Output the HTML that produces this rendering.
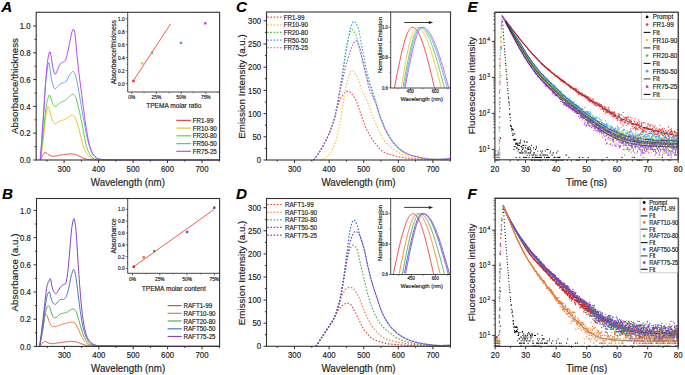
<!DOCTYPE html>
<html><head><meta charset="utf-8"><style>html,body{margin:0;padding:0;background:#fff;width:685px;height:375px;overflow:hidden}svg{display:block}text{font-family:"Liberation Sans",sans-serif;stroke:#222;stroke-width:0.16px;paint-order:stroke}</style></head>
<body><svg width="685" height="375" viewBox="0 0 685 375" font-family="Liberation Sans, sans-serif"><path d="M40.3,160 41,158.5 41.7,157.1 42.4,155.8 43.1,154.7 43.8,153.5 44.5,152.5 45.2,152.2 45.9,152.6 46.7,153.1 47.4,153.7 48.1,154.4 48.8,155 49.5,155.5 50.2,155.7 50.9,155.9 51.6,156.1 52.3,156.2 53,156.2 53.7,156.2 54.4,156.2 55.1,156.1 55.8,156 56.5,155.8 57.2,155.7 57.9,155.6 58.6,155.5 59.3,155.3 60,155.2 60.7,155.1 61.4,154.9 62.1,154.8 62.8,154.7 63.5,154.6 64.2,154.5 64.9,154.4 65.6,154.3 66.3,154.2 67,154.2 67.7,154.1 68.4,154 69.1,154 69.8,153.9 70.5,153.9 71.2,153.8 71.9,153.9 72.6,153.9 73.3,154 74,154.2 74.7,154.3 75.4,154.5 76.1,154.7 76.8,155 77.5,155.3 78.2,155.6 78.9,155.9 79.6,156.3 80.3,156.7 81,157 81.7,157.4 82.4,157.7 83.1,158 83.8,158.4 84.5,158.6 85.2,158.9 85.9,159 86.6,159.2 87.3,159.3 88,159.4 88.8,159.5 89.5,159.6 90.2,159.7 90.9,159.7 91.6,159.7 92.3,159.8 93,159.8 93.7,159.8 94.4,159.8 95.1,159.8 95.8,159.8 96.5,159.9 97.2,159.9 97.9,159.9 98.6,159.9 99.3,159.9 100,159.9 100.7,159.9 101.4,159.9 102.1,159.9 102.8,159.9 103.5,159.9 104.2,159.9 104.9,159.9 105.6,159.9 106.3,159.9 107,159.9 107.7,159.9 108.4,159.9 109.1,159.9 109.8,159.9 110.5,159.9 111.2,159.9 111.9,159.9 112.6,159.9 113.3,159.9 114,159.9 114.7,159.9 115.4,159.9 116.1,159.9 116.8,159.9 117.5,159.9 118.2,160 118.9,160 119.6,160 120.3,160 121,160 121.7,160 122.4,160 123.1,160 123.8,160 124.5,160 125.2,160 125.9,160 126.6,160 127.3,160 128,160 128.7,160 129.4,160 130.1,160 130.8,160 131.6,160 132.3,160 133,160 133.7,160 134.4,160 135.1,160 135.8,160 136.5,160 137.2,160 137.9,160 138.6,160 139.3,160 140,160 140.7,160 141.4,160 142.1,160 142.8,160 143.5,160 144.2,160 144.9,160 145.6,160 146.3,160 147,160 147.7,160 148.4,160 149.1,160 149.8,160 150.5,160 151.2,160 151.9,160 152.6,160 153.3,160 154,160 154.7,160 155.4,160 156.1,160 156.8,160 157.5,160 158.2,160 158.9,160 159.6,160 160.3,160 161,160 161.7,160 162.4,160 163.1,160 163.8,160 164.5,160 165.2,160 165.9,160 166.6,160 167.3,160 168,160 168.7,160 169.4,160 170.1,160 170.8,160 171.5,160 172.2,160 172.9,160 173.6,160 174.4,160 175.1,160 175.8,160 176.5,160 177.2,160 177.9,160 178.6,160 179.3,160 180,160 180.7,160 181.4,160 182.1,160 182.8,160 183.5,160 184.2,160 184.9,160 185.6,160 186.3,160 187,160 187.7,160 188.4,160 189.1,160 189.8,160 190.5,160 191.2,160 191.9,160 192.6,160 193.3,160 194,160 194.7,160 195.4,160 196.1,160 196.8,160 197.5,160 198.2,160 198.9,160 199.6,160 200.3,160 201,160 201.7,160 202.4,160 203.1,160 203.8,160 204.5,160 205.2,160 205.9,160 206.6,160 207.3,160 208,160 208.7,160 209.4,160 210.1,160 210.8,160 211.5,160 212.2,160 212.9,160 213.6,160 214.3,160 215,160 215.7,160 216.4,160 217.2,160 217.9,160 218.6,160 219.3,160" fill="none" stroke="#ef4444" stroke-width="1.0" stroke-linejoin="round"/><path d="M40.3,160 41,155.9 41.7,151.3 42.4,146.3 43.1,140.9 43.8,134.9 44.5,127.6 45.2,120.5 45.9,115.2 46.7,110.8 47.4,107.4 48.1,106.4 48.8,107.7 49.5,109.9 50.2,112.3 50.9,115.4 51.6,118.4 52.3,120.2 53,121.5 53.7,122.7 54.4,123.5 55.1,123.8 55.8,123.7 56.5,123.2 57.2,122.6 57.9,122 58.6,121.6 59.3,121.3 60,121 60.7,120.7 61.4,120.5 62.1,120.3 62.8,120.1 63.5,120 64.2,119.8 64.9,119.5 65.6,119.1 66.3,118.6 67,118.2 67.7,117.7 68.4,117.2 69.1,116.6 69.8,116.1 70.5,115.7 71.2,115.3 71.9,115 72.6,115 73.3,115.3 74,116 74.7,116.7 75.4,118 76.1,119.7 76.8,121.6 77.5,123.7 78.2,126 78.9,128.7 79.6,131.7 80.3,134.6 81,137.5 81.7,140.6 82.4,143.5 83.1,145.8 83.8,147.7 84.5,149.5 85.2,151 85.9,152.3 86.6,153.5 87.3,154.5 88,155.4 88.8,156.2 89.5,156.9 90.2,157.4 90.9,157.9 91.6,158.3 92.3,158.6 93,158.9 93.7,159.1 94.4,159.2 95.1,159.3 95.8,159.4 96.5,159.5 97.2,159.6 97.9,159.7 98.6,159.7 99.3,159.8 100,159.8 100.7,159.8 101.4,159.9 102.1,159.9 102.8,159.9 103.5,159.9 104.2,159.9 104.9,159.9 105.6,159.9 106.3,159.9 107,159.9 107.7,159.9 108.4,159.9 109.1,159.9 109.8,159.9 110.5,159.9 111.2,159.9 111.9,159.9 112.6,159.9 113.3,159.9 114,159.9 114.7,159.9 115.4,159.9 116.1,159.9 116.8,159.9 117.5,159.9 118.2,159.9 118.9,159.9 119.6,159.9 120.3,159.9 121,159.9 121.7,159.9 122.4,159.9 123.1,159.9 123.8,159.9 124.5,159.9 125.2,159.9 125.9,159.9 126.6,159.9 127.3,159.9 128,159.9 128.7,159.9 129.4,159.9 130.1,159.9 130.8,159.9 131.6,159.9 132.3,159.9 133,159.9 133.7,159.9 134.4,159.9 135.1,159.9 135.8,159.9 136.5,159.9 137.2,159.9 137.9,160 138.6,160 139.3,160 140,160 140.7,160 141.4,160 142.1,160 142.8,160 143.5,160 144.2,160 144.9,160 145.6,160 146.3,160 147,160 147.7,160 148.4,160 149.1,160 149.8,160 150.5,160 151.2,160 151.9,160 152.6,160 153.3,160 154,160 154.7,160 155.4,160 156.1,160 156.8,160 157.5,160 158.2,160 158.9,160 159.6,160 160.3,160 161,160 161.7,160 162.4,160 163.1,160 163.8,160 164.5,160 165.2,160 165.9,160 166.6,160 167.3,160 168,160 168.7,160 169.4,160 170.1,160 170.8,160 171.5,160 172.2,160 172.9,160 173.6,160 174.4,160 175.1,160 175.8,160 176.5,160 177.2,160 177.9,160 178.6,160 179.3,160 180,160 180.7,160 181.4,160 182.1,160 182.8,160 183.5,160 184.2,160 184.9,160 185.6,160 186.3,160 187,160 187.7,160 188.4,160 189.1,160 189.8,160 190.5,160 191.2,160 191.9,160 192.6,160 193.3,160 194,160 194.7,160 195.4,160 196.1,160 196.8,160 197.5,160 198.2,160 198.9,160 199.6,160 200.3,160 201,160 201.7,160 202.4,160 203.1,160 203.8,160 204.5,160 205.2,160 205.9,160 206.6,160 207.3,160 208,160 208.7,160 209.4,160 210.1,160 210.8,160 211.5,160 212.2,160 212.9,160 213.6,160 214.3,160 215,160 215.7,160 216.4,160 217.2,160 217.9,160 218.6,160 219.3,160" fill="none" stroke="#f0c024" stroke-width="1.0" stroke-linejoin="round"/><path d="M40.3,160 41,153.5 41.7,147.1 42.4,140.7 43.1,134.5 43.8,128.1 44.5,121.2 45.2,114.3 45.9,108.2 46.7,103.5 47.4,100.4 48.1,97.7 48.8,95.7 49.5,94.9 50.2,95.8 50.9,98.1 51.6,100.2 52.3,102.3 53,104.4 53.7,105.6 54.4,106 55.1,106.3 55.8,106.4 56.5,106.2 57.2,105.6 57.9,104.8 58.6,104 59.3,103.5 60,102.9 60.7,102.4 61.4,102 62.1,101.7 62.8,101.5 63.5,101.3 64.2,101 64.9,100.6 65.6,100.1 66.3,99.5 67,98.9 67.7,98.2 68.4,97.5 69.1,96.8 69.8,96.1 70.5,95.5 71.2,95 71.9,94.6 72.6,94.3 73.3,94.5 74,95 74.7,95.8 75.4,96.8 76.1,98.5 76.8,100.9 77.5,103.6 78.2,106.2 78.9,109.2 79.6,112.4 80.3,115.7 81,119.2 81.7,122.6 82.4,126.1 83.1,129.9 83.8,133.9 84.5,137.7 85.2,141.3 85.9,144.3 86.6,146.7 87.3,148.8 88,150.8 88.8,152.4 89.5,153.8 90.2,154.9 90.9,155.8 91.6,156.6 92.3,157.3 93,157.9 93.7,158.4 94.4,158.8 95.1,159 95.8,159.1 96.5,159.3 97.2,159.4 97.9,159.5 98.6,159.6 99.3,159.7 100,159.8 100.7,159.8 101.4,159.9 102.1,159.9 102.8,159.9 103.5,159.9 104.2,159.9 104.9,159.9 105.6,159.9 106.3,159.9 107,159.9 107.7,159.9 108.4,159.9 109.1,159.9 109.8,159.9 110.5,159.9 111.2,159.9 111.9,159.9 112.6,159.9 113.3,159.9 114,159.9 114.7,159.9 115.4,159.9 116.1,159.9 116.8,159.9 117.5,159.9 118.2,159.9 118.9,159.9 119.6,159.9 120.3,159.9 121,159.9 121.7,159.9 122.4,159.9 123.1,159.9 123.8,159.9 124.5,159.9 125.2,159.9 125.9,159.9 126.6,159.9 127.3,159.9 128,159.9 128.7,159.9 129.4,159.9 130.1,159.9 130.8,159.9 131.6,159.9 132.3,159.9 133,159.9 133.7,159.9 134.4,159.9 135.1,159.9 135.8,159.9 136.5,159.9 137.2,159.9 137.9,160 138.6,160 139.3,160 140,160 140.7,160 141.4,160 142.1,160 142.8,160 143.5,160 144.2,160 144.9,160 145.6,160 146.3,160 147,160 147.7,160 148.4,160 149.1,160 149.8,160 150.5,160 151.2,160 151.9,160 152.6,160 153.3,160 154,160 154.7,160 155.4,160 156.1,160 156.8,160 157.5,160 158.2,160 158.9,160 159.6,160 160.3,160 161,160 161.7,160 162.4,160 163.1,160 163.8,160 164.5,160 165.2,160 165.9,160 166.6,160 167.3,160 168,160 168.7,160 169.4,160 170.1,160 170.8,160 171.5,160 172.2,160 172.9,160 173.6,160 174.4,160 175.1,160 175.8,160 176.5,160 177.2,160 177.9,160 178.6,160 179.3,160 180,160 180.7,160 181.4,160 182.1,160 182.8,160 183.5,160 184.2,160 184.9,160 185.6,160 186.3,160 187,160 187.7,160 188.4,160 189.1,160 189.8,160 190.5,160 191.2,160 191.9,160 192.6,160 193.3,160 194,160 194.7,160 195.4,160 196.1,160 196.8,160 197.5,160 198.2,160 198.9,160 199.6,160 200.3,160 201,160 201.7,160 202.4,160 203.1,160 203.8,160 204.5,160 205.2,160 205.9,160 206.6,160 207.3,160 208,160 208.7,160 209.4,160 210.1,160 210.8,160 211.5,160 212.2,160 212.9,160 213.6,160 214.3,160 215,160 215.7,160 216.4,160 217.2,160 217.9,160 218.6,160 219.3,160" fill="none" stroke="#5ed24a" stroke-width="1.0" stroke-linejoin="round"/><path d="M40.3,160 41,150.5 41.7,140.9 42.4,131.2 43.1,121.3 43.8,111 44.5,99.4 45.2,88.1 45.9,79.2 46.7,73.3 47.4,68.1 48.1,64.1 48.8,62.4 49.5,64.7 50.2,70.3 50.9,76 51.6,79.6 52.3,82.8 53,85.3 53.7,87 54.4,88.5 55.1,89 55.8,88.6 56.5,87.9 57.2,87.1 57.9,86.3 58.6,85.6 59.3,84.8 60,84.1 60.7,83.6 61.4,83.4 62.1,83.2 62.8,83 63.5,82.8 64.2,82.5 64.9,82.2 65.6,81.8 66.3,81.1 67,80 67.7,78.6 68.4,77.1 69.1,75.8 69.8,74.8 70.5,73.8 71.2,72.8 71.9,72 72.6,71.6 73.3,71.7 74,72.3 74.7,73.4 75.4,74.8 76.1,77.3 76.8,80.6 77.5,84.3 78.2,87.9 78.9,91.8 79.6,96 80.3,100.3 81,104.5 81.7,108.5 82.4,112.5 83.1,116.5 83.8,120.5 84.5,124.3 85.2,127.9 85.9,131.4 86.6,134.8 87.3,138.2 88,141.4 88.8,144.3 89.5,146.7 90.2,148.7 90.9,150.5 91.6,152.2 92.3,153.6 93,154.7 93.7,155.6 94.4,156.3 95.1,157 95.8,157.6 96.5,158.1 97.2,158.5 97.9,158.8 98.6,159 99.3,159.2 100,159.3 100.7,159.4 101.4,159.5 102.1,159.6 102.8,159.7 103.5,159.8 104.2,159.8 104.9,159.9 105.6,159.9 106.3,159.9 107,159.9 107.7,159.9 108.4,159.9 109.1,159.9 109.8,159.9 110.5,159.9 111.2,159.9 111.9,159.9 112.6,159.9 113.3,159.9 114,159.9 114.7,159.9 115.4,159.9 116.1,159.9 116.8,159.9 117.5,159.9 118.2,159.9 118.9,159.9 119.6,159.9 120.3,159.9 121,159.9 121.7,159.9 122.4,159.9 123.1,159.9 123.8,159.9 124.5,159.9 125.2,159.9 125.9,159.9 126.6,159.9 127.3,159.9 128,159.9 128.7,159.9 129.4,159.9 130.1,159.9 130.8,159.9 131.6,159.9 132.3,159.9 133,159.9 133.7,159.9 134.4,159.9 135.1,159.9 135.8,159.9 136.5,159.9 137.2,159.9 137.9,159.9 138.6,159.9 139.3,159.9 140,160 140.7,160 141.4,160 142.1,160 142.8,160 143.5,160 144.2,160 144.9,160 145.6,160 146.3,160 147,160 147.7,160 148.4,160 149.1,160 149.8,160 150.5,160 151.2,160 151.9,160 152.6,160 153.3,160 154,160 154.7,160 155.4,160 156.1,160 156.8,160 157.5,160 158.2,160 158.9,160 159.6,160 160.3,160 161,160 161.7,160 162.4,160 163.1,160 163.8,160 164.5,160 165.2,160 165.9,160 166.6,160 167.3,160 168,160 168.7,160 169.4,160 170.1,160 170.8,160 171.5,160 172.2,160 172.9,160 173.6,160 174.4,160 175.1,160 175.8,160 176.5,160 177.2,160 177.9,160 178.6,160 179.3,160 180,160 180.7,160 181.4,160 182.1,160 182.8,160 183.5,160 184.2,160 184.9,160 185.6,160 186.3,160 187,160 187.7,160 188.4,160 189.1,160 189.8,160 190.5,160 191.2,160 191.9,160 192.6,160 193.3,160 194,160 194.7,160 195.4,160 196.1,160 196.8,160 197.5,160 198.2,160 198.9,160 199.6,160 200.3,160 201,160 201.7,160 202.4,160 203.1,160 203.8,160 204.5,160 205.2,160 205.9,160 206.6,160 207.3,160 208,160 208.7,160 209.4,160 210.1,160 210.8,160 211.5,160 212.2,160 212.9,160 213.6,160 214.3,160 215,160 215.7,160 216.4,160 217.2,160 217.9,160 218.6,160 219.3,160" fill="none" stroke="#62a8f2" stroke-width="1.0" stroke-linejoin="round"/><path d="M40.3,160 41,150.5 41.7,140.8 42.4,130.9 43.1,120.7 43.8,109.8 44.5,99.1 45.2,89.1 45.9,79.2 46.7,69.7 47.4,62.4 48.1,57.9 48.8,54.1 49.5,51.8 50.2,52 50.9,55.3 51.6,59.2 52.3,64 53,68.3 53.7,71 54.4,73.2 55.1,74.2 55.8,73.8 56.5,72.4 57.2,70.6 57.9,68.9 58.6,67.4 59.3,65.8 60,64.4 60.7,63.5 61.4,63 62.1,62.7 62.8,62.3 63.5,61.9 64.2,61.6 64.9,61.1 65.6,60.1 66.3,57.9 67,55.1 67.7,52.3 68.4,49 69.1,45.5 69.8,41.9 70.5,38.6 71.2,35.2 71.9,32.1 72.6,30.2 73.3,29 74,29.8 74.7,32.3 75.4,37.1 76.1,45.1 76.8,53.7 77.5,60.5 78.2,66.6 78.9,72.5 79.6,78.2 80.3,83.8 81,89.2 81.7,94.6 82.4,100 83.1,105.6 83.8,111.1 84.5,116.5 85.2,121.5 85.9,126 86.6,130.4 87.3,134.7 88,138.7 88.8,142.2 89.5,145 90.2,147.3 90.9,149.4 91.6,151.2 92.3,152.7 93,154 93.7,154.9 94.4,155.8 95.1,156.5 95.8,157.2 96.5,157.8 97.2,158.2 97.9,158.5 98.6,158.7 99.3,158.9 100,159.1 100.7,159.2 101.4,159.3 102.1,159.5 102.8,159.6 103.5,159.6 104.2,159.7 104.9,159.7 105.6,159.7 106.3,159.7 107,159.7 107.7,159.7 108.4,159.8 109.1,159.8 109.8,159.8 110.5,159.8 111.2,159.8 111.9,159.8 112.6,159.8 113.3,159.8 114,159.8 114.7,159.8 115.4,159.8 116.1,159.8 116.8,159.8 117.5,159.8 118.2,159.8 118.9,159.8 119.6,159.8 120.3,159.8 121,159.8 121.7,159.8 122.4,159.8 123.1,159.8 123.8,159.8 124.5,159.8 125.2,159.8 125.9,159.8 126.6,159.8 127.3,159.9 128,159.9 128.7,159.9 129.4,159.9 130.1,159.9 130.8,159.9 131.6,159.9 132.3,159.9 133,159.9 133.7,159.9 134.4,159.9 135.1,159.9 135.8,159.9 136.5,159.9 137.2,159.9 137.9,159.9 138.6,159.9 139.3,159.9 140,159.9 140.7,159.9 141.4,159.9 142.1,159.9 142.8,159.9 143.5,159.9 144.2,159.9 144.9,159.9 145.6,159.9 146.3,159.9 147,159.9 147.7,159.9 148.4,159.9 149.1,159.9 149.8,159.9 150.5,159.9 151.2,159.9 151.9,159.9 152.6,159.9 153.3,159.9 154,159.9 154.7,159.9 155.4,159.9 156.1,159.9 156.8,159.9 157.5,159.9 158.2,159.9 158.9,160 159.6,160 160.3,160 161,160 161.7,160 162.4,160 163.1,160 163.8,160 164.5,160 165.2,160 165.9,160 166.6,160 167.3,160 168,160 168.7,160 169.4,160 170.1,160 170.8,160 171.5,160 172.2,160 172.9,160 173.6,160 174.4,160 175.1,160 175.8,160 176.5,160 177.2,160 177.9,160 178.6,160 179.3,160 180,160 180.7,160 181.4,160 182.1,160 182.8,160 183.5,160 184.2,160 184.9,160 185.6,160 186.3,160 187,160 187.7,160 188.4,160 189.1,160 189.8,160 190.5,160 191.2,160 191.9,160 192.6,160 193.3,160 194,160 194.7,160 195.4,160 196.1,160 196.8,160 197.5,160 198.2,160 198.9,160 199.6,160 200.3,160 201,160 201.7,160 202.4,160 203.1,160 203.8,160 204.5,160 205.2,160 205.9,160 206.6,160 207.3,160 208,160 208.7,160 209.4,160 210.1,160 210.8,160 211.5,160 212.2,160 212.9,160 213.6,160 214.3,160 215,160 215.7,160 216.4,160 217.2,160 217.9,160 218.6,160 219.3,160" fill="none" stroke="#b94cf5" stroke-width="1.0" stroke-linejoin="round"/><rect x="36.2" y="12.3" width="183.4" height="147.7" fill="none" stroke="#333" stroke-width="1.1"/><line x1="46.9" y1="160" x2="46.9" y2="161.6" stroke="#333" stroke-width="1"/><line x1="81.4" y1="160" x2="81.4" y2="161.6" stroke="#333" stroke-width="1"/><line x1="115.8" y1="160" x2="115.8" y2="161.6" stroke="#333" stroke-width="1"/><line x1="150.3" y1="160" x2="150.3" y2="161.6" stroke="#333" stroke-width="1"/><line x1="184.8" y1="160" x2="184.8" y2="161.6" stroke="#333" stroke-width="1"/><line x1="219.3" y1="160" x2="219.3" y2="161.6" stroke="#333" stroke-width="1"/><line x1="64.1" y1="160" x2="64.1" y2="163" stroke="#333" stroke-width="1"/><line x1="98.6" y1="160" x2="98.6" y2="163" stroke="#333" stroke-width="1"/><line x1="133.1" y1="160" x2="133.1" y2="163" stroke="#333" stroke-width="1"/><line x1="167.5" y1="160" x2="167.5" y2="163" stroke="#333" stroke-width="1"/><line x1="202" y1="160" x2="202" y2="163" stroke="#333" stroke-width="1"/><text font-size="7.8" fill="#222" text-anchor="middle" transform="translate(64.1 171.9) scale(1 1.12)">300</text><text font-size="7.8" fill="#222" text-anchor="middle" transform="translate(98.6 171.9) scale(1 1.12)">400</text><text font-size="7.8" fill="#222" text-anchor="middle" transform="translate(133.1 171.9) scale(1 1.12)">500</text><text font-size="7.8" fill="#222" text-anchor="middle" transform="translate(167.5 171.9) scale(1 1.12)">600</text><text font-size="7.8" fill="#222" text-anchor="middle" transform="translate(202 171.9) scale(1 1.12)">700</text><line x1="34.6" y1="146.6" x2="36.2" y2="146.6" stroke="#333" stroke-width="1"/><line x1="34.6" y1="119.8" x2="36.2" y2="119.8" stroke="#333" stroke-width="1"/><line x1="34.6" y1="93" x2="36.2" y2="93" stroke="#333" stroke-width="1"/><line x1="34.6" y1="66.2" x2="36.2" y2="66.2" stroke="#333" stroke-width="1"/><line x1="34.6" y1="39.4" x2="36.2" y2="39.4" stroke="#333" stroke-width="1"/><line x1="33.2" y1="160" x2="36.2" y2="160" stroke="#333" stroke-width="1"/><line x1="33.2" y1="133.2" x2="36.2" y2="133.2" stroke="#333" stroke-width="1"/><line x1="33.2" y1="106.4" x2="36.2" y2="106.4" stroke="#333" stroke-width="1"/><line x1="33.2" y1="79.6" x2="36.2" y2="79.6" stroke="#333" stroke-width="1"/><line x1="33.2" y1="52.8" x2="36.2" y2="52.8" stroke="#333" stroke-width="1"/><line x1="33.2" y1="26" x2="36.2" y2="26" stroke="#333" stroke-width="1"/><text font-size="7.8" fill="#222" text-anchor="end" transform="translate(30.6 163.1) scale(1 1.12)">0.0</text><text font-size="7.8" fill="#222" text-anchor="end" transform="translate(30.6 136.3) scale(1 1.12)">0.2</text><text font-size="7.8" fill="#222" text-anchor="end" transform="translate(30.6 109.5) scale(1 1.12)">0.4</text><text font-size="7.8" fill="#222" text-anchor="end" transform="translate(30.6 82.7) scale(1 1.12)">0.6</text><text font-size="7.8" fill="#222" text-anchor="end" transform="translate(30.6 55.9) scale(1 1.12)">0.8</text><text font-size="7.8" fill="#222" text-anchor="end" transform="translate(30.6 29.1) scale(1 1.12)">1.0</text><text font-size="9.8" fill="#222" text-anchor="middle" transform="translate(17.6 86) rotate(-90)">Absorbance/thickness</text><text font-size="9.8" fill="#222" text-anchor="middle" transform="translate(127.9 185.9) scale(1 1.12)">Wavelength (nm)</text><text font-size="15.2" fill="#000" font-weight="bold" font-style="italic" transform="translate(1.2 12.4) scale(1 1.0)">A</text><line x1="176.4" y1="120.4" x2="190.9" y2="120.4" stroke="#ef4444" stroke-width="1.2"/><text font-size="6.2" fill="#222" transform="translate(192.7 122.9) scale(1 1.12)">FR1-99</text><line x1="176.4" y1="128.1" x2="190.9" y2="128.1" stroke="#f0c024" stroke-width="1.2"/><text font-size="6.2" fill="#222" transform="translate(192.7 130.6) scale(1 1.12)">FR10-90</text><line x1="176.4" y1="135.8" x2="190.9" y2="135.8" stroke="#5ed24a" stroke-width="1.2"/><text font-size="6.2" fill="#222" transform="translate(192.7 138.3) scale(1 1.12)">FR20-80</text><line x1="176.4" y1="143.6" x2="190.9" y2="143.6" stroke="#62a8f2" stroke-width="1.2"/><text font-size="6.2" fill="#222" transform="translate(192.7 146) scale(1 1.12)">FR50-50</text><line x1="176.4" y1="151.3" x2="190.9" y2="151.3" stroke="#b94cf5" stroke-width="1.2"/><text font-size="6.2" fill="#222" transform="translate(192.7 153.8) scale(1 1.12)">FR75-25</text><path d="M39.6,346.4 40.3,345.5 41,344.7 41.7,344 42.4,343.3 43.1,342.5 43.8,341.8 44.5,341.4 45.2,341.4 45.9,341.7 46.6,342.1 47.3,342.4 48,342.7 48.7,343 49.4,343.3 50.1,343.4 50.8,343.5 51.5,343.6 52.2,343.6 52.9,343.7 53.6,343.7 54.3,343.6 55,343.5 55.7,343.3 56.4,343.2 57.1,343.1 57.8,342.9 58.5,342.9 59.2,342.8 59.9,342.7 60.7,342.6 61.4,342.5 62.1,342.4 62.8,342.3 63.5,342.2 64.2,342.1 64.9,342 65.6,341.9 66.3,341.8 67,341.7 67.7,341.7 68.4,341.6 69.1,341.5 69.8,341.4 70.5,341.4 71.2,341.4 71.9,341.4 72.6,341.4 73.3,341.5 74,341.6 74.7,341.6 75.4,341.8 76.1,341.9 76.8,342.1 77.5,342.4 78.2,342.6 78.9,342.9 79.6,343.1 80.3,343.4 81,343.7 81.7,344 82.4,344.2 83.1,344.5 83.8,344.7 84.5,344.9 85.2,345.1 85.9,345.2 86.6,345.4 87.3,345.5 88,345.6 88.7,345.7 89.4,345.8 90.1,345.9 90.8,345.9 91.5,346 92.2,346 92.9,346 93.6,346.1 94.3,346.1 95,346.2 95.7,346.2 96.4,346.2 97.1,346.2 97.8,346.3 98.5,346.3 99.2,346.3 100,346.3 100.7,346.3 101.4,346.3 102.1,346.3 102.8,346.3 103.5,346.3 104.2,346.3 104.9,346.3 105.6,346.3 106.3,346.3 107,346.3 107.7,346.3 108.4,346.3 109.1,346.3 109.8,346.3 110.5,346.3 111.2,346.3 111.9,346.3 112.6,346.3 113.3,346.3 114,346.3 114.7,346.3 115.4,346.3 116.1,346.3 116.8,346.3 117.5,346.3 118.2,346.3 118.9,346.3 119.6,346.3 120.3,346.3 121,346.3 121.7,346.3 122.4,346.3 123.1,346.3 123.8,346.3 124.5,346.3 125.2,346.3 125.9,346.3 126.6,346.3 127.3,346.3 128,346.3 128.7,346.3 129.4,346.3 130.1,346.3 130.8,346.3 131.5,346.3 132.2,346.3 132.9,346.3 133.6,346.3 134.3,346.3 135,346.3 135.7,346.3 136.4,346.3 137.1,346.4 137.8,346.4 138.5,346.4 139.3,346.4 140,346.4 140.7,346.4 141.4,346.4 142.1,346.4 142.8,346.4 143.5,346.4 144.2,346.4 144.9,346.4 145.6,346.4 146.3,346.4 147,346.4 147.7,346.4 148.4,346.4 149.1,346.4 149.8,346.4 150.5,346.4 151.2,346.4 151.9,346.4 152.6,346.4 153.3,346.4 154,346.4 154.7,346.4 155.4,346.4 156.1,346.4 156.8,346.4 157.5,346.4 158.2,346.4 158.9,346.4 159.6,346.4 160.3,346.4 161,346.4 161.7,346.4 162.4,346.4 163.1,346.4 163.8,346.4 164.5,346.4 165.2,346.4 165.9,346.4 166.6,346.4 167.3,346.4 168,346.4 168.7,346.4 169.4,346.4 170.1,346.4 170.8,346.4 171.5,346.4 172.2,346.4 172.9,346.4 173.6,346.4 174.3,346.4 175,346.4 175.7,346.4 176.4,346.4 177.1,346.4 177.9,346.4 178.6,346.4 179.3,346.4 180,346.4 180.7,346.4 181.4,346.4 182.1,346.4 182.8,346.4 183.5,346.4 184.2,346.4 184.9,346.4 185.6,346.4 186.3,346.4 187,346.4 187.7,346.4 188.4,346.4 189.1,346.4 189.8,346.4 190.5,346.4 191.2,346.4 191.9,346.4 192.6,346.4 193.3,346.4 194,346.4 194.7,346.4 195.4,346.4 196.1,346.4 196.8,346.4 197.5,346.4 198.2,346.4 198.9,346.4 199.6,346.4 200.3,346.4 201,346.4 201.7,346.4 202.4,346.4 203.1,346.4 203.8,346.4 204.5,346.4 205.2,346.4 205.9,346.4 206.6,346.4 207.3,346.4 208,346.4 208.7,346.4 209.4,346.4 210.1,346.4 210.8,346.4 211.5,346.4 212.2,346.4 212.9,346.4 213.6,346.4 214.3,346.4 215,346.4 215.7,346.4 216.4,346.4 217.2,346.4 217.9,346.4 218.6,346.4 219.3,346.4" fill="none" stroke="#e64a3c" stroke-width="1.0" stroke-linejoin="round"/><path d="M39.6,346.4 40.3,342.4 41,338.3 41.7,334.1 42.4,329.7 43.1,324.5 43.8,319.3 44.5,316.2 45.2,314.7 45.9,314.2 46.6,314.9 47.3,316.1 48,318.1 48.7,320.5 49.4,322.3 50.1,323.7 50.8,324.8 51.5,325.5 52.2,326.1 52.9,326.5 53.6,326.5 54.3,326.5 55,326.4 55.7,326.3 56.4,326.2 57.1,326 57.8,325.8 58.5,325.5 59.2,325.3 59.9,325.1 60.7,324.9 61.4,324.6 62.1,324.4 62.8,324.2 63.5,324 64.2,323.8 64.9,323.6 65.6,323.4 66.3,323.2 67,323 67.7,322.8 68.4,322.6 69.1,322.4 69.8,322.3 70.5,322.3 71.2,322.2 71.9,322.2 72.6,322.2 73.3,322.4 74,322.7 74.7,323 75.4,323.6 76.1,324.7 76.8,326 77.5,327.4 78.2,328.8 78.9,330.3 79.6,331.9 80.3,333.5 81,335 81.7,336.4 82.4,337.7 83.1,338.9 83.8,340.1 84.5,341 85.2,341.8 85.9,342.5 86.6,343.2 87.3,343.7 88,344.2 88.7,344.6 89.4,344.9 90.1,345.1 90.8,345.3 91.5,345.5 92.2,345.6 92.9,345.8 93.6,345.9 94.3,345.9 95,346 95.7,346 96.4,346 97.1,346 97.8,346 98.5,346 99.2,346 100,346 100.7,346 101.4,346 102.1,346.1 102.8,346.1 103.5,346.1 104.2,346.1 104.9,346.1 105.6,346.1 106.3,346.1 107,346.1 107.7,346.1 108.4,346.1 109.1,346.1 109.8,346.1 110.5,346.1 111.2,346.1 111.9,346.1 112.6,346.1 113.3,346.1 114,346.1 114.7,346.1 115.4,346.1 116.1,346.2 116.8,346.2 117.5,346.2 118.2,346.2 118.9,346.2 119.6,346.2 120.3,346.2 121,346.2 121.7,346.2 122.4,346.2 123.1,346.2 123.8,346.2 124.5,346.2 125.2,346.2 125.9,346.2 126.6,346.2 127.3,346.2 128,346.2 128.7,346.2 129.4,346.2 130.1,346.2 130.8,346.2 131.5,346.2 132.2,346.2 132.9,346.2 133.6,346.3 134.3,346.3 135,346.3 135.7,346.3 136.4,346.3 137.1,346.3 137.8,346.3 138.5,346.3 139.3,346.3 140,346.3 140.7,346.3 141.4,346.3 142.1,346.3 142.8,346.3 143.5,346.3 144.2,346.3 144.9,346.3 145.6,346.3 146.3,346.3 147,346.3 147.7,346.3 148.4,346.3 149.1,346.3 149.8,346.3 150.5,346.3 151.2,346.3 151.9,346.3 152.6,346.3 153.3,346.3 154,346.3 154.7,346.3 155.4,346.3 156.1,346.3 156.8,346.3 157.5,346.3 158.2,346.3 158.9,346.3 159.6,346.3 160.3,346.3 161,346.3 161.7,346.3 162.4,346.4 163.1,346.4 163.8,346.4 164.5,346.4 165.2,346.4 165.9,346.4 166.6,346.4 167.3,346.4 168,346.4 168.7,346.4 169.4,346.4 170.1,346.4 170.8,346.4 171.5,346.4 172.2,346.4 172.9,346.4 173.6,346.4 174.3,346.4 175,346.4 175.7,346.4 176.4,346.4 177.1,346.4 177.9,346.4 178.6,346.4 179.3,346.4 180,346.4 180.7,346.4 181.4,346.4 182.1,346.4 182.8,346.4 183.5,346.4 184.2,346.4 184.9,346.4 185.6,346.4 186.3,346.4 187,346.4 187.7,346.4 188.4,346.4 189.1,346.4 189.8,346.4 190.5,346.4 191.2,346.4 191.9,346.4 192.6,346.4 193.3,346.4 194,346.4 194.7,346.4 195.4,346.4 196.1,346.4 196.8,346.4 197.5,346.4 198.2,346.4 198.9,346.4 199.6,346.4 200.3,346.4 201,346.4 201.7,346.4 202.4,346.4 203.1,346.4 203.8,346.4 204.5,346.4 205.2,346.4 205.9,346.4 206.6,346.4 207.3,346.4 208,346.4 208.7,346.4 209.4,346.4 210.1,346.4 210.8,346.4 211.5,346.4 212.2,346.4 212.9,346.4 213.6,346.4 214.3,346.4 215,346.4 215.7,346.4 216.4,346.4 217.2,346.4 217.9,346.4 218.6,346.4 219.3,346.4" fill="none" stroke="#f07a3c" stroke-width="1.0" stroke-linejoin="round"/><path d="M39.6,346.4 40.3,343.2 41,339.7 41.7,336.1 42.4,332.3 43.1,328.3 43.8,323.6 44.5,318.5 45.2,313.8 45.9,310.6 46.6,308 47.3,306.1 48,305.6 48.7,305.9 49.4,306.5 50.1,308.4 50.8,310.9 51.5,313 52.2,315 52.9,316.7 53.6,317.3 54.3,317.6 55,317.8 55.7,317.8 56.4,317.4 57.1,316.8 57.8,316.1 58.5,315.5 59.2,314.9 59.9,314.3 60.7,313.9 61.4,313.6 62.1,313.4 62.8,313.3 63.5,313.1 64.2,313 64.9,312.8 65.6,312.7 66.3,312.5 67,312.2 67.7,311.7 68.4,311.1 69.1,310.6 69.8,310.2 70.5,309.9 71.2,309.5 71.9,309.2 72.6,309 73.3,309 74,309.3 74.7,309.8 75.4,310.4 76.1,311.5 76.8,313.4 77.5,315.7 78.2,318 78.9,320.3 79.6,322.8 80.3,325.4 81,327.7 81.7,330 82.4,332.2 83.1,334.2 83.8,335.9 84.5,337.3 85.2,338.7 85.9,339.8 86.6,340.8 87.3,341.6 88,342.4 88.7,343.1 89.4,343.7 90.1,344.2 90.8,344.6 91.5,344.9 92.2,345.1 92.9,345.3 93.6,345.5 94.3,345.7 95,345.8 95.7,345.9 96.4,346 97.1,346 97.8,346 98.5,346 99.2,346 100,346 100.7,346 101.4,346 102.1,346 102.8,346 103.5,346 104.2,346.1 104.9,346.1 105.6,346.1 106.3,346.1 107,346.1 107.7,346.1 108.4,346.1 109.1,346.1 109.8,346.1 110.5,346.1 111.2,346.1 111.9,346.1 112.6,346.1 113.3,346.1 114,346.1 114.7,346.1 115.4,346.1 116.1,346.1 116.8,346.1 117.5,346.2 118.2,346.2 118.9,346.2 119.6,346.2 120.3,346.2 121,346.2 121.7,346.2 122.4,346.2 123.1,346.2 123.8,346.2 124.5,346.2 125.2,346.2 125.9,346.2 126.6,346.2 127.3,346.2 128,346.2 128.7,346.2 129.4,346.2 130.1,346.2 130.8,346.2 131.5,346.2 132.2,346.2 132.9,346.2 133.6,346.2 134.3,346.3 135,346.3 135.7,346.3 136.4,346.3 137.1,346.3 137.8,346.3 138.5,346.3 139.3,346.3 140,346.3 140.7,346.3 141.4,346.3 142.1,346.3 142.8,346.3 143.5,346.3 144.2,346.3 144.9,346.3 145.6,346.3 146.3,346.3 147,346.3 147.7,346.3 148.4,346.3 149.1,346.3 149.8,346.3 150.5,346.3 151.2,346.3 151.9,346.3 152.6,346.3 153.3,346.3 154,346.3 154.7,346.3 155.4,346.3 156.1,346.3 156.8,346.3 157.5,346.3 158.2,346.3 158.9,346.3 159.6,346.3 160.3,346.3 161,346.3 161.7,346.3 162.4,346.3 163.1,346.4 163.8,346.4 164.5,346.4 165.2,346.4 165.9,346.4 166.6,346.4 167.3,346.4 168,346.4 168.7,346.4 169.4,346.4 170.1,346.4 170.8,346.4 171.5,346.4 172.2,346.4 172.9,346.4 173.6,346.4 174.3,346.4 175,346.4 175.7,346.4 176.4,346.4 177.1,346.4 177.9,346.4 178.6,346.4 179.3,346.4 180,346.4 180.7,346.4 181.4,346.4 182.1,346.4 182.8,346.4 183.5,346.4 184.2,346.4 184.9,346.4 185.6,346.4 186.3,346.4 187,346.4 187.7,346.4 188.4,346.4 189.1,346.4 189.8,346.4 190.5,346.4 191.2,346.4 191.9,346.4 192.6,346.4 193.3,346.4 194,346.4 194.7,346.4 195.4,346.4 196.1,346.4 196.8,346.4 197.5,346.4 198.2,346.4 198.9,346.4 199.6,346.4 200.3,346.4 201,346.4 201.7,346.4 202.4,346.4 203.1,346.4 203.8,346.4 204.5,346.4 205.2,346.4 205.9,346.4 206.6,346.4 207.3,346.4 208,346.4 208.7,346.4 209.4,346.4 210.1,346.4 210.8,346.4 211.5,346.4 212.2,346.4 212.9,346.4 213.6,346.4 214.3,346.4 215,346.4 215.7,346.4 216.4,346.4 217.2,346.4 217.9,346.4 218.6,346.4 219.3,346.4" fill="none" stroke="#52b44a" stroke-width="1.0" stroke-linejoin="round"/><path d="M39.6,346.4 40.3,342.4 41,338.2 41.7,333.7 42.4,329 43.1,324.2 43.8,318.6 44.5,312.5 45.2,306.8 45.9,302.2 46.6,298.1 47.3,294.8 48,293.1 48.7,292.2 49.4,292.1 50.1,294.1 50.8,297.1 51.5,299.4 52.2,301.5 52.9,303.1 53.6,303.7 54.3,304 55,304.2 55.7,304.2 56.4,303.6 57.1,302.7 57.8,301.9 58.5,301.2 59.2,300.5 59.9,299.9 60.7,299.5 61.4,299.4 62.1,299.4 62.8,299.4 63.5,299.3 64.2,299 64.9,298.4 65.6,297.7 66.3,296.6 67,294.7 67.7,292.4 68.4,289.8 69.1,286.8 69.8,283 70.5,279.1 71.2,276 71.9,273.5 72.6,271.2 73.3,269.7 74,269.7 74.7,271.5 75.4,274.3 76.1,278.4 76.8,283.9 77.5,289.6 78.2,295.1 78.9,300.9 79.6,306.4 80.3,311.3 81,316 81.7,320.3 82.4,323.9 83.1,327.2 83.8,330.1 84.5,332.6 85.2,334.6 85.9,336.4 86.6,338 87.3,339.3 88,340.4 88.7,341.2 89.4,342 90.1,342.6 90.8,343.2 91.5,343.7 92.2,344.1 92.9,344.5 93.6,344.8 94.3,345 95,345.3 95.7,345.5 96.4,345.7 97.1,345.8 97.8,345.9 98.5,346 99.2,346 100,346 100.7,346 101.4,346 102.1,346 102.8,346 103.5,346 104.2,346 104.9,346 105.6,346.1 106.3,346.1 107,346.1 107.7,346.1 108.4,346.1 109.1,346.1 109.8,346.1 110.5,346.1 111.2,346.1 111.9,346.1 112.6,346.1 113.3,346.1 114,346.1 114.7,346.1 115.4,346.1 116.1,346.1 116.8,346.1 117.5,346.1 118.2,346.2 118.9,346.2 119.6,346.2 120.3,346.2 121,346.2 121.7,346.2 122.4,346.2 123.1,346.2 123.8,346.2 124.5,346.2 125.2,346.2 125.9,346.2 126.6,346.2 127.3,346.2 128,346.2 128.7,346.2 129.4,346.2 130.1,346.2 130.8,346.2 131.5,346.2 132.2,346.2 132.9,346.2 133.6,346.2 134.3,346.2 135,346.2 135.7,346.3 136.4,346.3 137.1,346.3 137.8,346.3 138.5,346.3 139.3,346.3 140,346.3 140.7,346.3 141.4,346.3 142.1,346.3 142.8,346.3 143.5,346.3 144.2,346.3 144.9,346.3 145.6,346.3 146.3,346.3 147,346.3 147.7,346.3 148.4,346.3 149.1,346.3 149.8,346.3 150.5,346.3 151.2,346.3 151.9,346.3 152.6,346.3 153.3,346.3 154,346.3 154.7,346.3 155.4,346.3 156.1,346.3 156.8,346.3 157.5,346.3 158.2,346.3 158.9,346.3 159.6,346.3 160.3,346.3 161,346.3 161.7,346.3 162.4,346.3 163.1,346.3 163.8,346.4 164.5,346.4 165.2,346.4 165.9,346.4 166.6,346.4 167.3,346.4 168,346.4 168.7,346.4 169.4,346.4 170.1,346.4 170.8,346.4 171.5,346.4 172.2,346.4 172.9,346.4 173.6,346.4 174.3,346.4 175,346.4 175.7,346.4 176.4,346.4 177.1,346.4 177.9,346.4 178.6,346.4 179.3,346.4 180,346.4 180.7,346.4 181.4,346.4 182.1,346.4 182.8,346.4 183.5,346.4 184.2,346.4 184.9,346.4 185.6,346.4 186.3,346.4 187,346.4 187.7,346.4 188.4,346.4 189.1,346.4 189.8,346.4 190.5,346.4 191.2,346.4 191.9,346.4 192.6,346.4 193.3,346.4 194,346.4 194.7,346.4 195.4,346.4 196.1,346.4 196.8,346.4 197.5,346.4 198.2,346.4 198.9,346.4 199.6,346.4 200.3,346.4 201,346.4 201.7,346.4 202.4,346.4 203.1,346.4 203.8,346.4 204.5,346.4 205.2,346.4 205.9,346.4 206.6,346.4 207.3,346.4 208,346.4 208.7,346.4 209.4,346.4 210.1,346.4 210.8,346.4 211.5,346.4 212.2,346.4 212.9,346.4 213.6,346.4 214.3,346.4 215,346.4 215.7,346.4 216.4,346.4 217.2,346.4 217.9,346.4 218.6,346.4 219.3,346.4" fill="none" stroke="#4a78c8" stroke-width="1.0" stroke-linejoin="round"/><path d="M39.6,346.4 40.3,341.2 41,335.7 41.7,330.2 42.4,324.5 43.1,318.6 43.8,312.4 44.5,305.8 45.2,299.5 45.9,293.8 46.6,288.3 47.3,284.7 48,282.8 48.7,281.5 49.4,279.9 50.1,278.6 50.8,279.5 51.5,284.1 52.2,287.4 52.9,289.6 53.6,291.3 54.3,292.4 55,293.3 55.7,293.8 56.4,293.4 57.1,292.4 57.8,291.2 58.5,290.1 59.2,289 59.9,287.9 60.7,286.9 61.4,286.1 62.1,285.4 62.8,284.9 63.5,284.5 64.2,284.3 64.9,284.1 65.6,283.7 66.3,281.5 67,277.5 67.7,272.7 68.4,266.6 69.1,258.3 69.8,249.7 70.5,241.6 71.2,233.4 71.9,227.2 72.6,222.9 73.3,219.6 74,218.6 74.7,220.9 75.4,225.5 76.1,231.4 76.8,241.3 77.5,253.1 78.2,264.2 78.9,274.3 79.6,284.2 80.3,293.1 81,301.3 81.7,308.8 82.4,314.8 83.1,319.8 83.8,324.2 84.5,327.9 85.2,330.8 85.9,333.3 86.6,335.5 87.3,337.4 88,338.9 88.7,340 89.4,340.9 90.1,341.7 90.8,342.4 91.5,343 92.2,343.6 92.9,344 93.6,344.4 94.3,344.7 95,345 95.7,345.2 96.4,345.5 97.1,345.6 97.8,345.8 98.5,345.8 99.2,345.9 100,345.9 100.7,345.9 101.4,345.9 102.1,345.9 102.8,345.9 103.5,345.9 104.2,345.9 104.9,345.9 105.6,345.9 106.3,345.9 107,346 107.7,346 108.4,346 109.1,346 109.8,346 110.5,346 111.2,346 111.9,346 112.6,346 113.3,346 114,346 114.7,346 115.4,346 116.1,346 116.8,346.1 117.5,346.1 118.2,346.1 118.9,346.1 119.6,346.1 120.3,346.1 121,346.1 121.7,346.1 122.4,346.1 123.1,346.1 123.8,346.1 124.5,346.1 125.2,346.1 125.9,346.1 126.6,346.1 127.3,346.1 128,346.1 128.7,346.2 129.4,346.2 130.1,346.2 130.8,346.2 131.5,346.2 132.2,346.2 132.9,346.2 133.6,346.2 134.3,346.2 135,346.2 135.7,346.2 136.4,346.2 137.1,346.2 137.8,346.2 138.5,346.2 139.3,346.2 140,346.2 140.7,346.2 141.4,346.2 142.1,346.2 142.8,346.2 143.5,346.2 144.2,346.3 144.9,346.3 145.6,346.3 146.3,346.3 147,346.3 147.7,346.3 148.4,346.3 149.1,346.3 149.8,346.3 150.5,346.3 151.2,346.3 151.9,346.3 152.6,346.3 153.3,346.3 154,346.3 154.7,346.3 155.4,346.3 156.1,346.3 156.8,346.3 157.5,346.3 158.2,346.3 158.9,346.3 159.6,346.3 160.3,346.3 161,346.3 161.7,346.3 162.4,346.3 163.1,346.3 163.8,346.3 164.5,346.3 165.2,346.3 165.9,346.3 166.6,346.3 167.3,346.3 168,346.3 168.7,346.3 169.4,346.4 170.1,346.4 170.8,346.4 171.5,346.4 172.2,346.4 172.9,346.4 173.6,346.4 174.3,346.4 175,346.4 175.7,346.4 176.4,346.4 177.1,346.4 177.9,346.4 178.6,346.4 179.3,346.4 180,346.4 180.7,346.4 181.4,346.4 182.1,346.4 182.8,346.4 183.5,346.4 184.2,346.4 184.9,346.4 185.6,346.4 186.3,346.4 187,346.4 187.7,346.4 188.4,346.4 189.1,346.4 189.8,346.4 190.5,346.4 191.2,346.4 191.9,346.4 192.6,346.4 193.3,346.4 194,346.4 194.7,346.4 195.4,346.4 196.1,346.4 196.8,346.4 197.5,346.4 198.2,346.4 198.9,346.4 199.6,346.4 200.3,346.4 201,346.4 201.7,346.4 202.4,346.4 203.1,346.4 203.8,346.4 204.5,346.4 205.2,346.4 205.9,346.4 206.6,346.4 207.3,346.4 208,346.4 208.7,346.4 209.4,346.4 210.1,346.4 210.8,346.4 211.5,346.4 212.2,346.4 212.9,346.4 213.6,346.4 214.3,346.4 215,346.4 215.7,346.4 216.4,346.4 217.2,346.4 217.9,346.4 218.6,346.4 219.3,346.4" fill="none" stroke="#8a44c0" stroke-width="1.0" stroke-linejoin="round"/><rect x="36.5" y="198.5" width="183.1" height="147.9" fill="none" stroke="#333" stroke-width="1.1"/><line x1="47.2" y1="346.4" x2="47.2" y2="348" stroke="#333" stroke-width="1"/><line x1="81.6" y1="346.4" x2="81.6" y2="348" stroke="#333" stroke-width="1"/><line x1="116" y1="346.4" x2="116" y2="348" stroke="#333" stroke-width="1"/><line x1="150.4" y1="346.4" x2="150.4" y2="348" stroke="#333" stroke-width="1"/><line x1="184.8" y1="346.4" x2="184.8" y2="348" stroke="#333" stroke-width="1"/><line x1="219.3" y1="346.4" x2="219.3" y2="348" stroke="#333" stroke-width="1"/><line x1="64.4" y1="346.4" x2="64.4" y2="349.4" stroke="#333" stroke-width="1"/><line x1="98.8" y1="346.4" x2="98.8" y2="349.4" stroke="#333" stroke-width="1"/><line x1="133.2" y1="346.4" x2="133.2" y2="349.4" stroke="#333" stroke-width="1"/><line x1="167.6" y1="346.4" x2="167.6" y2="349.4" stroke="#333" stroke-width="1"/><line x1="202" y1="346.4" x2="202" y2="349.4" stroke="#333" stroke-width="1"/><text font-size="7.8" fill="#222" text-anchor="middle" transform="translate(64.4 358.3) scale(1 1.12)">300</text><text font-size="7.8" fill="#222" text-anchor="middle" transform="translate(98.8 358.3) scale(1 1.12)">400</text><text font-size="7.8" fill="#222" text-anchor="middle" transform="translate(133.2 358.3) scale(1 1.12)">500</text><text font-size="7.8" fill="#222" text-anchor="middle" transform="translate(167.6 358.3) scale(1 1.12)">600</text><text font-size="7.8" fill="#222" text-anchor="middle" transform="translate(202 358.3) scale(1 1.12)">700</text><line x1="34.9" y1="332.8" x2="36.5" y2="332.8" stroke="#333" stroke-width="1"/><line x1="34.9" y1="305.6" x2="36.5" y2="305.6" stroke="#333" stroke-width="1"/><line x1="34.9" y1="278.4" x2="36.5" y2="278.4" stroke="#333" stroke-width="1"/><line x1="34.9" y1="251.2" x2="36.5" y2="251.2" stroke="#333" stroke-width="1"/><line x1="34.9" y1="224" x2="36.5" y2="224" stroke="#333" stroke-width="1"/><line x1="33.5" y1="346.4" x2="36.5" y2="346.4" stroke="#333" stroke-width="1"/><line x1="33.5" y1="319.2" x2="36.5" y2="319.2" stroke="#333" stroke-width="1"/><line x1="33.5" y1="292" x2="36.5" y2="292" stroke="#333" stroke-width="1"/><line x1="33.5" y1="264.8" x2="36.5" y2="264.8" stroke="#333" stroke-width="1"/><line x1="33.5" y1="237.6" x2="36.5" y2="237.6" stroke="#333" stroke-width="1"/><line x1="33.5" y1="210.4" x2="36.5" y2="210.4" stroke="#333" stroke-width="1"/><text font-size="7.8" fill="#222" text-anchor="end" transform="translate(30.9 349.5) scale(1 1.12)">0.0</text><text font-size="7.8" fill="#222" text-anchor="end" transform="translate(30.9 322.3) scale(1 1.12)">0.2</text><text font-size="7.8" fill="#222" text-anchor="end" transform="translate(30.9 295.1) scale(1 1.12)">0.4</text><text font-size="7.8" fill="#222" text-anchor="end" transform="translate(30.9 267.9) scale(1 1.12)">0.6</text><text font-size="7.8" fill="#222" text-anchor="end" transform="translate(30.9 240.7) scale(1 1.12)">0.8</text><text font-size="7.8" fill="#222" text-anchor="end" transform="translate(30.9 213.5) scale(1 1.12)">1.0</text><text font-size="9.8" fill="#222" text-anchor="middle" transform="translate(17.6 272.5) rotate(-90)">Absorbance (a.u.)</text><text font-size="9.8" fill="#222" text-anchor="middle" transform="translate(128.1 372.3) scale(1 1.12)">Wavelength (nm)</text><text font-size="15.2" fill="#000" font-weight="bold" font-style="italic" transform="translate(2 198.6) scale(1 1.0)">B</text><line x1="167.6" y1="305.6" x2="181.7" y2="305.6" stroke="#e64a3c" stroke-width="1.2"/><text font-size="6.2" fill="#222" transform="translate(183.5 308.1) scale(1 1.12)">RAFT1-99</text><line x1="167.6" y1="313.3" x2="181.7" y2="313.3" stroke="#f07a3c" stroke-width="1.2"/><text font-size="6.2" fill="#222" transform="translate(183.5 315.8) scale(1 1.12)">RAFT10-90</text><line x1="167.6" y1="321" x2="181.7" y2="321" stroke="#52b44a" stroke-width="1.2"/><text font-size="6.2" fill="#222" transform="translate(183.5 323.5) scale(1 1.12)">RAFT20-80</text><line x1="167.6" y1="328.8" x2="181.7" y2="328.8" stroke="#4a78c8" stroke-width="1.2"/><text font-size="6.2" fill="#222" transform="translate(183.5 331.2) scale(1 1.12)">RAFT50-50</text><line x1="167.6" y1="336.5" x2="181.7" y2="336.5" stroke="#8a44c0" stroke-width="1.2"/><text font-size="6.2" fill="#222" transform="translate(183.5 339) scale(1 1.12)">RAFT75-25</text><line x1="127.7" y1="12.3" x2="127.7" y2="92" stroke="#333" stroke-width="0.9"/><line x1="127.7" y1="92" x2="219.6" y2="92" stroke="#333" stroke-width="0.9"/><line x1="125.7" y1="83.6" x2="127.7" y2="83.6" stroke="#333" stroke-width="0.7"/><text font-size="4.8" fill="#222" text-anchor="end" transform="translate(124.7 85.5) scale(1 1.12)">0.0</text><line x1="125.7" y1="70.6" x2="127.7" y2="70.6" stroke="#333" stroke-width="0.7"/><text font-size="4.8" fill="#222" text-anchor="end" transform="translate(124.7 72.6) scale(1 1.12)">0.2</text><line x1="125.7" y1="57.7" x2="127.7" y2="57.7" stroke="#333" stroke-width="0.7"/><text font-size="4.8" fill="#222" text-anchor="end" transform="translate(124.7 59.6) scale(1 1.12)">0.4</text><line x1="125.7" y1="44.7" x2="127.7" y2="44.7" stroke="#333" stroke-width="0.7"/><text font-size="4.8" fill="#222" text-anchor="end" transform="translate(124.7 46.6) scale(1 1.12)">0.6</text><line x1="125.7" y1="31.8" x2="127.7" y2="31.8" stroke="#333" stroke-width="0.7"/><text font-size="4.8" fill="#222" text-anchor="end" transform="translate(124.7 33.7) scale(1 1.12)">0.8</text><line x1="125.7" y1="18.8" x2="127.7" y2="18.8" stroke="#333" stroke-width="0.7"/><text font-size="4.8" fill="#222" text-anchor="end" transform="translate(124.7 20.7) scale(1 1.12)">1.0</text><line x1="126.5" y1="77.1" x2="127.7" y2="77.1" stroke="#333" stroke-width="0.6"/><line x1="126.5" y1="64.2" x2="127.7" y2="64.2" stroke="#333" stroke-width="0.6"/><line x1="126.5" y1="51.2" x2="127.7" y2="51.2" stroke="#333" stroke-width="0.6"/><line x1="126.5" y1="38.2" x2="127.7" y2="38.2" stroke="#333" stroke-width="0.6"/><line x1="126.5" y1="25.3" x2="127.7" y2="25.3" stroke="#333" stroke-width="0.6"/><line x1="131.7" y1="92" x2="131.7" y2="94" stroke="#333" stroke-width="0.7"/><text font-size="4.8" fill="#222" text-anchor="middle" transform="translate(131.7 99.2) scale(1 1.12)">0%</text><line x1="156.4" y1="92" x2="156.4" y2="94" stroke="#333" stroke-width="0.7"/><text font-size="4.8" fill="#222" text-anchor="middle" transform="translate(156.4 99.2) scale(1 1.12)">25%</text><line x1="181.1" y1="92" x2="181.1" y2="94" stroke="#333" stroke-width="0.7"/><text font-size="4.8" fill="#222" text-anchor="middle" transform="translate(181.1 99.2) scale(1 1.12)">50%</text><line x1="205.8" y1="92" x2="205.8" y2="94" stroke="#333" stroke-width="0.7"/><text font-size="4.8" fill="#222" text-anchor="middle" transform="translate(205.8 99.2) scale(1 1.12)">75%</text><line x1="144" y1="92" x2="144" y2="93.2" stroke="#333" stroke-width="0.6"/><line x1="168.8" y1="92" x2="168.8" y2="93.2" stroke="#333" stroke-width="0.6"/><line x1="193.4" y1="92" x2="193.4" y2="93.2" stroke="#333" stroke-width="0.6"/><line x1="218.1" y1="92" x2="218.1" y2="93.2" stroke="#333" stroke-width="0.6"/><line x1="132.5" y1="82" x2="170.6" y2="23.9" stroke="#f04a3a" stroke-width="0.9"/><rect x="132.3" y="79.8" width="2.4" height="2.4" fill="#f03030"/><rect x="141.1" y="62.1" width="2.4" height="2.4" fill="#f0c020"/><rect x="150.8" y="51.5" width="2.4" height="2.4" fill="#60c840"/><rect x="179.8" y="41.6" width="2.4" height="2.4" fill="#4a9af0"/><rect x="204.1" y="22.1" width="2.4" height="2.4" fill="#c040f0"/><text font-size="6.6" fill="#222" text-anchor="middle" transform="translate(173.8 107.8) scale(1 1.12)">TPEMA molar ratio</text><text font-size="6.6" fill="#222" text-anchor="middle" transform="translate(116.3 52.1) rotate(-90)">Absorbance/thickness</text><line x1="127.7" y1="198.5" x2="127.7" y2="273.3" stroke="#333" stroke-width="0.9"/><line x1="127.7" y1="273.3" x2="219.6" y2="273.3" stroke="#333" stroke-width="0.9"/><line x1="125.7" y1="268.5" x2="127.7" y2="268.5" stroke="#333" stroke-width="0.7"/><text font-size="4.8" fill="#222" text-anchor="end" transform="translate(124.7 270.4) scale(1 1.12)">0.0</text><line x1="125.7" y1="256.7" x2="127.7" y2="256.7" stroke="#333" stroke-width="0.7"/><text font-size="4.8" fill="#222" text-anchor="end" transform="translate(124.7 258.6) scale(1 1.12)">0.2</text><line x1="125.7" y1="244.8" x2="127.7" y2="244.8" stroke="#333" stroke-width="0.7"/><text font-size="4.8" fill="#222" text-anchor="end" transform="translate(124.7 246.7) scale(1 1.12)">0.4</text><line x1="125.7" y1="233" x2="127.7" y2="233" stroke="#333" stroke-width="0.7"/><text font-size="4.8" fill="#222" text-anchor="end" transform="translate(124.7 234.9) scale(1 1.12)">0.6</text><line x1="125.7" y1="221.1" x2="127.7" y2="221.1" stroke="#333" stroke-width="0.7"/><text font-size="4.8" fill="#222" text-anchor="end" transform="translate(124.7 223.1) scale(1 1.12)">0.8</text><line x1="125.7" y1="209.3" x2="127.7" y2="209.3" stroke="#333" stroke-width="0.7"/><text font-size="4.8" fill="#222" text-anchor="end" transform="translate(124.7 211.2) scale(1 1.12)">1.0</text><line x1="126.5" y1="262.6" x2="127.7" y2="262.6" stroke="#333" stroke-width="0.6"/><line x1="126.5" y1="250.7" x2="127.7" y2="250.7" stroke="#333" stroke-width="0.6"/><line x1="126.5" y1="238.9" x2="127.7" y2="238.9" stroke="#333" stroke-width="0.6"/><line x1="126.5" y1="227.1" x2="127.7" y2="227.1" stroke="#333" stroke-width="0.6"/><line x1="126.5" y1="215.2" x2="127.7" y2="215.2" stroke="#333" stroke-width="0.6"/><line x1="132.5" y1="273.3" x2="132.5" y2="275.3" stroke="#333" stroke-width="0.7"/><text font-size="4.8" fill="#222" text-anchor="middle" transform="translate(132.5 280.5) scale(1 1.12)">0%</text><line x1="159.8" y1="273.3" x2="159.8" y2="275.3" stroke="#333" stroke-width="0.7"/><text font-size="4.8" fill="#222" text-anchor="middle" transform="translate(159.8 280.5) scale(1 1.12)">25%</text><line x1="187.1" y1="273.3" x2="187.1" y2="275.3" stroke="#333" stroke-width="0.7"/><text font-size="4.8" fill="#222" text-anchor="middle" transform="translate(187.1 280.5) scale(1 1.12)">50%</text><line x1="214.3" y1="273.3" x2="214.3" y2="275.3" stroke="#333" stroke-width="0.7"/><text font-size="4.8" fill="#222" text-anchor="middle" transform="translate(214.3 280.5) scale(1 1.12)">75%</text><line x1="146.1" y1="273.3" x2="146.1" y2="274.5" stroke="#333" stroke-width="0.6"/><line x1="173.4" y1="273.3" x2="173.4" y2="274.5" stroke="#333" stroke-width="0.6"/><line x1="200.7" y1="273.3" x2="200.7" y2="274.5" stroke="#333" stroke-width="0.6"/><line x1="132.5" y1="267.5" x2="214.3" y2="209.3" stroke="#f04a3a" stroke-width="0.9"/><rect x="132.6" y="265.5" width="2.4" height="2.4" fill="#e02020"/><rect x="142.5" y="256.1" width="2.4" height="2.4" fill="#f07020"/><rect x="153.1" y="250" width="2.4" height="2.4" fill="#40b040"/><rect x="185.9" y="230.8" width="2.4" height="2.4" fill="#3a6ad0"/><rect x="213.1" y="206.5" width="2.4" height="2.4" fill="#8a30c0"/><text font-size="6.6" fill="#222" text-anchor="middle" transform="translate(173.8 291.4) scale(1 1.12)">TPEMA molar content</text><text font-size="6.6" fill="#222" text-anchor="middle" transform="translate(115.8 235.9) rotate(-90)">Absorbance</text><path d="M313.7,160 314.2,159.4 314.7,158.8 315.2,158.1 315.7,157.5 316.2,156.8 316.7,156.1 317.2,155.4 317.7,154.6 318.2,153.9 318.7,153.1 319.2,152.3 319.7,151.5 320.2,150.7 320.7,149.9 321.2,149 321.7,148.2 322.2,147.3 322.7,146.4 323.2,145.6 323.7,144.7 324.2,143.8 324.7,142.8 325.2,141.9 325.7,140.9 326.2,139.9 326.7,138.9 327.2,137.8 327.7,136.7 328.2,135.6 328.7,134.5 329.2,133.3 329.7,132.1 330.2,130.9 330.7,129.7 331.2,128.4 331.7,127.1 332.2,125.7 332.7,124.2 333.2,122.7 333.7,121.2 334.2,119.5 334.7,117.7 335.2,115.7 335.7,113.7 336.2,111.8 336.8,109.9 337.3,108.1 337.8,106.4 338.3,104.7 338.8,103.1 339.3,101.6 339.8,100.4 340.3,99.3 340.8,98.3 341.3,97.4 341.8,96.6 342.3,95.8 342.8,95.1 343.3,94.5 343.8,93.9 344.3,93.3 344.8,92.8 345.3,92.3 345.8,91.9 346.3,91.7 346.8,91.5 347.3,91.4 347.8,91.3 348.3,91.3 348.8,91.4 349.3,91.6 349.8,92 350.3,92.3 350.8,92.7 351.3,93.2 351.8,93.8 352.3,94.5 352.8,95.2 353.3,95.9 353.8,96.7 354.3,97.5 354.8,98.3 355.3,99.3 355.8,100.2 356.3,101.3 356.8,102.4 357.3,103.7 357.8,105.1 358.3,106.6 358.8,108.1 359.3,109.6 359.8,111 360.3,112.4 360.8,113.8 361.3,115.2 361.8,116.7 362.3,118.1 362.8,119.5 363.3,120.9 363.8,122.3 364.3,123.7 364.8,125 365.3,126.4 365.8,127.6 366.3,128.8 366.8,129.9 367.3,130.9 367.8,131.9 368.3,132.8 368.8,133.7 369.3,134.6 369.8,135.4 370.3,136.2 370.8,137 371.3,137.8 371.8,138.6 372.3,139.3 372.8,140.1 373.3,140.8 373.8,141.5 374.3,142.1 374.8,142.8 375.3,143.5 375.8,144.1 376.3,144.7 376.8,145.3 377.3,145.9 377.8,146.5 378.3,147.1 378.8,147.7 379.3,148.2 379.8,148.8 380.3,149.4 380.8,149.9 381.3,150.4 381.9,150.9 382.4,151.3 382.9,151.7 383.4,152 383.9,152.2 384.4,152.5 384.9,152.7 385.4,152.9 385.9,153.1 386.4,153.3 386.9,153.5 387.4,153.7 387.9,153.8 388.4,154 388.9,154.1 389.4,154.3 389.9,154.4 390.4,154.6 390.9,154.7 391.4,154.9 391.9,155 392.4,155.2 392.9,155.3 393.4,155.5 393.9,155.6 394.4,155.7 394.9,155.9 395.4,156 395.9,156.2 396.4,156.3 396.9,156.4 397.4,156.5 397.9,156.6 398.4,156.8 398.9,156.9 399.4,157 399.9,157.1 400.4,157.1 400.9,157.2 401.4,157.3 401.9,157.4 402.4,157.5 402.9,157.5 403.4,157.6 403.9,157.7 404.4,157.8 404.9,157.8 405.4,157.9 405.9,158 406.4,158 406.9,158.1 407.4,158.2 407.9,158.2 408.4,158.3 408.9,158.4 409.4,158.4 409.9,158.5 410.4,158.5 410.9,158.6 411.4,158.6 411.9,158.7 412.4,158.7 412.9,158.7 413.4,158.8 413.9,158.8 414.4,158.8 414.9,158.9 415.4,158.9 415.9,158.9 416.4,158.9 416.9,158.9 417.4,159 417.9,159 418.4,159 418.9,159 419.4,159 419.9,159.1 420.4,159.1 420.9,159.1 421.4,159.1 421.9,159.1 422.4,159.1 422.9,159.2 423.4,159.2 423.9,159.2 424.4,159.2 424.9,159.2 425.4,159.2 425.9,159.2 426.4,159.3 426.9,159.3 427.5,159.3 428,159.3 428.5,159.3 429,159.3 429.5,159.3 430,159.3 430.5,159.4 431,159.4 431.5,159.4 432,159.4 432.5,159.4 433,159.4 433.5,159.4 434,159.4 434.5,159.4 435,159.5 435.5,159.5 436,159.5 436.5,159.5 437,159.5 437.5,159.5 438,159.5 438.5,159.5 439,159.5 439.5,159.5 440,159.5 440.5,159.5 441,159.5 441.5,159.6 442,159.6 442.5,159.6 443,159.6 443.5,159.6 444,159.6 444.5,159.6 445,159.6 445.5,159.6 446,159.6 446.5,159.6 447,159.6 447.5,159.6 448,159.6 448.5,159.6 449,159.6 449.5,159.6 450,159.6" fill="none" stroke="#f04a4a" stroke-width="1.15" stroke-dasharray="1.6 1.6"/><path d="M320.4,160 320.9,160 321.4,159.9 321.9,159.8 322.4,159.6 322.9,159.4 323.4,159.2 323.9,158.9 324.4,158.6 324.9,158.3 325.4,157.9 325.9,157.5 326.4,157.1 326.9,156.6 327.4,156.2 327.9,155.7 328.4,155.2 328.9,154.7 329.4,154.1 329.9,153.6 330.4,153 330.9,152.3 331.4,151.5 331.9,150.6 332.4,149.6 332.9,148.6 333.4,147.4 333.9,146.2 334.4,144.9 334.9,143.5 335.4,142.1 335.9,140.7 336.4,139 336.9,137.2 337.4,135.2 337.9,133 338.4,130.7 338.9,128.4 339.4,125.9 339.9,123.4 340.4,120.7 340.9,117.8 341.4,114.7 341.9,111.6 342.4,108.5 342.9,105.3 343.4,102 343.9,98.6 344.4,95.5 344.9,92.6 345.4,89.7 345.9,87 346.4,84.5 346.9,82.3 347.4,80.4 347.9,78.5 348.4,76.8 348.9,75.3 349.4,74.2 349.9,73.2 350.4,72.2 350.9,71.4 351.4,70.9 351.9,70.7 352.4,70.8 352.9,71 353.4,71.4 353.9,71.9 354.4,72.4 354.9,72.9 355.4,73.5 355.9,74.3 356.4,75.2 356.9,76.3 357.4,77.4 357.9,78.6 358.4,79.8 358.9,81.1 359.4,82.6 359.9,84.3 360.4,85.9 360.9,87.4 361.4,88.8 361.9,90 362.4,91.1 362.9,92.1 363.4,93.1 363.9,94.1 364.4,95 364.9,95.9 365.4,96.9 365.9,98 366.4,99.1 366.9,100.3 367.4,101.6 367.9,102.9 368.4,104.2 368.9,105.6 369.4,107.1 369.9,108.5 370.4,109.9 370.9,111.3 371.4,112.7 371.9,114.1 372.4,115.4 372.9,116.7 373.4,117.9 373.9,119.2 374.4,120.4 374.9,121.6 375.4,122.9 375.9,124.1 376.4,125.2 376.9,126.4 377.4,127.5 377.9,128.6 378.4,129.7 378.9,130.7 379.4,131.7 379.9,132.8 380.4,133.8 380.9,134.8 381.4,135.8 381.9,136.8 382.4,137.7 382.9,138.6 383.4,139.4 383.9,140.2 384.4,140.9 384.9,141.6 385.5,142.1 386,142.7 386.5,143.2 387,143.7 387.5,144.2 388,144.7 388.5,145.1 389,145.6 389.5,146 390,146.4 390.5,146.8 391,147.1 391.5,147.5 392,147.9 392.5,148.2 393,148.6 393.5,149 394,149.3 394.5,149.7 395,150 395.5,150.4 396,150.7 396.5,151.1 397,151.4 397.5,151.7 398,152.1 398.5,152.4 399,152.7 399.5,153 400,153.3 400.5,153.5 401,153.8 401.5,154 402,154.3 402.5,154.5 403,154.7 403.5,154.8 404,155 404.5,155.1 405,155.3 405.5,155.4 406,155.6 406.5,155.7 407,155.8 407.5,156 408,156.1 408.5,156.2 409,156.3 409.5,156.4 410,156.6 410.5,156.7 411,156.8 411.5,156.9 412,157 412.5,157.1 413,157.1 413.5,157.2 414,157.3 414.5,157.4 415,157.5 415.5,157.6 416,157.6 416.5,157.7 417,157.8 417.5,157.9 418,157.9 418.5,158 419,158.1 419.5,158.1 420,158.2 420.5,158.3 421,158.3 421.5,158.4 422,158.4 422.5,158.5 423,158.6 423.5,158.6 424,158.7 424.5,158.7 425,158.8 425.5,158.8 426,158.9 426.5,158.9 427,159 427.5,159 428,159.1 428.5,159.1 429,159.1 429.5,159.2 430,159.2 430.5,159.2 431,159.3 431.5,159.3 432,159.3 432.5,159.3 433,159.3 433.5,159.3 434,159.4 434.5,159.4 435,159.4 435.5,159.4 436,159.4 436.5,159.4 437,159.4 437.5,159.4 438,159.5 438.5,159.5 439,159.5 439.5,159.5 440,159.5 440.5,159.5 441,159.5 441.5,159.5 442,159.5 442.5,159.5 443,159.5 443.5,159.6 444,159.6 444.5,159.6 445,159.6 445.5,159.6 446,159.6 446.5,159.6 447,159.6 447.5,159.6 448,159.6 448.5,159.6 449,159.6 449.5,159.6 450,159.6" fill="none" stroke="#f2c83a" stroke-width="1.15" stroke-dasharray="1.6 1.6"/><path d="M313.7,160 314.2,159.4 314.7,158.8 315.2,158.1 315.7,157.5 316.2,156.8 316.7,156.1 317.2,155.4 317.7,154.6 318.2,153.9 318.7,153.1 319.2,152.3 319.7,151.5 320.2,150.7 320.7,149.9 321.2,149 321.7,148.2 322.2,147.3 322.7,146.4 323.2,145.6 323.7,144.7 324.2,143.8 324.7,142.8 325.2,141.9 325.7,140.9 326.2,139.9 326.7,138.9 327.2,137.8 327.7,136.7 328.2,135.6 328.7,134.5 329.2,133.3 329.7,132.1 330.2,130.9 330.7,129.7 331.2,128.5 331.7,127.2 332.2,125.8 332.7,124.4 333.2,122.8 333.7,121.2 334.2,119.4 334.7,117.3 335.2,115.1 335.7,112.7 336.2,110.2 336.8,107.7 337.3,105.2 337.8,102.5 338.3,99.6 338.8,96.7 339.3,93.7 339.8,90.6 340.3,87.4 340.8,84 341.3,80.5 341.8,77 342.3,73.6 342.8,70.2 343.3,66.9 343.8,63.5 344.3,60.1 344.8,56.9 345.3,53.9 345.8,51.1 346.3,48.3 346.8,45.6 347.3,43.1 347.8,40.8 348.3,38.8 348.8,37.1 349.3,35.4 349.8,33.7 350.3,32.2 350.8,30.9 351.3,30 351.8,29.6 352.3,29.7 352.8,30 353.3,30.5 353.8,31.1 354.3,31.9 354.8,32.7 355.3,33.6 355.8,34.6 356.3,35.9 356.8,37.4 357.3,39.3 357.8,41.3 358.3,43.4 358.8,45.6 359.3,47.9 359.8,50.1 360.3,52.3 360.8,54.3 361.3,56.3 361.8,58.4 362.3,60.5 362.8,62.6 363.3,64.8 363.8,66.9 364.3,69 364.8,71 365.3,73 365.8,74.8 366.3,76.5 366.8,78 367.3,79.4 367.8,80.7 368.3,81.9 368.8,83 369.3,84.1 369.8,85.3 370.3,86.5 370.8,87.9 371.3,89.3 371.8,90.7 372.3,92.2 372.8,93.7 373.3,95.2 373.8,96.7 374.3,98.3 374.8,99.8 375.3,101.4 375.8,102.9 376.3,104.5 376.8,106.1 377.3,107.8 377.8,109.4 378.3,111.1 378.8,112.7 379.3,114.3 379.8,115.8 380.3,117.3 380.8,118.6 381.3,119.9 381.9,121.2 382.4,122.5 382.9,123.7 383.4,124.9 383.9,126 384.4,127.2 384.9,128.2 385.4,129.3 385.9,130.3 386.4,131.3 386.9,132.2 387.4,133.2 387.9,134.1 388.4,134.9 388.9,135.8 389.4,136.6 389.9,137.5 390.4,138.3 390.9,139.1 391.4,139.8 391.9,140.6 392.4,141.3 392.9,142 393.4,142.7 393.9,143.3 394.4,143.9 394.9,144.5 395.4,145 395.9,145.5 396.4,146 396.9,146.5 397.4,147 397.9,147.5 398.4,148 398.9,148.4 399.4,148.9 399.9,149.3 400.4,149.7 400.9,150.1 401.4,150.5 401.9,150.9 402.4,151.2 402.9,151.6 403.4,151.9 403.9,152.2 404.4,152.5 404.9,152.8 405.4,153 405.9,153.2 406.4,153.5 406.9,153.7 407.4,153.9 407.9,154.1 408.4,154.3 408.9,154.5 409.4,154.7 409.9,154.8 410.4,155 410.9,155.2 411.4,155.3 411.9,155.5 412.4,155.6 412.9,155.8 413.4,155.9 413.9,156.1 414.4,156.2 414.9,156.3 415.4,156.5 415.9,156.6 416.4,156.7 416.9,156.8 417.4,156.9 417.9,157 418.4,157.1 418.9,157.2 419.4,157.4 419.9,157.5 420.4,157.6 420.9,157.7 421.4,157.8 421.9,157.9 422.4,158 422.9,158.1 423.4,158.2 423.9,158.3 424.4,158.4 424.9,158.5 425.4,158.6 425.9,158.7 426.4,158.8 426.9,158.9 427.5,158.9 428,159 428.5,159.1 429,159.1 429.5,159.2 430,159.2 430.5,159.3 431,159.3 431.5,159.3 432,159.3 432.5,159.3 433,159.3 433.5,159.3 434,159.3 434.5,159.3 435,159.3 435.5,159.3 436,159.3 436.5,159.3 437,159.3 437.5,159.3 438,159.3 438.5,159.3 439,159.3 439.5,159.3 440,159.2 440.5,159.2 441,159.2 441.5,159.2 442,159.2 442.5,159.2 443,159.2 443.5,159.1 444,159.1 444.5,159.1 445,159.1 445.5,159 446,159 446.5,159 447,159 447.5,158.9 448,158.9 448.5,158.8 449,158.8 449.5,158.7 450,158.7" fill="none" stroke="#4cc844" stroke-width="1.15" stroke-dasharray="1.6 1.6"/><path d="M313.7,160 314.2,159.4 314.7,158.8 315.2,158.1 315.7,157.5 316.2,156.8 316.7,156.1 317.2,155.4 317.7,154.6 318.2,153.9 318.7,153.1 319.2,152.3 319.7,151.5 320.2,150.7 320.7,149.9 321.2,149 321.7,148.2 322.2,147.3 322.7,146.4 323.2,145.6 323.7,144.7 324.2,143.8 324.7,142.8 325.2,141.9 325.7,140.9 326.2,139.9 326.7,138.9 327.2,137.8 327.7,136.7 328.2,135.6 328.7,134.5 329.2,133.3 329.7,132.1 330.2,130.9 330.7,129.7 331.2,128.5 331.7,127.2 332.2,125.8 332.7,124.4 333.2,122.8 333.7,121.2 334.2,119.4 334.7,117.3 335.2,115.1 335.7,112.7 336.2,110.2 336.8,107.7 337.3,105.1 337.8,102.3 338.3,99.5 338.8,96.5 339.3,93.6 339.8,90.7 340.3,87.8 340.8,85 341.3,82.1 341.8,79.2 342.3,76.3 342.8,73.3 343.3,70.3 343.8,67.1 344.3,63.8 344.8,60.5 345.3,57.1 345.8,53.8 346.3,50.6 346.8,47.6 347.3,44.5 347.8,41.4 348.3,38.3 348.8,35.5 349.3,32.9 349.8,30.8 350.3,29.1 350.8,27.5 351.3,25.9 351.8,24.5 352.3,23.2 352.8,22.3 353.3,21.6 353.8,21.4 354.3,21.5 354.8,21.8 355.3,22.3 355.8,23 356.3,23.8 356.8,24.7 357.3,25.6 357.8,26.7 358.3,28.2 358.8,30.3 359.3,32.6 359.8,35.2 360.3,38 360.8,40.8 361.3,43.6 361.8,46.2 362.3,48.7 362.8,51.2 363.3,53.8 363.8,56.5 364.3,59.1 364.8,61.7 365.3,64.2 365.8,66.7 366.3,69 366.8,71.2 367.3,73.3 367.8,75.3 368.3,77.2 368.8,79.1 369.3,80.9 369.8,82.6 370.3,84.4 370.8,86.1 371.3,87.8 371.8,89.4 372.3,91 372.8,92.5 373.3,94.1 373.8,95.6 374.3,97.1 374.8,98.7 375.3,100.2 375.8,101.8 376.3,103.5 376.8,105.2 377.3,106.9 377.8,108.6 378.3,110.3 378.8,111.9 379.3,113.6 379.8,115.1 380.3,116.6 380.8,118 381.3,119.4 381.9,120.7 382.4,122 382.9,123.2 383.4,124.4 383.9,125.6 384.4,126.8 384.9,127.9 385.4,129 385.9,130 386.4,131 386.9,131.9 387.4,132.9 387.9,133.8 388.4,134.6 388.9,135.5 389.4,136.4 389.9,137.2 390.4,138 390.9,138.8 391.4,139.5 391.9,140.3 392.4,141 392.9,141.7 393.4,142.3 393.9,143 394.4,143.6 394.9,144.2 395.4,144.7 395.9,145.2 396.4,145.7 396.9,146.2 397.4,146.7 397.9,147.2 398.4,147.7 398.9,148.2 399.4,148.6 399.9,149.1 400.4,149.5 400.9,149.9 401.4,150.3 401.9,150.7 402.4,151 402.9,151.4 403.4,151.7 403.9,152 404.4,152.3 404.9,152.6 405.4,152.8 405.9,153 406.4,153.3 406.9,153.5 407.4,153.7 407.9,153.9 408.4,154.1 408.9,154.3 409.4,154.5 409.9,154.7 410.4,154.8 410.9,155 411.4,155.2 411.9,155.3 412.4,155.5 412.9,155.6 413.4,155.8 413.9,155.9 414.4,156.1 414.9,156.2 415.4,156.3 415.9,156.5 416.4,156.6 416.9,156.7 417.4,156.8 417.9,156.9 418.4,157 418.9,157.2 419.4,157.3 419.9,157.4 420.4,157.5 420.9,157.6 421.4,157.7 421.9,157.9 422.4,158 422.9,158.1 423.4,158.2 423.9,158.3 424.4,158.4 424.9,158.5 425.4,158.6 425.9,158.7 426.4,158.8 426.9,158.9 427.5,158.9 428,159 428.5,159.1 429,159.1 429.5,159.2 430,159.2 430.5,159.2 431,159.3 431.5,159.3 432,159.3 432.5,159.3 433,159.3 433.5,159.3 434,159.3 434.5,159.3 435,159.3 435.5,159.3 436,159.3 436.5,159.3 437,159.3 437.5,159.3 438,159.3 438.5,159.3 439,159.3 439.5,159.2 440,159.2 440.5,159.2 441,159.2 441.5,159.2 442,159.2 442.5,159.1 443,159.1 443.5,159.1 444,159.1 444.5,159 445,159 445.5,159 446,158.9 446.5,158.9 447,158.8 447.5,158.8 448,158.7 448.5,158.7 449,158.6 449.5,158.6 450,158.5" fill="none" stroke="#4a9ef0" stroke-width="1.15" stroke-dasharray="1.6 1.6"/><path d="M313.7,160 314.2,159.4 314.7,158.8 315.2,158.1 315.7,157.5 316.2,156.8 316.7,156.1 317.2,155.4 317.7,154.6 318.2,153.9 318.7,153.1 319.2,152.3 319.7,151.5 320.2,150.7 320.7,149.9 321.2,149 321.7,148.2 322.2,147.3 322.7,146.4 323.2,145.6 323.7,144.7 324.2,143.8 324.7,142.8 325.2,141.9 325.7,140.9 326.2,139.9 326.7,138.9 327.2,137.8 327.7,136.7 328.2,135.6 328.7,134.5 329.2,133.3 329.7,132.1 330.2,130.9 330.7,129.7 331.2,128.5 331.7,127.2 332.2,125.8 332.7,124.4 333.2,122.8 333.7,121.2 334.2,119.4 334.7,117.3 335.2,115 335.7,112.6 336.2,110.2 336.8,107.8 337.3,105.2 337.8,102.4 338.3,99.6 338.8,96.9 339.3,94.2 339.8,91.7 340.3,89.4 340.8,87.3 341.3,85.2 341.8,83.1 342.3,81.1 342.8,79 343.3,76.8 343.8,74.6 344.3,72.3 344.8,70.1 345.3,67.9 345.8,65.9 346.3,64 346.8,62.3 347.3,60.6 347.8,59.1 348.3,57.5 348.8,56 349.3,54.4 349.8,52.8 350.3,51.2 350.8,49.5 351.3,48 351.8,46.6 352.3,45.4 352.8,44.5 353.3,43.5 353.8,42.6 354.3,41.8 354.8,41.1 355.3,40.7 355.8,40.6 356.3,40.8 356.8,41.4 357.3,42.1 357.8,43.1 358.3,44.1 358.8,45.3 359.3,46.5 359.8,47.8 360.3,49.4 360.8,51.3 361.3,53.5 361.8,55.8 362.3,58.1 362.8,60.3 363.3,62.5 363.8,64.5 364.3,66.6 364.8,68.7 365.3,70.8 365.8,73 366.3,75.2 366.8,77.5 367.3,80.1 367.8,82.8 368.3,85.3 368.8,87.4 369.3,89 369.8,90.3 370.3,91.5 370.8,92.5 371.3,93.6 371.8,94.6 372.3,95.7 372.8,96.8 373.3,97.8 373.8,98.8 374.3,99.9 374.8,101 375.3,102.1 375.8,103.4 376.3,104.7 376.8,106.3 377.3,107.9 377.8,109.5 378.3,111.2 378.8,113 379.3,114.6 379.8,116.2 380.3,117.7 380.8,119.1 381.3,120.4 381.9,121.7 382.4,123 382.9,124.2 383.4,125.4 383.9,126.6 384.4,127.7 384.9,128.8 385.4,129.8 385.9,130.8 386.4,131.8 386.9,132.7 387.4,133.6 387.9,134.5 388.4,135.4 388.9,136.2 389.4,137.1 389.9,137.9 390.4,138.7 390.9,139.4 391.4,140.2 391.9,140.9 392.4,141.6 392.9,142.3 393.4,142.9 393.9,143.5 394.4,144.1 394.9,144.7 395.4,145.2 395.9,145.7 396.4,146.2 396.9,146.7 397.4,147.2 397.9,147.6 398.4,148.1 398.9,148.5 399.4,149 399.9,149.4 400.4,149.8 400.9,150.2 401.4,150.6 401.9,150.9 402.4,151.3 402.9,151.6 403.4,151.9 403.9,152.2 404.4,152.5 404.9,152.8 405.4,153 405.9,153.2 406.4,153.5 406.9,153.7 407.4,153.9 407.9,154.1 408.4,154.3 408.9,154.5 409.4,154.6 409.9,154.8 410.4,155 410.9,155.2 411.4,155.3 411.9,155.5 412.4,155.6 412.9,155.8 413.4,155.9 413.9,156.1 414.4,156.2 414.9,156.3 415.4,156.5 415.9,156.6 416.4,156.7 416.9,156.8 417.4,156.9 417.9,157 418.4,157.1 418.9,157.2 419.4,157.4 419.9,157.5 420.4,157.6 420.9,157.7 421.4,157.8 421.9,157.9 422.4,158 422.9,158.1 423.4,158.2 423.9,158.3 424.4,158.4 424.9,158.5 425.4,158.6 425.9,158.7 426.4,158.8 426.9,158.9 427.5,158.9 428,159 428.5,159.1 429,159.1 429.5,159.2 430,159.2 430.5,159.3 431,159.3 431.5,159.3 432,159.3 432.5,159.3 433,159.3 433.5,159.3 434,159.3 434.5,159.3 435,159.3 435.5,159.3 436,159.3 436.5,159.3 437,159.3 437.5,159.3 438,159.3 438.5,159.3 439,159.2 439.5,159.2 440,159.2 440.5,159.2 441,159.2 441.5,159.2 442,159.1 442.5,159.1 443,159.1 443.5,159 444,159 444.5,159 445,158.9 445.5,158.9 446,158.8 446.5,158.8 447,158.7 447.5,158.7 448,158.6 448.5,158.5 449,158.5 449.5,158.4 450,158.3" fill="none" stroke="#c24cf2" stroke-width="1.15" stroke-dasharray="1.6 1.6"/><rect x="266.5" y="12" width="184" height="148" fill="none" stroke="#333" stroke-width="1.1"/><line x1="277.2" y1="160" x2="277.2" y2="161.6" stroke="#333" stroke-width="1"/><line x1="311.8" y1="160" x2="311.8" y2="161.6" stroke="#333" stroke-width="1"/><line x1="346.4" y1="160" x2="346.4" y2="161.6" stroke="#333" stroke-width="1"/><line x1="381" y1="160" x2="381" y2="161.6" stroke="#333" stroke-width="1"/><line x1="415.6" y1="160" x2="415.6" y2="161.6" stroke="#333" stroke-width="1"/><line x1="450.2" y1="160" x2="450.2" y2="161.6" stroke="#333" stroke-width="1"/><line x1="294.5" y1="160" x2="294.5" y2="163" stroke="#333" stroke-width="1"/><line x1="329.1" y1="160" x2="329.1" y2="163" stroke="#333" stroke-width="1"/><line x1="363.7" y1="160" x2="363.7" y2="163" stroke="#333" stroke-width="1"/><line x1="398.3" y1="160" x2="398.3" y2="163" stroke="#333" stroke-width="1"/><line x1="432.9" y1="160" x2="432.9" y2="163" stroke="#333" stroke-width="1"/><text font-size="7.8" fill="#222" text-anchor="middle" transform="translate(294.5 172) scale(1 1.12)">300</text><text font-size="7.8" fill="#222" text-anchor="middle" transform="translate(329.1 172) scale(1 1.12)">400</text><text font-size="7.8" fill="#222" text-anchor="middle" transform="translate(363.7 172) scale(1 1.12)">500</text><text font-size="7.8" fill="#222" text-anchor="middle" transform="translate(398.3 172) scale(1 1.12)">600</text><text font-size="7.8" fill="#222" text-anchor="middle" transform="translate(432.9 172) scale(1 1.12)">700</text><line x1="264.9" y1="148.4" x2="266.5" y2="148.4" stroke="#333" stroke-width="1"/><line x1="264.9" y1="125.2" x2="266.5" y2="125.2" stroke="#333" stroke-width="1"/><line x1="264.9" y1="102" x2="266.5" y2="102" stroke="#333" stroke-width="1"/><line x1="264.9" y1="78.8" x2="266.5" y2="78.8" stroke="#333" stroke-width="1"/><line x1="264.9" y1="55.6" x2="266.5" y2="55.6" stroke="#333" stroke-width="1"/><line x1="264.9" y1="32.4" x2="266.5" y2="32.4" stroke="#333" stroke-width="1"/><line x1="263.5" y1="160" x2="266.5" y2="160" stroke="#333" stroke-width="1"/><line x1="263.5" y1="136.8" x2="266.5" y2="136.8" stroke="#333" stroke-width="1"/><line x1="263.5" y1="113.6" x2="266.5" y2="113.6" stroke="#333" stroke-width="1"/><line x1="263.5" y1="90.4" x2="266.5" y2="90.4" stroke="#333" stroke-width="1"/><line x1="263.5" y1="67.2" x2="266.5" y2="67.2" stroke="#333" stroke-width="1"/><line x1="263.5" y1="44" x2="266.5" y2="44" stroke="#333" stroke-width="1"/><line x1="263.5" y1="20.8" x2="266.5" y2="20.8" stroke="#333" stroke-width="1"/><text font-size="7.8" fill="#222" text-anchor="end" transform="translate(261.1 163.1) scale(1 1.12)">0</text><text font-size="7.8" fill="#222" text-anchor="end" transform="translate(261.1 139.9) scale(1 1.12)">50</text><text font-size="7.8" fill="#222" text-anchor="end" transform="translate(261.1 116.7) scale(1 1.12)">100</text><text font-size="7.8" fill="#222" text-anchor="end" transform="translate(261.1 93.5) scale(1 1.12)">150</text><text font-size="7.8" fill="#222" text-anchor="end" transform="translate(261.1 70.3) scale(1 1.12)">200</text><text font-size="7.8" fill="#222" text-anchor="end" transform="translate(261.1 47.1) scale(1 1.12)">250</text><text font-size="7.8" fill="#222" text-anchor="end" transform="translate(261.1 23.9) scale(1 1.12)">300</text><text font-size="9.8" fill="#222" text-anchor="middle" transform="translate(245.4 86.5) rotate(-90)">Emission Intensity (a.u.)</text><text font-size="9.8" fill="#222" text-anchor="middle" transform="translate(358.5 185.9) scale(1 1.12)">Wavelength (nm)</text><text font-size="15.2" fill="#000" font-weight="bold" font-style="italic" transform="translate(236 12.4) scale(1 1.0)">C</text><line x1="267.2" y1="17.1" x2="282" y2="17.1" stroke="#f04a4a" stroke-width="1.15" stroke-dasharray="1.6 1.6"/><text font-size="6.2" fill="#222" transform="translate(283.8 19.6) scale(1 1.12)">FR1-99</text><line x1="267.2" y1="24.8" x2="282" y2="24.8" stroke="#f2c83a" stroke-width="1.15" stroke-dasharray="1.6 1.6"/><text font-size="6.2" fill="#222" transform="translate(283.8 27.2) scale(1 1.12)">FR10-90</text><line x1="267.2" y1="32.4" x2="282" y2="32.4" stroke="#4cc844" stroke-width="1.15" stroke-dasharray="1.6 1.6"/><text font-size="6.2" fill="#222" transform="translate(283.8 34.9) scale(1 1.12)">FR20-80</text><line x1="267.2" y1="40.1" x2="282" y2="40.1" stroke="#4a9ef0" stroke-width="1.15" stroke-dasharray="1.6 1.6"/><text font-size="6.2" fill="#222" transform="translate(283.8 42.5) scale(1 1.12)">FR50-50</text><line x1="267.2" y1="47.7" x2="282" y2="47.7" stroke="#c24cf2" stroke-width="1.15" stroke-dasharray="1.6 1.6"/><text font-size="6.2" fill="#222" transform="translate(283.8 50.2) scale(1 1.12)">FR75-25</text><path d="M394.4,87.9 394.8,85.8 395.2,83.8 395.6,81.7 396,79.7 396.4,77.7 396.8,75.6 397.2,73.6 397.6,71.6 398,69.6 398.4,67.7 398.8,65.7 399.2,63.8 399.6,61.9 400,60.1 400.4,58.2 400.8,56.4 401.2,54.6 401.6,52.9 402,51.2 402.4,49.6 402.8,48 403.2,46.4 403.6,44.9 404,43.4 404.4,42 404.8,40.7 405.2,39.4 405.6,38.1 406,37 406.4,35.8 406.8,34.8 407.2,33.8 407.6,32.9 408,32 408.4,31.2 408.8,30.5 409.2,29.9 409.6,29.3 410,28.8 410.4,28.3 410.8,28 411.2,27.7 411.6,27.5 412,27.4 412.4,27.3 412.8,27.3 413.2,27.4 413.6,27.5 414,27.7 414.4,27.9 414.8,28.1 415.2,28.5 415.6,28.8 416,29.2 416.4,29.7 416.8,30.2 417.2,30.8 417.6,31.4 418,32.1 418.4,32.8 418.8,33.5 419.2,34.3 419.6,35.1 420,36 420.4,37 420.8,37.9 421.2,38.9 421.6,40 422,41.1 422.4,42.2 422.8,43.3 423.2,44.5 423.6,45.8 424,47 424.4,48.3 424.8,49.7 425.2,51 425.6,52.4 426,53.8 426.4,55.2 426.8,56.7 427.2,58.2 427.6,59.7 428,61.2 428.4,62.8 428.8,64.3 429.2,65.9 429.6,67.5 430,69.1 430.4,70.8 430.8,72.4 431.2,74.1 431.6,75.7 432,77.4 432.4,79 432.8,80.7 433.2,82.4 433.6,84.1 434,85.8 434.4,87.5" fill="none" stroke="#f03a3a" stroke-width="0.9" stroke-linejoin="round"/><path d="M401.2,87.9 401.6,85.5 402,83.1 402.4,80.8 402.8,78.4 403.2,76 403.6,73.7 404,71.4 404.4,69.1 404.8,66.8 405.2,64.6 405.6,62.4 406,60.2 406.4,58.1 406.8,56 407.2,53.9 407.6,52 408,50 408.4,48.2 408.8,46.3 409.2,44.6 409.6,42.9 410,41.3 410.4,39.8 410.8,38.3 411.2,37 411.6,35.7 412,34.5 412.4,33.3 412.8,32.3 413.2,31.4 413.6,30.5 414,29.8 414.4,29.1 414.8,28.6 415.2,28.1 415.6,27.8 416,27.5 416.4,27.4 416.8,27.3 417.2,27.3 417.6,27.4 418,27.5 418.4,27.6 418.8,27.8 419.2,28 419.6,28.3 420,28.6 420.4,29 420.8,29.3 421.2,29.8 421.6,30.2 422,30.7 422.4,31.3 422.8,31.9 423.2,32.5 423.6,33.1 424,33.8 424.4,34.6 424.8,35.3 425.2,36.1 425.6,37 426,37.8 426.4,38.7 426.8,39.7 427.2,40.6 427.6,41.6 428,42.6 428.4,43.7 428.8,44.8 429.2,45.9 429.6,47 430,48.2 430.4,49.4 430.8,50.6 431.2,51.8 431.6,53.1 432,54.3 432.4,55.6 432.8,57 433.2,58.3 433.6,59.6 434,61 434.4,62.4 434.8,63.8 435.2,65.2 435.6,66.6 436,68.1 436.4,69.5 436.8,71 437.2,72.5 437.6,74 438,75.4 438.4,76.9 438.8,78.4 439.2,79.9 439.6,81.5 440,83 440.4,84.5 440.8,86 441.2,87.5" fill="none" stroke="#f2c030" stroke-width="0.9" stroke-linejoin="round"/><path d="M403.2,86.2 403.6,84 404,81.8 404.4,79.6 404.8,77.4 405.2,75.2 405.6,73 406,70.8 406.4,68.7 406.8,66.6 407.2,64.5 407.6,62.4 408,60.4 408.4,58.4 408.8,56.4 409.2,54.5 409.6,52.7 410,50.8 410.4,49.1 410.8,47.3 411.2,45.7 411.6,44.1 412,42.5 412.4,41 412.8,39.6 413.2,38.2 413.6,37 414,35.8 414.4,34.6 414.8,33.6 415.2,32.6 415.6,31.7 416,30.9 416.4,30.1 416.8,29.5 417.2,28.9 417.6,28.4 418,28 418.4,27.7 418.8,27.5 419.2,27.3 419.6,27.3 420,27.3 420.4,27.4 420.8,27.5 421.2,27.6 421.6,27.8 422,28 422.4,28.3 422.8,28.6 423.2,28.9 423.6,29.3 424,29.7 424.4,30.1 424.8,30.6 425.2,31.2 425.6,31.7 426,32.3 426.4,33 426.8,33.6 427.2,34.3 427.6,35.1 428,35.9 428.4,36.7 428.8,37.5 429.2,38.4 429.6,39.3 430,40.2 430.4,41.2 430.8,42.2 431.2,43.2 431.6,44.2 432,45.3 432.4,46.4 432.8,47.6 433.2,48.7 433.6,49.9 434,51.1 434.4,52.3 434.8,53.6 435.2,54.8 435.6,56.1 436,57.4 436.4,58.7 436.8,60.1 437.2,61.4 437.6,62.8 438,64.2 438.4,65.6 438.8,67 439.2,68.4 439.6,69.8 440,71.3 440.4,72.7 440.8,74.2 441.2,75.6 441.6,77.1 442,78.6 442.4,80.1 442.8,81.6 443.2,83 443.6,84.5 444,86 444.4,87.5" fill="none" stroke="#50d040" stroke-width="0.9" stroke-linejoin="round"/><path d="M404,87.9 404.4,85.7 404.8,83.6 405.2,81.4 405.6,79.2 406,77.1 406.4,74.9 406.8,72.8 407.2,70.7 407.6,68.6 408,66.5 408.4,64.5 408.8,62.5 409.2,60.5 409.6,58.5 410,56.6 410.4,54.8 410.8,52.9 411.2,51.1 411.6,49.4 412,47.7 412.4,46.1 412.8,44.5 413.2,42.9 413.6,41.5 414,40.1 414.4,38.7 414.8,37.4 415.2,36.2 415.6,35.1 416,34 416.4,33 416.8,32.1 417.2,31.3 417.6,30.5 418,29.8 418.4,29.2 418.8,28.7 419.2,28.3 419.6,27.9 420,27.6 420.4,27.4 420.8,27.3 421.2,27.3 421.6,27.3 422,27.4 422.4,27.5 422.8,27.6 423.2,27.8 423.6,28 424,28.2 424.4,28.5 424.8,28.8 425.2,29.2 425.6,29.6 426,30 426.4,30.4 426.8,30.9 427.2,31.4 427.6,32 428,32.6 428.4,33.2 428.8,33.8 429.2,34.5 429.6,35.2 430,36 430.4,36.7 430.8,37.5 431.2,38.4 431.6,39.2 432,40.1 432.4,41 432.8,42 433.2,42.9 433.6,43.9 434,44.9 434.4,46 434.8,47 435.2,48.1 435.6,49.2 436,50.4 436.4,51.5 436.8,52.7 437.2,53.9 437.6,55.1 438,56.3 438.4,57.5 438.8,58.8 439.2,60.1 439.6,61.4 440,62.7 440.4,64 440.8,65.3 441.2,66.6 441.6,68 442,69.3 442.4,70.7 442.8,72.1 443.2,73.5 443.6,74.9 444,76.2 444.4,77.6 444.8,79.1 445.2,80.5 445.6,81.9 446,83.3 446.4,84.7 446.8,86.1 447.2,87.5" fill="none" stroke="#5aa8f2" stroke-width="0.9" stroke-linejoin="round"/><path d="M405.2,87.4 405.6,85.2 406,83.1 406.4,81 406.8,78.9 407.2,76.8 407.6,74.7 408,72.6 408.4,70.6 408.8,68.5 409.2,66.5 409.6,64.5 410,62.5 410.4,60.6 410.8,58.7 411.2,56.8 411.6,55 412,53.2 412.4,51.4 412.8,49.7 413.2,48.1 413.6,46.4 414,44.9 414.4,43.4 414.8,41.9 415.2,40.5 415.6,39.2 416,37.9 416.4,36.7 416.8,35.6 417.2,34.5 417.6,33.5 418,32.6 418.4,31.7 418.8,30.9 419.2,30.2 419.6,29.6 420,29 420.4,28.5 420.8,28.1 421.2,27.8 421.6,27.6 422,27.4 422.4,27.3 422.8,27.3 423.2,27.3 423.6,27.4 424,27.5 424.4,27.7 424.8,27.8 425.2,28.1 425.6,28.3 426,28.6 426.4,28.9 426.8,29.3 427.2,29.7 427.6,30.1 428,30.6 428.4,31 428.8,31.6 429.2,32.1 429.6,32.7 430,33.3 430.4,34 430.8,34.7 431.2,35.4 431.6,36.2 432,36.9 432.4,37.7 432.8,38.6 433.2,39.5 433.6,40.3 434,41.3 434.4,42.2 434.8,43.2 435.2,44.2 435.6,45.2 436,46.2 436.4,47.3 436.8,48.4 437.2,49.5 437.6,50.7 438,51.8 438.4,53 438.8,54.2 439.2,55.4 439.6,56.6 440,57.9 440.4,59.1 440.8,60.4 441.2,61.7 441.6,63 442,64.3 442.4,65.6 442.8,67 443.2,68.3 443.6,69.7 444,71 444.4,72.4 444.8,73.8 445.2,75.2 445.6,76.6 446,78 446.4,79.4 446.8,80.8 447.2,82.2 447.6,83.6 448,85.1 448.4,86.5 448.8,87.9" fill="none" stroke="#c050f4" stroke-width="0.9" stroke-linejoin="round"/><line x1="390.7" y1="12" x2="390.7" y2="88" stroke="#333" stroke-width="0.9"/><line x1="390.7" y1="88" x2="450.5" y2="88" stroke="#333" stroke-width="0.9"/><line x1="388.7" y1="87.9" x2="390.7" y2="87.9" stroke="#333" stroke-width="0.7"/><text font-size="4.3" fill="#222" text-anchor="end" transform="translate(387.9 89.6) scale(1 1.12)">0.6</text><line x1="388.7" y1="57.6" x2="390.7" y2="57.6" stroke="#333" stroke-width="0.7"/><text font-size="4.3" fill="#222" text-anchor="end" transform="translate(387.9 59.3) scale(1 1.12)">0.8</text><line x1="388.7" y1="27.3" x2="390.7" y2="27.3" stroke="#333" stroke-width="0.7"/><text font-size="4.3" fill="#222" text-anchor="end" transform="translate(387.9 29) scale(1 1.12)">1.0</text><line x1="389.5" y1="72.8" x2="390.7" y2="72.8" stroke="#333" stroke-width="0.6"/><line x1="389.5" y1="42.4" x2="390.7" y2="42.4" stroke="#333" stroke-width="0.6"/><line x1="410.4" y1="88" x2="410.4" y2="90" stroke="#333" stroke-width="0.7"/><text font-size="4.3" fill="#222" text-anchor="middle" transform="translate(410.4 93.3) scale(1 1.12)">450</text><line x1="435.3" y1="88" x2="435.3" y2="90" stroke="#333" stroke-width="0.7"/><text font-size="4.3" fill="#222" text-anchor="middle" transform="translate(435.3 93.3) scale(1 1.12)">600</text><line x1="397.9" y1="88" x2="397.9" y2="89.2" stroke="#333" stroke-width="0.6"/><line x1="422.9" y1="88" x2="422.9" y2="89.2" stroke="#333" stroke-width="0.6"/><line x1="447.8" y1="88" x2="447.8" y2="89.2" stroke="#333" stroke-width="0.6"/><line x1="404.2" y1="22.5" x2="430" y2="22.5" stroke="#222" stroke-width="0.9"/><path d="M433.2 22.5 L428.8 21 L428.8 24Z" fill="#222"/><text font-size="5.6" fill="#222" text-anchor="middle" transform="translate(421.6 101.2) scale(1 1.12)">Wavelength (nm)</text><text font-size="6.0" fill="#222" text-anchor="middle" transform="translate(382.1 45.2) rotate(-90)">Normalized Emission</text><path d="M316,346.3 316.5,345.5 317,344.7 317.5,344 318,343.2 318.5,342.4 319,341.6 319.5,340.8 320,340.1 320.5,339.3 321,338.5 321.5,337.8 322,337 322.5,336.2 323,335.5 323.5,334.7 324,334 324.5,333.3 325,332.5 325.5,331.8 326,331 326.5,330.3 327,329.5 327.5,328.8 328,328 328.5,327.2 329,326.4 329.5,325.6 330,324.8 330.5,323.9 331,323.1 331.5,322.3 332,321.4 332.5,320.6 333,319.8 333.5,318.9 334,318 334.5,317.2 335,316.3 335.5,315.4 336,314.4 336.5,313.5 337,312.6 337.5,311.7 338,310.8 338.5,310 339,309.2 339.5,308.5 340,307.8 340.5,307.1 341,306.5 341.5,306 342,305.6 342.5,305.2 343,304.8 343.5,304.5 344,304.2 344.5,304 345,303.8 345.5,303.6 346,303.5 346.5,303.4 347,303.3 347.5,303.3 348,303.4 348.5,303.5 349,303.6 349.5,303.8 350,304 350.5,304.3 351,304.8 351.5,305.4 352,306.2 352.5,307.1 353,308 353.5,309 354,309.9 354.5,310.9 355,311.8 355.5,312.7 356,313.6 356.5,314.6 357,315.6 357.5,316.6 358,317.7 358.5,318.8 359,319.8 359.5,320.9 360,321.9 360.5,323 361,324 361.5,325 362,325.9 362.5,326.8 363,327.7 363.5,328.5 364,329.3 364.5,330.1 365,330.8 365.5,331.6 366,332.2 366.5,332.9 367,333.5 367.5,334.1 368,334.6 368.5,335.2 369,335.7 369.5,336.2 370,336.7 370.5,337.2 371,337.6 371.5,338 372,338.3 372.5,338.6 373,338.9 373.5,339.2 374,339.4 374.5,339.7 375,339.9 375.5,340.1 376,340.4 376.5,340.6 377,340.8 377.5,341 378,341.1 378.5,341.3 379,341.5 379.5,341.6 380,341.8 380.5,342 381,342.1 381.5,342.3 382,342.4 382.5,342.6 383,342.7 383.5,342.9 384,343 384.5,343.1 385,343.2 385.5,343.4 386,343.5 386.5,343.6 387,343.6 387.5,343.7 388,343.8 388.5,343.9 389,343.9 389.5,344 390,344 390.5,344.1 391,344.1 391.5,344.2 392,344.2 392.5,344.3 393,344.3 393.5,344.4 394,344.4 394.5,344.4 395,344.5 395.5,344.5 396,344.5 396.5,344.6 397,344.6 397.5,344.6 398,344.7 398.5,344.7 399,344.7 399.5,344.8 400,344.8 400.5,344.8 401,344.9 401.5,344.9 402,344.9 402.5,345 403,345 403.5,345 404,345.1 404.5,345.1 405,345.1 405.5,345.2 406,345.2 406.5,345.2 407,345.3 407.5,345.3 408,345.3 408.5,345.3 409,345.4 409.5,345.4 410,345.4 410.5,345.5 411,345.5 411.5,345.5 412,345.5 412.5,345.6 413,345.6 413.5,345.6 414,345.6 414.5,345.6 415,345.7 415.5,345.7 416,345.7 416.5,345.7 417,345.7 417.5,345.8 418,345.8 418.5,345.8 419,345.8 419.5,345.8 420,345.8 420.5,345.8 421,345.8 421.5,345.8 422,345.8 422.5,345.8 423,345.8 423.5,345.8 424,345.8 424.5,345.9 425,345.9 425.5,345.9 426,345.9 426.5,345.9 427,345.9 427.5,345.9 428,345.9 428.5,345.9 429,345.9 429.5,345.9 430,345.9 430.5,345.9 431,345.9 431.5,345.9 432,345.9 432.5,345.9 433,345.9 433.5,345.9 434,345.9 434.5,345.9 435,345.9 435.5,345.9 436,346 436.5,346 437,346 437.5,346 438,346 438.5,346 439,346 439.5,346 440,346 440.5,346 441,346 441.5,346 442,346 442.5,346 443,346 443.5,346 444,346 444.5,346 445,346 445.5,346 446,346 446.5,346 447,346 447.5,346 448,346 448.5,346 449,346 449.5,346 450,346" fill="none" stroke="#e8463c" stroke-width="1.15" stroke-dasharray="1.6 1.6"/><path d="M316,346.3 316.5,345.5 317,344.7 317.5,344 318,343.2 318.5,342.4 319,341.6 319.5,340.8 320,340.1 320.5,339.3 321,338.5 321.5,337.8 322,337 322.5,336.2 323,335.5 323.5,334.7 324,334 324.5,333.3 325,332.5 325.5,331.8 326,331 326.5,330.3 327,329.5 327.5,328.8 328,328 328.5,327.2 329,326.4 329.5,325.7 330,324.9 330.5,324.1 331,323.4 331.5,322.6 332,321.8 332.5,321 333,320.1 333.5,319.2 334,318.2 334.5,317.2 335,316.1 335.5,314.8 336,313.4 336.5,312 337,310.5 337.5,309 338,307.5 338.5,306 339,304.5 339.5,303 340,301.5 340.5,300 341,298.5 341.5,297.2 342,296 342.5,294.9 343,293.8 343.5,292.7 344,291.7 344.5,290.8 345,290.1 345.5,289.4 346,289 346.5,288.7 347,288.4 347.5,288.1 348,287.8 348.5,287.6 349,287.4 349.5,287.3 350,287.2 350.5,287.2 351,287.3 351.5,287.5 352,287.8 352.5,288.2 353,288.6 353.5,289.1 354,289.5 354.5,290 355,290.6 355.5,291.3 356,292.1 356.5,292.9 357,293.8 357.5,294.7 358,295.6 358.5,296.6 359,297.6 359.5,298.8 360,300 360.5,301.2 361,302.5 361.5,303.8 362,305 362.5,306.2 363,307.5 363.5,308.8 364,310.1 364.5,311.4 365,312.7 365.5,313.9 366,315 366.5,316.1 367,317.1 367.5,318.1 368,319.1 368.5,320 369,320.9 369.5,321.8 370,322.7 370.5,323.5 371,324.3 371.5,325.1 372,325.9 372.5,326.7 373,327.4 373.5,328.1 374,328.8 374.5,329.4 375,330 375.5,330.6 376,331.1 376.5,331.7 377,332.2 377.5,332.7 378,333.2 378.5,333.7 379,334.2 379.5,334.7 380,335.1 380.5,335.5 381,336 381.5,336.4 382,336.7 382.5,337.1 383,337.4 383.5,337.7 384,338 384.5,338.3 385,338.5 385.5,338.7 386,338.9 386.5,339.1 387,339.3 387.5,339.5 388,339.7 388.5,339.8 389,340 389.5,340.2 390,340.3 390.5,340.5 391,340.6 391.5,340.8 392,340.9 392.5,341 393,341.2 393.5,341.3 394,341.4 394.5,341.5 395,341.6 395.5,341.7 396,341.8 396.5,342 397,342.1 397.5,342.1 398,342.2 398.5,342.3 399,342.4 399.5,342.5 400,342.6 400.5,342.7 401,342.8 401.5,342.9 402,342.9 402.5,343 403,343.1 403.5,343.2 404,343.2 404.5,343.3 405,343.4 405.5,343.5 406,343.5 406.5,343.6 407,343.7 407.5,343.8 408,343.8 408.5,343.9 409,344 409.5,344 410,344.1 410.5,344.2 411,344.2 411.5,344.3 412,344.3 412.5,344.4 413,344.4 413.5,344.5 414,344.5 414.5,344.6 415,344.6 415.5,344.7 416,344.7 416.5,344.8 417,344.8 417.5,344.8 418,344.9 418.5,344.9 419,344.9 419.5,345 420,345 420.5,345 421,345.1 421.5,345.1 422,345.1 422.5,345.1 423,345.2 423.5,345.2 424,345.2 424.5,345.2 425,345.3 425.5,345.3 426,345.3 426.5,345.3 427,345.4 427.5,345.4 428,345.4 428.5,345.4 429,345.5 429.5,345.5 430,345.5 430.5,345.5 431,345.5 431.5,345.6 432,345.6 432.5,345.6 433,345.6 433.5,345.6 434,345.7 434.5,345.7 435,345.7 435.5,345.7 436,345.7 436.5,345.8 437,345.8 437.5,345.8 438,345.8 438.5,345.8 439,345.8 439.5,345.8 440,345.9 440.5,345.9 441,345.9 441.5,345.9 442,345.9 442.5,345.9 443,345.9 443.5,345.9 444,345.9 444.5,346 445,346 445.5,346 446,346 446.5,346 447,346 447.5,346 448,346 448.5,346 449,346 449.5,346 450,346" fill="none" stroke="#f0783a" stroke-width="1.15" stroke-dasharray="1.6 1.6"/><path d="M316,346.3 316.5,345.5 317,344.7 317.5,344 318,343.2 318.5,342.4 319,341.6 319.5,340.8 320,340.1 320.5,339.3 321,338.5 321.5,337.8 322,337 322.5,336.2 323,335.5 323.5,334.7 324,334 324.5,333.3 325,332.5 325.5,331.8 326,331 326.5,330.3 327,329.5 327.5,328.8 328,328 328.5,327.2 329,326.4 329.5,325.7 330,324.9 330.5,324.2 331,323.4 331.5,322.7 332,321.9 332.5,321 333,320.2 333.5,319.3 334,318.3 334.5,317.2 335,316.1 335.5,314.8 336,313.5 336.5,312.1 337,310.5 337.5,308.9 338,307.2 338.5,305.4 339,303.5 339.5,301.5 340,299.3 340.5,296.8 341,294.2 341.5,291.5 342,288.6 342.5,285.7 343,282.8 343.5,280 344,277.2 344.5,274.4 345,271.5 345.5,268.5 346,265.6 346.5,262.8 347,260.2 347.5,258 348,255.9 348.5,253.9 349,252.1 349.5,250.4 350,249 350.5,248 351,247.2 351.5,246.4 352,245.8 352.5,245.4 353,245.2 353.5,245.3 354,245.5 354.5,245.9 355,246.4 355.5,246.9 356,247.5 356.5,248.3 357,249.6 357.5,251.2 358,253 358.5,255.1 359,257.3 359.5,259.7 360,262 360.5,264.3 361,266.5 361.5,268.5 362,270.5 362.5,272.6 363,274.7 363.5,276.8 364,278.9 364.5,281 365,283 365.5,285 366,287.1 366.5,289.1 367,291.1 367.5,293.1 368,295 368.5,296.8 369,298.5 369.5,300.2 370,301.7 370.5,303.2 371,304.6 371.5,306 372,307.3 372.5,308.6 373,309.8 373.5,311 374,312.2 374.5,313.3 375,314.4 375.5,315.5 376,316.5 376.5,317.5 377,318.5 377.5,319.4 378,320.2 378.5,321 379,321.8 379.5,322.5 380,323.2 380.5,323.9 381,324.6 381.5,325.2 382,325.8 382.5,326.4 383,327 383.5,327.5 384,328 384.5,328.5 385,329 385.5,329.4 386,329.9 386.5,330.3 387,330.7 387.5,331.1 388,331.5 388.5,331.9 389,332.2 389.5,332.6 390,332.9 390.5,333.3 391,333.7 391.5,334 392,334.4 392.5,334.7 393,335.1 393.5,335.5 394,335.9 394.5,336.2 395,336.6 395.5,336.9 396,337.3 396.5,337.6 397,337.9 397.5,338.2 398,338.5 398.5,338.8 399,339.1 399.5,339.3 400,339.5 400.5,339.7 401,339.9 401.5,340.1 402,340.2 402.5,340.4 403,340.6 403.5,340.8 404,340.9 404.5,341.1 405,341.2 405.5,341.4 406,341.5 406.5,341.7 407,341.8 407.5,341.9 408,342.1 408.5,342.2 409,342.3 409.5,342.4 410,342.5 410.5,342.6 411,342.7 411.5,342.9 412,343 412.5,343.1 413,343.1 413.5,343.2 414,343.3 414.5,343.4 415,343.5 415.5,343.6 416,343.7 416.5,343.7 417,343.8 417.5,343.9 418,344 418.5,344.1 419,344.2 419.5,344.2 420,344.3 420.5,344.4 421,344.5 421.5,344.5 422,344.6 422.5,344.7 423,344.7 423.5,344.8 424,344.9 424.5,344.9 425,345 425.5,345 426,345.1 426.5,345.1 427,345.2 427.5,345.2 428,345.2 428.5,345.2 429,345.3 429.5,345.3 430,345.3 430.5,345.3 431,345.3 431.5,345.3 432,345.3 432.5,345.3 433,345.4 433.5,345.4 434,345.4 434.5,345.4 435,345.4 435.5,345.4 436,345.4 436.5,345.4 437,345.4 437.5,345.4 438,345.4 438.5,345.4 439,345.4 439.5,345.4 440,345.4 440.5,345.5 441,345.5 441.5,345.5 442,345.5 442.5,345.5 443,345.5 443.5,345.5 444,345.5 444.5,345.5 445,345.5 445.5,345.5 446,345.5 446.5,345.5 447,345.5 447.5,345.5 448,345.5 448.5,345.5 449,345.5 449.5,345.5 450,345.5" fill="none" stroke="#4cb048" stroke-width="1.15" stroke-dasharray="1.6 1.6"/><path d="M316,346.3 316.5,345.5 317,344.7 317.5,344 318,343.2 318.5,342.4 319,341.6 319.5,340.8 320,340.1 320.5,339.3 321,338.5 321.5,337.8 322,337 322.5,336.2 323,335.5 323.5,334.7 324,334 324.5,333.3 325,332.5 325.5,331.8 326,331 326.5,330.3 327,329.5 327.5,328.8 328,328 328.5,327.2 329,326.4 329.5,325.7 330,324.9 330.5,324.2 331,323.4 331.5,322.7 332,321.9 332.5,321 333,320.2 333.5,319.3 334,318.3 334.5,317.2 335,316.1 335.5,314.9 336,313.5 336.5,312.1 337,310.6 337.5,309 338,307.2 338.5,305.4 339,303.5 339.5,301.5 340,299.2 340.5,296.7 341,294 341.5,291.1 342,288 342.5,284.9 343,281.6 343.5,278.3 344,275 344.5,271.5 345,267.7 345.5,263.7 346,259.7 346.5,255.6 347,251.7 347.5,248 348,244.3 348.5,240.5 349,236.7 349.5,233.2 350,230.3 350.5,228 351,226.2 351.5,224.4 352,222.8 352.5,221.5 353,220.5 353.5,220 354,220.1 354.5,220.4 355,221 355.5,221.9 356,222.9 356.5,223.9 357,225 357.5,226.3 358,228.1 358.5,230 359,232.1 359.5,234.2 360,236 360.5,237.6 361,239.2 361.5,240.6 362,242 362.5,243.5 363,244.9 363.5,246.5 364,248.2 364.5,250 365,252.1 365.5,254.4 366,257 366.5,259.6 367,262.2 367.5,264.7 368,267 368.5,269.1 369,271.2 369.5,273.2 370,275.1 370.5,277 371,278.9 371.5,280.7 372,282.5 372.5,284.2 373,285.8 373.5,287.5 374,289 374.5,290.6 375,292.1 375.5,293.6 376,295 376.5,296.5 377,298 377.5,299.5 378,301 378.5,302.6 379,304.1 379.5,305.6 380,307.1 380.5,308.5 381,309.8 381.5,311.1 382,312.3 382.5,313.4 383,314.4 383.5,315.5 384,316.4 384.5,317.4 385,318.3 385.5,319.2 386,320 386.5,320.8 387,321.6 387.5,322.4 388,323.2 388.5,324 389,324.7 389.5,325.4 390,326 390.5,326.7 391,327.3 391.5,327.8 392,328.4 392.5,328.9 393,329.4 393.5,329.9 394,330.4 394.5,330.9 395,331.4 395.5,331.8 396,332.3 396.5,332.7 397,333.1 397.5,333.5 398,333.9 398.5,334.3 399,334.6 399.5,335 400,335.3 400.5,335.6 401,335.9 401.5,336.3 402,336.6 402.5,336.9 403,337.2 403.5,337.5 404,337.8 404.5,338 405,338.3 405.5,338.6 406,338.8 406.5,339.1 407,339.3 407.5,339.5 408,339.7 408.5,340 409,340.1 409.5,340.3 410,340.5 410.5,340.7 411,340.8 411.5,341 412,341.1 412.5,341.3 413,341.4 413.5,341.6 414,341.7 414.5,341.9 415,342 415.5,342.1 416,342.2 416.5,342.4 417,342.5 417.5,342.6 418,342.7 418.5,342.8 419,342.9 419.5,343 420,343.1 420.5,343.2 421,343.3 421.5,343.4 422,343.5 422.5,343.6 423,343.7 423.5,343.8 424,343.9 424.5,343.9 425,344 425.5,344.1 426,344.1 426.5,344.2 427,344.3 427.5,344.4 428,344.4 428.5,344.5 429,344.6 429.5,344.6 430,344.7 430.5,344.8 431,344.8 431.5,344.9 432,345 432.5,345 433,345.1 433.5,345.1 434,345.2 434.5,345.2 435,345.3 435.5,345.3 436,345.3 436.5,345.4 437,345.4 437.5,345.4 438,345.5 438.5,345.5 439,345.5 439.5,345.5 440,345.5 440.5,345.5 441,345.5 441.5,345.5 442,345.5 442.5,345.5 443,345.5 443.5,345.4 444,345.4 444.5,345.4 445,345.4 445.5,345.4 446,345.3 446.5,345.3 447,345.3 447.5,345.2 448,345.2 448.5,345.1 449,345.1 449.5,345.1 450,345" fill="none" stroke="#3a66c8" stroke-width="1.15" stroke-dasharray="1.6 1.6"/><path d="M316,346.3 316.5,345.5 317,344.7 317.5,344 318,343.2 318.5,342.4 319,341.6 319.5,340.8 320,340.1 320.5,339.3 321,338.5 321.5,337.8 322,337 322.5,336.2 323,335.5 323.5,334.7 324,334 324.5,333.3 325,332.5 325.5,331.8 326,331 326.5,330.3 327,329.5 327.5,328.8 328,328 328.5,327.2 329,326.4 329.5,325.7 330,324.9 330.5,324.2 331,323.4 331.5,322.7 332,321.9 332.5,321 333,320.2 333.5,319.3 334,318.3 334.5,317.2 335,316.1 335.5,314.8 336,313.5 336.5,312 337,310.5 337.5,308.8 338,307.1 338.5,305.3 339,303.5 339.5,301.5 340,299.4 340.5,297.1 341,294.6 341.5,292 342,289.3 342.5,286.5 343,283.7 343.5,280.9 344,278 344.5,275 345,271.8 345.5,268.6 346,265.2 346.5,262 347,258.9 347.5,256 348,253.2 348.5,250.4 349,247.6 349.5,245 350,242.6 350.5,240.6 351,239 351.5,237.7 352,236.4 352.5,235.2 353,234 353.5,233.1 354,232.3 354.5,231.7 355,231.4 355.5,231.3 356,231.4 356.5,231.7 357,232 357.5,232.4 358,232.9 358.5,233.4 359,234 359.5,234.8 360,235.9 360.5,237.3 361,238.8 361.5,240.4 362,242 362.5,243.6 363,245.3 363.5,247.1 364,249 364.5,251 365,253.1 365.5,255.4 366,257.7 366.5,260.1 367,262.5 367.5,264.8 368,267 368.5,269.1 369,271.1 369.5,273.1 370,275.1 370.5,277 371,278.9 371.5,280.7 372,282.5 372.5,284.2 373,285.8 373.5,287.5 374,289 374.5,290.6 375,292.1 375.5,293.6 376,295 376.5,296.5 377,298 377.5,299.5 378,301 378.5,302.6 379,304.1 379.5,305.6 380,307.1 380.5,308.5 381,309.8 381.5,311.1 382,312.3 382.5,313.4 383,314.4 383.5,315.5 384,316.4 384.5,317.4 385,318.3 385.5,319.2 386,320 386.5,320.8 387,321.6 387.5,322.4 388,323.2 388.5,324 389,324.7 389.5,325.4 390,326 390.5,326.7 391,327.3 391.5,327.8 392,328.4 392.5,328.9 393,329.4 393.5,329.9 394,330.4 394.5,330.9 395,331.4 395.5,331.8 396,332.3 396.5,332.7 397,333.1 397.5,333.5 398,333.9 398.5,334.3 399,334.6 399.5,335 400,335.3 400.5,335.6 401,335.9 401.5,336.3 402,336.6 402.5,336.9 403,337.2 403.5,337.5 404,337.8 404.5,338 405,338.3 405.5,338.6 406,338.8 406.5,339.1 407,339.3 407.5,339.5 408,339.7 408.5,340 409,340.1 409.5,340.3 410,340.5 410.5,340.7 411,340.8 411.5,341 412,341.1 412.5,341.3 413,341.4 413.5,341.6 414,341.7 414.5,341.9 415,342 415.5,342.1 416,342.2 416.5,342.4 417,342.5 417.5,342.6 418,342.7 418.5,342.8 419,342.9 419.5,343 420,343.1 420.5,343.2 421,343.3 421.5,343.4 422,343.5 422.5,343.6 423,343.7 423.5,343.8 424,343.9 424.5,343.9 425,344 425.5,344.1 426,344.1 426.5,344.2 427,344.3 427.5,344.4 428,344.4 428.5,344.5 429,344.6 429.5,344.6 430,344.7 430.5,344.8 431,344.8 431.5,344.9 432,345 432.5,345 433,345.1 433.5,345.1 434,345.2 434.5,345.2 435,345.3 435.5,345.3 436,345.3 436.5,345.4 437,345.4 437.5,345.4 438,345.5 438.5,345.5 439,345.5 439.5,345.5 440,345.5 440.5,345.5 441,345.5 441.5,345.5 442,345.5 442.5,345.5 443,345.5 443.5,345.4 444,345.4 444.5,345.4 445,345.4 445.5,345.4 446,345.3 446.5,345.3 447,345.3 447.5,345.2 448,345.2 448.5,345.1 449,345.1 449.5,345.1 450,345" fill="none" stroke="#8a3cc0" stroke-width="1.15" stroke-dasharray="1.6 1.6"/><rect x="266.5" y="198.5" width="184" height="147.8" fill="none" stroke="#333" stroke-width="1.1"/><line x1="277.2" y1="346.3" x2="277.2" y2="347.9" stroke="#333" stroke-width="1"/><line x1="311.8" y1="346.3" x2="311.8" y2="347.9" stroke="#333" stroke-width="1"/><line x1="346.4" y1="346.3" x2="346.4" y2="347.9" stroke="#333" stroke-width="1"/><line x1="381" y1="346.3" x2="381" y2="347.9" stroke="#333" stroke-width="1"/><line x1="415.6" y1="346.3" x2="415.6" y2="347.9" stroke="#333" stroke-width="1"/><line x1="450.2" y1="346.3" x2="450.2" y2="347.9" stroke="#333" stroke-width="1"/><line x1="294.5" y1="346.3" x2="294.5" y2="349.3" stroke="#333" stroke-width="1"/><line x1="329.1" y1="346.3" x2="329.1" y2="349.3" stroke="#333" stroke-width="1"/><line x1="363.7" y1="346.3" x2="363.7" y2="349.3" stroke="#333" stroke-width="1"/><line x1="398.3" y1="346.3" x2="398.3" y2="349.3" stroke="#333" stroke-width="1"/><line x1="432.9" y1="346.3" x2="432.9" y2="349.3" stroke="#333" stroke-width="1"/><text font-size="7.8" fill="#222" text-anchor="middle" transform="translate(294.5 358.3) scale(1 1.12)">300</text><text font-size="7.8" fill="#222" text-anchor="middle" transform="translate(329.1 358.3) scale(1 1.12)">400</text><text font-size="7.8" fill="#222" text-anchor="middle" transform="translate(363.7 358.3) scale(1 1.12)">500</text><text font-size="7.8" fill="#222" text-anchor="middle" transform="translate(398.3 358.3) scale(1 1.12)">600</text><text font-size="7.8" fill="#222" text-anchor="middle" transform="translate(432.9 358.3) scale(1 1.12)">700</text><line x1="264.9" y1="334.8" x2="266.5" y2="334.8" stroke="#333" stroke-width="1"/><line x1="264.9" y1="311.7" x2="266.5" y2="311.7" stroke="#333" stroke-width="1"/><line x1="264.9" y1="288.6" x2="266.5" y2="288.6" stroke="#333" stroke-width="1"/><line x1="264.9" y1="265.5" x2="266.5" y2="265.5" stroke="#333" stroke-width="1"/><line x1="264.9" y1="242.4" x2="266.5" y2="242.4" stroke="#333" stroke-width="1"/><line x1="264.9" y1="219.3" x2="266.5" y2="219.3" stroke="#333" stroke-width="1"/><line x1="263.5" y1="346.3" x2="266.5" y2="346.3" stroke="#333" stroke-width="1"/><line x1="263.5" y1="323.2" x2="266.5" y2="323.2" stroke="#333" stroke-width="1"/><line x1="263.5" y1="300.1" x2="266.5" y2="300.1" stroke="#333" stroke-width="1"/><line x1="263.5" y1="277" x2="266.5" y2="277" stroke="#333" stroke-width="1"/><line x1="263.5" y1="253.9" x2="266.5" y2="253.9" stroke="#333" stroke-width="1"/><line x1="263.5" y1="230.8" x2="266.5" y2="230.8" stroke="#333" stroke-width="1"/><line x1="263.5" y1="207.7" x2="266.5" y2="207.7" stroke="#333" stroke-width="1"/><text font-size="7.8" fill="#222" text-anchor="end" transform="translate(261.1 349.4) scale(1 1.12)">0</text><text font-size="7.8" fill="#222" text-anchor="end" transform="translate(261.1 326.3) scale(1 1.12)">50</text><text font-size="7.8" fill="#222" text-anchor="end" transform="translate(261.1 303.2) scale(1 1.12)">100</text><text font-size="7.8" fill="#222" text-anchor="end" transform="translate(261.1 280.1) scale(1 1.12)">150</text><text font-size="7.8" fill="#222" text-anchor="end" transform="translate(261.1 257.1) scale(1 1.12)">200</text><text font-size="7.8" fill="#222" text-anchor="end" transform="translate(261.1 234) scale(1 1.12)">250</text><text font-size="7.8" fill="#222" text-anchor="end" transform="translate(261.1 210.9) scale(1 1.12)">300</text><text font-size="9.8" fill="#222" text-anchor="middle" transform="translate(245.4 272.9) rotate(-90)">Emission Intensity (a.u.)</text><text font-size="9.8" fill="#222" text-anchor="middle" transform="translate(358.5 372.2) scale(1 1.12)">Wavelength (nm)</text><text font-size="15.2" fill="#000" font-weight="bold" font-style="italic" transform="translate(236 198.6) scale(1 1.0)">D</text><line x1="267.2" y1="204.5" x2="282" y2="204.5" stroke="#e8463c" stroke-width="1.15" stroke-dasharray="1.6 1.6"/><text font-size="6.2" fill="#222" transform="translate(285 207) scale(1 1.12)">RAFT1-99</text><line x1="267.2" y1="212.2" x2="282" y2="212.2" stroke="#f0783a" stroke-width="1.15" stroke-dasharray="1.6 1.6"/><text font-size="6.2" fill="#222" transform="translate(285 214.6) scale(1 1.12)">RAFT10-90</text><line x1="267.2" y1="219.8" x2="282" y2="219.8" stroke="#4cb048" stroke-width="1.15" stroke-dasharray="1.6 1.6"/><text font-size="6.2" fill="#222" transform="translate(285 222.3) scale(1 1.12)">RAFT20-80</text><line x1="267.2" y1="227.4" x2="282" y2="227.4" stroke="#3a66c8" stroke-width="1.15" stroke-dasharray="1.6 1.6"/><text font-size="6.2" fill="#222" transform="translate(285 229.9) scale(1 1.12)">RAFT50-50</text><line x1="267.2" y1="235.1" x2="282" y2="235.1" stroke="#8a3cc0" stroke-width="1.15" stroke-dasharray="1.6 1.6"/><text font-size="6.2" fill="#222" transform="translate(285 237.6) scale(1 1.12)">RAFT75-25</text><path d="M393.2,274.5 393.6,272.6 394,270.7 394.4,268.9 394.8,267 395.2,265.1 395.6,263.2 396,261.4 396.4,259.5 396.8,257.7 397.2,255.9 397.6,254.1 398,252.3 398.4,250.6 398.8,248.8 399.2,247.1 399.6,245.4 400,243.7 400.4,242.1 400.8,240.5 401.2,238.9 401.6,237.4 402,235.9 402.4,234.4 402.8,233 403.2,231.6 403.6,230.2 404,228.9 404.4,227.7 404.8,226.4 405.2,225.3 405.6,224.2 406,223.1 406.4,222.1 406.8,221.1 407.2,220.2 407.6,219.4 408,218.6 408.4,217.8 408.8,217.2 409.2,216.5 409.6,216 410,215.5 410.4,215 410.8,214.7 411.2,214.3 411.6,214.1 412,213.9 412.4,213.8 412.8,213.7 413.2,213.7 413.6,213.8 414,213.9 414.4,214.1 414.8,214.3 415.2,214.6 415.6,214.9 416,215.3 416.4,215.8 416.8,216.3 417.2,216.9 417.6,217.5 418,218.2 418.4,218.9 418.8,219.7 419.2,220.5 419.6,221.4 420,222.3 420.4,223.3 420.8,224.3 421.2,225.4 421.6,226.5 422,227.7 422.4,228.9 422.8,230.1 423.2,231.4 423.6,232.8 424,234.1 424.4,235.5 424.8,236.9 425.2,238.4 425.6,239.9 426,241.4 426.4,243 426.8,244.6 427.2,246.2 427.6,247.8 428,249.5 428.4,251.1 428.8,252.8 429.2,254.5 429.6,256.3 430,258 430.4,259.7 430.8,261.5 431.2,263.3 431.6,265.1 432,266.9 432.4,268.6 432.8,270.4 433.2,272.2 433.6,274" fill="none" stroke="#e83c3c" stroke-width="0.9" stroke-linejoin="round"/><path d="M399.2,273.5 399.6,271.5 400,269.5 400.4,267.5 400.8,265.4 401.2,263.5 401.6,261.5 402,259.5 402.4,257.5 402.8,255.6 403.2,253.7 403.6,251.8 404,249.9 404.4,248 404.8,246.2 405.2,244.4 405.6,242.7 406,240.9 406.4,239.2 406.8,237.6 407.2,236 407.6,234.4 408,232.9 408.4,231.4 408.8,229.9 409.2,228.6 409.6,227.2 410,225.9 410.4,224.7 410.8,223.5 411.2,222.4 411.6,221.4 412,220.4 412.4,219.5 412.8,218.6 413.2,217.8 413.6,217.1 414,216.5 414.4,215.9 414.8,215.3 415.2,214.9 415.6,214.5 416,214.2 416.4,214 416.8,213.8 417.2,213.7 417.6,213.7 418,213.7 418.4,213.8 418.8,214 419.2,214.1 419.6,214.4 420,214.6 420.4,215 420.8,215.3 421.2,215.7 421.6,216.2 422,216.7 422.4,217.2 422.8,217.8 423.2,218.5 423.6,219.2 424,219.9 424.4,220.6 424.8,221.5 425.2,222.3 425.6,223.2 426,224.1 426.4,225.1 426.8,226.1 427.2,227.1 427.6,228.2 428,229.3 428.4,230.4 428.8,231.6 429.2,232.8 429.6,234.1 430,235.3 430.4,236.6 430.8,237.9 431.2,239.3 431.6,240.7 432,242.1 432.4,243.5 432.8,244.9 433.2,246.4 433.6,247.9 434,249.4 434.4,250.9 434.8,252.4 435.2,254 435.6,255.5 436,257.1 436.4,258.7 436.8,260.3 437.2,261.9 437.6,263.5 438,265.1 438.4,266.7 438.8,268.4 439.2,270 439.6,271.6 440,273.3" fill="none" stroke="#f07a34" stroke-width="0.9" stroke-linejoin="round"/><path d="M402.4,274 402.8,271.9 403.2,269.8 403.6,267.7 404,265.6 404.4,263.5 404.8,261.4 405.2,259.3 405.6,257.3 406,255.3 406.4,253.3 406.8,251.3 407.2,249.3 407.6,247.4 408,245.5 408.4,243.6 408.8,241.8 409.2,240 409.6,238.3 410,236.6 410.4,234.9 410.8,233.3 411.2,231.7 411.6,230.2 412,228.8 412.4,227.4 412.8,226 413.2,224.7 413.6,223.5 414,222.4 414.4,221.3 414.8,220.3 415.2,219.3 415.6,218.4 416,217.6 416.4,216.9 416.8,216.2 417.2,215.6 417.6,215.1 418,214.7 418.4,214.3 418.8,214.1 419.2,213.9 419.6,213.7 420,213.7 420.4,213.7 420.8,213.8 421.2,213.9 421.6,214 422,214.2 422.4,214.4 422.8,214.7 423.2,215 423.6,215.4 424,215.7 424.4,216.2 424.8,216.6 425.2,217.1 425.6,217.7 426,218.2 426.4,218.9 426.8,219.5 427.2,220.2 427.6,220.9 428,221.7 428.4,222.5 428.8,223.3 429.2,224.2 429.6,225.1 430,226 430.4,227 430.8,228 431.2,229 431.6,230 432,231.1 432.4,232.2 432.8,233.3 433.2,234.5 433.6,235.7 434,236.9 434.4,238.1 434.8,239.4 435.2,240.6 435.6,241.9 436,243.2 436.4,244.6 436.8,245.9 437.2,247.3 437.6,248.7 438,250.1 438.4,251.5 438.8,252.9 439.2,254.3 439.6,255.8 440,257.3 440.4,258.7 440.8,260.2 441.2,261.7 441.6,263.2 442,264.7 442.4,266.2 442.8,267.7 443.2,269.2 443.6,270.7 444,272.2 444.4,273.7" fill="none" stroke="#48b048" stroke-width="0.9" stroke-linejoin="round"/><path d="M404.4,273 404.8,271 405.2,269 405.6,267 406,264.9 406.4,263 406.8,261 407.2,259 407.6,257.1 408,255.1 408.4,253.2 408.8,251.3 409.2,249.4 409.6,247.6 410,245.8 410.4,244 410.8,242.2 411.2,240.5 411.6,238.8 412,237.2 412.4,235.6 412.8,234 413.2,232.5 413.6,231 414,229.6 414.4,228.2 414.8,226.9 415.2,225.6 415.6,224.4 416,223.3 416.4,222.2 416.8,221.1 417.2,220.2 417.6,219.3 418,218.4 418.4,217.6 418.8,216.9 419.2,216.3 419.6,215.7 420,215.2 420.4,214.8 420.8,214.4 421.2,214.1 421.6,213.9 422,213.8 422.4,213.7 422.8,213.7 423.2,213.7 423.6,213.8 424,213.9 424.4,214.1 424.8,214.3 425.2,214.5 425.6,214.7 426,215 426.4,215.4 426.8,215.7 427.2,216.1 427.6,216.6 428,217.1 428.4,217.6 428.8,218.1 429.2,218.7 429.6,219.3 430,220 430.4,220.6 430.8,221.3 431.2,222.1 431.6,222.9 432,223.7 432.4,224.5 432.8,225.4 433.2,226.3 433.6,227.2 434,228.1 434.4,229.1 434.8,230.1 435.2,231.1 435.6,232.2 436,233.3 436.4,234.4 436.8,235.5 437.2,236.6 437.6,237.8 438,239 438.4,240.2 438.8,241.4 439.2,242.7 439.6,243.9 440,245.2 440.4,246.5 440.8,247.8 441.2,249.1 441.6,250.5 442,251.8 442.4,253.2 442.8,254.6 443.2,255.9 443.6,257.3 444,258.7 444.4,260.1 444.8,261.6 445.2,263 445.6,264.4 446,265.8 446.4,267.3 446.8,268.7 447.2,270.2 447.6,271.6 448,273 448.4,274.5" fill="none" stroke="#3a64c8" stroke-width="0.9" stroke-linejoin="round"/><path d="M405.6,273.5 406,271.4 406.4,269.4 406.8,267.3 407.2,265.3 407.6,263.3 408,261.3 408.4,259.3 408.8,257.3 409.2,255.3 409.6,253.3 410,251.4 410.4,249.5 410.8,247.6 411.2,245.8 411.6,244 412,242.2 412.4,240.4 412.8,238.7 413.2,237 413.6,235.4 414,233.8 414.4,232.3 414.8,230.8 415.2,229.4 415.6,228 416,226.7 416.4,225.4 416.8,224.2 417.2,223 417.6,221.9 418,220.9 418.4,219.9 418.8,219 419.2,218.2 419.6,217.4 420,216.7 420.4,216.1 420.8,215.5 421.2,215 421.6,214.6 422,214.3 422.4,214 422.8,213.8 423.2,213.7 423.6,213.7 424,213.7 424.4,213.8 424.8,213.9 425.2,214 425.6,214.2 426,214.4 426.4,214.6 426.8,214.9 427.2,215.2 427.6,215.5 428,215.9 428.4,216.3 428.8,216.8 429.2,217.2 429.6,217.7 430,218.3 430.4,218.9 430.8,219.5 431.2,220.1 431.6,220.8 432,221.5 432.4,222.3 432.8,223 433.2,223.8 433.6,224.7 434,225.5 434.4,226.4 434.8,227.3 435.2,228.3 435.6,229.3 436,230.3 436.4,231.3 436.8,232.3 437.2,233.4 437.6,234.5 438,235.6 438.4,236.7 438.8,237.9 439.2,239.1 439.6,240.2 440,241.5 440.4,242.7 440.8,243.9 441.2,245.2 441.6,246.5 442,247.8 442.4,249.1 442.8,250.4 443.2,251.7 443.6,253.1 444,254.4 444.4,255.8 444.8,257.2 445.2,258.6 445.6,260 446,261.4 446.4,262.8 446.8,264.2 447.2,265.6 447.6,267 448,268.4 448.4,269.9 448.8,271.3 449.2,272.7 449.6,274.1" fill="none" stroke="#8a3cc4" stroke-width="0.9" stroke-linejoin="round"/><line x1="390.7" y1="198.5" x2="390.7" y2="274.5" stroke="#333" stroke-width="0.9"/><line x1="390.7" y1="274.5" x2="450.5" y2="274.5" stroke="#333" stroke-width="0.9"/><line x1="388.7" y1="274.5" x2="390.7" y2="274.5" stroke="#333" stroke-width="0.7"/><text font-size="4.3" fill="#222" text-anchor="end" transform="translate(387.9 276.2) scale(1 1.12)">0.6</text><line x1="388.7" y1="244.1" x2="390.7" y2="244.1" stroke="#333" stroke-width="0.7"/><text font-size="4.3" fill="#222" text-anchor="end" transform="translate(387.9 245.8) scale(1 1.12)">0.8</text><line x1="388.7" y1="213.7" x2="390.7" y2="213.7" stroke="#333" stroke-width="0.7"/><text font-size="4.3" fill="#222" text-anchor="end" transform="translate(387.9 215.4) scale(1 1.12)">1.0</text><line x1="389.5" y1="259.3" x2="390.7" y2="259.3" stroke="#333" stroke-width="0.6"/><line x1="389.5" y1="228.9" x2="390.7" y2="228.9" stroke="#333" stroke-width="0.6"/><line x1="411.2" y1="274.5" x2="411.2" y2="276.5" stroke="#333" stroke-width="0.7"/><text font-size="4.3" fill="#222" text-anchor="middle" transform="translate(411.2 279.8) scale(1 1.12)">450</text><line x1="435.3" y1="274.5" x2="435.3" y2="276.5" stroke="#333" stroke-width="0.7"/><text font-size="4.3" fill="#222" text-anchor="middle" transform="translate(435.3 279.8) scale(1 1.12)">600</text><line x1="399.1" y1="274.5" x2="399.1" y2="275.7" stroke="#333" stroke-width="0.6"/><line x1="423.2" y1="274.5" x2="423.2" y2="275.7" stroke="#333" stroke-width="0.6"/><line x1="447.4" y1="274.5" x2="447.4" y2="275.7" stroke="#333" stroke-width="0.6"/><line x1="404.2" y1="207.4" x2="430" y2="207.4" stroke="#222" stroke-width="0.9"/><path d="M433.2 207.4 L428.8 205.9 L428.8 208.9Z" fill="#222"/><text font-size="5.6" fill="#222" text-anchor="middle" transform="translate(421.6 287.7) scale(1 1.12)">Wavelength (nm)</text><text font-size="6.0" fill="#222" text-anchor="middle" transform="translate(382.1 233) rotate(-90)">Normalized Emission</text><path d="M500.6 138.2h0M500 97.9h0M500.8 75.6h0M501.3 48.1h0M502.4 17.7h0M502.6 21.5h0M502.9 25.2h0M503.1 28.8h0M503.3 32.2h0M503.6 35.6h0M503.8 38.9h0M504 42.5h0M504.2 45.6h0M504.5 48.9h0M504.7 51.8h0M504.9 54.7h0M505.2 57.4h0M505.4 60h0M505.6 63.7h0M505.9 65.5h0M506.1 69.4h0M506.3 71.7h0M506.5 74.8h0M506.8 77.8h0M507 79.4h0M507.2 82.7h0M507.5 85h0M507.7 88.5h0M507.9 90.6h0M508.1 93.7h0M508.4 96.9h0M508.6 98.7h0M508.8 101.9h0M509.1 103h0M509.3 105.1h0M509.5 108.9h0M509.7 114.7h0M510 113.7h0M510.2 117.5h0M510.4 120.6h0M510.7 125.2h0M510.9 126.2h0M511.1 126.6h0M511.4 128.5h0M511.6 126.6h0M511.8 130.7h0M512 128.9h0M512.3 128.9h0M512.5 135.1h0M512.7 129.4h0M513 133.3h0M513.2 135.1h0M513.4 129.8h0M513.6 139.4h0M513.9 149.4h0M514.1 146.5h0M514.3 140.2h0M514.6 139.4h0M514.8 133.9h0M515 140.2h0M515.2 146.5h0M515.5 144.1h0M515.7 139.4h0M515.9 143.1h0M516.2 157.4h0M516.4 147.9h0M516.6 144.1h0M516.8 144.1h0M517.1 143.1h0M517.3 147.9h0M517.5 145.3h0M517.8 144.1h0M518 151h0M518.2 160.2h0M518.5 149.4h0M518.7 145.3h0M518.9 149.4h0M519.1 143.1h0M519.4 152.9h0M519.6 145.3h0M519.8 157.4h0M520.1 143.1h0M520.3 142h0M520.5 152.9h0M520.7 140.2h0M521 152.9h0M521.2 146.5h0M521.4 151h0M521.7 146.5h0M521.9 151h0M522.1 147.9h0M522.3 152.9h0M522.6 149.4h0M522.8 145.3h0M523 152.9h0M523.3 145.3h0M523.5 157.4h0M523.7 147.9h0M524 145.3h0M524.2 141.1h0M524.4 142h0M524.6 151h0M524.9 157.4h0M525.1 152.9h0M525.3 157.4h0M525.6 147.9h0M525.8 151h0M526 145.3h0M526.2 151h0M526.5 142h0M526.7 157.4h0M526.9 152.9h0M527.2 155h0M527.4 142h0M527.6 147.9h0M527.8 149.4h0M528.1 147.9h0M528.3 147.9h0M528.5 152.9h0M528.8 149.4h0M529 157.4h0M529.2 146.5h0M529.5 155h0M529.9 152.9h0M530.1 149.4h0M530.4 147.9h0M530.6 152.9h0M530.8 151h0M531.3 151h0M531.5 160.2h0M531.7 145.3h0M532 155h0M532.2 160.2h0M532.4 157.4h0M532.7 155h0M532.9 157.4h0M533.1 155h0M533.3 155h0M533.6 147.9h0M533.8 152.9h0M534 155h0M534.3 160.2h0M534.5 152.9h0M534.7 160.2h0M535 157.4h0M535.2 157.4h0M535.4 149.4h0M535.6 155h0M535.9 157.4h0M536.1 160.2h0M536.3 146.5h0M536.6 147.9h0M536.8 157.4h0M537 155h0M537.2 157.4h0M537.5 157.4h0M537.7 151h0M537.9 160.2h0M538.8 157.4h0M539.3 160.2h0M539.5 157.4h0M539.8 155h0M540 157.4h0M540.2 155h0M540.4 151h0M540.9 155h0M541.1 157.4h0M541.4 157.4h0M541.8 152.9h0M542.1 151h0M542.3 160.2h0M542.5 151h0M542.7 155h0M543.4 155h0M543.7 155h0M544.6 157.4h0M544.8 155h0M545 155h0M545.3 151h0M545.5 160.2h0M545.9 155h0M546.2 155h0M546.6 157.4h0M546.9 149.4h0M547.1 157.4h0M547.6 155h0M547.8 160.2h0M548 149.4h0M548.2 157.4h0M548.7 157.4h0M548.9 157.4h0M549.2 157.4h0M550.1 152.9h0M550.5 151h0M551 160.2h0M551.9 155h0M552.4 155h0M552.6 160.2h0M553.1 152.9h0M553.3 152.9h0M553.7 160.2h0M554 157.4h0M554.4 160.2h0M554.7 157.4h0M554.9 157.4h0M556.3 160.2h0M556.5 160.2h0M556.7 152.9h0M556.9 160.2h0M557.2 157.4h0M557.9 151h0M558.1 160.2h0M558.6 157.4h0M559 160.2h0M559.5 157.4h0M559.9 157.4h0M560.8 160.2h0M562.2 160.2h0M562.9 160.2h0M565.9 155h0M566.6 155h0M567.5 160.2h0M568.9 157.4h0M576.2 160.2h0M577.8 160.2h0M579.2 160.2h0M579.4 157.4h0M582.8 157.4h0M588.1 160.2h0M588.3 157.4h0M592.2 160.2h0M594.8 160.2h0M602.1 160.2h0M603.9 160.2h0M607.1 157.4h0M609.2 160.2h0M613.5 160.2h0M620.9 160.2h0M622 157.4h0M626.6 160.2h0M632.3 157.4h0M634.4 157.4h0M637.6 160.2h0M639.2 160.2h0M639.9 160.2h0M641.7 160.2h0M648.6 160.2h0M662.3 157.4h0M668.8 160.2h0" stroke="#000" stroke-width="1.2" stroke-linecap="round" fill="none"/><path d="M499.5 157.7h0M499.5 149.3h0M499.9 137.4h0M499.5 131.1h0M499.5 117.3h0M499.9 107.9h0M499.5 104.6h0M499.8 90.4h0M500.3 82.1h0M500 73.1h0M500.1 62.9h0M500 59.9h0M501.1 46.7h0M500.8 37.6h0M501.5 25.8h0M501.9 22.4h0M495 155h0M495.4 155h0M495.6 155h0M496 160.2h0M497 157.4h0M497.5 160.2h0M497.7 160.2h0M497.9 155h0M498.1 160.2h0M498.7 155h0M498.9 151h0M502.3 15.9h0M502.5 16.2h0M502.7 16.4h0M502.9 16.7h0M503.1 17h0M503.3 17.3h0M503.5 17.6h0M503.7 17.9h0M503.9 18.1h0M504.1 18.4h0M504.3 18.6h0M504.5 19h0M504.7 19.2h0M504.9 19.3h0M505.1 19.8h0M505.3 20h0M505.5 20.4h0M505.7 20.6h0M505.9 20.9h0M506.1 21.1h0M506.3 21.5h0M506.5 21.7h0M506.7 21.9h0M506.9 22.2h0M507.1 22.6h0M507.3 22.7h0M507.5 23h0M507.7 23.3h0M507.9 23.5h0M508.1 23.8h0M508.3 24.1h0M508.5 24.3h0M508.7 24.7h0M508.9 25h0M509.1 25.3h0M509.3 25.5h0M509.5 25.8h0M509.7 25.9h0M509.9 26.1h0M510.1 26.2h0M510.3 26.8h0M510.5 26.9h0M510.7 27.3h0M510.9 27.3h0M511.1 27.5h0M511.3 28.1h0M511.5 28.2h0M511.6 28.5h0M511.8 28.8h0M512 29.2h0M512.2 29.2h0M512.4 29.5h0M512.6 29.7h0M512.8 30h0M513 30.3h0M513.2 31h0M513.4 30.8h0M513.6 31.1h0M513.8 31.4h0M514 31.5h0M514.2 31.8h0M514.4 32.1h0M514.6 32.6h0M514.8 32.9h0M515 32.9h0M515.2 33h0M515.4 33.5h0M515.6 33.7h0M515.8 33.8h0M516 34.2h0M516.2 34.5h0M516.4 34.6h0M516.6 34.7h0M516.8 35.1h0M517 35.3h0M517.2 35.5h0M517.4 36h0M517.6 36.2h0M517.8 36.4h0M518 36.7h0M518.2 37h0M518.4 37h0M518.6 37.6h0M518.8 37.9h0M519 38.1h0M519.2 38.4h0M519.4 38.5h0M519.6 38.7h0M519.8 38.9h0M520 39.4h0M520.2 39.5h0M520.4 39.8h0M520.6 39.9h0M520.8 40.4h0M521 40.5h0M521.2 40.6h0M521.4 40.8h0M521.6 40.8h0M521.8 41.4h0M522 41.7h0M522.2 41.9h0M522.4 42.3h0M522.6 42.4h0M522.8 42.6h0M523 42.9h0M523.2 43.1h0M523.4 43.4h0M523.6 43.5h0M523.8 43.7h0M524 43.9h0M524.2 44.1h0M524.4 44.6h0M524.6 44.9h0M524.8 45h0M525 45.1h0M525.2 45.5h0M525.4 45.6h0M525.5 45.9h0M525.7 45.9h0M525.9 46.5h0M526.1 46.5h0M526.3 46.8h0M526.5 46.9h0M526.7 47.4h0M526.9 47.3h0M527.1 47.7h0M527.3 47.9h0M527.5 48.2h0M527.7 48.7h0M527.9 48.5h0M528.1 49h0M528.3 49.3h0M528.5 49.7h0M528.7 49.8h0M528.9 49.8h0M529.1 50.3h0M529.3 50.3h0M529.5 50.5h0M529.7 50.9h0M529.9 51h0M530.1 51.1h0M530.3 51.6h0M530.5 51.5h0M530.7 51.7h0M530.9 51.9h0M531.1 52.2h0M531.3 52.9h0M531.5 53h0M531.7 53.1h0M531.9 53.4h0M532.1 53.4h0M532.3 54.2h0M532.5 54.1h0M532.7 54.2h0M532.9 54.4h0M533.1 54.2h0M533.3 55.2h0M533.5 54.7h0M533.7 55.4h0M533.9 55.2h0M534.1 55.7h0M534.3 56h0M534.5 56.1h0M534.7 56h0M534.9 56.3h0M535.1 56.7h0M535.3 57h0M535.5 57h0M535.7 57.6h0M535.9 57.7h0M536.1 57.3h0M536.3 58.1h0M536.5 58.4h0M536.7 58h0M536.9 59.1h0M537.1 58.8h0M537.3 59.2h0M537.5 59h0M537.7 59.2h0M537.9 59.9h0M538.1 60h0M538.3 60.4h0M538.5 60.7h0M538.7 60.8h0M538.9 61h0M539.1 60.7h0M539.3 61.1h0M539.4 61h0M539.6 61.7h0M539.8 61.6h0M540 61.6h0M540.2 61.9h0M540.4 62.1h0M540.6 62.4h0M540.8 63.2h0M541 63.6h0M541.2 63h0M541.4 63.3h0M541.6 64h0M541.8 64h0M542 63.9h0M542.2 63.8h0M542.4 64.8h0M542.6 64h0M542.8 64.4h0M543 65h0M543.2 65.6h0M543.4 64.8h0M543.6 65.2h0M543.8 65.6h0M544 65.7h0M544.2 66.5h0M544.4 66.9h0M544.6 66.2h0M544.8 66.2h0M545 67h0M545.2 66.9h0M545.4 67.1h0M545.6 67.5h0M545.8 66.9h0M546 67.8h0M546.2 67.5h0M546.4 68.1h0M546.6 68h0M546.8 68.4h0M547 68.2h0M547.2 68.4h0M547.4 68.2h0M547.6 69.3h0M547.8 68.5h0M548 69.3h0M548.2 69.4h0M548.4 70.1h0M548.6 69.2h0M548.8 70.2h0M549 70.3h0M549.2 69.7h0M549.4 70.4h0M549.6 70.6h0M549.8 71h0M550 71h0M550.2 70.4h0M550.4 71h0M550.6 71.9h0M550.8 71.8h0M551 72.2h0M551.2 72.6h0M551.4 72.4h0M551.6 72.1h0M551.8 72.5h0M552 72.9h0M552.2 73.2h0M552.4 72.8h0M552.6 73.1h0M552.8 73.2h0M553 73.3h0M553.2 73.4h0M553.3 74.1h0M553.5 73.8h0M553.7 73.7h0M553.9 73.4h0M554.1 74.6h0M554.3 74h0M554.5 74.3h0M554.7 75.2h0M554.9 75.2h0M555.1 76.2h0M555.3 76h0M555.5 75.7h0M555.7 75.3h0M555.9 75.7h0M556.1 75.5h0M556.3 76.3h0M556.5 76.7h0M556.7 76.6h0M556.9 76.4h0M557.1 76.2h0M557.3 76.3h0M557.5 77h0M557.7 76.8h0M557.9 77h0M558.1 78.2h0M558.3 77.1h0M558.5 77.8h0M558.7 77h0M558.9 77.8h0M559.1 78.3h0M559.3 78.4h0M559.5 79.6h0M559.7 78h0M559.9 78.2h0M560.1 78.9h0M560.3 79.4h0M560.5 79.4h0M560.7 80.6h0M560.9 79.1h0M561.1 80.1h0M561.3 80.2h0M561.5 81h0M561.7 80.1h0M561.9 79.7h0M562.1 80.4h0M562.3 80.7h0M562.5 81.5h0M562.7 80.4h0M562.9 81.3h0M563.1 80.1h0M563.3 82.8h0M563.5 81.6h0M563.7 80.7h0M563.9 81.5h0M564.1 81.1h0M564.3 82.1h0M564.5 82.2h0M564.7 82.3h0M564.9 81.8h0M565.1 82.7h0M565.3 83.1h0M565.5 82.1h0M565.7 83.4h0M565.9 83.4h0M566.1 83.4h0M566.3 83.6h0M566.5 83.7h0M566.7 84.2h0M566.9 84.1h0M567.1 84.5h0M567.2 84.3h0M567.4 84.6h0M567.6 84.2h0M567.8 84.4h0M568 84.2h0M568.2 85.5h0M568.4 85.4h0M568.6 84.7h0M568.8 85.4h0M569 85.5h0M569.2 86h0M569.4 86.4h0M569.6 85.4h0M569.8 86.1h0M570 87.2h0M570.2 86.8h0M570.4 88.1h0M570.6 86.2h0M570.8 86.9h0M571 87h0M571.2 87.4h0M571.4 86.9h0M571.6 87h0M571.8 87.7h0M572 86.8h0M572.2 88.4h0M572.4 88.2h0M572.6 88.3h0M572.8 88.5h0M573 89.3h0M573.2 88.4h0M573.4 88.1h0M573.6 89.7h0M573.8 88.7h0M574 88.4h0M574.2 89.3h0M574.4 89.7h0M574.6 89.1h0M574.8 89.5h0M575 90.2h0M575.2 89.9h0M575.4 88.4h0M575.6 90.4h0M575.8 91.6h0M576 90.2h0M576.2 89.9h0M576.4 88.8h0M576.6 91.2h0M576.8 92.2h0M577 91.3h0M577.2 92h0M577.4 91.6h0M577.6 91.9h0M577.8 93.1h0M578 89.7h0M578.2 92.9h0M578.4 93.2h0M578.6 91.5h0M578.8 94.5h0M579 94.6h0M579.2 93.2h0M579.4 92.3h0M579.6 93.1h0M579.8 93.9h0M580 93.5h0M580.2 93.7h0M580.4 93.3h0M580.6 93.8h0M580.8 94.4h0M581 94.2h0M581.1 92.4h0M581.3 95.7h0M581.5 95.2h0M581.7 95.3h0M581.9 94.5h0M582.1 94h0M582.3 94.9h0M582.5 93.5h0M582.7 95.8h0M582.9 95.5h0M583.1 95.9h0M583.3 94.8h0M583.5 95.1h0M583.7 94.8h0M583.9 95.8h0M584.1 96h0M584.3 96.3h0M584.5 96.5h0M584.7 95.6h0M584.9 95h0M585.1 96.2h0M585.3 97.1h0M585.5 97.1h0M585.7 95.8h0M585.9 96.7h0M586.1 98.2h0M586.3 97.4h0M586.5 97.7h0M586.7 98.1h0M586.9 96.1h0M587.1 96.3h0M587.3 97.4h0M587.5 99.6h0M587.7 97.4h0M587.9 98h0M588.1 96.7h0M588.3 100.2h0M588.5 97.8h0M588.7 97.7h0M588.9 99.3h0M589.1 97.7h0M589.3 100.9h0M589.5 99.7h0M589.7 100.2h0M589.9 101.9h0M590.1 101.1h0M590.3 98.5h0M590.5 101.2h0M590.7 100.7h0M590.9 99.1h0M591.1 100.6h0M591.3 100.2h0M591.5 100.6h0M591.7 101.5h0M591.9 100.6h0M592.1 102.6h0M592.3 101.1h0M592.5 99.1h0M592.7 101.6h0M592.9 102.4h0M593.1 103.3h0M593.3 100.9h0M593.5 102.5h0M593.7 99.1h0M593.9 102.4h0M594.1 101.9h0M594.3 104.6h0M594.5 103h0M594.7 103.8h0M594.9 104.9h0M595.1 105.1h0M595.2 105.2h0M595.4 103.7h0M595.6 105.1h0M595.8 102.8h0M596 102.1h0M596.2 102.6h0M596.4 105.9h0M596.6 102.6h0M596.8 105.2h0M597 102.6h0M597.2 102.9h0M597.4 103.3h0M597.6 104.3h0M597.8 103.1h0M598 102.9h0M598.2 104.7h0M598.4 105.7h0M598.6 104.9h0M598.8 104.8h0M599 105.6h0M599.2 103.3h0M599.4 105.8h0M599.6 104.6h0M599.8 106.4h0M600 106.9h0M600.2 105.4h0M600.4 105.3h0M600.6 104.8h0M600.8 106.2h0M601 109.1h0M601.2 104.4h0M601.4 106.2h0M601.6 106.6h0M601.8 108.9h0M602 105.7h0M602.2 108.5h0M602.4 107.3h0M602.6 109.1h0M602.8 108.4h0M603 106.6h0M603.2 109.7h0M603.4 108.9h0M603.6 111.5h0M603.8 109.8h0M604 108.8h0M604.2 107.8h0M604.4 109.5h0M604.6 108.8h0M604.8 106.6h0M605 107.5h0M605.2 113.7h0M605.4 109.8h0M605.6 109.2h0M605.8 111.3h0M606 112.2h0M606.2 107.8h0M606.4 110.9h0M606.6 109.4h0M606.8 112.3h0M607 111.8h0M607.2 111.1h0M607.4 111.1h0M607.6 110.2h0M607.8 112.2h0M608 113.1h0M608.2 108.9h0M608.4 109.8h0M608.6 111.6h0M608.8 107.5h0M609 112h0M609.1 111.6h0M609.3 110.2h0M609.5 110.5h0M609.7 111.8h0M609.9 113.7h0M610.1 112.5h0M610.3 112.9h0M610.5 111.8h0M610.7 113.9h0M610.9 112.5h0M611.1 112h0M611.3 114.4h0M611.5 113.2h0M611.7 112.3h0M611.9 115.2h0M612.1 113.2h0M612.3 112.2h0M612.5 115.9h0M612.7 116.3h0M612.9 113.1h0M613.1 112.5h0M613.3 116.7h0M613.5 116.5h0M613.7 112.5h0M613.9 114h0M614.1 115.6h0M614.3 112.9h0M614.5 111.9h0M614.7 116.7h0M614.9 115h0M615.1 113.9h0M615.3 116.7h0M615.5 116.1h0M615.7 115.2h0M615.9 116.1h0M616.1 118.7h0M616.3 118.7h0M616.5 118.3h0M616.7 118.1h0M616.9 117.7h0M617.1 117.5h0M617.3 118.3h0M617.5 120.6h0M617.7 119.2h0M617.9 119h0M618.1 116.5h0M618.3 113.6h0M618.5 115.4h0M618.7 115.2h0M618.9 115.6h0M619.1 116.1h0M619.3 117.7h0M619.5 114.5h0M619.7 117.1h0M619.9 120.4h0M620.1 120.4h0M620.3 119.4h0M620.5 120.9h0M620.7 122.7h0M620.9 119.7h0M621.1 114.9h0M621.3 115h0M621.5 120.6h0M621.7 120.6h0M621.9 119h0M622.1 119.9h0M622.3 124.9h0M622.5 119.9h0M622.7 119.9h0M622.9 119.7h0M623 121.1h0M623.2 119.7h0M623.4 112.3h0M623.6 116.9h0M623.8 125.9h0M624 119.4h0M624.2 119.2h0M624.4 121.9h0M624.6 122.7h0M624.8 117.7h0M625 122.7h0M625.2 117.5h0M625.4 121.1h0M625.6 123h0M625.8 117.7h0M626 118.5h0M626.2 119.7h0M626.4 117.7h0M626.6 119.2h0M626.8 119h0M627 119.7h0M627.2 117.1h0M627.4 121.4h0M627.6 123.9h0M627.8 123.3h0M628 117.5h0M628.2 116.9h0M628.4 123.9h0M628.6 123.3h0M628.8 123.3h0M629 119.4h0M629.2 121.6h0M629.4 121.1h0M629.6 120.1h0M629.8 120.6h0M630 122.7h0M630.2 117.3h0M630.4 120.6h0M630.6 120.9h0M630.8 128.9h0M631 122.2h0M631.2 120.1h0M631.4 121.6h0M631.6 123.3h0M631.8 124.5h0M632 118.1h0M632.2 126.6h0M632.4 124.2h0M632.6 124.5h0M632.8 123.3h0M633 128.1h0M633.2 128.5h0M633.4 124.2h0M633.6 124.9h0M633.8 124.2h0M634 120.9h0M634.2 124.2h0M634.4 127.3h0M634.6 121.9h0M634.8 127.7h0M635 118.7h0M635.2 126.6h0M635.4 128.5h0M635.6 124.5h0M635.8 123.6h0M636 129.4h0M636.2 127.7h0M636.4 124.5h0M636.6 125.5h0M636.8 128.9h0M636.9 128.9h0M637.1 123.9h0M637.3 122.5h0M637.5 128.9h0M637.7 124.5h0M637.9 122.5h0M638.1 124.5h0M638.3 129.8h0M638.5 119.9h0M638.7 127.7h0M638.9 124.5h0M639.1 124.5h0M639.3 125.9h0M639.5 127h0M639.7 121.6h0M639.9 123.3h0M640.1 128.1h0M640.3 128.1h0M640.5 126.6h0M640.7 133.9h0M640.9 128.9h0M641.1 132.2h0M641.3 125.5h0M641.5 124.5h0M641.7 125.5h0M641.9 122.5h0M642.1 123.3h0M642.3 129.4h0M642.5 131.2h0M642.7 130.3h0M642.9 132.2h0M643.1 128.9h0M643.3 127.7h0M643.5 131.2h0M643.7 122.7h0M643.9 127.3h0M644.1 130.3h0M644.3 128.1h0M644.5 128.5h0M644.7 128.5h0M644.9 127.7h0M645.1 123h0M645.3 131.2h0M645.5 131.2h0M645.7 131.7h0M645.9 127.7h0M646.1 127.3h0M646.3 127.3h0M646.5 128.9h0M646.7 132.2h0M646.9 128.5h0M647.1 128.1h0M647.3 127h0M647.5 129.8h0M647.7 124.5h0M647.9 124.5h0M648.1 129.4h0M648.3 128.9h0M648.5 124.2h0M648.7 128.1h0M648.9 129.4h0M649.1 129.8h0M649.3 133.3h0M649.5 131.7h0M649.7 125.2h0M649.9 126.2h0M650.1 128.5h0M650.3 129.4h0M650.5 129.4h0M650.7 124.9h0M650.8 133.3h0M651 129.4h0M651.2 137.8h0M651.4 131.7h0M651.6 129.4h0M651.8 133.3h0M652 129.4h0M652.2 131.2h0M652.4 129.8h0M652.6 128.5h0M652.8 125.2h0M653 130.3h0M653.2 126.6h0M653.4 130.7h0M653.6 131.7h0M653.8 132.7h0M654 133.3h0M654.2 132.2h0M654.4 127.3h0M654.6 134.5h0M654.8 131.7h0M655 125.9h0M655.2 130.7h0M655.4 128.9h0M655.6 130.7h0M655.8 133.9h0M656 133.9h0M656.2 134.5h0M656.4 130.3h0M656.6 128.1h0M656.8 130.7h0M657 129.8h0M657.2 133.9h0M657.4 133.9h0M657.6 131.7h0M657.8 133.3h0M658 133.9h0M658.2 130.7h0M658.4 129.8h0M658.6 130.3h0M658.8 131.7h0M659 133.9h0M659.2 131.7h0M659.4 135.7h0M659.6 128.9h0M659.8 129.4h0M660 125.2h0M660.2 130.7h0M660.4 130.7h0M660.6 133.9h0M660.8 133.9h0M661 133.9h0M661.2 129.8h0M661.4 132.2h0M661.6 131.7h0M661.8 129.4h0M662 138.6h0M662.2 133.9h0M662.4 135.1h0M662.6 128.5h0M662.8 131.7h0M663 130.3h0M663.2 131.2h0M663.4 135.7h0M663.6 131.2h0M663.8 133.3h0M664 140.2h0M664.2 132.2h0M664.4 133.9h0M664.6 128.9h0M664.7 136.4h0M664.9 134.5h0M665.1 137.8h0M665.3 133.3h0M665.5 135.7h0M665.7 137.1h0M665.9 139.4h0M666.1 132.2h0M666.3 131.2h0M666.5 137.8h0M666.7 133.3h0M666.9 133.9h0M667.1 132.2h0M667.3 133.3h0M667.5 139.4h0M667.7 132.2h0M667.9 135.1h0M668.1 136.4h0M668.3 135.1h0M668.5 127h0M668.7 130.7h0M668.9 135.7h0M669.1 138.6h0M669.3 139.4h0M669.5 137.1h0M669.7 133.9h0M669.9 132.7h0M670.1 129.4h0M670.3 131.7h0M670.5 132.7h0M670.7 131.7h0M670.9 134.5h0M671.1 133.9h0M671.3 130.7h0M671.5 128.9h0M671.7 130.7h0M671.9 131.7h0M672.1 133.9h0M672.3 132.7h0M672.5 139.4h0M672.7 133.9h0M672.9 136.4h0M673.1 136.4h0M673.3 135.7h0M673.5 137.8h0M673.7 137.8h0M673.9 132.2h0M674.1 140.2h0M674.3 142h0M674.5 131.2h0M674.7 136.4h0M674.9 132.7h0M675.1 135.7h0M675.3 131.7h0M675.5 140.2h0M675.7 136.4h0M675.9 138.6h0M676.1 133.3h0M676.3 135.1h0M676.5 137.1h0M676.7 139.4h0M676.9 132.7h0M677.1 135.1h0M677.3 129.4h0M677.5 137.8h0M677.7 143.1h0M677.9 135.7h0M678.1 139.4h0" stroke="#ef3f3f" stroke-width="1.3" stroke-linecap="round" fill="none"/><path d="M499.8 154.2h0M499.2 144.3h0M500 140.6h0M499.2 127.6h0M499.2 117.8h0M499.7 109.4h0M499.3 99.8h0M500.2 89.4h0M500.1 79.9h0M500.4 75.7h0M500.3 64.6h0M500.1 55.2h0M500.8 44.8h0M500.8 40.4h0M501.2 32h0M502.1 16.9h0M495.4 155h0M495.8 155h0M496.2 157.4h0M496.4 160.2h0M496.6 157.4h0M498 157.4h0M498.2 160.2h0M499 160.2h0M502.3 16h0M502.5 16.3h0M502.7 16.7h0M502.9 17h0M503.1 17.3h0M503.3 17.8h0M503.5 18.2h0M503.7 18.4h0M503.9 18.8h0M504.1 19.2h0M504.3 19.7h0M504.5 19.9h0M504.7 20.2h0M504.9 20.6h0M505.1 21h0M505.3 21.3h0M505.5 21.6h0M505.7 21.9h0M505.9 22.3h0M506.1 22.7h0M506.3 23.3h0M506.5 23.4h0M506.7 23.9h0M506.9 24.3h0M507.1 24.5h0M507.3 24.9h0M507.5 25.2h0M507.7 25.7h0M507.9 26h0M508.1 26.2h0M508.3 26.4h0M508.5 27h0M508.7 27.3h0M508.9 27.7h0M509.1 28.1h0M509.3 28.1h0M509.5 28.8h0M509.7 29.1h0M509.9 29.4h0M510.1 29.8h0M510.3 30.1h0M510.5 30.3h0M510.7 30.8h0M510.9 31.2h0M511.1 31.5h0M511.3 32.1h0M511.5 32.2h0M511.7 32.6h0M511.9 33h0M512.1 33.2h0M512.3 33.6h0M512.5 33.9h0M512.7 34.4h0M512.9 34.6h0M513 34.8h0M513.2 35.3h0M513.4 35.7h0M513.6 35.9h0M513.8 36.3h0M514 36.7h0M514.2 36.9h0M514.4 37.6h0M514.6 37.5h0M514.8 37.8h0M515 38.4h0M515.2 38.6h0M515.4 38.8h0M515.6 39.6h0M515.8 39.7h0M516 40.4h0M516.2 40.6h0M516.4 41.2h0M516.6 40.9h0M516.8 41.7h0M517 41.7h0M517.2 42.2h0M517.4 42.7h0M517.6 42.8h0M517.8 43.3h0M518 43.6h0M518.2 43.7h0M518.4 44.2h0M518.6 44.6h0M518.8 44.5h0M519 45.2h0M519.2 45.4h0M519.4 46h0M519.6 46.3h0M519.8 46.1h0M520 46.9h0M520.2 47.4h0M520.4 47.3h0M520.6 47.9h0M520.8 48h0M521 48.3h0M521.2 48.5h0M521.4 49.1h0M521.6 49.5h0M521.8 49.8h0M522 49.9h0M522.2 50.5h0M522.4 50.8h0M522.6 51h0M522.8 51.5h0M523 51.4h0M523.2 52.1h0M523.4 52.4h0M523.6 52.7h0M523.8 53.1h0M524 53.4h0M524.2 53.5h0M524.4 53.8h0M524.6 54h0M524.8 54.9h0M525 55.2h0M525.2 55.3h0M525.4 56.2h0M525.6 56.3h0M525.8 56.6h0M526 56.1h0M526.2 56.8h0M526.4 57.3h0M526.6 57h0M526.8 58.3h0M526.9 58.3h0M527.1 58.7h0M527.3 58.8h0M527.5 58.9h0M527.7 59.6h0M527.9 59.6h0M528.1 60.3h0M528.3 60.5h0M528.5 60.5h0M528.7 60.7h0M528.9 61.1h0M529.1 61.2h0M529.3 61.4h0M529.5 62.3h0M529.7 62.1h0M529.9 62.6h0M530.1 62.7h0M530.3 63.5h0M530.5 63.4h0M530.7 63.5h0M530.9 64h0M531.1 64.5h0M531.3 64h0M531.5 65.1h0M531.7 64.9h0M531.9 65.7h0M532.1 65.8h0M532.3 65.7h0M532.5 65.9h0M532.7 66.6h0M532.9 66.5h0M533.1 67.1h0M533.3 67.2h0M533.5 68.1h0M533.7 68.4h0M533.9 68.1h0M534.1 68.4h0M534.3 68.9h0M534.5 69.2h0M534.7 68.7h0M534.9 68.9h0M535.1 69.8h0M535.3 70.7h0M535.5 70.5h0M535.7 71.5h0M535.9 71.9h0M536.1 71.5h0M536.3 71.2h0M536.5 71.5h0M536.7 71.7h0M536.9 72.1h0M537.1 72.2h0M537.3 73.3h0M537.5 73.2h0M537.7 71.9h0M537.9 73.7h0M538.1 73.4h0M538.3 73.7h0M538.5 75.1h0M538.7 74.9h0M538.9 74.4h0M539.1 74.6h0M539.3 74.7h0M539.5 75.3h0M539.7 76.2h0M539.9 75.3h0M540.1 75.9h0M540.3 75.6h0M540.5 76.1h0M540.7 75.5h0M540.8 77.1h0M541 76.7h0M541.2 76.2h0M541.4 77.9h0M541.6 77.8h0M541.8 78.4h0M542 78.8h0M542.2 78.3h0M542.4 78.2h0M542.6 79.8h0M542.8 78.3h0M543 80h0M543.2 79.1h0M543.4 79.4h0M543.6 79.7h0M543.8 79h0M544 80.8h0M544.2 80.3h0M544.4 80.5h0M544.6 80.4h0M544.8 80.8h0M545 80.7h0M545.2 81.4h0M545.4 82.5h0M545.6 81.5h0M545.8 81.9h0M546 82.5h0M546.2 82.8h0M546.4 81.5h0M546.6 83.3h0M546.8 83.3h0M547 82.8h0M547.2 83h0M547.4 84.1h0M547.6 84.4h0M547.8 84.5h0M548 84.2h0M548.2 84.2h0M548.4 85.1h0M548.6 85h0M548.8 85.2h0M549 85.1h0M549.2 85.2h0M549.4 85.9h0M549.6 87h0M549.8 86.7h0M550 85.8h0M550.2 86.5h0M550.4 86.7h0M550.6 86.7h0M550.8 87.9h0M551 87.6h0M551.2 89.2h0M551.4 87.4h0M551.6 87.5h0M551.8 87.6h0M552 88.3h0M552.2 88h0M552.4 88.7h0M552.6 90.3h0M552.8 88.6h0M553 90.6h0M553.2 90.1h0M553.4 91.2h0M553.6 90.8h0M553.8 89.3h0M554 88.3h0M554.2 89.7h0M554.4 91.1h0M554.6 90.2h0M554.7 91.3h0M554.9 92.6h0M555.1 93.6h0M555.3 91.3h0M555.5 90.1h0M555.7 90.4h0M555.9 90.9h0M556.1 91.3h0M556.3 92h0M556.5 93.3h0M556.7 92.4h0M556.9 93.1h0M557.1 94h0M557.3 93.7h0M557.5 92.8h0M557.7 93.1h0M557.9 93.5h0M558.1 93.4h0M558.3 94.2h0M558.5 95.9h0M558.7 92.4h0M558.9 93.8h0M559.1 94.2h0M559.3 93.5h0M559.5 94.7h0M559.7 94.6h0M559.9 95.7h0M560.1 95.3h0M560.3 96.7h0M560.5 95.6h0M560.7 95h0M560.9 97h0M561.1 95.3h0M561.3 96h0M561.5 98h0M561.7 99.2h0M561.9 98.8h0M562.1 99.4h0M562.3 95.5h0M562.5 97.7h0M562.7 99.9h0M562.9 98.7h0M563.1 98.8h0M563.3 98.4h0M563.5 96.6h0M563.7 99.6h0M563.9 99.9h0M564.1 100.2h0M564.3 99.4h0M564.5 100.8h0M564.7 101.3h0M564.9 100.1h0M565.1 99.4h0M565.3 100.6h0M565.5 99.8h0M565.7 101.4h0M565.9 103h0M566.1 102.6h0M566.3 100.2h0M566.5 101.1h0M566.7 102.9h0M566.9 101.3h0M567.1 103h0M567.3 101.9h0M567.5 102.2h0M567.7 102.2h0M567.9 103.8h0M568.1 104.9h0M568.3 105h0M568.5 107.6h0M568.6 104.3h0M568.8 103.4h0M569 102.1h0M569.2 105.2h0M569.4 104.2h0M569.6 105.9h0M569.8 103.2h0M570 102.7h0M570.2 103h0M570.4 105.3h0M570.6 105h0M570.8 104.9h0M571 104.7h0M571.2 108.7h0M571.4 106.5h0M571.6 105.7h0M571.8 109.1h0M572 106.2h0M572.2 103.7h0M572.4 107.2h0M572.6 106.2h0M572.8 106.2h0M573 108.6h0M573.2 108.7h0M573.4 106.7h0M573.6 109.3h0M573.8 108.5h0M574 108.9h0M574.2 110.2h0M574.4 110.9h0M574.6 106.9h0M574.8 109.9h0M575 108.4h0M575.2 108h0M575.4 110.4h0M575.6 108.1h0M575.8 109.3h0M576 109.1h0M576.2 108.7h0M576.4 112.5h0M576.6 108.4h0M576.8 110h0M577 108.8h0M577.2 110.5h0M577.4 110.7h0M577.6 109.7h0M577.8 108.7h0M578 111.6h0M578.2 112.8h0M578.4 110.3h0M578.6 111.8h0M578.8 112.9h0M579 113.1h0M579.2 111.3h0M579.4 108.6h0M579.6 113.2h0M579.8 111.5h0M580 113.6h0M580.2 112.2h0M580.4 111.9h0M580.6 113.6h0M580.8 115.8h0M581 115h0M581.2 111.8h0M581.4 114.5h0M581.6 112.2h0M581.8 111.3h0M582 114h0M582.2 114.9h0M582.4 108.7h0M582.6 114.9h0M582.7 115.2h0M582.9 113.9h0M583.1 115.9h0M583.3 115.6h0M583.5 115h0M583.7 117.1h0M583.9 116.3h0M584.1 117.7h0M584.3 117.5h0M584.5 120.4h0M584.7 116.9h0M584.9 115.9h0M585.1 118.7h0M585.3 118.3h0M585.5 116.1h0M585.7 117.1h0M585.9 113.4h0M586.1 117.7h0M586.3 117.5h0M586.5 118.1h0M586.7 119.2h0M586.9 117.9h0M587.1 118.3h0M587.3 117.5h0M587.5 119h0M587.7 121.6h0M587.9 114.7h0M588.1 119.9h0M588.3 119.2h0M588.5 121.4h0M588.7 122.7h0M588.9 123h0M589.1 123.3h0M589.3 117.7h0M589.5 123.6h0M589.7 118.7h0M589.9 120.6h0M590.1 121.6h0M590.3 119.9h0M590.5 115.9h0M590.7 116.3h0M590.9 119h0M591.1 117.5h0M591.3 123.3h0M591.5 117.5h0M591.7 121.9h0M591.9 120.6h0M592.1 121.6h0M592.3 123h0M592.5 122.2h0M592.7 119.9h0M592.9 117.7h0M593.1 118.5h0M593.3 115.9h0M593.5 121.9h0M593.7 126.6h0M593.9 124.2h0M594.1 128.5h0M594.3 127.7h0M594.5 122.2h0M594.7 118.5h0M594.9 121.6h0M595.1 125.5h0M595.3 121.1h0M595.5 123.3h0M595.7 123.6h0M595.9 127h0M596.1 123h0M596.3 123.3h0M596.5 123.6h0M596.6 125.9h0M596.8 124.9h0M597 124.5h0M597.2 127h0M597.4 129.4h0M597.6 124.9h0M597.8 124.9h0M598 125.9h0M598.2 124.9h0M598.4 129.8h0M598.6 129.8h0M598.8 124.5h0M599 128.1h0M599.2 128.5h0M599.4 128.1h0M599.6 127h0M599.8 134.5h0M600 131.2h0M600.2 127h0M600.4 127.3h0M600.6 130.3h0M600.8 130.3h0M601 128.1h0M601.2 124.9h0M601.4 125.9h0M601.6 126.2h0M601.8 128.5h0M602 127h0M602.2 133.9h0M602.4 133.9h0M602.6 125.2h0M602.8 130.7h0M603 127.3h0M603.2 127h0M603.4 130.7h0M603.6 125.2h0M603.8 133.3h0M604 125.5h0M604.2 135.7h0M604.4 130.3h0M604.6 129.4h0M604.8 130.7h0M605 131.7h0M605.2 129.4h0M605.4 129.8h0M605.6 125.9h0M605.8 130.7h0M606 132.2h0M606.2 130.3h0M606.4 135.7h0M606.6 130.3h0M606.8 127.7h0M607 128.9h0M607.2 134.5h0M607.4 128.1h0M607.6 134.5h0M607.8 126.2h0M608 130.7h0M608.2 133.3h0M608.4 135.1h0M608.6 135.7h0M608.8 134.5h0M609 139.4h0M609.2 128.9h0M609.4 131.2h0M609.6 127.7h0M609.8 135.7h0M610 131.7h0M610.2 132.2h0M610.4 134.5h0M610.5 137.1h0M610.7 133.9h0M610.9 143.1h0M611.1 132.2h0M611.3 131.7h0M611.5 127.3h0M611.7 132.2h0M611.9 130.7h0M612.1 128.5h0M612.3 135.1h0M612.5 136.4h0M612.7 137.1h0M612.9 133.9h0M613.1 141.1h0M613.3 136.4h0M613.5 132.2h0M613.7 132.7h0M613.9 135.1h0M614.1 136.4h0M614.3 133.3h0M614.5 136.4h0M614.7 129.4h0M614.9 131.2h0M615.1 142h0M615.3 138.6h0M615.5 134.5h0M615.7 137.1h0M615.9 137.8h0M616.1 133.3h0M616.3 140.2h0M616.5 138.6h0M616.7 132.2h0M616.9 136.4h0M617.1 133.9h0M617.3 134.5h0M617.5 135.1h0M617.7 136.4h0M617.9 138.6h0M618.1 131.7h0M618.3 138.6h0M618.5 138.6h0M618.7 133.9h0M618.9 137.1h0M619.1 132.7h0M619.3 133.3h0M619.5 133.9h0M619.7 140.2h0M619.9 136.4h0M620.1 132.7h0M620.3 137.1h0M620.5 138.6h0M620.7 143.1h0M620.9 140.2h0M621.1 138.6h0M621.3 137.8h0M621.5 138.6h0M621.7 137.8h0M621.9 135.7h0M622.1 137.8h0M622.3 134.5h0M622.5 140.2h0M622.7 137.1h0M622.9 132.2h0M623.1 146.5h0M623.3 133.3h0M623.5 143.1h0M623.7 137.1h0M623.9 141.1h0M624.1 145.3h0M624.3 140.2h0M624.4 141.1h0M624.6 141.1h0M624.8 140.2h0M625 134.5h0M625.2 140.2h0M625.4 142h0M625.6 139.4h0M625.8 137.1h0M626 139.4h0M626.2 142h0M626.4 136.4h0M626.6 140.2h0M626.8 141.1h0M627 139.4h0M627.2 141.1h0M627.4 138.6h0M627.6 140.2h0M627.8 145.3h0M628 143.1h0M628.2 143.1h0M628.4 132.7h0M628.6 160.2h0M628.8 142h0M629 145.3h0M629.2 137.1h0M629.4 140.2h0M629.6 137.1h0M629.8 141.1h0M630 145.3h0M630.2 137.1h0M630.4 141.1h0M630.6 142h0M630.8 134.5h0M631 146.5h0M631.2 135.7h0M631.4 135.7h0M631.6 141.1h0M631.8 147.9h0M632 151h0M632.2 144.1h0M632.4 141.1h0M632.6 146.5h0M632.8 145.3h0M633 144.1h0M633.2 145.3h0M633.4 137.1h0M633.6 145.3h0M633.8 145.3h0M634 147.9h0M634.2 139.4h0M634.4 138.6h0M634.6 140.2h0M634.8 146.5h0M635 140.2h0M635.2 136.4h0M635.4 137.8h0M635.6 145.3h0M635.8 139.4h0M636 137.1h0M636.2 141.1h0M636.4 143.1h0M636.6 136.4h0M636.8 142h0M637 138.6h0M637.2 141.1h0M637.4 151h0M637.6 141.1h0M637.8 141.1h0M638 140.2h0M638.2 144.1h0M638.3 142h0M638.5 140.2h0M638.7 143.1h0M638.9 142h0M639.1 137.1h0M639.3 147.9h0M639.5 144.1h0M639.7 140.2h0M639.9 144.1h0M640.1 144.1h0M640.3 141.1h0M640.5 137.1h0M640.7 141.1h0M640.9 140.2h0M641.1 146.5h0M641.3 142h0M641.5 142h0M641.7 145.3h0M641.9 143.1h0M642.1 146.5h0M642.3 136.4h0M642.5 151h0M642.7 142h0M642.9 152.9h0M643.1 155h0M643.3 149.4h0M643.5 152.9h0M643.7 142h0M643.9 136.4h0M644.1 141.1h0M644.3 135.7h0M644.5 157.4h0M644.7 144.1h0M644.9 144.1h0M645.1 138.6h0M645.3 142h0M645.5 151h0M645.7 145.3h0M645.9 147.9h0M646.1 138.6h0M646.3 139.4h0M646.5 151h0M646.7 139.4h0M646.9 138.6h0M647.1 141.1h0M647.3 137.1h0M647.5 141.1h0M647.7 146.5h0M647.9 144.1h0M648.1 140.2h0M648.3 143.1h0M648.5 151h0M648.7 147.9h0M648.9 145.3h0M649.1 139.4h0M649.3 144.1h0M649.5 144.1h0M649.7 146.5h0M649.9 145.3h0M650.1 146.5h0M650.3 139.4h0M650.5 142h0M650.7 143.1h0M650.9 140.2h0M651.1 143.1h0M651.3 145.3h0M651.5 152.9h0M651.7 142h0M651.9 144.1h0M652.1 138.6h0M652.2 146.5h0M652.4 151h0M652.6 146.5h0M652.8 136.4h0M653 145.3h0M653.2 141.1h0M653.4 135.7h0M653.6 139.4h0M653.8 144.1h0M654 139.4h0M654.2 140.2h0M654.4 143.1h0M654.6 143.1h0M654.8 144.1h0M655 143.1h0M655.2 141.1h0M655.4 149.4h0M655.6 141.1h0M655.8 152.9h0M656 151h0M656.2 144.1h0M656.4 143.1h0M656.6 137.1h0M656.8 146.5h0M657 135.7h0M657.2 137.8h0M657.4 157.4h0M657.6 147.9h0M657.8 143.1h0M658 142h0M658.2 145.3h0M658.4 151h0M658.6 141.1h0M658.8 141.1h0M659 146.5h0M659.2 142h0M659.4 144.1h0M659.6 147.9h0M659.8 149.4h0M660 145.3h0M660.2 140.2h0M660.4 151h0M660.6 141.1h0M660.8 146.5h0M661 142h0M661.2 145.3h0M661.4 144.1h0M661.6 137.1h0M661.8 145.3h0M662 147.9h0M662.2 145.3h0M662.4 145.3h0M662.6 138.6h0M662.8 146.5h0M663 152.9h0M663.2 144.1h0M663.4 139.4h0M663.6 138.6h0M663.8 143.1h0M664 142h0M664.2 151h0M664.4 143.1h0M664.6 139.4h0M664.8 144.1h0M665 137.8h0M665.2 139.4h0M665.4 145.3h0M665.6 141.1h0M665.8 146.5h0M666 143.1h0M666.2 142h0M666.3 143.1h0M666.5 141.1h0M666.7 149.4h0M666.9 147.9h0M667.1 133.3h0M667.3 145.3h0M667.5 142h0M667.7 141.1h0M667.9 151h0M668.1 139.4h0M668.3 140.2h0M668.5 146.5h0M668.7 145.3h0M668.9 141.1h0M669.1 144.1h0M669.3 142h0M669.5 141.1h0M669.7 144.1h0M669.9 146.5h0M670.1 143.1h0M670.3 146.5h0M670.5 152.9h0M670.7 147.9h0M670.9 146.5h0M671.1 145.3h0M671.3 151h0M671.5 144.1h0M671.7 146.5h0M671.9 147.9h0M672.1 139.4h0M672.3 145.3h0M672.5 141.1h0M672.7 149.4h0M672.9 142h0M673.1 144.1h0M673.3 146.5h0M673.5 143.1h0M673.7 151h0M673.9 144.1h0M674.1 145.3h0M674.3 146.5h0M674.5 140.2h0M674.7 147.9h0M674.9 137.1h0M675.1 147.9h0M675.3 138.6h0M675.5 151h0M675.7 144.1h0M675.9 144.1h0M676.1 151h0M676.3 145.3h0M676.5 155h0M676.7 145.3h0M676.9 137.8h0M677.1 149.4h0M677.3 140.2h0M677.5 151h0M677.7 145.3h0M677.9 140.2h0M678.1 139.4h0" stroke="#f5cd2c" stroke-width="1.3" stroke-linecap="round" fill="none"/><path d="M500 152.2h0M499.4 146.9h0M499.1 139.4h0M499.9 126.8h0M499.6 122.6h0M499.8 108h0M500.1 101.9h0M499.5 92.9h0M499.7 83.4h0M499.9 75.1h0M500.1 68.4h0M500.5 55.8h0M500.1 49.2h0M500.9 36.9h0M501.2 28.7h0M501.7 21.5h0M495.6 160.2h0M496.4 155h0M496.6 155h0M497.2 160.2h0M497.6 157.4h0M498.4 152.9h0M498.8 160.2h0M499 157.4h0M502.3 16h0M502.5 16.4h0M502.7 16.6h0M502.9 16.9h0M503.1 17.3h0M503.3 17.9h0M503.5 18h0M503.7 18.3h0M503.9 18.8h0M504.1 18.9h0M504.3 19.5h0M504.5 19.7h0M504.7 20h0M504.9 20.4h0M505.1 20.7h0M505.3 21h0M505.5 21.4h0M505.7 21.9h0M505.9 22.2h0M506.1 22.6h0M506.3 22.9h0M506.5 23.1h0M506.7 23.4h0M506.9 23.7h0M507.1 24.1h0M507.3 24.6h0M507.5 24.8h0M507.7 25.1h0M507.9 25.6h0M508.1 25.8h0M508.3 26.2h0M508.5 26.6h0M508.7 26.8h0M508.9 27.2h0M509.1 27.5h0M509.3 28.1h0M509.5 28.2h0M509.7 28.6h0M509.9 28.8h0M510.1 29.3h0M510.3 29.7h0M510.5 29.9h0M510.7 30.3h0M510.9 30.4h0M511.1 30.9h0M511.3 31.4h0M511.5 31.7h0M511.7 32h0M511.9 32.1h0M512.1 32.7h0M512.3 32.9h0M512.5 33.2h0M512.7 33.7h0M512.9 34.1h0M513.1 34.2h0M513.3 34.6h0M513.5 34.7h0M513.7 35.2h0M513.9 35.6h0M514.1 35.8h0M514.3 36.2h0M514.5 36.3h0M514.7 36.7h0M514.9 37.1h0M515.1 37.6h0M515.3 37.6h0M515.5 37.9h0M515.6 38.3h0M515.8 38.6h0M516 39.2h0M516.2 39.3h0M516.4 39.6h0M516.6 39.8h0M516.8 40.4h0M517 40.7h0M517.2 41.2h0M517.4 41.6h0M517.6 41.7h0M517.8 42h0M518 42.1h0M518.2 42.9h0M518.4 42.9h0M518.6 43.1h0M518.8 43.3h0M519 44.3h0M519.2 44.5h0M519.4 44.5h0M519.6 44.8h0M519.8 45.4h0M520 45.4h0M520.2 45.8h0M520.4 46.4h0M520.6 46.1h0M520.8 47.3h0M521 47.1h0M521.2 47.5h0M521.4 47.9h0M521.6 48h0M521.8 48.4h0M522 48.5h0M522.2 49.2h0M522.4 49.3h0M522.6 49.7h0M522.8 49.9h0M523 50.7h0M523.2 50.8h0M523.4 51.2h0M523.6 51h0M523.8 51.9h0M524 52.1h0M524.2 52.7h0M524.4 52.9h0M524.6 52.9h0M524.8 53.1h0M525 53.9h0M525.2 53.9h0M525.4 54.1h0M525.6 54.8h0M525.8 54.8h0M526 55.2h0M526.2 56h0M526.4 56.3h0M526.6 56.5h0M526.8 56.7h0M527 56.9h0M527.2 57.1h0M527.4 57.2h0M527.6 58h0M527.8 58.3h0M528 58.6h0M528.2 58.2h0M528.4 59.1h0M528.6 59.3h0M528.8 59.7h0M529 59.7h0M529.2 60.5h0M529.4 60.3h0M529.5 61.3h0M529.7 61.5h0M529.9 61.3h0M530.1 61.3h0M530.3 61.9h0M530.5 62h0M530.7 63h0M530.9 62.3h0M531.1 63.3h0M531.3 63.1h0M531.5 63.7h0M531.7 63.7h0M531.9 64.4h0M532.1 64.4h0M532.3 64.6h0M532.5 65h0M532.7 65.7h0M532.9 65.7h0M533.1 66.4h0M533.3 65.8h0M533.5 66.8h0M533.7 66.4h0M533.9 66.9h0M534.1 67.6h0M534.3 67.6h0M534.5 67.3h0M534.7 68.1h0M534.9 67.8h0M535.1 68.4h0M535.3 68.9h0M535.5 68.7h0M535.7 68.9h0M535.9 69.7h0M536.1 69.5h0M536.3 70.6h0M536.5 70.8h0M536.7 70.5h0M536.9 70.8h0M537.1 71.2h0M537.3 71.3h0M537.5 71.5h0M537.7 72.2h0M537.9 72.5h0M538.1 71.5h0M538.3 72.2h0M538.5 72.3h0M538.7 73.4h0M538.9 72.8h0M539.1 74.5h0M539.3 74h0M539.5 73.8h0M539.7 73.9h0M539.9 74h0M540.1 74.5h0M540.3 75.4h0M540.5 74.9h0M540.7 75.8h0M540.9 75.6h0M541.1 76.1h0M541.3 76.2h0M541.5 77h0M541.7 76.1h0M541.9 76.1h0M542.1 77h0M542.3 76.8h0M542.5 77.8h0M542.7 77.6h0M542.9 77.2h0M543.1 78.4h0M543.3 78.6h0M543.5 77.7h0M543.6 78.4h0M543.8 78.2h0M544 79.1h0M544.2 78.9h0M544.4 80h0M544.6 79.5h0M544.8 79.6h0M545 80.6h0M545.2 79.8h0M545.4 80.6h0M545.6 79.2h0M545.8 80.4h0M546 81.4h0M546.2 80.6h0M546.4 81.9h0M546.6 80.7h0M546.8 81.7h0M547 82.4h0M547.2 81.7h0M547.4 83h0M547.6 82.7h0M547.8 82.7h0M548 83h0M548.2 83h0M548.4 83.7h0M548.6 83.1h0M548.8 83.7h0M549 85.2h0M549.2 84.4h0M549.4 84.6h0M549.6 84.8h0M549.8 85.4h0M550 83.9h0M550.2 85.2h0M550.4 86.2h0M550.6 86.4h0M550.8 85.6h0M551 84.4h0M551.2 86.5h0M551.4 85.9h0M551.6 86.6h0M551.8 86.6h0M552 86.3h0M552.2 86.7h0M552.4 89.1h0M552.6 86.3h0M552.8 87.4h0M553 87.6h0M553.2 88.3h0M553.4 88.4h0M553.6 88.7h0M553.8 89.2h0M554 88.8h0M554.2 90h0M554.4 89h0M554.6 89.5h0M554.8 87.8h0M555 89.5h0M555.2 89.6h0M555.4 89.5h0M555.6 92.4h0M555.8 91h0M556 90.8h0M556.2 91.5h0M556.4 91h0M556.6 91.3h0M556.8 91.3h0M557 91.6h0M557.2 92.7h0M557.4 92.7h0M557.5 92.2h0M557.7 92.9h0M557.9 91.8h0M558.1 92.9h0M558.3 93.4h0M558.5 93.1h0M558.7 93.7h0M558.9 94.2h0M559.1 93h0M559.3 94h0M559.5 93.2h0M559.7 95.1h0M559.9 93.5h0M560.1 95.3h0M560.3 94.8h0M560.5 96.2h0M560.7 95.6h0M560.9 95.9h0M561.1 96h0M561.3 94.3h0M561.5 95.5h0M561.7 97.6h0M561.9 96.5h0M562.1 95.7h0M562.3 95.7h0M562.5 95.7h0M562.7 95.7h0M562.9 99.4h0M563.1 96.5h0M563.3 97.5h0M563.5 99.6h0M563.7 98.9h0M563.9 98.8h0M564.1 98.6h0M564.3 98.9h0M564.5 98.6h0M564.7 98.6h0M564.9 99.2h0M565.1 99.5h0M565.3 98.9h0M565.5 99.8h0M565.7 101.4h0M565.9 101.7h0M566.1 99.7h0M566.3 101.1h0M566.5 99.4h0M566.7 102.2h0M566.9 102.7h0M567.1 101.2h0M567.3 100.4h0M567.5 102h0M567.7 101.5h0M567.9 102.6h0M568.1 100.3h0M568.3 101h0M568.5 103.3h0M568.7 103.7h0M568.9 103.8h0M569.1 100.9h0M569.3 103.7h0M569.5 104.7h0M569.7 102.6h0M569.9 103h0M570.1 103.4h0M570.3 103.6h0M570.5 102.3h0M570.7 103h0M570.9 103.5h0M571.1 102.1h0M571.3 103.4h0M571.4 106.2h0M571.6 102.6h0M571.8 105.8h0M572 106.4h0M572.2 105h0M572.4 105.3h0M572.6 104.5h0M572.8 106.2h0M573 108.5h0M573.2 105.1h0M573.4 105.4h0M573.6 106.8h0M573.8 106.7h0M574 107.4h0M574.2 106.9h0M574.4 107.5h0M574.6 106.1h0M574.8 107.5h0M575 108.6h0M575.2 104.6h0M575.4 105.7h0M575.6 107.6h0M575.8 108.8h0M576 105.4h0M576.2 106h0M576.4 107.8h0M576.6 108.1h0M576.8 107.2h0M577 110.2h0M577.2 108.2h0M577.4 110.5h0M577.6 107.2h0M577.8 113.4h0M578 108.6h0M578.2 108.4h0M578.4 113.2h0M578.6 112.2h0M578.8 110.2h0M579 107.7h0M579.2 110.3h0M579.4 112.5h0M579.6 109.7h0M579.8 112h0M580 110h0M580.2 111.2h0M580.4 110.9h0M580.6 114h0M580.8 113.6h0M581 109.8h0M581.2 109.9h0M581.4 111.8h0M581.6 112.6h0M581.8 114.9h0M582 112.6h0M582.2 112.6h0M582.4 115.9h0M582.6 112h0M582.8 115.2h0M583 114.9h0M583.2 116.9h0M583.4 113.6h0M583.6 115.6h0M583.8 112.3h0M584 112.5h0M584.2 115.4h0M584.4 114.2h0M584.6 113.7h0M584.8 114.2h0M585 117.1h0M585.2 114.4h0M585.3 117.7h0M585.5 113.9h0M585.7 116.7h0M585.9 116.7h0M586.1 114.7h0M586.3 119.9h0M586.5 115h0M586.7 113.6h0M586.9 117.5h0M587.1 117.7h0M587.3 116.3h0M587.5 117.5h0M587.7 116.1h0M587.9 119.4h0M588.1 118.7h0M588.3 119.4h0M588.5 122.2h0M588.7 113.7h0M588.9 116.7h0M589.1 124.9h0M589.3 123h0M589.5 118.7h0M589.7 118.7h0M589.9 117.3h0M590.1 115.2h0M590.3 117.7h0M590.5 116.3h0M590.7 121.9h0M590.9 118.5h0M591.1 121.9h0M591.3 119h0M591.5 117.7h0M591.7 122.5h0M591.9 122.5h0M592.1 119.7h0M592.3 115.2h0M592.5 117.5h0M592.7 123h0M592.9 121.1h0M593.1 121.4h0M593.3 124.9h0M593.5 122.2h0M593.7 126.2h0M593.9 118.5h0M594.1 119.7h0M594.3 119.4h0M594.5 119.9h0M594.7 117.1h0M594.9 124.5h0M595.1 119.7h0M595.3 120.1h0M595.5 122.2h0M595.7 123.3h0M595.9 128.1h0M596.1 123h0M596.3 117.9h0M596.5 125.2h0M596.7 123.9h0M596.9 121.6h0M597.1 125.2h0M597.3 120.6h0M597.5 123.9h0M597.7 122.7h0M597.9 130.7h0M598.1 125.2h0M598.3 128.9h0M598.5 127h0M598.7 125.5h0M598.9 123h0M599.1 124.9h0M599.2 130.3h0M599.4 127.3h0M599.6 125.9h0M599.8 128.1h0M600 121.1h0M600.2 130.7h0M600.4 125.5h0M600.6 126.6h0M600.8 123.6h0M601 130.7h0M601.2 128.1h0M601.4 122.2h0M601.6 127h0M601.8 129.8h0M602 125.9h0M602.2 126.6h0M602.4 126.6h0M602.6 129.8h0M602.8 127.3h0M603 133.9h0M603.2 129.8h0M603.4 125.5h0M603.6 131.2h0M603.8 129.4h0M604 124.9h0M604.2 123.9h0M604.4 132.7h0M604.6 127.7h0M604.8 126.2h0M605 128.5h0M605.2 131.7h0M605.4 128.9h0M605.6 133.9h0M605.8 130.7h0M606 128.9h0M606.2 125.2h0M606.4 135.1h0M606.6 125.9h0M606.8 132.7h0M607 135.7h0M607.2 127h0M607.4 129.4h0M607.6 129.8h0M607.8 131.7h0M608 129.4h0M608.2 126.6h0M608.4 131.7h0M608.6 130.7h0M608.8 131.7h0M609 129.8h0M609.2 136.4h0M609.4 129.4h0M609.6 130.7h0M609.8 130.7h0M610 127h0M610.2 135.1h0M610.4 140.2h0M610.6 129.4h0M610.8 128.5h0M611 130.3h0M611.2 132.2h0M611.4 138.6h0M611.6 130.7h0M611.8 136.4h0M612 131.2h0M612.2 141.1h0M612.4 135.1h0M612.6 127.3h0M612.8 131.2h0M613 137.8h0M613.1 132.7h0M613.3 133.3h0M613.5 135.1h0M613.7 129.8h0M613.9 141.1h0M614.1 131.7h0M614.3 133.9h0M614.5 131.2h0M614.7 145.3h0M614.9 130.3h0M615.1 137.8h0M615.3 132.2h0M615.5 135.7h0M615.7 133.9h0M615.9 145.3h0M616.1 131.7h0M616.3 130.7h0M616.5 130.7h0M616.7 131.7h0M616.9 139.4h0M617.1 131.2h0M617.3 138.6h0M617.5 135.1h0M617.7 130.7h0M617.9 130.7h0M618.1 133.9h0M618.3 135.1h0M618.5 139.4h0M618.7 137.8h0M618.9 135.1h0M619.1 137.1h0M619.3 128.9h0M619.5 136.4h0M619.7 135.7h0M619.9 133.9h0M620.1 138.6h0M620.3 135.7h0M620.5 137.8h0M620.7 133.9h0M620.9 142h0M621.1 140.2h0M621.3 135.1h0M621.5 136.4h0M621.7 143.1h0M621.9 143.1h0M622.1 133.3h0M622.3 133.9h0M622.5 142h0M622.7 133.9h0M622.9 140.2h0M623.1 141.1h0M623.3 139.4h0M623.5 135.7h0M623.7 133.3h0M623.9 136.4h0M624.1 137.8h0M624.3 134.5h0M624.5 155h0M624.7 149.4h0M624.9 136.4h0M625.1 138.6h0M625.3 135.7h0M625.5 140.2h0M625.7 140.2h0M625.9 132.7h0M626.1 142h0M626.3 144.1h0M626.5 135.7h0M626.7 137.1h0M626.9 133.3h0M627.1 137.1h0M627.2 137.8h0M627.4 140.2h0M627.6 133.3h0M627.8 142h0M628 133.9h0M628.2 143.1h0M628.4 147.9h0M628.6 137.8h0M628.8 135.7h0M629 137.1h0M629.2 136.4h0M629.4 131.7h0M629.6 140.2h0M629.8 135.1h0M630 137.8h0M630.2 141.1h0M630.4 138.6h0M630.6 139.4h0M630.8 142h0M631 137.8h0M631.2 152.9h0M631.4 131.2h0M631.6 139.4h0M631.8 147.9h0M632 141.1h0M632.2 138.6h0M632.4 143.1h0M632.6 147.9h0M632.8 139.4h0M633 136.4h0M633.2 141.1h0M633.4 144.1h0M633.6 137.8h0M633.8 149.4h0M634 142h0M634.2 139.4h0M634.4 137.8h0M634.6 146.5h0M634.8 133.9h0M635 135.7h0M635.2 136.4h0M635.4 140.2h0M635.6 144.1h0M635.8 140.2h0M636 145.3h0M636.2 132.2h0M636.4 144.1h0M636.6 143.1h0M636.8 141.1h0M637 141.1h0M637.2 141.1h0M637.4 141.1h0M637.6 146.5h0M637.8 142h0M638 146.5h0M638.2 140.2h0M638.4 139.4h0M638.6 145.3h0M638.8 137.1h0M639 149.4h0M639.2 137.1h0M639.4 142h0M639.6 135.1h0M639.8 149.4h0M640 145.3h0M640.2 137.8h0M640.4 142h0M640.6 151h0M640.8 138.6h0M641 146.5h0M641.1 140.2h0M641.3 142h0M641.5 143.1h0M641.7 144.1h0M641.9 146.5h0M642.1 137.1h0M642.3 145.3h0M642.5 132.2h0M642.7 132.7h0M642.9 146.5h0M643.1 143.1h0M643.3 147.9h0M643.5 147.9h0M643.7 143.1h0M643.9 144.1h0M644.1 143.1h0M644.3 135.7h0M644.5 143.1h0M644.7 147.9h0M644.9 142h0M645.1 141.1h0M645.3 145.3h0M645.5 143.1h0M645.7 151h0M645.9 143.1h0M646.1 147.9h0M646.3 139.4h0M646.5 137.1h0M646.7 142h0M646.9 139.4h0M647.1 145.3h0M647.3 143.1h0M647.5 144.1h0M647.7 138.6h0M647.9 134.5h0M648.1 135.7h0M648.3 140.2h0M648.5 138.6h0M648.7 140.2h0M648.9 140.2h0M649.1 145.3h0M649.3 141.1h0M649.5 139.4h0M649.7 144.1h0M649.9 145.3h0M650.1 147.9h0M650.3 143.1h0M650.5 146.5h0M650.7 138.6h0M650.9 141.1h0M651.1 144.1h0M651.3 139.4h0M651.5 136.4h0M651.7 147.9h0M651.9 138.6h0M652.1 143.1h0M652.3 134.5h0M652.5 140.2h0M652.7 141.1h0M652.9 138.6h0M653.1 143.1h0M653.3 142h0M653.5 143.1h0M653.7 151h0M653.9 143.1h0M654.1 141.1h0M654.3 142h0M654.5 135.1h0M654.7 141.1h0M654.9 145.3h0M655 142h0M655.2 145.3h0M655.4 141.1h0M655.6 143.1h0M655.8 146.5h0M656 152.9h0M656.2 142h0M656.4 146.5h0M656.6 147.9h0M656.8 146.5h0M657 141.1h0M657.2 140.2h0M657.4 144.1h0M657.6 145.3h0M657.8 143.1h0M658 143.1h0M658.2 137.8h0M658.4 137.1h0M658.6 143.1h0M658.8 139.4h0M659 144.1h0M659.2 137.1h0M659.4 142h0M659.6 146.5h0M659.8 138.6h0M660 145.3h0M660.2 149.4h0M660.4 141.1h0M660.6 145.3h0M660.8 146.5h0M661 143.1h0M661.2 145.3h0M661.6 140.2h0M661.8 143.1h0M662 134.5h0M662.2 141.1h0M662.4 140.2h0M662.6 145.3h0M662.8 134.5h0M663 139.4h0M663.2 144.1h0M663.4 144.1h0M663.6 137.1h0M663.8 143.1h0M664 141.1h0M664.2 152.9h0M664.4 139.4h0M664.6 137.1h0M664.8 141.1h0M665 149.4h0M665.2 151h0M665.4 144.1h0M665.6 152.9h0M665.8 147.9h0M666 144.1h0M666.2 144.1h0M666.4 141.1h0M666.6 146.5h0M666.8 143.1h0M667 138.6h0M667.2 146.5h0M667.4 140.2h0M667.6 143.1h0M667.8 143.1h0M668 151h0M668.2 141.1h0M668.4 145.3h0M668.6 149.4h0M668.8 137.8h0M668.9 145.3h0M669.1 143.1h0M669.3 151h0M669.5 142h0M669.7 144.1h0M669.9 143.1h0M670.1 151h0M670.3 144.1h0M670.5 146.5h0M670.7 152.9h0M670.9 139.4h0M671.1 145.3h0M671.3 142h0M671.5 139.4h0M671.7 135.1h0M671.9 140.2h0M672.1 133.3h0M672.3 137.1h0M672.5 142h0M672.7 145.3h0M672.9 152.9h0M673.1 143.1h0M673.3 139.4h0M673.5 147.9h0M673.7 137.1h0M673.9 139.4h0M674.1 140.2h0M674.3 144.1h0M674.5 149.4h0M674.7 142h0M674.9 141.1h0M675.1 146.5h0M675.3 152.9h0M675.5 140.2h0M675.7 144.1h0M675.9 142h0M676.1 146.5h0M676.3 149.4h0M676.5 144.1h0M676.7 143.1h0M676.9 145.3h0M677.1 147.9h0M677.3 141.1h0M677.5 146.5h0M677.7 145.3h0M677.9 135.7h0M678.1 141.1h0" stroke="#5ccc44" stroke-width="1.3" stroke-linecap="round" fill="none"/><path d="M499.1 153.5h0M499.7 149h0M499.6 140.2h0M499.1 128.4h0M499.9 117h0M499.8 108.2h0M499.9 102.9h0M499.9 91.8h0M499.6 81.5h0M499.9 71.4h0M500.1 66.7h0M500.6 52.9h0M500.3 50.3h0M501.5 37.1h0M501.5 29.1h0M501.4 23.9h0M495.1 152.9h0M495.5 151h0M495.7 160.2h0M496.3 155h0M496.6 160.2h0M496.8 155h0M497.2 151h0M497.8 157.4h0M498 155h0M498.2 160.2h0M498.6 157.4h0M502.4 16h0M502.6 16.3h0M502.8 16.7h0M503 17h0M503.2 17.3h0M503.4 17.5h0M503.6 18h0M503.8 18.2h0M504 18.6h0M504.2 18.9h0M504.4 19.3h0M504.6 19.4h0M504.8 19.8h0M505 20.1h0M505.2 20.4h0M505.4 20.8h0M505.6 21.1h0M505.8 21.3h0M506 21.7h0M506.2 22h0M506.4 22.2h0M506.6 22.6h0M506.8 23.1h0M507 23.2h0M507.2 23.6h0M507.4 24h0M507.6 24.2h0M507.8 24.6h0M508 24.8h0M508.2 25.1h0M508.4 25.5h0M508.6 25.7h0M508.8 26.2h0M509 26.3h0M509.2 26.7h0M509.4 27h0M509.6 27.4h0M509.8 27.7h0M510 27.9h0M510.2 28.4h0M510.4 28.5h0M510.5 28.8h0M510.7 29.2h0M510.9 29.3h0M511.1 30h0M511.3 30.1h0M511.5 30.4h0M511.7 30.5h0M511.9 30.9h0M512.1 31.1h0M512.3 31.7h0M512.5 31.9h0M512.7 32.1h0M512.9 32.1h0M513.1 32.8h0M513.3 32.8h0M513.5 33.2h0M513.7 33.6h0M513.9 33.8h0M514.1 34.1h0M514.3 34.6h0M514.5 34.9h0M514.7 35h0M514.9 35.5h0M515.1 35.6h0M515.3 35.8h0M515.5 36.3h0M515.7 36.6h0M515.9 36.8h0M516.1 37.1h0M516.3 37.3h0M516.5 37.7h0M516.7 38.1h0M516.9 38.3h0M517.1 38.7h0M517.3 39h0M517.5 39.2h0M517.7 39.8h0M517.9 39.8h0M518.1 40h0M518.3 40.4h0M518.5 40.8h0M518.7 41h0M518.9 41.1h0M519.1 41.7h0M519.3 41.8h0M519.5 42.3h0M519.7 42.5h0M519.9 42.6h0M520.1 42.9h0M520.3 43.8h0M520.5 43.8h0M520.7 43.6h0M520.9 44.1h0M521.1 44.9h0M521.3 45h0M521.5 45.1h0M521.7 45.6h0M521.9 45.8h0M522.1 46.5h0M522.3 46.7h0M522.5 46.8h0M522.7 47.4h0M522.9 48h0M523.1 48.1h0M523.3 48.5h0M523.5 48.6h0M523.7 48.9h0M523.9 49.3h0M524.1 49.6h0M524.3 50.2h0M524.4 50h0M524.6 50.7h0M524.8 51.1h0M525 50.9h0M525.2 51.5h0M525.4 52.2h0M525.6 52.5h0M525.8 52.6h0M526 53.1h0M526.2 53h0M526.4 54h0M526.6 53.9h0M526.8 54h0M527 54.6h0M527.2 54.8h0M527.4 55.4h0M527.6 55.4h0M527.8 55.5h0M528 56.3h0M528.2 56.4h0M528.4 56.7h0M528.6 57h0M528.8 57.3h0M529 57.8h0M529.2 57.5h0M529.4 58.2h0M529.6 58.4h0M529.8 58.8h0M530 58.8h0M530.2 59.2h0M530.4 59.9h0M530.6 59.8h0M530.8 59.7h0M531 60.7h0M531.2 60.5h0M531.4 60.8h0M531.6 61.5h0M531.8 61.5h0M532 61.7h0M532.2 62.3h0M532.4 62.9h0M532.6 63.3h0M532.8 63.2h0M533 63.5h0M533.2 63.6h0M533.4 63.7h0M533.6 63.4h0M533.8 64.5h0M534 64.3h0M534.2 65.2h0M534.4 64.9h0M534.6 65.5h0M534.8 65.1h0M535 65.8h0M535.2 65.8h0M535.4 66.4h0M535.6 66.3h0M535.8 66.4h0M536 66.7h0M536.2 67h0M536.4 67.6h0M536.6 68h0M536.8 68.5h0M537 68.5h0M537.2 68.5h0M537.4 68.8h0M537.6 69.1h0M537.8 69.2h0M538 70h0M538.2 70.1h0M538.3 70.6h0M538.5 70.3h0M538.7 70.4h0M538.9 70.7h0M539.1 72.1h0M539.3 71.2h0M539.5 71.4h0M539.7 72.1h0M539.9 72h0M540.1 72.4h0M540.3 71.8h0M540.5 72.7h0M540.7 73h0M540.9 72.8h0M541.1 73.4h0M541.3 73.4h0M541.5 73.9h0M541.7 74h0M541.9 74h0M542.1 74.8h0M542.3 74.7h0M542.5 74.4h0M542.7 74.7h0M542.9 74.5h0M543.1 75.7h0M543.3 75.9h0M543.5 75.1h0M543.7 75.8h0M543.9 76.5h0M544.1 77h0M544.3 76.9h0M544.5 76.7h0M544.7 77.9h0M544.9 77.6h0M545.1 77h0M545.3 78.1h0M545.5 78.2h0M545.7 78.7h0M545.9 78.4h0M546.1 79h0M546.3 78.3h0M546.5 79.1h0M546.7 78.4h0M546.9 78.7h0M547.1 80.3h0M547.3 79.1h0M547.5 80.8h0M547.7 79.2h0M547.9 80.1h0M548.1 80h0M548.3 80.8h0M548.5 81.6h0M548.7 81h0M548.9 80.9h0M549.1 80.8h0M549.3 81.2h0M549.5 83.6h0M549.7 81.8h0M549.9 82.6h0M550.1 83.4h0M550.3 82.5h0M550.5 83.1h0M550.7 83.2h0M550.9 83.3h0M551.1 84h0M551.3 83.6h0M551.5 82.6h0M551.7 84.5h0M551.9 84.7h0M552.1 84.4h0M552.2 84.2h0M552.4 84.3h0M552.6 84.8h0M552.8 86.1h0M553 84.9h0M553.2 85.9h0M553.4 86.5h0M553.6 86.3h0M553.8 85.5h0M554 86.1h0M554.2 85.1h0M554.4 87.2h0M554.6 86h0M554.8 86.6h0M555 86.5h0M555.2 88.5h0M555.4 88.5h0M555.6 88.5h0M555.8 87.3h0M556 87.7h0M556.2 87.9h0M556.4 88.3h0M556.6 88.6h0M556.8 88.8h0M557 88.5h0M557.2 89.7h0M557.4 90.7h0M557.6 89.4h0M557.8 90.7h0M558 89.3h0M558.2 90h0M558.4 90.2h0M558.6 90.5h0M558.8 90.7h0M559 90.6h0M559.2 91h0M559.4 92.3h0M559.6 91.6h0M559.8 92.2h0M560 91.4h0M560.2 90.8h0M560.4 92.5h0M560.6 91.9h0M560.8 92.9h0M561 93.4h0M561.2 92.9h0M561.4 92h0M561.6 93.1h0M561.8 94.3h0M562 93.8h0M562.2 95h0M562.4 95.6h0M562.6 95.3h0M562.8 94.7h0M563 94.7h0M563.2 95.9h0M563.4 96.6h0M563.6 96.1h0M563.8 94.3h0M564 95.2h0M564.2 95.2h0M564.4 95.3h0M564.6 95.5h0M564.8 97.1h0M565 98.5h0M565.2 96.2h0M565.4 98.5h0M565.6 98.3h0M565.8 97.7h0M566 97h0M566.1 97.7h0M566.3 99.3h0M566.5 99.9h0M566.7 98.5h0M566.9 99h0M567.1 99.7h0M567.3 99.8h0M567.5 98h0M567.7 98.3h0M567.9 101h0M568.1 98.4h0M568.3 101.2h0M568.5 99.7h0M568.7 99.7h0M568.9 100.9h0M569.1 99.8h0M569.3 102.8h0M569.5 99.8h0M569.7 101.5h0M569.9 98.4h0M570.1 100h0M570.3 100.4h0M570.5 101.7h0M570.7 101.6h0M570.9 103.4h0M571.1 100.7h0M571.3 101.1h0M571.5 101.9h0M571.7 102.1h0M571.9 102.2h0M572.1 102.3h0M572.3 103.4h0M572.5 102h0M572.7 106.8h0M572.9 102.8h0M573.1 103h0M573.3 104.1h0M573.5 104.1h0M573.7 102.9h0M573.9 102.2h0M574.1 101.7h0M574.3 104.8h0M574.5 104.3h0M574.7 104.6h0M574.9 104.9h0M575.1 106.3h0M575.3 104.5h0M575.5 105.3h0M575.7 104.1h0M575.9 106.5h0M576.1 104.1h0M576.3 107.8h0M576.5 105h0M576.7 106.3h0M576.9 106.5h0M577.1 105.9h0M577.3 107.5h0M577.5 108.6h0M577.7 107.2h0M577.9 110.8h0M578.1 106.3h0M578.3 105.9h0M578.5 105.8h0M578.7 106.3h0M578.9 106.2h0M579.1 107.7h0M579.3 108h0M579.5 110.4h0M579.7 107.9h0M579.9 107.8h0M580.1 109.3h0M580.2 110.4h0M580.4 108.1h0M580.6 109.7h0M580.8 109.8h0M581 109.3h0M581.2 108.7h0M581.4 110.9h0M581.6 111.1h0M581.8 110.8h0M582 108.9h0M582.2 112h0M582.4 109.3h0M582.6 115h0M582.8 111.6h0M583 113.2h0M583.2 109.4h0M583.4 111.3h0M583.6 111.3h0M583.8 111.9h0M584 113.4h0M584.2 112.8h0M584.4 112.3h0M584.6 112h0M584.8 107.5h0M585 111.5h0M585.2 112.8h0M585.4 113.2h0M585.6 114.7h0M585.8 112.5h0M586 116.7h0M586.2 115h0M586.4 111.9h0M586.6 116.5h0M586.8 115.9h0M587 111.3h0M587.2 112.3h0M587.4 116.3h0M587.6 113.4h0M587.8 111.6h0M588 115.9h0M588.2 115.4h0M588.4 112.6h0M588.6 113.2h0M588.8 112.2h0M589 113.4h0M589.2 116.5h0M589.4 114.5h0M589.6 113.6h0M589.8 113.9h0M590 117.7h0M590.2 118.1h0M590.4 111.9h0M590.6 113.4h0M590.8 119.7h0M591 114.4h0M591.2 117.3h0M591.4 119h0M591.6 117.1h0M591.8 118.3h0M592 120.4h0M592.2 120.6h0M592.4 116.9h0M592.6 122.2h0M592.8 119h0M593 119.4h0M593.2 117.3h0M593.4 119.4h0M593.6 120.6h0M593.8 118.5h0M594 117.9h0M594.1 117.7h0M594.3 121.6h0M594.5 121.1h0M594.7 118.3h0M594.9 117.9h0M595.1 120.9h0M595.3 125.2h0M595.5 125.2h0M595.7 119.7h0M595.9 118.3h0M596.1 119.9h0M596.3 117.1h0M596.5 124.5h0M596.7 120.9h0M596.9 117.3h0M597.1 117.9h0M597.3 120.9h0M597.5 121.9h0M597.7 121.9h0M597.9 124.9h0M598.1 120.9h0M598.3 123.6h0M598.5 125.5h0M598.7 129.4h0M598.9 124.9h0M599.1 121.6h0M599.3 118.5h0M599.5 121.6h0M599.7 123.3h0M599.9 124.2h0M600.1 126.2h0M600.3 119.7h0M600.5 123.9h0M600.7 124.2h0M600.9 124.9h0M601.1 120.9h0M601.3 124.2h0M601.5 126.6h0M601.7 123.6h0M601.9 123.3h0M602.1 122.7h0M602.3 122.7h0M602.5 123.3h0M602.7 126.2h0M602.9 126.6h0M603.1 126.2h0M603.3 128.5h0M603.5 128.9h0M603.7 127.3h0M603.9 123.9h0M604.1 124.2h0M604.3 125.2h0M604.5 123.6h0M604.7 126.2h0M604.9 127h0M605.1 129.4h0M605.3 125.2h0M605.5 127.7h0M605.7 120.9h0M605.9 126.6h0M606.1 124.9h0M606.3 126.6h0M606.5 123.6h0M606.7 124.5h0M606.9 129.8h0M607.1 128.5h0M607.3 126.2h0M607.5 126.6h0M607.7 129.4h0M607.9 124.2h0M608 126.6h0M608.2 124.2h0M608.4 132.7h0M608.6 131.2h0M608.8 131.7h0M609 137.8h0M609.2 132.2h0M609.4 132.2h0M609.6 131.7h0M609.8 131.2h0M610 129.8h0M610.2 128.9h0M610.4 125.5h0M610.6 128.1h0M610.8 134.5h0M611 134.5h0M611.2 130.7h0M611.4 126.6h0M611.6 127.3h0M611.8 128.9h0M612 129.4h0M612.2 127.3h0M612.4 127.7h0M612.6 127.3h0M612.8 130.3h0M613 131.7h0M613.2 129.8h0M613.4 132.2h0M613.6 129.8h0M613.8 138.6h0M614 128.5h0M614.2 130.7h0M614.4 132.7h0M614.6 133.9h0M614.8 129.8h0M615 128.9h0M615.2 137.1h0M615.4 130.3h0M615.6 128.1h0M615.8 130.3h0M616 135.7h0M616.2 133.3h0M616.4 133.9h0M616.6 133.3h0M616.8 131.7h0M617 132.7h0M617.2 128.9h0M617.4 126.2h0M617.6 132.7h0M617.8 131.7h0M618 128.1h0M618.2 127.3h0M618.4 139.4h0M618.6 136.4h0M618.8 136.4h0M619 129.4h0M619.2 140.2h0M619.4 131.7h0M619.6 134.5h0M619.8 135.1h0M620 132.2h0M620.2 137.1h0M620.4 135.7h0M620.6 134.5h0M620.8 139.4h0M621 137.8h0M621.2 133.9h0M621.4 127.3h0M621.6 137.8h0M621.8 133.3h0M621.9 131.7h0M622.1 137.8h0M622.3 141.1h0M622.5 143.1h0M622.7 139.4h0M622.9 130.7h0M623.1 135.1h0M623.3 133.9h0M623.5 142h0M623.7 129.4h0M623.9 130.3h0M624.1 136.4h0M624.3 138.6h0M624.5 137.1h0M624.7 129.8h0M624.9 137.1h0M625.1 137.1h0M625.3 137.1h0M625.5 136.4h0M625.7 141.1h0M625.9 135.7h0M626.1 133.3h0M626.3 140.2h0M626.5 125.5h0M626.7 133.9h0M626.9 130.7h0M627.1 132.7h0M627.3 136.4h0M627.5 133.9h0M627.7 149.4h0M627.9 140.2h0M628.1 137.8h0M628.3 138.6h0M628.5 135.1h0M628.7 140.2h0M628.9 131.7h0M629.1 144.1h0M629.3 137.1h0M629.5 132.7h0M629.7 136.4h0M629.9 134.5h0M630.1 143.1h0M630.3 132.2h0M630.5 142h0M630.7 130.7h0M630.9 145.3h0M631.1 140.2h0M631.3 144.1h0M631.5 136.4h0M631.7 139.4h0M631.9 132.7h0M632.1 138.6h0M632.3 134.5h0M632.5 138.6h0M632.7 135.7h0M632.9 133.9h0M633.1 135.7h0M633.3 138.6h0M633.5 135.7h0M633.7 138.6h0M633.9 136.4h0M634.1 141.1h0M634.3 142h0M634.5 144.1h0M634.7 146.5h0M634.9 142h0M635.1 138.6h0M635.3 130.7h0M635.5 137.1h0M635.7 135.1h0M635.8 137.1h0M636 144.1h0M636.2 141.1h0M636.4 137.1h0M636.6 135.1h0M636.8 137.1h0M637 139.4h0M637.2 141.1h0M637.4 139.4h0M637.6 135.7h0M637.8 137.8h0M638 134.5h0M638.2 141.1h0M638.4 143.1h0M638.6 143.1h0M638.8 135.7h0M639 138.6h0M639.2 134.5h0M639.4 140.2h0M639.6 142h0M639.8 135.7h0M640 134.5h0M640.2 143.1h0M640.4 140.2h0M640.6 142h0M640.8 137.1h0M641 143.1h0M641.2 137.8h0M641.4 134.5h0M641.6 131.2h0M641.8 141.1h0M642 145.3h0M642.2 143.1h0M642.4 134.5h0M642.6 146.5h0M642.8 141.1h0M643 138.6h0M643.2 137.1h0M643.4 141.1h0M643.6 132.7h0M643.8 136.4h0M644 139.4h0M644.2 139.4h0M644.4 136.4h0M644.6 137.1h0M644.8 135.7h0M645 145.3h0M645.2 141.1h0M645.4 134.5h0M645.6 140.2h0M645.8 136.4h0M646 137.8h0M646.2 137.8h0M646.4 145.3h0M646.6 144.1h0M646.8 139.4h0M647 134.5h0M647.2 136.4h0M647.4 146.5h0M647.6 142h0M647.8 138.6h0M648 141.1h0M648.2 141.1h0M648.4 133.9h0M648.6 138.6h0M648.8 136.4h0M649 146.5h0M649.2 135.1h0M649.4 142h0M649.6 137.8h0M649.7 145.3h0M649.9 137.8h0M650.1 141.1h0M650.3 138.6h0M650.5 140.2h0M650.7 132.7h0M650.9 146.5h0M651.1 143.1h0M651.3 143.1h0M651.5 142h0M651.7 136.4h0M651.9 141.1h0M652.1 139.4h0M652.3 143.1h0M652.5 144.1h0M652.7 134.5h0M652.9 147.9h0M653.1 137.1h0M653.3 142h0M653.5 144.1h0M653.7 146.5h0M653.9 141.1h0M654.1 142h0M654.3 141.1h0M654.5 146.5h0M654.7 143.1h0M654.9 136.4h0M655.1 145.3h0M655.3 137.1h0M655.5 151h0M655.7 137.8h0M655.9 136.4h0M656.1 138.6h0M656.3 146.5h0M656.5 144.1h0M656.7 145.3h0M656.9 136.4h0M657.1 134.5h0M657.3 142h0M657.5 141.1h0M657.7 143.1h0M657.9 132.7h0M658.1 135.7h0M658.3 136.4h0M658.5 142h0M658.7 151h0M658.9 144.1h0M659.1 135.7h0M659.3 144.1h0M659.5 138.6h0M659.7 136.4h0M659.9 142h0M660.1 144.1h0M660.3 137.8h0M660.5 141.1h0M660.7 143.1h0M660.9 142h0M661.1 139.4h0M661.3 140.2h0M661.5 138.6h0M661.7 139.4h0M661.9 137.8h0M662.1 141.1h0M662.3 146.5h0M662.5 141.1h0M662.7 149.4h0M662.9 142h0M663.1 140.2h0M663.3 144.1h0M663.5 141.1h0M663.7 142h0M663.8 142h0M664 139.4h0M664.2 138.6h0M664.4 142h0M664.6 136.4h0M664.8 145.3h0M665 141.1h0M665.2 130.3h0M665.4 145.3h0M665.6 135.7h0M665.8 143.1h0M666 131.7h0M666.2 132.7h0M666.4 140.2h0M666.6 141.1h0M666.8 149.4h0M667 141.1h0M667.2 146.5h0M667.4 139.4h0M667.6 133.9h0M667.8 136.4h0M668 139.4h0M668.2 138.6h0M668.4 138.6h0M668.6 141.1h0M668.8 139.4h0M669 140.2h0M669.2 137.1h0M669.4 140.2h0M669.6 139.4h0M669.8 142h0M670 142h0M670.2 144.1h0M670.4 140.2h0M670.6 137.1h0M670.8 144.1h0M671 140.2h0M671.2 145.3h0M671.4 139.4h0M671.6 137.8h0M671.8 144.1h0M672 145.3h0M672.2 137.1h0M672.4 146.5h0M672.6 140.2h0M672.8 137.8h0M673 146.5h0M673.2 144.1h0M673.4 152.9h0M673.6 147.9h0M673.8 142h0M674 138.6h0M674.2 137.1h0M674.4 140.2h0M674.6 137.1h0M674.8 143.1h0M675 140.2h0M675.2 141.1h0M675.4 140.2h0M675.6 152.9h0M675.8 143.1h0M676 136.4h0M676.2 138.6h0M676.4 138.6h0M676.6 141.1h0M676.8 147.9h0M677 145.3h0M677.2 144.1h0M677.4 132.7h0M677.6 133.9h0M677.7 143.1h0M677.9 141.1h0M678.1 135.7h0" stroke="#5aaaf2" stroke-width="1.3" stroke-linecap="round" fill="none"/><path d="M499.5 154.6h0M499.2 142.9h0M499.7 140.9h0M499.3 127.1h0M499.6 116.9h0M499.8 111.5h0M499.3 102h0M499.3 92.9h0M499.9 84.8h0M499.8 77.4h0M499.6 65.5h0M499.8 58.5h0M500.8 47.3h0M500.9 42h0M501.1 26.8h0M501.8 19.8h0M494.9 157.4h0M495.3 160.2h0M495.5 155h0M495.7 160.2h0M496.1 160.2h0M497.1 157.4h0M497.3 160.2h0M497.5 157.4h0M498.1 152.9h0M498.3 152.9h0M498.5 157.4h0M498.7 157.4h0M499.1 157.4h0M502.5 16.3h0M502.7 16.7h0M502.9 17h0M503.1 17.5h0M503.3 17.9h0M503.5 18.4h0M503.7 18.7h0M503.9 18.9h0M504.1 19.4h0M504.3 20h0M504.5 19.9h0M504.7 20.4h0M504.9 20.8h0M505.1 21.3h0M505.3 21.7h0M505.5 22h0M505.7 22.5h0M505.9 22.9h0M506 23.3h0M506.2 23.5h0M506.4 24.1h0M506.6 24.3h0M506.8 24.7h0M507 25.1h0M507.2 25.5h0M507.4 25.9h0M507.6 26.2h0M507.8 26.5h0M508 27.1h0M508.2 27.3h0M508.4 27.6h0M508.6 28.1h0M508.8 28.5h0M509 29h0M509.2 29.2h0M509.4 29.7h0M509.6 30.1h0M509.8 30.5h0M510 30.9h0M510.2 31.1h0M510.4 31.6h0M510.6 31.8h0M510.8 32.1h0M511 32.7h0M511.2 33h0M511.4 33.5h0M511.6 33.8h0M511.8 33.9h0M512 34.5h0M512.2 35h0M512.4 35.4h0M512.6 35.8h0M512.8 36h0M513 36.4h0M513.2 36.7h0M513.4 37h0M513.6 37.7h0M513.8 37.8h0M514 38.3h0M514.2 38.7h0M514.4 38.9h0M514.6 39.1h0M514.8 39.8h0M515 40.2h0M515.2 40.5h0M515.4 41h0M515.6 41.4h0M515.8 41.7h0M516 42h0M516.2 42.3h0M516.4 42.4h0M516.6 43.3h0M516.8 43.5h0M517 43.8h0M517.2 44h0M517.4 44.5h0M517.6 45h0M517.8 45.4h0M518 45.6h0M518.2 46h0M518.4 46.2h0M518.6 47h0M518.8 46.9h0M519 47.1h0M519.2 48h0M519.4 48.2h0M519.6 48.8h0M519.8 49h0M519.9 48.8h0M520.1 49.1h0M520.3 49.6h0M520.5 50.2h0M520.7 50.7h0M520.9 51h0M521.1 51.3h0M521.3 51.7h0M521.5 51.6h0M521.7 52.2h0M521.9 52.3h0M522.1 53h0M522.3 52.7h0M522.5 53.3h0M522.7 53.9h0M522.9 54.2h0M523.1 54.5h0M523.3 54.9h0M523.5 54.9h0M523.7 55.7h0M523.9 56h0M524.1 56.2h0M524.3 56.7h0M524.5 56.6h0M524.7 57.4h0M524.9 58h0M525.1 57.7h0M525.3 57.6h0M525.5 57.9h0M525.7 58.4h0M525.9 58.7h0M526.1 59.3h0M526.3 59.3h0M526.5 59.9h0M526.7 60.6h0M526.9 60.6h0M527.1 60.7h0M527.3 61.4h0M527.5 61.8h0M527.7 61.9h0M527.9 62h0M528.1 62.7h0M528.3 63h0M528.5 63h0M528.7 63.1h0M528.9 63.7h0M529.1 64.2h0M529.3 63.7h0M529.5 64.5h0M529.7 64.5h0M529.9 64.5h0M530.1 65.4h0M530.3 65.4h0M530.5 66.6h0M530.7 66.5h0M530.9 65.9h0M531.1 67.3h0M531.3 66.8h0M531.5 67h0M531.7 68.1h0M531.9 67.9h0M532.1 67.9h0M532.3 68.2h0M532.5 68.2h0M532.7 69.7h0M532.9 69.3h0M533.1 69.8h0M533.3 69.8h0M533.5 70.1h0M533.7 70.3h0M533.8 71h0M534 70.8h0M534.2 71.5h0M534.4 71h0M534.6 71.3h0M534.8 70.8h0M535 72.4h0M535.2 71.6h0M535.4 73.8h0M535.6 72.9h0M535.8 72.6h0M536 73h0M536.2 73.7h0M536.4 74h0M536.6 74.1h0M536.8 74.8h0M537 73.7h0M537.2 75.1h0M537.4 75.4h0M537.6 75.9h0M537.8 75.1h0M538 77h0M538.2 76.2h0M538.4 76.9h0M538.6 76.2h0M538.8 76.9h0M539 77h0M539.2 77.4h0M539.4 77.9h0M539.6 77.5h0M539.8 77.3h0M540 78.1h0M540.2 78.5h0M540.4 79.2h0M540.6 79.7h0M540.8 78.7h0M541 79.5h0M541.2 80h0M541.4 79.9h0M541.6 79.5h0M541.8 80.4h0M542 80.2h0M542.2 79.5h0M542.4 80.4h0M542.6 81.2h0M542.8 80.7h0M543 81.4h0M543.2 82.9h0M543.4 82.5h0M543.6 82.1h0M543.8 82.8h0M544 82h0M544.2 82h0M544.4 82.5h0M544.6 83.3h0M544.8 83.1h0M545 84.2h0M545.2 84.7h0M545.4 86.1h0M545.6 84.4h0M545.8 83.8h0M546 85.6h0M546.2 85.2h0M546.4 84.3h0M546.6 86.3h0M546.8 85.1h0M547 85.1h0M547.2 85.8h0M547.4 85.8h0M547.6 85.9h0M547.7 86h0M547.9 86.1h0M548.1 87.2h0M548.3 87.8h0M548.5 86.9h0M548.7 87.3h0M548.9 86.8h0M549.1 87.9h0M549.3 87.2h0M549.5 88.4h0M549.7 88.5h0M549.9 89.9h0M550.1 89.1h0M550.3 89h0M550.5 89.3h0M550.7 88.7h0M550.9 89.4h0M551.1 88.8h0M551.3 88.6h0M551.5 89.6h0M551.7 89.7h0M551.9 90.6h0M552.1 89.3h0M552.3 92h0M552.5 92.4h0M552.7 91.1h0M552.9 93.9h0M553.1 90.5h0M553.3 91.8h0M553.5 92.2h0M553.7 92h0M553.9 92.9h0M554.1 91.7h0M554.3 92.3h0M554.5 91.6h0M554.7 94.8h0M554.9 93.4h0M555.1 94.4h0M555.3 93.5h0M555.5 95.4h0M555.7 94.4h0M555.9 95.8h0M556.1 95.1h0M556.3 95.1h0M556.5 94.4h0M556.7 95.7h0M556.9 94.3h0M557.1 95.5h0M557.3 95.2h0M557.5 95.1h0M557.7 94.7h0M557.9 96.6h0M558.1 96.5h0M558.3 95.8h0M558.5 97h0M558.7 97.1h0M558.9 97.2h0M559.1 96.9h0M559.3 97.3h0M559.5 98.2h0M559.7 98.2h0M559.9 98.9h0M560.1 98h0M560.3 99.3h0M560.5 101.4h0M560.7 97.4h0M560.9 97.4h0M561.1 97.5h0M561.3 99.6h0M561.5 98.9h0M561.6 99.6h0M561.8 100.8h0M562 100.9h0M562.2 99h0M562.4 101.9h0M562.6 102.3h0M562.8 102.4h0M563 102.6h0M563.2 102.8h0M563.4 103h0M563.6 104.5h0M563.8 103h0M564 100.4h0M564.2 104.2h0M564.4 102.8h0M564.6 102.8h0M564.8 103.1h0M565 105.4h0M565.2 101.1h0M565.4 103.7h0M565.6 104.6h0M565.8 101.9h0M566 104.7h0M566.2 103.4h0M566.4 106h0M566.6 104.5h0M566.8 105.2h0M567 105.3h0M567.2 106h0M567.4 103.4h0M567.6 103.7h0M567.8 105.9h0M568 106.1h0M568.2 106.2h0M568.4 106.3h0M568.6 105h0M568.8 107.9h0M569 104.1h0M569.2 105.7h0M569.4 105.9h0M569.6 105.6h0M569.8 107.7h0M570 107.1h0M570.2 108.1h0M570.4 106.1h0M570.6 108h0M570.8 107.3h0M571 108.4h0M571.2 107.8h0M571.4 108.6h0M571.6 105.5h0M571.8 106.4h0M572 109.8h0M572.2 108.6h0M572.4 108.9h0M572.6 109.9h0M572.8 110.5h0M573 110.9h0M573.2 108.8h0M573.4 108.1h0M573.6 106h0M573.8 109.7h0M574 107.7h0M574.2 108.4h0M574.4 107.9h0M574.6 112.2h0M574.8 110.7h0M575 109.4h0M575.2 110.9h0M575.4 112.2h0M575.5 111.6h0M575.7 111.6h0M575.9 111.6h0M576.1 110.9h0M576.3 110.4h0M576.5 113.2h0M576.7 109.1h0M576.9 113.7h0M577.1 111.3h0M577.3 112h0M577.5 111.2h0M577.7 111.6h0M577.9 113.1h0M578.1 113.1h0M578.3 111.6h0M578.5 116.5h0M578.7 111.6h0M578.9 110.7h0M579.1 113.4h0M579.3 112h0M579.5 118.1h0M579.7 113.4h0M579.9 112.3h0M580.1 117.5h0M580.3 115.8h0M580.5 115.8h0M580.7 115h0M580.9 115.4h0M581.1 111.9h0M581.3 114.2h0M581.5 117.1h0M581.7 117.7h0M581.9 115.8h0M582.1 119.9h0M582.3 113.6h0M582.5 116.5h0M582.7 116.9h0M582.9 116.1h0M583.1 118.5h0M583.3 117.9h0M583.5 118.1h0M583.7 118.1h0M583.9 114.4h0M584.1 117.9h0M584.3 116.7h0M584.5 123.9h0M584.7 124.2h0M584.9 122.2h0M585.1 116.1h0M585.3 117.1h0M585.5 117.3h0M585.7 125.9h0M585.9 119.9h0M586.1 119.9h0M586.3 116.1h0M586.5 125.5h0M586.7 124.9h0M586.9 118.1h0M587.1 120.1h0M587.3 122.7h0M587.5 121.1h0M587.7 123.6h0M587.9 121.1h0M588.1 119.4h0M588.3 123.3h0M588.5 120.1h0M588.7 125.2h0M588.9 117.5h0M589.1 121.4h0M589.3 120.4h0M589.5 121.4h0M589.6 126.2h0M589.8 126.2h0M590 119.7h0M590.2 125.9h0M590.4 121.1h0M590.6 121.1h0M590.8 122.5h0M591 121.4h0M591.2 120.1h0M591.4 127.7h0M591.6 125.2h0M591.8 127.7h0M592 119.4h0M592.2 121.1h0M592.4 123h0M592.6 125.9h0M592.8 126.2h0M593 124.5h0M593.2 120.9h0M593.4 122.7h0M593.6 130.3h0M593.8 122.7h0M594 122.5h0M594.2 126.2h0M594.4 128.1h0M594.6 127.3h0M594.8 127h0M595 127.3h0M595.2 128.9h0M595.4 128.9h0M595.6 125.5h0M595.8 127.3h0M596 130.7h0M596.2 124.5h0M596.4 130.3h0M596.6 126.6h0M596.8 125.9h0M597 123.9h0M597.2 128.1h0M597.4 124.2h0M597.6 128.5h0M597.8 131.2h0M598 128.1h0M598.2 127.7h0M598.4 128.5h0M598.6 129.8h0M598.8 131.7h0M599 127.7h0M599.2 123h0M599.4 128.9h0M599.6 126.2h0M599.8 132.2h0M600 128.5h0M600.2 128.5h0M600.4 131.2h0M600.6 131.2h0M600.8 129.8h0M601 128.5h0M601.2 131.7h0M601.4 130.3h0M601.6 131.2h0M601.8 132.7h0M602 124.5h0M602.2 133.3h0M602.4 131.2h0M602.6 137.1h0M602.8 127.7h0M603 130.3h0M603.2 127.3h0M603.4 131.2h0M603.5 132.7h0M603.7 131.7h0M603.9 135.1h0M604.1 132.2h0M604.3 127.3h0M604.5 132.7h0M604.7 129.4h0M604.9 136.4h0M605.1 130.3h0M605.3 139.4h0M605.5 132.7h0M605.7 140.2h0M605.9 130.3h0M606.1 144.1h0M606.3 130.7h0M606.5 143.1h0M606.7 135.1h0M606.9 133.9h0M607.1 131.7h0M607.3 143.1h0M607.5 132.7h0M607.7 131.7h0M607.9 138.6h0M608.1 130.7h0M608.3 137.8h0M608.5 132.2h0M608.7 134.5h0M608.9 129.8h0M609.1 134.5h0M609.3 132.2h0M609.5 132.2h0M609.7 135.1h0M609.9 144.1h0M610.1 133.3h0M610.3 138.6h0M610.5 132.2h0M610.7 144.1h0M610.9 132.2h0M611.1 135.7h0M611.3 134.5h0M611.5 135.7h0M611.7 135.1h0M611.9 135.1h0M612.1 135.1h0M612.3 145.3h0M612.5 140.2h0M612.7 137.8h0M612.9 139.4h0M613.1 137.1h0M613.3 140.2h0M613.5 142h0M613.7 139.4h0M613.9 134.5h0M614.1 134.5h0M614.3 129.8h0M614.5 137.1h0M614.7 135.1h0M614.9 144.1h0M615.1 137.8h0M615.3 136.4h0M615.5 137.1h0M615.7 138.6h0M615.9 146.5h0M616.1 137.1h0M616.3 137.8h0M616.5 132.2h0M616.7 140.2h0M616.9 144.1h0M617.1 137.8h0M617.3 137.8h0M617.4 137.8h0M617.6 136.4h0M617.8 135.7h0M618 139.4h0M618.2 140.2h0M618.4 137.1h0M618.6 137.1h0M618.8 145.3h0M619 142h0M619.2 146.5h0M619.4 139.4h0M619.6 147.9h0M619.8 146.5h0M620 135.1h0M620.2 142h0M620.4 146.5h0M620.6 142h0M620.8 145.3h0M621 135.1h0M621.2 133.3h0M621.4 135.1h0M621.6 143.1h0M621.8 138.6h0M622 135.7h0M622.2 139.4h0M622.4 143.1h0M622.6 141.1h0M622.8 138.6h0M623 142h0M623.2 141.1h0M623.4 149.4h0M623.6 143.1h0M623.8 145.3h0M624 144.1h0M624.2 137.1h0M624.4 140.2h0M624.6 139.4h0M624.8 137.8h0M625 137.1h0M625.2 137.1h0M625.4 144.1h0M625.6 142h0M625.8 145.3h0M626 143.1h0M626.2 145.3h0M626.4 145.3h0M626.6 143.1h0M626.8 143.1h0M627 149.4h0M627.2 147.9h0M627.4 147.9h0M627.6 149.4h0M627.8 143.1h0M628 141.1h0M628.2 140.2h0M628.4 136.4h0M628.6 144.1h0M628.8 145.3h0M629 151h0M629.2 135.1h0M629.4 145.3h0M629.6 149.4h0M629.8 136.4h0M630 149.4h0M630.2 136.4h0M630.4 141.1h0M630.6 145.3h0M630.8 138.6h0M631 135.7h0M631.2 145.3h0M631.3 146.5h0M631.5 144.1h0M631.7 143.1h0M631.9 147.9h0M632.1 145.3h0M632.3 146.5h0M632.5 144.1h0M632.7 157.4h0M632.9 138.6h0M633.1 142h0M633.3 141.1h0M633.5 151h0M633.7 136.4h0M633.9 140.2h0M634.1 139.4h0M634.3 144.1h0M634.5 152.9h0M634.7 141.1h0M634.9 143.1h0M635.1 144.1h0M635.3 146.5h0M635.5 147.9h0M635.7 141.1h0M635.9 144.1h0M636.1 144.1h0M636.3 146.5h0M636.5 146.5h0M636.7 142h0M636.9 139.4h0M637.1 152.9h0M637.3 143.1h0M637.5 142h0M637.7 151h0M637.9 140.2h0M638.1 137.8h0M638.3 147.9h0M638.5 144.1h0M638.7 143.1h0M638.9 141.1h0M639.1 147.9h0M639.3 144.1h0M639.5 144.1h0M639.7 143.1h0M639.9 147.9h0M640.1 149.4h0M640.3 145.3h0M640.5 146.5h0M640.7 155h0M640.9 137.1h0M641.1 146.5h0M641.3 152.9h0M641.5 144.1h0M641.7 151h0M641.9 141.1h0M642.1 149.4h0M642.3 152.9h0M642.5 151h0M642.7 146.5h0M642.9 152.9h0M643.1 157.4h0M643.3 141.1h0M643.5 152.9h0M643.7 145.3h0M643.9 145.3h0M644.1 146.5h0M644.3 149.4h0M644.5 151h0M644.7 143.1h0M644.9 152.9h0M645.1 147.9h0M645.2 144.1h0M645.4 145.3h0M645.6 139.4h0M645.8 146.5h0M646 141.1h0M646.2 147.9h0M646.4 147.9h0M646.6 149.4h0M646.8 145.3h0M647 151h0M647.2 142h0M647.4 143.1h0M647.6 142h0M647.8 147.9h0M648 149.4h0M648.2 147.9h0M648.4 140.2h0M648.6 147.9h0M648.8 152.9h0M649 146.5h0M649.2 152.9h0M649.4 146.5h0M649.6 144.1h0M649.8 142h0M650 145.3h0M650.2 149.4h0M650.4 146.5h0M650.6 147.9h0M650.8 149.4h0M651 144.1h0M651.2 145.3h0M651.4 146.5h0M651.6 149.4h0M651.8 145.3h0M652 147.9h0M652.2 149.4h0M652.4 142h0M652.6 144.1h0M652.8 135.1h0M653 149.4h0M653.2 145.3h0M653.4 140.2h0M653.6 146.5h0M653.8 151h0M654 144.1h0M654.2 144.1h0M654.4 149.4h0M654.6 144.1h0M654.8 145.3h0M655 149.4h0M655.2 155h0M655.4 151h0M655.6 144.1h0M655.8 141.1h0M656 141.1h0M656.2 152.9h0M656.4 145.3h0M656.6 141.1h0M656.8 152.9h0M657 140.2h0M657.2 149.4h0M657.4 149.4h0M657.6 142h0M657.8 149.4h0M658 147.9h0M658.2 147.9h0M658.4 142h0M658.6 151h0M658.8 141.1h0M659 146.5h0M659.1 155h0M659.3 155h0M659.5 152.9h0M659.7 147.9h0M659.9 145.3h0M660.1 143.1h0M660.3 145.3h0M660.5 146.5h0M660.7 151h0M660.9 149.4h0M661.1 141.1h0M661.3 141.1h0M661.5 139.4h0M661.7 143.1h0M661.9 144.1h0M662.1 145.3h0M662.3 141.1h0M662.5 155h0M662.7 146.5h0M662.9 149.4h0M663.1 140.2h0M663.3 146.5h0M663.5 149.4h0M663.7 147.9h0M663.9 143.1h0M664.1 151h0M664.3 151h0M664.5 143.1h0M664.7 146.5h0M664.9 149.4h0M665.1 141.1h0M665.3 144.1h0M665.5 145.3h0M665.7 137.8h0M665.9 144.1h0M666.1 147.9h0M666.3 144.1h0M666.5 151h0M666.7 152.9h0M666.9 141.1h0M667.1 142h0M667.3 143.1h0M667.5 147.9h0M667.7 145.3h0M667.9 155h0M668.1 152.9h0M668.3 155h0M668.5 145.3h0M668.7 155h0M668.9 146.5h0M669.1 143.1h0M669.3 145.3h0M669.5 151h0M669.7 146.5h0M669.9 151h0M670.1 155h0M670.3 144.1h0M670.5 144.1h0M670.7 160.2h0M670.9 152.9h0M671.1 157.4h0M671.3 147.9h0M671.5 155h0M671.7 151h0M671.9 147.9h0M672.1 147.9h0M672.3 151h0M672.5 151h0M672.7 144.1h0M672.9 143.1h0M673.1 147.9h0M673.2 149.4h0M673.4 145.3h0M673.6 147.9h0M673.8 141.1h0M674 146.5h0M674.2 141.1h0M674.4 155h0M674.6 147.9h0M674.8 155h0M675 152.9h0M675.2 147.9h0M675.4 155h0M675.6 151h0M675.8 151h0M676 149.4h0M676.2 149.4h0M676.4 155h0M676.6 143.1h0M676.8 146.5h0M677 147.9h0M677.2 143.1h0M677.4 152.9h0M677.6 145.3h0M677.8 142h0M678 142h0" stroke="#b440f0" stroke-width="1.3" stroke-linecap="round" fill="none"/><path d="M505.5,20.3 506.3,21.4 507.1,22.5 507.9,23.6 508.7,24.7 509.5,25.8 510.3,26.8 511.1,27.9 511.9,28.9 512.7,30 513.5,31 514.3,32 515.2,33.1 516,34.1 516.8,35.1 517.6,36.1 518.4,37.1 519.2,38.1 520,39.1 520.8,40.1 521.6,41.1 522.4,42.1 523.2,43 524,44 524.8,45 525.6,45.9 526.4,46.9 527.2,47.9 528,48.8 528.8,49.8 529.6,50.7 530.4,51.6 531.2,52.5 532,53.4 532.8,54.3 533.6,55.2 534.4,56 535.2,56.9 536,57.7 536.8,58.6 537.6,59.4 538.4,60.2 539.2,61.1 540.1,61.9 540.9,62.7 541.7,63.4 542.5,64.2 543.3,65 544.1,65.8 544.9,66.5 545.7,67.2 546.5,68 547.3,68.7 548.1,69.4 548.9,70.1 549.7,70.7 550.5,71.4 551.3,72 552.1,72.7 552.9,73.3 553.7,74 554.5,74.6 555.3,75.2 556.1,75.8 556.9,76.4 557.7,77 558.5,77.6 559.3,78.3 560.1,78.9 560.9,79.5 561.7,80.1 562.5,80.7 563.3,81.3 564.1,81.9 564.9,82.5 565.8,83.1 566.6,83.7 567.4,84.3 568.2,84.9 569,85.5 569.8,86.1 570.6,86.7 571.4,87.2 572.2,87.8 573,88.4 573.8,88.9 574.6,89.5 575.4,90.1 576.2,90.6 577,91.2 577.8,91.7 578.6,92.3 579.4,92.8 580.2,93.3 581,93.9 581.8,94.4 582.6,94.9 583.4,95.5 584.2,96 585,96.5 585.8,97 586.6,97.6 587.4,98.1 588.2,98.6 589,99.1 589.8,99.6 590.7,100.1 591.5,100.6 592.3,101.2 593.1,101.7 593.9,102.2 594.7,102.7 595.5,103.2 596.3,103.7 597.1,104.2 597.9,104.7 598.7,105.2 599.5,105.7 600.3,106.2 601.1,106.7 601.9,107.2 602.7,107.7 603.5,108.2 604.3,108.8 605.1,109.3 605.9,109.8 606.7,110.3 607.5,110.8 608.3,111.4 609.1,111.9 609.9,112.4 610.7,112.9 611.5,113.4 612.3,113.8 613.1,114.3 613.9,114.8 614.7,115.2 615.6,115.6 616.4,116 617.2,116.5 618,116.9 618.8,117.3 619.6,117.7 620.4,118 621.2,118.4 622,118.8 622.8,119.2 623.6,119.5 624.4,119.9 625.2,120.3 626,120.6 626.8,121 627.6,121.3 628.4,121.7 629.2,122 630,122.4 630.8,122.7 631.6,123 632.4,123.4 633.2,123.7 634,124 634.8,124.3 635.6,124.6 636.4,124.9 637.2,125.2 638,125.5 638.8,125.8 639.6,126.1 640.4,126.4 641.3,126.7 642.1,127 642.9,127.2 643.7,127.5 644.5,127.7 645.3,128 646.1,128.2 646.9,128.5 647.7,128.7 648.5,129 649.3,129.2 650.1,129.4 650.9,129.7 651.7,129.9 652.5,130.1 653.3,130.3 654.1,130.6 654.9,130.8 655.7,131 656.5,131.2 657.3,131.4 658.1,131.7 658.9,131.9 659.7,132.1 660.5,132.3 661.3,132.6 662.1,132.8 662.9,133 663.7,133.1 664.5,133.3 665.3,133.5 666.2,133.6 667,133.8 667.8,133.9 668.6,134 669.4,134.2 670.2,134.3 671,134.4 671.8,134.5 672.6,134.6 673.4,134.7 674.2,134.8 675,134.9 675.8,135 676.6,135.1 677.4,135.1 678.2,135.2" fill="none" stroke="#3a0a0a" stroke-width="0.6"/><path d="M505.5,21.7 506.3,23.1 507.1,24.6 507.9,26 508.7,27.4 509.5,28.8 510.3,30.2 511.1,31.6 511.9,33 512.7,34.4 513.5,35.8 514.3,37.2 515.2,38.6 516,40 516.8,41.3 517.6,42.7 518.4,44.1 519.2,45.4 520,46.8 520.8,48.1 521.6,49.4 522.4,50.8 523.2,52.1 524,53.4 524.8,54.7 525.6,56 526.4,57.3 527.2,58.6 528,59.8 528.8,61 529.6,62.2 530.4,63.3 531.2,64.5 532,65.6 532.8,66.7 533.6,67.8 534.4,68.9 535.2,70 536,71 536.8,72 537.6,73 538.4,74 539.2,74.9 540.1,75.9 540.9,76.8 541.7,77.7 542.5,78.6 543.3,79.4 544.1,80.3 544.9,81.1 545.7,81.9 546.5,82.8 547.3,83.6 548.1,84.4 548.9,85.2 549.7,86 550.5,86.8 551.3,87.5 552.1,88.3 552.9,89.1 553.7,89.8 554.5,90.6 555.3,91.3 556.1,92.1 556.9,92.8 557.7,93.6 558.5,94.4 559.3,95.1 560.1,95.9 560.9,96.7 561.7,97.5 562.5,98.2 563.3,99 564.1,99.8 564.9,100.5 565.8,101.2 566.6,101.9 567.4,102.6 568.2,103.3 569,103.9 569.8,104.5 570.6,105.2 571.4,105.8 572.2,106.4 573,107 573.8,107.6 574.6,108.2 575.4,108.8 576.2,109.4 577,110 577.8,110.6 578.6,111.3 579.4,111.9 580.2,112.6 581,113.2 581.8,113.9 582.6,114.6 583.4,115.2 584.2,115.9 585,116.5 585.8,117.1 586.6,117.8 587.4,118.4 588.2,118.9 589,119.5 589.8,120.1 590.7,120.7 591.5,121.3 592.3,121.8 593.1,122.4 593.9,122.9 594.7,123.5 595.5,124 596.3,124.6 597.1,125.1 597.9,125.7 598.7,126.2 599.5,126.8 600.3,127.3 601.1,127.8 601.9,128.4 602.7,128.9 603.5,129.4 604.3,129.9 605.1,130.4 605.9,130.8 606.7,131.3 607.5,131.8 608.3,132.2 609.1,132.7 609.9,133.1 610.7,133.5 611.5,133.9 612.3,134.3 613.1,134.7 613.9,135.1 614.7,135.5 615.6,135.8 616.4,136.2 617.2,136.5 618,136.8 618.8,137.2 619.6,137.5 620.4,137.8 621.2,138.1 622,138.4 622.8,138.7 623.6,139 624.4,139.3 625.2,139.5 626,139.8 626.8,140 627.6,140.2 628.4,140.4 629.2,140.6 630,140.8 630.8,141 631.6,141.1 632.4,141.3 633.2,141.5 634,141.6 634.8,141.8 635.6,141.9 636.4,142.1 637.2,142.2 638,142.3 638.8,142.5 639.6,142.6 640.4,142.7 641.3,142.8 642.1,142.8 642.9,142.9 643.7,143 644.5,143.1 645.3,143.2 646.1,143.2 646.9,143.3 647.7,143.3 648.5,143.4 649.3,143.5 650.1,143.5 650.9,143.6 651.7,143.6 652.5,143.7 653.3,143.7 654.1,143.8 654.9,143.8 655.7,143.9 656.5,143.9 657.3,144 658.1,144 658.9,144 659.7,144.1 660.5,144.1 661.3,144.2 662.1,144.2 662.9,144.2 663.7,144.3 664.5,144.3 665.3,144.4 666.2,144.4 667,144.4 667.8,144.5 668.6,144.5 669.4,144.5 670.2,144.6 671,144.6 671.8,144.6 672.6,144.6 673.4,144.7 674.2,144.7 675,144.7 675.8,144.7 676.6,144.8 677.4,144.8 678.2,144.8" fill="none" stroke="#2a2a2a" stroke-width="0.6"/><path d="M505.5,21.5 506.3,22.8 507.1,24.2 507.9,25.6 508.7,26.9 509.5,28.3 510.3,29.6 511.1,31 511.9,32.3 512.7,33.7 513.5,35 514.3,36.3 515.2,37.6 516,38.9 516.8,40.2 517.6,41.5 518.4,42.8 519.2,44.1 520,45.5 520.8,46.8 521.6,48.1 522.4,49.4 523.2,50.8 524,52.1 524.8,53.4 525.6,54.7 526.4,56 527.2,57.3 528,58.5 528.8,59.7 529.6,60.9 530.4,62 531.2,63.2 532,64.3 532.8,65.4 533.6,66.5 534.4,67.6 535.2,68.7 536,69.7 536.8,70.7 537.6,71.7 538.4,72.7 539.2,73.6 540.1,74.6 540.9,75.5 541.7,76.4 542.5,77.3 543.3,78.1 544.1,79 544.9,79.8 545.7,80.6 546.5,81.5 547.3,82.3 548.1,83.1 548.9,83.9 549.7,84.7 550.5,85.5 551.3,86.2 552.1,87 552.9,87.8 553.7,88.5 554.5,89.3 555.3,90 556.1,90.8 556.9,91.5 557.7,92.3 558.5,93.1 559.3,93.8 560.1,94.6 560.9,95.4 561.7,96.2 562.5,96.9 563.3,97.7 564.1,98.5 564.9,99.2 565.8,99.9 566.6,100.6 567.4,101.3 568.2,102 569,102.6 569.8,103.2 570.6,103.9 571.4,104.5 572.2,105.1 573,105.7 573.8,106.3 574.6,106.9 575.4,107.5 576.2,108.1 577,108.7 577.8,109.3 578.6,110 579.4,110.6 580.2,111.3 581,111.9 581.8,112.6 582.6,113.3 583.4,113.9 584.2,114.6 585,115.2 585.8,115.8 586.6,116.5 587.4,117.1 588.2,117.6 589,118.2 589.8,118.8 590.7,119.4 591.5,120 592.3,120.5 593.1,121.1 593.9,121.6 594.7,122.2 595.5,122.7 596.3,123.3 597.1,123.8 597.9,124.4 598.7,124.9 599.5,125.5 600.3,126 601.1,126.5 601.9,127.1 602.7,127.6 603.5,128.1 604.3,128.6 605.1,129.1 605.9,129.5 606.7,130 607.5,130.5 608.3,130.9 609.1,131.4 609.9,131.8 610.7,132.2 611.5,132.6 612.3,133 613.1,133.4 613.9,133.8 614.7,134.2 615.6,134.5 616.4,134.9 617.2,135.2 618,135.5 618.8,135.9 619.6,136.2 620.4,136.5 621.2,136.8 622,137.1 622.8,137.4 623.6,137.7 624.4,138 625.2,138.2 626,138.5 626.8,138.7 627.6,138.9 628.4,139.1 629.2,139.3 630,139.5 630.8,139.7 631.6,139.8 632.4,140 633.2,140.2 634,140.3 634.8,140.5 635.6,140.6 636.4,140.8 637.2,140.9 638,141 638.8,141.2 639.6,141.3 640.4,141.4 641.3,141.5 642.1,141.5 642.9,141.6 643.7,141.7 644.5,141.8 645.3,141.9 646.1,141.9 646.9,142 647.7,142 648.5,142.1 649.3,142.2 650.1,142.2 650.9,142.3 651.7,142.3 652.5,142.4 653.3,142.4 654.1,142.5 654.9,142.5 655.7,142.6 656.5,142.6 657.3,142.7 658.1,142.7 658.9,142.7 659.7,142.8 660.5,142.8 661.3,142.9 662.1,142.9 662.9,142.9 663.7,143 664.5,143 665.3,143.1 666.2,143.1 667,143.1 667.8,143.2 668.6,143.2 669.4,143.2 670.2,143.3 671,143.3 671.8,143.3 672.6,143.3 673.4,143.4 674.2,143.4 675,143.4 675.8,143.4 676.6,143.5 677.4,143.5 678.2,143.5" fill="none" stroke="#1e2e1e" stroke-width="0.6"/><path d="M505.5,21 506.3,22.2 507.1,23.5 507.9,24.8 508.7,26 509.5,27.2 510.3,28.5 511.1,29.7 511.9,30.9 512.7,32.1 513.5,33.3 514.3,34.5 515.2,35.7 516,36.9 516.8,38.1 517.6,39.3 518.4,40.5 519.2,41.7 520,43 520.8,44.2 521.6,45.5 522.4,46.8 523.2,48.2 524,49.5 524.8,50.8 525.6,52.2 526.4,53.5 527.2,54.8 528,56 528.8,57.2 529.6,58.4 530.4,59.5 531.2,60.7 532,61.8 532.8,62.9 533.6,64 534.4,65.1 535.2,66.2 536,67.2 536.8,68.2 537.6,69.2 538.4,70.2 539.2,71.1 540.1,72.1 540.9,73 541.7,73.9 542.5,74.8 543.3,75.6 544.1,76.5 544.9,77.3 545.7,78.1 546.5,79 547.3,79.8 548.1,80.6 548.9,81.4 549.7,82.2 550.5,83 551.3,83.7 552.1,84.5 552.9,85.3 553.7,86 554.5,86.8 555.3,87.5 556.1,88.3 556.9,89 557.7,89.8 558.5,90.6 559.3,91.3 560.1,92.1 560.9,92.9 561.7,93.7 562.5,94.4 563.3,95.2 564.1,96 564.9,96.7 565.8,97.4 566.6,98.1 567.4,98.8 568.2,99.5 569,100.1 569.8,100.7 570.6,101.4 571.4,102 572.2,102.6 573,103.2 573.8,103.8 574.6,104.4 575.4,105 576.2,105.6 577,106.2 577.8,106.8 578.6,107.5 579.4,108.1 580.2,108.8 581,109.4 581.8,110.1 582.6,110.8 583.4,111.4 584.2,112.1 585,112.7 585.8,113.3 586.6,114 587.4,114.6 588.2,115.1 589,115.7 589.8,116.3 590.7,116.9 591.5,117.5 592.3,118 593.1,118.6 593.9,119.1 594.7,119.7 595.5,120.2 596.3,120.8 597.1,121.3 597.9,121.9 598.7,122.4 599.5,123 600.3,123.5 601.1,124 601.9,124.6 602.7,125.1 603.5,125.6 604.3,126.1 605.1,126.6 605.9,127 606.7,127.5 607.5,128 608.3,128.4 609.1,128.9 609.9,129.3 610.7,129.7 611.5,130.1 612.3,130.5 613.1,130.9 613.9,131.3 614.7,131.7 615.6,132 616.4,132.4 617.2,132.7 618,133 618.8,133.4 619.6,133.7 620.4,134 621.2,134.3 622,134.6 622.8,134.9 623.6,135.2 624.4,135.5 625.2,135.7 626,136 626.8,136.2 627.6,136.4 628.4,136.6 629.2,136.8 630,137 630.8,137.2 631.6,137.3 632.4,137.5 633.2,137.7 634,137.8 634.8,138 635.6,138.1 636.4,138.3 637.2,138.4 638,138.5 638.8,138.7 639.6,138.8 640.4,138.9 641.3,139 642.1,139 642.9,139.1 643.7,139.2 644.5,139.3 645.3,139.4 646.1,139.4 646.9,139.5 647.7,139.5 648.5,139.6 649.3,139.7 650.1,139.7 650.9,139.8 651.7,139.8 652.5,139.9 653.3,139.9 654.1,140 654.9,140 655.7,140.1 656.5,140.1 657.3,140.2 658.1,140.2 658.9,140.2 659.7,140.3 660.5,140.3 661.3,140.4 662.1,140.4 662.9,140.4 663.7,140.5 664.5,140.5 665.3,140.6 666.2,140.6 667,140.6 667.8,140.7 668.6,140.7 669.4,140.7 670.2,140.8 671,140.8 671.8,140.8 672.6,140.8 673.4,140.9 674.2,140.9 675,140.9 675.8,140.9 676.6,141 677.4,141 678.2,141" fill="none" stroke="#222" stroke-width="0.6"/><path d="M505.5,22.2 506.3,23.7 507.1,25.3 507.9,26.8 508.7,28.3 509.5,29.8 510.3,31.4 511.1,32.9 511.9,34.4 512.7,35.9 513.5,37.4 514.3,38.9 515.2,40.4 516,41.9 516.8,43.4 517.6,44.9 518.4,46.3 519.2,47.8 520,49.1 520.8,50.5 521.6,51.9 522.4,53.2 523.2,54.6 524,55.9 524.8,57.2 525.6,58.5 526.4,59.8 527.2,61 528,62.2 528.8,63.4 529.6,64.6 530.4,65.7 531.2,66.9 532,68 532.8,69.1 533.6,70.2 534.4,71.3 535.2,72.4 536,73.4 536.8,74.4 537.6,75.4 538.4,76.4 539.2,77.3 540.1,78.3 540.9,79.2 541.7,80.1 542.5,81 543.3,81.8 544.1,82.7 544.9,83.5 545.7,84.3 546.5,85.2 547.3,86 548.1,86.8 548.9,87.6 549.7,88.4 550.5,89.2 551.3,89.9 552.1,90.7 552.9,91.5 553.7,92.2 554.5,93 555.3,93.7 556.1,94.5 556.9,95.2 557.7,96 558.5,96.8 559.3,97.5 560.1,98.3 560.9,99.1 561.7,99.9 562.5,100.6 563.3,101.4 564.1,102.2 564.9,102.9 565.8,103.6 566.6,104.3 567.4,105 568.2,105.7 569,106.3 569.8,106.9 570.6,107.6 571.4,108.2 572.2,108.8 573,109.4 573.8,110 574.6,110.6 575.4,111.2 576.2,111.8 577,112.4 577.8,113 578.6,113.7 579.4,114.3 580.2,115 581,115.6 581.8,116.3 582.6,117 583.4,117.6 584.2,118.3 585,118.9 585.8,119.5 586.6,120.2 587.4,120.8 588.2,121.3 589,121.9 589.8,122.5 590.7,123.1 591.5,123.7 592.3,124.2 593.1,124.8 593.9,125.3 594.7,125.9 595.5,126.4 596.3,127 597.1,127.5 597.9,128.1 598.7,128.6 599.5,129.2 600.3,129.7 601.1,130.2 601.9,130.8 602.7,131.3 603.5,131.8 604.3,132.3 605.1,132.8 605.9,133.2 606.7,133.7 607.5,134.2 608.3,134.6 609.1,135.1 609.9,135.5 610.7,135.9 611.5,136.3 612.3,136.7 613.1,137.1 613.9,137.5 614.7,137.9 615.6,138.2 616.4,138.6 617.2,138.9 618,139.2 618.8,139.6 619.6,139.9 620.4,140.2 621.2,140.5 622,140.8 622.8,141.1 623.6,141.4 624.4,141.7 625.2,141.9 626,142.2 626.8,142.4 627.6,142.6 628.4,142.8 629.2,143 630,143.2 630.8,143.4 631.6,143.5 632.4,143.7 633.2,143.9 634,144 634.8,144.2 635.6,144.3 636.4,144.5 637.2,144.6 638,144.7 638.8,144.9 639.6,145 640.4,145.1 641.3,145.2 642.1,145.2 642.9,145.3 643.7,145.4 644.5,145.5 645.3,145.6 646.1,145.6 646.9,145.7 647.7,145.7 648.5,145.8 649.3,145.9 650.1,145.9 650.9,146 651.7,146 652.5,146.1 653.3,146.1 654.1,146.2 654.9,146.2 655.7,146.3 656.5,146.3 657.3,146.4 658.1,146.4 658.9,146.4 659.7,146.5 660.5,146.5 661.3,146.6 662.1,146.6 662.9,146.6 663.7,146.7 664.5,146.7 665.3,146.8 666.2,146.8 667,146.8 667.8,146.9 668.6,146.9 669.4,146.9 670.2,147 671,147 671.8,147 672.6,147 673.4,147.1 674.2,147.1 675,147.1 675.8,147.1 676.6,147.2 677.4,147.2 678.2,147.2" fill="none" stroke="#222" stroke-width="0.6"/><rect x="494.9" y="12.3" width="183.3" height="147.5" fill="none" stroke="#333" stroke-width="1.1"/><line x1="510.2" y1="159.8" x2="510.2" y2="161.4" stroke="#333" stroke-width="1"/><line x1="540.7" y1="159.8" x2="540.7" y2="161.4" stroke="#333" stroke-width="1"/><line x1="571.3" y1="159.8" x2="571.3" y2="161.4" stroke="#333" stroke-width="1"/><line x1="601.8" y1="159.8" x2="601.8" y2="161.4" stroke="#333" stroke-width="1"/><line x1="632.4" y1="159.8" x2="632.4" y2="161.4" stroke="#333" stroke-width="1"/><line x1="662.9" y1="159.8" x2="662.9" y2="161.4" stroke="#333" stroke-width="1"/><line x1="494.9" y1="159.8" x2="494.9" y2="162.8" stroke="#333" stroke-width="1"/><line x1="525.5" y1="159.8" x2="525.5" y2="162.8" stroke="#333" stroke-width="1"/><line x1="556" y1="159.8" x2="556" y2="162.8" stroke="#333" stroke-width="1"/><line x1="586.5" y1="159.8" x2="586.5" y2="162.8" stroke="#333" stroke-width="1"/><line x1="617.1" y1="159.8" x2="617.1" y2="162.8" stroke="#333" stroke-width="1"/><line x1="647.7" y1="159.8" x2="647.7" y2="162.8" stroke="#333" stroke-width="1"/><line x1="678.2" y1="159.8" x2="678.2" y2="162.8" stroke="#333" stroke-width="1"/><text font-size="7.8" fill="#222" text-anchor="middle" transform="translate(494.9 171.8) scale(1 1.12)">20</text><text font-size="7.8" fill="#222" text-anchor="middle" transform="translate(525.5 171.8) scale(1 1.12)">30</text><text font-size="7.8" fill="#222" text-anchor="middle" transform="translate(556 171.8) scale(1 1.12)">40</text><text font-size="7.8" fill="#222" text-anchor="middle" transform="translate(586.5 171.8) scale(1 1.12)">50</text><text font-size="7.8" fill="#222" text-anchor="middle" transform="translate(617.1 171.8) scale(1 1.12)">60</text><text font-size="7.8" fill="#222" text-anchor="middle" transform="translate(647.7 171.8) scale(1 1.12)">70</text><text font-size="7.8" fill="#222" text-anchor="middle" transform="translate(678.2 171.8) scale(1 1.12)">80</text><line x1="493.3" y1="157.4" x2="494.9" y2="157.4" stroke="#333" stroke-width="0.8"/><line x1="493.3" y1="155" x2="494.9" y2="155" stroke="#333" stroke-width="0.8"/><line x1="493.3" y1="152.9" x2="494.9" y2="152.9" stroke="#333" stroke-width="0.8"/><line x1="493.3" y1="151" x2="494.9" y2="151" stroke="#333" stroke-width="0.8"/><line x1="491.9" y1="149.4" x2="494.9" y2="149.4" stroke="#333" stroke-width="1"/><text font-size="6.8" fill="#222" text-anchor="end" transform="translate(486.2 152.4) scale(1 1.22)">10</text><text font-size="5.0" fill="#222" transform="translate(487.2 148.8) scale(1 1.2)">1</text><line x1="493.3" y1="138.6" x2="494.9" y2="138.6" stroke="#333" stroke-width="0.8"/><line x1="493.3" y1="132.2" x2="494.9" y2="132.2" stroke="#333" stroke-width="0.8"/><line x1="493.3" y1="127.7" x2="494.9" y2="127.7" stroke="#333" stroke-width="0.8"/><line x1="493.3" y1="124.2" x2="494.9" y2="124.2" stroke="#333" stroke-width="0.8"/><line x1="493.3" y1="121.4" x2="494.9" y2="121.4" stroke="#333" stroke-width="0.8"/><line x1="493.3" y1="119" x2="494.9" y2="119" stroke="#333" stroke-width="0.8"/><line x1="493.3" y1="116.9" x2="494.9" y2="116.9" stroke="#333" stroke-width="0.8"/><line x1="493.3" y1="115" x2="494.9" y2="115" stroke="#333" stroke-width="0.8"/><line x1="491.9" y1="113.4" x2="494.9" y2="113.4" stroke="#333" stroke-width="1"/><text font-size="6.8" fill="#222" text-anchor="end" transform="translate(486.2 116.4) scale(1 1.22)">10</text><text font-size="5.0" fill="#222" transform="translate(487.2 112.8) scale(1 1.2)">2</text><line x1="493.3" y1="102.6" x2="494.9" y2="102.6" stroke="#333" stroke-width="0.8"/><line x1="493.3" y1="96.2" x2="494.9" y2="96.2" stroke="#333" stroke-width="0.8"/><line x1="493.3" y1="91.7" x2="494.9" y2="91.7" stroke="#333" stroke-width="0.8"/><line x1="493.3" y1="88.2" x2="494.9" y2="88.2" stroke="#333" stroke-width="0.8"/><line x1="493.3" y1="85.4" x2="494.9" y2="85.4" stroke="#333" stroke-width="0.8"/><line x1="493.3" y1="83" x2="494.9" y2="83" stroke="#333" stroke-width="0.8"/><line x1="493.3" y1="80.9" x2="494.9" y2="80.9" stroke="#333" stroke-width="0.8"/><line x1="493.3" y1="79" x2="494.9" y2="79" stroke="#333" stroke-width="0.8"/><line x1="491.9" y1="77.4" x2="494.9" y2="77.4" stroke="#333" stroke-width="1"/><text font-size="6.8" fill="#222" text-anchor="end" transform="translate(486.2 80.4) scale(1 1.22)">10</text><text font-size="5.0" fill="#222" transform="translate(487.2 76.8) scale(1 1.2)">3</text><line x1="493.3" y1="66.6" x2="494.9" y2="66.6" stroke="#333" stroke-width="0.8"/><line x1="493.3" y1="60.2" x2="494.9" y2="60.2" stroke="#333" stroke-width="0.8"/><line x1="493.3" y1="55.7" x2="494.9" y2="55.7" stroke="#333" stroke-width="0.8"/><line x1="493.3" y1="52.2" x2="494.9" y2="52.2" stroke="#333" stroke-width="0.8"/><line x1="493.3" y1="49.4" x2="494.9" y2="49.4" stroke="#333" stroke-width="0.8"/><line x1="493.3" y1="47" x2="494.9" y2="47" stroke="#333" stroke-width="0.8"/><line x1="493.3" y1="44.9" x2="494.9" y2="44.9" stroke="#333" stroke-width="0.8"/><line x1="493.3" y1="43" x2="494.9" y2="43" stroke="#333" stroke-width="0.8"/><line x1="491.9" y1="41.4" x2="494.9" y2="41.4" stroke="#333" stroke-width="1"/><text font-size="6.8" fill="#222" text-anchor="end" transform="translate(486.2 44.4) scale(1 1.22)">10</text><text font-size="5.0" fill="#222" transform="translate(487.2 40.8) scale(1 1.2)">4</text><line x1="493.3" y1="30.6" x2="494.9" y2="30.6" stroke="#333" stroke-width="0.8"/><line x1="493.3" y1="24.2" x2="494.9" y2="24.2" stroke="#333" stroke-width="0.8"/><line x1="493.3" y1="19.7" x2="494.9" y2="19.7" stroke="#333" stroke-width="0.8"/><line x1="493.3" y1="16.2" x2="494.9" y2="16.2" stroke="#333" stroke-width="0.8"/><line x1="493.3" y1="13.4" x2="494.9" y2="13.4" stroke="#333" stroke-width="0.8"/><text font-size="9.8" fill="#222" text-anchor="middle" transform="translate(474.6 85.5) rotate(-90)">Fluorescence intensity</text><text font-size="9.8" fill="#222" text-anchor="middle" transform="translate(586.5 185.5) scale(1 1.12)">Time (ns)</text><text font-size="15.2" fill="#000" font-weight="bold" font-style="italic" transform="translate(467.4 12.4) scale(1 1.0)">E</text><rect x="641.3" y="12.4" width="36.8" height="86.8" fill="#fff" stroke="#b8b8b8" stroke-width="0.7"/><circle cx="647.1" cy="16.9" r="1.4" fill="#000"/><text font-size="6.35" fill="#222" transform="translate(652.7 19.4) scale(1 1.12)">Prompt</text><circle cx="647.1" cy="24.6" r="1.4" fill="#f04040"/><text font-size="6.35" fill="#222" transform="translate(652.7 27.2) scale(1 1.12)">FR1-99</text><line x1="643.7" y1="32.4" x2="650.5" y2="32.4" stroke="#111" stroke-width="1.1"/><text font-size="6.35" fill="#222" transform="translate(652.7 34.9) scale(1 1.12)">Fit</text><circle cx="647.1" cy="40.1" r="1.4" fill="#f0d030"/><text font-size="6.35" fill="#222" transform="translate(652.7 42.7) scale(1 1.12)">FR10-90</text><line x1="643.7" y1="47.9" x2="650.5" y2="47.9" stroke="#444" stroke-width="1.1"/><text font-size="6.35" fill="#222" transform="translate(652.7 50.4) scale(1 1.12)">Fit</text><circle cx="647.1" cy="55.6" r="1.4" fill="#50d040"/><text font-size="6.35" fill="#222" transform="translate(652.7 58.2) scale(1 1.12)">FR20-80</text><line x1="643.7" y1="63.4" x2="650.5" y2="63.4" stroke="#111" stroke-width="1.1"/><text font-size="6.35" fill="#222" transform="translate(652.7 65.9) scale(1 1.12)">Fit</text><circle cx="647.1" cy="71.2" r="1.4" fill="#50a8f8"/><text font-size="6.35" fill="#222" transform="translate(652.7 73.7) scale(1 1.12)">FR50-50</text><line x1="643.7" y1="78.9" x2="650.5" y2="78.9" stroke="#444" stroke-width="1.1"/><text font-size="6.35" fill="#222" transform="translate(652.7 81.4) scale(1 1.12)">Fit</text><circle cx="647.1" cy="86.7" r="1.4" fill="#b040f0"/><text font-size="6.35" fill="#222" transform="translate(652.7 89.2) scale(1 1.12)">FR75-25</text><line x1="643.7" y1="94.4" x2="650.5" y2="94.4" stroke="#111" stroke-width="1.1"/><text font-size="6.35" fill="#222" transform="translate(652.7 96.9) scale(1 1.12)">Fit</text><line x1="494.9" y1="12.3" x2="678.2" y2="12.3" stroke="#333" stroke-width="1.1"/><line x1="678.2" y1="12.3" x2="678.2" y2="159.8" stroke="#333" stroke-width="1.1"/><path d="M506.4,213.4 507.2,215.2 508,216.9 508.8,218.5 509.6,220.1 510.4,221.5 511.2,222.9 512,224.2 512.8,225.6 513.6,226.9 514.4,228.3 515.2,229.7 516,231.1 516.8,232.5 517.6,233.9 518.5,235.2 519.3,236.5 520.1,237.7 520.9,238.9 521.7,240.1 522.5,241.2 523.3,242.3 524.1,243.4 524.9,244.5 525.7,245.5 526.5,246.6 527.3,247.7 528.1,248.7 528.9,249.8 529.7,250.8 530.5,251.8 531.3,252.8 532.1,253.8 532.9,254.7 533.7,255.6 534.5,256.5 535.3,257.4 536.1,258.3 536.9,259.1 537.7,260 538.5,260.9 539.3,261.8 540.1,262.7 540.9,263.6 541.7,264.5 542.5,265.4 543.3,266.3 544.1,267.1 544.9,268 545.7,268.8 546.5,269.6 547.4,270.4 548.2,271.1 549,271.9 549.8,272.7 550.6,273.4 551.4,274.2 552.2,275 553,275.7 553.8,276.5 554.6,277.2 555.4,278 556.2,278.7 557,279.5 557.8,280.2 558.6,281 559.4,281.7 560.2,282.5 561,283.2 561.8,284 562.6,284.7 563.4,285.5 564.2,286.2 565,287 565.8,287.7 566.6,288.5 567.4,289.3 568.2,290 569,290.8 569.8,291.6 570.6,292.3 571.4,293 572.2,293.8 573,294.5 573.8,295.2 574.6,295.9 575.4,296.5 576.3,297.2 577.1,297.8 577.9,298.5 578.7,299.2 579.5,299.8 580.3,300.5 581.1,301.2 581.9,302 582.7,302.7 583.5,303.4 584.3,304.2 585.1,305 585.9,305.7 586.7,306.5 587.5,307.2 588.3,308 589.1,308.7 589.9,309.4 590.7,310.1 591.5,310.7 592.3,311.4 593.1,312 593.9,312.6 594.7,313.2 595.5,313.8 596.3,314.4 597.1,315 597.9,315.6 598.7,316.2 599.5,316.7 600.3,317.3 601.1,317.8 601.9,318.3 602.7,318.8 603.5,319.3 604.3,319.8 605.1,320.2 606,320.7 606.8,321.1 607.6,321.5 608.4,321.9 609.2,322.3 610,322.7 610.8,323.1 611.6,323.5 612.4,323.9 613.2,324.2 614,324.6 614.8,324.9 615.6,325.3 616.4,325.6 617.2,325.9 618,326.2 618.8,326.5 619.6,326.8 620.4,327 621.2,327.3 622,327.6 622.8,327.8 623.6,328.1 624.4,328.3 625.2,328.5 626,328.8 626.8,329 627.6,329.2 628.4,329.4 629.2,329.6 630,329.8 630.8,330 631.6,330.2 632.4,330.3 633.2,330.5 634,330.7 634.9,330.8 635.7,331 636.5,331.1 637.3,331.3 638.1,331.4 638.9,331.6 639.7,331.7 640.5,331.8 641.3,331.9 642.1,332 642.9,332.1 643.7,332.2 644.5,332.3 645.3,332.4 646.1,332.5 646.9,332.5 647.7,332.6 648.5,332.6 649.3,332.7 650.1,332.8 650.9,332.8 651.7,332.9 652.5,332.9 653.3,333 654.1,333 654.9,333.1 655.7,333.1 656.5,333.1 657.3,333.2 658.1,333.2 658.9,333.3 659.7,333.3 660.5,333.3 661.3,333.4 662.1,333.4 662.9,333.4 663.8,333.4 664.6,333.5 665.4,333.5 666.2,333.5 667,333.6 667.8,333.6 668.6,333.6 669.4,333.6 670.2,333.7 671,333.7 671.8,333.7 672.6,333.7 673.4,333.7 674.2,333.7 675,333.8 675.8,333.8 676.6,333.8 677.4,333.8 678.2,333.8" fill="none" stroke="#111" stroke-width="0.6"/><path d="M506.4,213.5 507.2,215.3 508,217 508.8,218.7 509.6,220.2 510.4,221.7 511.2,223.1 512,224.4 512.8,225.8 513.6,227.2 514.4,228.6 515.2,230 516,231.4 516.8,232.9 517.6,234.3 518.5,235.6 519.3,236.9 520.1,238.1 520.9,239.3 521.7,240.4 522.5,241.6 523.3,242.7 524.1,243.8 524.9,244.9 525.7,245.9 526.5,247 527.3,248.1 528.1,249.2 528.9,250.2 529.7,251.2 530.5,252.2 531.3,253.2 532.1,254.2 532.9,255.1 533.7,256 534.5,256.9 535.3,257.8 536.1,258.7 536.9,259.5 537.7,260.4 538.5,261.3 539.3,262.2 540.1,263.1 540.9,264 541.7,264.9 542.5,265.8 543.3,266.7 544.1,267.5 544.9,268.4 545.7,269.2 546.5,270 547.4,270.8 548.2,271.5 549,272.3 549.8,273.1 550.6,273.8 551.4,274.6 552.2,275.4 553,276.1 553.8,276.9 554.6,277.6 555.4,278.4 556.2,279.1 557,279.9 557.8,280.6 558.6,281.4 559.4,282.1 560.2,282.9 561,283.6 561.8,284.4 562.6,285.1 563.4,285.9 564.2,286.6 565,287.4 565.8,288.1 566.6,288.9 567.4,289.7 568.2,290.4 569,291.2 569.8,292 570.6,292.7 571.4,293.4 572.2,294.2 573,294.9 573.8,295.6 574.6,296.3 575.4,296.9 576.3,297.6 577.1,298.2 577.9,298.9 578.7,299.6 579.5,300.2 580.3,300.9 581.1,301.6 581.9,302.4 582.7,303.1 583.5,303.8 584.3,304.6 585.1,305.4 585.9,306.1 586.7,306.9 587.5,307.6 588.3,308.4 589.1,309.1 589.9,309.8 590.7,310.5 591.5,311.1 592.3,311.8 593.1,312.4 593.9,313 594.7,313.6 595.5,314.2 596.3,314.8 597.1,315.4 597.9,316 598.7,316.6 599.5,317.1 600.3,317.7 601.1,318.2 601.9,318.7 602.7,319.2 603.5,319.7 604.3,320.2 605.1,320.6 606,321.1 606.8,321.5 607.6,321.9 608.4,322.3 609.2,322.7 610,323.1 610.8,323.5 611.6,323.9 612.4,324.3 613.2,324.6 614,325 614.8,325.3 615.6,325.7 616.4,326 617.2,326.3 618,326.6 618.8,326.9 619.6,327.2 620.4,327.4 621.2,327.7 622,328 622.8,328.2 623.6,328.5 624.4,328.7 625.2,328.9 626,329.2 626.8,329.4 627.6,329.6 628.4,329.8 629.2,330 630,330.2 630.8,330.4 631.6,330.6 632.4,330.7 633.2,330.9 634,331.1 634.9,331.2 635.7,331.4 636.5,331.5 637.3,331.7 638.1,331.8 638.9,332 639.7,332.1 640.5,332.2 641.3,332.3 642.1,332.4 642.9,332.5 643.7,332.6 644.5,332.7 645.3,332.8 646.1,332.9 646.9,332.9 647.7,333 648.5,333 649.3,333.1 650.1,333.2 650.9,333.2 651.7,333.3 652.5,333.3 653.3,333.4 654.1,333.4 654.9,333.5 655.7,333.5 656.5,333.5 657.3,333.6 658.1,333.6 658.9,333.7 659.7,333.7 660.5,333.7 661.3,333.8 662.1,333.8 662.9,333.8 663.8,333.8 664.6,333.9 665.4,333.9 666.2,333.9 667,334 667.8,334 668.6,334 669.4,334 670.2,334.1 671,334.1 671.8,334.1 672.6,334.1 673.4,334.1 674.2,334.1 675,334.2 675.8,334.2 676.6,334.2 677.4,334.2 678.2,334.2" fill="none" stroke="#111" stroke-width="0.6"/><path d="M506.4,213.1 507.2,214.9 508,216.5 508.8,218.1 509.6,219.5 510.4,220.9 511.2,222.3 512,223.6 512.8,224.8 513.6,226.1 514.4,227.5 515.2,228.8 516,230.2 516.8,231.5 517.6,232.8 518.5,234.1 519.3,235.4 520.1,236.6 520.9,237.7 521.7,238.9 522.5,240 523.3,241.1 524.1,242.2 524.9,243.3 525.7,244.3 526.5,245.4 527.3,246.5 528.1,247.5 528.9,248.6 529.7,249.6 530.5,250.6 531.3,251.6 532.1,252.6 532.9,253.5 533.7,254.4 534.5,255.3 535.3,256.2 536.1,257.1 536.9,257.9 537.7,258.8 538.5,259.7 539.3,260.6 540.1,261.5 540.9,262.4 541.7,263.3 542.5,264.2 543.3,265.1 544.1,265.9 544.9,266.8 545.7,267.6 546.5,268.4 547.4,269.2 548.2,269.9 549,270.7 549.8,271.5 550.6,272.2 551.4,273 552.2,273.8 553,274.5 553.8,275.3 554.6,276 555.4,276.8 556.2,277.5 557,278.3 557.8,279 558.6,279.8 559.4,280.5 560.2,281.3 561,282 561.8,282.8 562.6,283.5 563.4,284.3 564.2,285 565,285.8 565.8,286.5 566.6,287.3 567.4,288.1 568.2,288.8 569,289.6 569.8,290.4 570.6,291.1 571.4,291.8 572.2,292.6 573,293.3 573.8,294 574.6,294.7 575.4,295.3 576.3,296 577.1,296.6 577.9,297.3 578.7,298 579.5,298.6 580.3,299.3 581.1,300 581.9,300.8 582.7,301.5 583.5,302.2 584.3,303 585.1,303.8 585.9,304.5 586.7,305.3 587.5,306 588.3,306.8 589.1,307.5 589.9,308.2 590.7,308.9 591.5,309.5 592.3,310.2 593.1,310.8 593.9,311.4 594.7,312 595.5,312.6 596.3,313.2 597.1,313.8 597.9,314.4 598.7,315 599.5,315.5 600.3,316.1 601.1,316.6 601.9,317.1 602.7,317.6 603.5,318.1 604.3,318.6 605.1,319 606,319.5 606.8,319.9 607.6,320.3 608.4,320.7 609.2,321.1 610,321.5 610.8,321.9 611.6,322.3 612.4,322.7 613.2,323 614,323.4 614.8,323.7 615.6,324.1 616.4,324.4 617.2,324.7 618,325 618.8,325.3 619.6,325.6 620.4,325.8 621.2,326.1 622,326.4 622.8,326.6 623.6,326.9 624.4,327.1 625.2,327.3 626,327.6 626.8,327.8 627.6,328 628.4,328.2 629.2,328.4 630,328.6 630.8,328.8 631.6,329 632.4,329.1 633.2,329.3 634,329.5 634.9,329.6 635.7,329.8 636.5,329.9 637.3,330.1 638.1,330.2 638.9,330.4 639.7,330.5 640.5,330.6 641.3,330.7 642.1,330.8 642.9,330.9 643.7,331 644.5,331.1 645.3,331.2 646.1,331.3 646.9,331.3 647.7,331.4 648.5,331.4 649.3,331.5 650.1,331.6 650.9,331.6 651.7,331.7 652.5,331.7 653.3,331.8 654.1,331.8 654.9,331.9 655.7,331.9 656.5,331.9 657.3,332 658.1,332 658.9,332.1 659.7,332.1 660.5,332.1 661.3,332.2 662.1,332.2 662.9,332.2 663.8,332.2 664.6,332.3 665.4,332.3 666.2,332.3 667,332.4 667.8,332.4 668.6,332.4 669.4,332.4 670.2,332.5 671,332.5 671.8,332.5 672.6,332.5 673.4,332.5 674.2,332.5 675,332.6 675.8,332.6 676.6,332.6 677.4,332.6 678.2,332.6" fill="none" stroke="#111" stroke-width="0.6"/><path d="M506.4,212.6 507.2,214.2 508,215.9 508.8,217.5 509.6,219.1 510.4,220.7 511.2,222.2 512,223.8 512.8,225.3 513.6,226.8 514.4,228.3 515.2,229.7 516,231.2 516.8,232.7 517.6,234.2 518.5,235.6 519.3,237.1 520.1,238.5 520.9,240 521.7,241.4 522.5,242.7 523.3,244.1 524.1,245.4 524.9,246.7 525.7,248 526.5,249.2 527.3,250.4 528.1,251.6 528.9,252.8 529.7,253.9 530.5,254.9 531.3,256 532.1,257 532.9,257.9 533.7,258.8 534.5,259.7 535.3,260.6 536.1,261.5 536.9,262.3 537.7,263.2 538.5,264 539.3,264.8 540.1,265.6 540.9,266.4 541.7,267.3 542.5,268.2 543.3,269 544.1,269.9 544.9,270.8 545.7,271.7 546.5,272.6 547.4,273.4 548.2,274.3 549,275.2 549.8,276 550.6,276.9 551.4,277.7 552.2,278.6 553,279.4 553.8,280.2 554.6,281 555.4,281.9 556.2,282.7 557,283.5 557.8,284.3 558.6,285.1 559.4,285.9 560.2,286.7 561,287.5 561.8,288.3 562.6,289 563.4,289.8 564.2,290.6 565,291.3 565.8,292.1 566.6,292.8 567.4,293.5 568.2,294.2 569,295 569.8,295.7 570.6,296.4 571.4,297.1 572.2,297.8 573,298.5 573.8,299.2 574.6,299.9 575.4,300.6 576.3,301.2 577.1,301.9 577.9,302.6 578.7,303.2 579.5,303.9 580.3,304.5 581.1,305.1 581.9,305.8 582.7,306.4 583.5,307 584.3,307.6 585.1,308.2 585.9,308.8 586.7,309.4 587.5,310 588.3,310.6 589.1,311.2 589.9,311.7 590.7,312.3 591.5,312.8 592.3,313.4 593.1,313.9 593.9,314.4 594.7,315 595.5,315.5 596.3,316 597.1,316.5 597.9,317 598.7,317.5 599.5,318 600.3,318.5 601.1,319 601.9,319.4 602.7,319.9 603.5,320.4 604.3,320.8 605.1,321.2 606,321.6 606.8,322.1 607.6,322.5 608.4,322.9 609.2,323.3 610,323.7 610.8,324.1 611.6,324.4 612.4,324.8 613.2,325.2 614,325.5 614.8,325.9 615.6,326.2 616.4,326.6 617.2,326.9 618,327.2 618.8,327.5 619.6,327.8 620.4,328.1 621.2,328.4 622,328.7 622.8,328.9 623.6,329.2 624.4,329.5 625.2,329.8 626,330 626.8,330.2 627.6,330.5 628.4,330.7 629.2,330.9 630,331 630.8,331.2 631.6,331.3 632.4,331.5 633.2,331.6 634,331.7 634.9,331.8 635.7,332 636.5,332.1 637.3,332.2 638.1,332.3 638.9,332.4 639.7,332.5 640.5,332.6 641.3,332.7 642.1,332.8 642.9,332.8 643.7,332.9 644.5,333 645.3,333 646.1,333.1 646.9,333.2 647.7,333.2 648.5,333.2 649.3,333.3 650.1,333.3 650.9,333.3 651.7,333.4 652.5,333.4 653.3,333.4 654.1,333.4 654.9,333.4 655.7,333.5 656.5,333.5 657.3,333.5 658.1,333.5 658.9,333.6 659.7,333.6 660.5,333.6 661.3,333.6 662.1,333.6 662.9,333.6 663.8,333.7 664.6,333.7 665.4,333.7 666.2,333.7 667,333.7 667.8,333.7 668.6,333.7 669.4,333.7 670.2,333.8 671,333.8 671.8,333.8 672.6,333.8 673.4,333.8 674.2,333.8 675,333.8 675.8,333.8 676.6,333.8 677.4,333.8 678.2,333.8" fill="none" stroke="#111" stroke-width="0.6"/><path d="M506.4,213.2 507.2,215.1 508,217 508.8,219 509.6,221 510.4,223.1 511.2,225.1 512,227.1 512.8,229 513.6,231 514.4,232.9 515.2,234.8 516,236.6 516.8,238.4 517.6,240.1 518.5,241.8 519.3,243.5 520.1,245.1 520.9,246.7 521.7,248.3 522.5,249.8 523.3,251.3 524.1,252.8 524.9,254.3 525.7,255.7 526.5,257.1 527.3,258.5 528.1,259.8 528.9,261.1 529.7,262.4 530.5,263.7 531.3,264.9 532.1,266.1 532.9,267.3 533.7,268.5 534.5,269.6 535.3,270.7 536.1,271.9 536.9,273 537.7,274.1 538.5,275.1 539.3,276.2 540.1,277.3 540.9,278.4 541.7,279.4 542.5,280.5 543.3,281.5 544.1,282.6 544.9,283.6 545.7,284.6 546.5,285.6 547.4,286.6 548.2,287.6 549,288.6 549.8,289.6 550.6,290.6 551.4,291.7 552.2,292.7 553,293.8 553.8,294.9 554.6,295.9 555.4,297 556.2,298.1 557,299.2 557.8,300.2 558.6,301.2 559.4,302.2 560.2,303.2 561,304.2 561.8,305.1 562.6,306.1 563.4,307 564.2,307.9 565,308.8 565.8,309.7 566.6,310.6 567.4,311.5 568.2,312.3 569,313.2 569.8,314.1 570.6,314.9 571.4,315.8 572.2,316.6 573,317.5 573.8,318.3 574.6,319.1 575.4,319.9 576.3,320.7 577.1,321.5 577.9,322.3 578.7,323 579.5,323.7 580.3,324.5 581.1,325.2 581.9,326 582.7,326.7 583.5,327.4 584.3,328.2 585.1,328.9 585.9,329.6 586.7,330.2 587.5,330.9 588.3,331.5 589.1,332.1 589.9,332.6 590.7,333.2 591.5,333.6 592.3,334.1 593.1,334.5 593.9,334.8 594.7,335.2 595.5,335.6 596.3,336 597.1,336.3 597.9,336.6 598.7,337 599.5,337.3 600.3,337.5 601.1,337.8 601.9,338 602.7,338.3 603.5,338.5 604.3,338.6 605.1,338.8 606,338.9 606.8,339 607.6,339.1 608.4,339.3 609.2,339.4 610,339.5 610.8,339.5 611.6,339.6 612.4,339.7 613.2,339.8 614,339.9 614.8,339.9 615.6,340 616.4,340.1 617.2,340.1 618,340.2 618.8,340.2 619.6,340.3 620.4,340.3 621.2,340.4 622,340.4 622.8,340.4 623.6,340.5 624.4,340.5 625.2,340.6 626,340.6 626.8,340.6 627.6,340.7 628.4,340.7 629.2,340.8 630,340.8 630.8,340.8 631.6,340.8 632.4,340.9 633.2,340.9 634,340.9 634.9,340.9 635.7,341 636.5,341 637.3,341 638.1,341 638.9,341 639.7,341 640.5,341 641.3,341 642.1,341 642.9,341 643.7,341 644.5,341 645.3,341 646.1,341 646.9,341 647.7,341 648.5,341 649.3,341 650.1,341 650.9,341 651.7,341 652.5,341 653.3,341 654.1,341 654.9,341 655.7,341 656.5,341 657.3,341 658.1,341 658.9,341 659.7,341 660.5,341 661.3,341 662.1,341 662.9,341 663.8,341 664.6,341 665.4,341 666.2,341 667,341 667.8,341 668.6,341 669.4,341 670.2,341 671,341 671.8,341 672.6,341 673.4,341 674.2,341 675,341 675.8,341 676.6,341 677.4,341 678.2,341" fill="none" stroke="#111" stroke-width="0.6"/><path d="M500.5 326h0M500.6 291.6h0M500.9 268.9h0M501.8 229.1h0M496.1 346h0M503.4 209.1h0M503.7 212.4h0M503.9 215.8h0M504.1 219.3h0M504.3 222.7h0M504.6 226.1h0M504.8 229.3h0M505 232.5h0M505.3 235.4h0M505.5 238.3h0M505.7 241.6h0M505.9 244.5h0M506.2 247.5h0M506.4 250.2h0M506.6 253h0M506.9 256.5h0M507.1 259.1h0M507.3 262h0M507.5 264.3h0M507.8 267.8h0M508 270.5h0M508.2 272.8h0M508.5 275.4h0M508.7 278.2h0M508.9 281.3h0M509.1 284.8h0M509.4 287h0M509.6 289.8h0M509.8 292.3h0M510.1 292.5h0M510.3 297.2h0M510.5 301.1h0M510.7 299.4h0M511 304.9h0M511.2 305.1h0M511.4 304.9h0M511.7 309.4h0M511.9 312.8h0M512.1 312.5h0M512.3 311.2h0M512.6 315.5h0M512.8 320.8h0M513 316.8h0M513.3 324.1h0M513.5 323.4h0M513.7 320.8h0M513.9 327.3h0M514.2 326.4h0M514.4 330.3h0M514.6 332.6h0M514.9 331.4h0M515.1 331.4h0M515.3 327.3h0M515.6 327.3h0M515.8 331.4h0M516 332.6h0M516.2 326.4h0M516.5 330.3h0M516.7 327.3h0M516.9 331.4h0M517.2 327.3h0M517.4 331.4h0M517.6 340.8h0M517.8 329.2h0M518.1 335.4h0M518.3 332.6h0M518.5 335.4h0M518.8 333.9h0M519 338.8h0M519.2 338.8h0M519.4 343.2h0M519.7 338.8h0M519.9 332.6h0M520.1 343.2h0M520.4 346h0M520.6 337h0M520.8 343.2h0M521 346h0M521.3 340.8h0M521.5 337h0M521.7 346h0M522 343.2h0M522.2 332.6h0M522.4 338.8h0M522.6 331.4h0M522.9 335.4h0M523.1 340.8h0M523.3 337h0M523.6 343.2h0M523.8 333.9h0M524 338.8h0M524.2 337h0M524.5 343.2h0M524.7 340.8h0M524.9 338.8h0M525.2 335.4h0M525.4 337h0M525.8 338.8h0M526.1 346h0M526.3 337h0M526.5 340.8h0M527 340.8h0M527.2 335.4h0M527.4 338.8h0M527.7 333.9h0M527.9 337h0M528.1 343.2h0M528.6 332.6h0M528.8 346h0M529 340.8h0M529.3 333.9h0M530 340.8h0M530.2 337h0M530.4 337h0M530.6 335.4h0M530.9 338.8h0M531.1 337h0M531.3 333.9h0M531.6 337h0M531.8 346h0M532 337h0M532.2 335.4h0M532.5 333.9h0M532.7 343.2h0M532.9 340.8h0M533.2 346h0M533.4 343.2h0M534.1 346h0M534.3 346h0M534.5 335.4h0M535 346h0M535.5 335.4h0M535.7 346h0M536.4 346h0M536.6 343.2h0M537.1 343.2h0M537.5 338.8h0M537.7 333.9h0M538 343.2h0M538.2 346h0M538.4 340.8h0M538.7 346h0M538.9 343.2h0M539.1 346h0M539.3 338.8h0M540.7 343.2h0M540.9 346h0M541.2 343.2h0M541.9 340.8h0M542.1 335.4h0M542.3 338.8h0M542.5 343.2h0M543.2 338.8h0M544.1 338.8h0M544.4 343.2h0M544.6 343.2h0M545.7 343.2h0M546 343.2h0M546.7 343.2h0M547.1 343.2h0M547.3 340.8h0M547.8 346h0M549.2 340.8h0M549.6 338.8h0M550.8 346h0M551.5 343.2h0M551.7 343.2h0M551.9 346h0M552.8 340.8h0M553.3 346h0M555.1 346h0M556.3 340.8h0M556.7 343.2h0M558.1 338.8h0M559.5 343.2h0M559.7 346h0M561.1 343.2h0M561.3 346h0M562.9 346h0M565.6 346h0M566.6 343.2h0M567.7 338.8h0M569.1 346h0M571.6 346h0M575.5 343.2h0M577.3 343.2h0M582.3 346h0M588.8 346h0M589.2 346h0M589.9 346h0M595.8 346h0M602 343.2h0M607.7 346h0M614.6 346h0M623.7 346h0M624.4 346h0M624.9 346h0M634 343.2h0M637.9 346h0M640.9 346h0M663.6 343.2h0" stroke="#000" stroke-width="1.2" stroke-linecap="round" fill="none"/><path d="M499.5 345.2h0M499.8 331h0M499.5 322h0M499.1 317h0M499.8 309.9h0M499.8 298.6h0M499.6 290.9h0M499.8 281.4h0M499.6 272.6h0M499.9 263.1h0M500.5 254.7h0M500.4 243.3h0M501.2 233.8h0M501.2 226.6h0M501.7 218.9h0M503 209.6h0M495.3 346h0M495.9 340.8h0M496.3 343.2h0M496.5 346h0M496.7 346h0M496.9 340.8h0M497.1 346h0M497.3 346h0M497.5 346h0M498.1 346h0M498.9 346h0M503.2 205.8h0M503.4 206.2h0M503.6 206.7h0M503.8 207.2h0M504 207.4h0M504.2 208.1h0M504.4 208.4h0M504.6 208.8h0M504.8 209.2h0M505 209.7h0M505.2 210.2h0M505.4 210.7h0M505.6 211h0M505.8 211.4h0M506 211.9h0M506.2 212.1h0M506.4 212.5h0M506.6 213h0M506.8 213.5h0M507 213.8h0M507.2 214.3h0M507.4 214.5h0M507.6 215.2h0M507.8 215.7h0M508 215.9h0M508.2 216.2h0M508.4 216.6h0M508.6 217.1h0M508.8 217.5h0M509 217.7h0M509.2 218.1h0M509.4 218.6h0M509.6 219h0M509.8 219.4h0M510 220h0M510.2 220.3h0M510.4 220.6h0M510.6 220.9h0M510.8 221.4h0M511 222h0M511.2 222h0M511.4 222.6h0M511.6 222.8h0M511.8 223.3h0M512 223.6h0M512.2 224h0M512.4 224.1h0M512.6 224.7h0M512.8 225.2h0M513 225.5h0M513.2 225.7h0M513.4 226.2h0M513.6 226.6h0M513.8 227.1h0M514 227.4h0M514.2 227.9h0M514.4 227.9h0M514.5 228.2h0M514.7 228.5h0M514.9 229.4h0M515.1 229.4h0M515.3 230h0M515.5 230.2h0M515.7 230.5h0M515.9 230.9h0M516.1 231.2h0M516.3 231.8h0M516.5 232.3h0M516.7 232.5h0M516.9 232.9h0M517.1 232.7h0M517.3 233.3h0M517.5 234.2h0M517.7 234.2h0M517.9 234.7h0M518.1 235.1h0M518.3 235.6h0M518.5 235.9h0M518.7 236.3h0M518.9 236.7h0M519.1 236.8h0M519.3 236.7h0M519.5 237.7h0M519.7 238.2h0M519.9 238.6h0M520.1 238.8h0M520.3 239.2h0M520.5 239.3h0M520.7 239.6h0M520.9 240.2h0M521.1 240.7h0M521.3 240.8h0M521.5 241.3h0M521.7 241.6h0M521.9 241.8h0M522.1 242.2h0M522.3 242.3h0M522.5 242.9h0M522.7 242.9h0M522.9 243.2h0M523.1 243.7h0M523.3 243.9h0M523.5 244.6h0M523.7 244.8h0M523.9 245.2h0M524.1 245.3h0M524.3 245.6h0M524.5 246h0M524.7 246.6h0M524.9 247h0M525.1 247.4h0M525.3 247.6h0M525.5 247.8h0M525.7 248h0M525.8 248.2h0M526 248.8h0M526.2 248.9h0M526.4 249.2h0M526.6 249.5h0M526.8 250.1h0M527 250.2h0M527.2 250.7h0M527.4 251h0M527.6 251h0M527.8 250.8h0M592.1 313.2h0M592.3 312.5h0M592.5 309.7h0M592.7 315.9h0M592.9 319.2h0M593.1 316.3h0M593.3 313.9h0M593.5 313.9h0M593.7 309.4h0M593.8 315.5h0M594 320.3h0M594.2 313.2h0M594.4 316.8h0M594.6 309.7h0M594.8 312.2h0M595 316.3h0M595.2 322.7h0M595.4 313.2h0M595.6 309.2h0M595.8 319.2h0M596 314.7h0M596.2 322.7h0M596.4 316.8h0M596.6 316.3h0M596.8 315.9h0M597 315.9h0M597.2 320.8h0M597.4 312.8h0M597.6 320.8h0M597.8 316.8h0M598 318.7h0M598.2 314.3h0M598.4 317.7h0M598.6 316.8h0M598.8 319.7h0M599 315.5h0M599.2 316.8h0M599.4 320.8h0M599.6 317.7h0M599.8 322.1h0M600 324.1h0M600.2 322.7h0M600.4 320.3h0M600.6 319.7h0M600.8 318.2h0M601 320.3h0M601.2 320.3h0M601.4 318.7h0M601.6 327.3h0M601.8 317.7h0M602 320.8h0M602.2 320.3h0M602.4 317.2h0M602.6 320.3h0M602.8 322.1h0M603 321.4h0M603.2 320.8h0M603.4 317.2h0M603.6 318.7h0M603.8 320.3h0M604 322.1h0M604.2 325.6h0M604.4 320.3h0M604.6 322.1h0M604.8 320.8h0M605 318.2h0M605.1 318.7h0M605.3 318.7h0M605.5 321.4h0M605.7 320.3h0M605.9 318.2h0M606.1 329.2h0M606.3 324.1h0M606.5 319.7h0M606.7 321.4h0M606.9 322.7h0M607.1 319.7h0M607.3 322.7h0M607.5 329.2h0M607.7 321.4h0M607.9 316.3h0M608.1 325.6h0M608.3 321.4h0M608.5 324.8h0M608.7 315.5h0M608.9 322.7h0M609.1 319.7h0M609.3 324.8h0M609.5 324.8h0M609.7 320.8h0M609.9 325.6h0M610.1 319.2h0M610.3 318.7h0M610.5 324.8h0M610.7 323.4h0M610.9 320.8h0M611.1 327.3h0M611.3 322.1h0M611.5 324.8h0M611.7 326.4h0M611.9 327.3h0M612.1 324.8h0M612.3 324.8h0M612.5 319.7h0M612.7 329.2h0M612.9 325.6h0M613.1 324.8h0M613.3 324.1h0M613.5 327.3h0M613.7 323.4h0M613.9 323.4h0M614.1 322.1h0M614.3 325.6h0M614.5 333.9h0M614.7 327.3h0M614.9 331.4h0M615.1 340.8h0M615.3 327.3h0M615.5 325.6h0M615.7 322.7h0M615.9 324.1h0M616.1 326.4h0M616.3 323.4h0M616.5 325.6h0M616.6 322.7h0M616.8 326.4h0M617 329.2h0M617.2 322.7h0M617.4 324.1h0M617.6 328.2h0M617.8 323.4h0M618 327.3h0M618.2 327.3h0M618.4 328.2h0M618.6 326.4h0M618.8 324.1h0M619 324.8h0M619.2 324.1h0M619.4 331.4h0M619.6 323.4h0M619.8 328.2h0M620 335.4h0M620.2 320.8h0M620.4 323.4h0M620.6 323.4h0M620.8 322.7h0M621 330.3h0M621.2 332.6h0M621.4 331.4h0M621.6 333.9h0M621.8 330.3h0M622 322.1h0M622.2 325.6h0M622.4 332.6h0M622.6 325.6h0M622.8 333.9h0M623 325.6h0M623.2 332.6h0M623.4 328.2h0M623.6 331.4h0M623.8 322.1h0M624 331.4h0M624.2 321.4h0M624.4 328.2h0M624.6 331.4h0M624.8 330.3h0M625 329.2h0M625.2 327.3h0M625.4 324.8h0M625.6 335.4h0M625.8 324.8h0M626 335.4h0M626.2 335.4h0M626.4 328.2h0M626.6 327.3h0M626.8 330.3h0M627 330.3h0M627.2 330.3h0M627.4 327.3h0M627.6 333.9h0M627.8 324.1h0M627.9 327.3h0M628.1 330.3h0M628.3 333.9h0M628.5 329.2h0M628.7 327.3h0M628.9 326.4h0M629.1 324.8h0M629.3 325.6h0M629.5 327.3h0M629.7 333.9h0M629.9 331.4h0M630.1 332.6h0M630.3 326.4h0M630.5 335.4h0M630.7 338.8h0M630.9 333.9h0M631.1 323.4h0M631.3 333.9h0M631.5 333.9h0M631.7 331.4h0M631.9 333.9h0M632.1 337h0M632.3 329.2h0M632.5 326.4h0M632.7 333.9h0M632.9 328.2h0M633.1 325.6h0M633.3 333.9h0M633.5 326.4h0M633.7 331.4h0M633.9 329.2h0M634.1 324.1h0M634.3 333.9h0M634.5 325.6h0M634.7 333.9h0M634.9 328.2h0M635.1 333.9h0M635.3 333.9h0M635.5 335.4h0M635.7 330.3h0M635.9 335.4h0M636.1 331.4h0M636.3 326.4h0M636.5 338.8h0M636.7 328.2h0M636.9 329.2h0M637.1 328.2h0M637.3 335.4h0M637.5 331.4h0M637.7 330.3h0M637.9 321.4h0M638.1 330.3h0M638.3 332.6h0M638.5 335.4h0M638.7 329.2h0M638.9 332.6h0M639.1 343.2h0M639.2 333.9h0M639.4 337h0M639.6 335.4h0M639.8 332.6h0M640 329.2h0M640.2 337h0M640.4 324.8h0M640.6 337h0M640.8 331.4h0M641 330.3h0M641.2 337h0M641.4 332.6h0M641.6 333.9h0M641.8 328.2h0M642 331.4h0M642.2 330.3h0M642.4 340.8h0M642.6 338.8h0M642.8 343.2h0M643 335.4h0M643.2 323.4h0M643.4 333.9h0M643.6 333.9h0M643.8 327.3h0M644 333.9h0M644.2 335.4h0M644.4 337h0M644.6 327.3h0M644.8 329.2h0M645 338.8h0M645.2 333.9h0M645.4 330.3h0M645.6 328.2h0M645.8 331.4h0M646 335.4h0M646.2 328.2h0M646.4 328.2h0M646.6 337h0M646.8 331.4h0M647 333.9h0M647.2 338.8h0M647.4 330.3h0M647.6 329.2h0M647.8 335.4h0M648 333.9h0M648.2 343.2h0M648.4 335.4h0M648.6 338.8h0M648.8 326.4h0M649 333.9h0M649.2 337h0M649.4 329.2h0M649.6 338.8h0M649.8 331.4h0M650 333.9h0M650.2 340.8h0M650.4 335.4h0M650.5 332.6h0M650.7 338.8h0M650.9 331.4h0M651.1 332.6h0M651.3 343.2h0M651.5 330.3h0M651.7 331.4h0M651.9 335.4h0M652.1 335.4h0M652.3 331.4h0M652.5 333.9h0M652.7 340.8h0M652.9 328.2h0M653.1 332.6h0M653.3 338.8h0M653.5 335.4h0M653.7 335.4h0M653.9 340.8h0M654.1 338.8h0M654.3 340.8h0M654.5 331.4h0M654.7 333.9h0M654.9 337h0M655.1 340.8h0M655.3 338.8h0M655.5 333.9h0M655.7 332.6h0M655.9 343.2h0M656.1 333.9h0M656.3 340.8h0M656.5 335.4h0M656.7 337h0M656.9 331.4h0M657.1 343.2h0M657.3 333.9h0M657.5 330.3h0M657.7 331.4h0M657.9 330.3h0M658.1 327.3h0M658.3 338.8h0M658.5 335.4h0M658.7 335.4h0M658.9 337h0M659.1 337h0M659.3 331.4h0M659.5 329.2h0M659.7 338.8h0M659.9 340.8h0M660.1 337h0M660.3 346h0M660.5 335.4h0M660.7 333.9h0M660.9 329.2h0M661.1 338.8h0M661.3 328.2h0M661.5 337h0M661.7 340.8h0M661.8 337h0M662 331.4h0M662.2 343.2h0M662.4 331.4h0M662.6 340.8h0M662.8 337h0M663 338.8h0M663.2 330.3h0M663.4 328.2h0M663.6 335.4h0M663.8 335.4h0M664 332.6h0M664.2 335.4h0M664.4 332.6h0M664.6 340.8h0M664.8 326.4h0M665 340.8h0M665.2 337h0M665.4 335.4h0M665.6 327.3h0M665.8 335.4h0M666 333.9h0M666.2 332.6h0M666.4 335.4h0M666.6 337h0M666.8 340.8h0M667 330.3h0M667.2 327.3h0M667.4 331.4h0M667.6 333.9h0M667.8 332.6h0M668 330.3h0M668.2 332.6h0M668.4 332.6h0M668.6 340.8h0M668.8 326.4h0M669 332.6h0M669.2 331.4h0M669.4 337h0M669.6 335.4h0M669.8 335.4h0M670 333.9h0M670.2 333.9h0M670.4 333.9h0M670.6 337h0M670.8 335.4h0M671 337h0M671.2 329.2h0M671.4 332.6h0M671.6 329.2h0M671.8 331.4h0M672 330.3h0M672.2 333.9h0M672.4 332.6h0M672.6 332.6h0M672.8 340.8h0M673 337h0M673.1 338.8h0M673.3 337h0M673.5 338.8h0M673.7 331.4h0M673.9 330.3h0M674.1 330.3h0M674.3 337h0M674.5 337h0M674.7 323.4h0M674.9 326.4h0M675.1 340.8h0M675.3 331.4h0M675.5 333.9h0M675.7 343.2h0M675.9 346h0M676.1 330.3h0M676.3 333.9h0M676.5 333.9h0M676.7 332.6h0M676.9 337h0M677.1 330.3h0M677.3 337h0M677.5 333.9h0M677.7 329.2h0M677.9 331.4h0M678.1 337h0" stroke="#d8231e" stroke-width="1.3" stroke-linecap="round" fill="none"/><path d="M499.5 339.1h0M499.5 334.4h0M499.2 326.2h0M499.4 314.6h0M500 307.5h0M500.1 296.2h0M500 288.2h0M499.7 278.6h0M499.8 269h0M500.1 264.2h0M500.4 253.4h0M500.2 244.5h0M501.3 234.2h0M501.4 224.5h0M502.2 220.6h0M502.4 212.7h0M495.4 343.2h0M496 346h0M496.2 343.2h0M496.4 340.8h0M496.6 338.8h0M496.8 343.2h0M497.4 343.2h0M497.6 343.2h0M497.8 338.8h0M498.2 340.8h0M498.8 346h0M499 340.8h0M503.3 205.9h0M503.5 206.5h0M503.7 207h0M503.9 207.4h0M504.1 207.9h0M504.3 208.4h0M504.5 209h0M504.7 209.4h0M504.9 209.9h0M505.1 210.4h0M505.3 211h0M505.5 211.3h0M505.7 211.8h0M505.9 212.3h0M506.1 212.6h0M506.3 213.1h0M506.5 213.7h0M506.7 214.1h0M506.9 214.5h0M507.1 214.9h0M507.3 215.5h0M507.5 215.8h0M507.7 216.3h0M507.9 216.7h0M508.1 217.1h0M508.3 217.5h0M508.5 218h0M508.7 218.1h0M508.9 218.6h0M509.1 219h0M509.3 219.6h0M509.5 219.8h0M509.7 220h0M509.9 220.5h0M510.1 221h0M510.3 221.3h0M510.5 221.4h0M510.7 222h0M510.9 222.2h0M511.1 222.6h0M511.3 222.9h0M511.5 223.2h0M511.6 223.5h0M511.8 224.1h0M512 224.1h0M512.2 224.6h0M512.4 224.9h0M512.6 225.4h0M512.8 225.7h0M513 226h0M513.2 226.2h0M513.4 226.4h0M513.6 227.1h0M513.8 227.3h0M514 227.4h0M514.2 227.7h0M514.4 228.3h0M514.6 228.7h0M514.8 228.9h0M515 229.3h0M515.2 229.6h0M515.4 230h0M515.6 230.2h0M515.8 230.8h0M516 231.2h0M516.2 231.6h0M516.4 231.7h0M516.6 232.2h0M516.8 232.4h0M517 232.5h0M517.2 233h0M517.4 233.3h0M517.6 233.5h0M517.8 234.2h0M518 234.4h0M518.2 234.5h0M518.4 235h0M518.6 235.4h0M518.8 235.7h0M519 236.1h0M519.2 236.5h0M519.4 236.9h0M519.6 236.7h0M519.8 237.3h0M520 237.8h0M520.2 237.9h0M520.4 238.1h0M520.6 238.5h0M520.8 239h0M521 239.1h0M521.2 239.2h0M521.4 239.9h0M521.6 239.3h0M521.8 239.6h0M522 240.2h0M522.2 241h0M522.4 240.7h0M522.6 241.5h0M522.8 241.3h0M522.9 241.6h0M523.1 242.3h0M523.3 242.3h0M523.5 242.4h0M523.7 243.1h0M523.9 243.3h0M524.1 243.2h0M524.3 243.9h0M524.5 244.2h0M524.7 244.2h0M524.9 244.5h0M525.1 244.7h0M525.3 244.9h0M525.5 245.7h0M525.7 245.1h0M525.9 245.9h0M526.1 246.3h0M526.3 245.9h0M526.5 246.7h0M526.7 246.9h0M526.9 247h0M527.1 247.9h0M527.3 247.7h0M527.5 247.8h0M527.7 248.1h0M527.9 248.3h0M528.1 248.7h0M528.3 248.7h0M528.5 249.6h0M528.7 249.8h0M528.9 249.6h0M529.1 249.8h0M529.3 250.1h0M529.5 250.4h0M529.7 251.1h0M529.9 250.9h0M530.1 251.7h0M530.3 251.9h0M530.5 251.5h0M530.7 251.6h0M530.9 252.7h0M531.1 252.4h0M531.3 253.1h0M531.5 253.2h0M531.7 253.5h0M531.9 254h0M532.1 253.5h0M532.3 253.8h0M532.5 254.6h0M532.7 254.8h0M532.9 254.2h0M533.1 255.3h0M533.3 255.5h0M533.5 255h0M533.7 255.6h0M533.9 255.1h0M534.1 255.6h0M534.3 256.5h0M534.4 257.2h0M534.6 256.6h0M534.8 256.9h0M535 256.4h0M535.2 257.6h0M535.4 257.2h0M535.6 257.5h0M535.8 257.8h0M536 258.3h0M536.2 257.6h0M536.4 258.4h0M536.6 259.3h0M536.8 259.2h0M537 259.2h0M537.2 259.7h0M537.4 260.3h0M537.6 259.1h0M537.8 259.7h0M538 260h0M538.2 260.9h0M538.4 260.7h0M538.6 260.4h0M538.8 261.3h0M539 261.4h0M539.2 261.9h0M539.4 261.5h0M539.6 261.6h0M539.8 263.1h0M540 262.4h0M540.2 262.8h0M540.4 263.3h0M540.6 263.1h0M540.8 264.2h0M541 263.6h0M541.2 263.7h0M541.4 263.1h0M541.6 265.1h0M541.8 265.4h0M542 264.5h0M542.2 265.6h0M542.4 264.7h0M542.6 265.6h0M542.8 266.5h0M543 265.9h0M543.2 266.2h0M543.4 267h0M543.6 266.6h0M543.8 267h0M544 266.6h0M544.2 267.2h0M544.4 267.8h0M544.6 267.9h0M544.8 267.5h0M545 267.4h0M545.2 267.5h0M545.4 268h0M545.6 268.5h0M545.7 268.4h0M545.9 268.2h0M546.1 268.3h0M546.3 269.5h0M546.5 269.5h0M546.7 269.7h0M546.9 270h0M547.1 270.3h0M547.3 270.2h0M547.5 270.8h0M547.7 270.6h0M547.9 271.2h0M548.1 271.1h0M548.3 271.4h0M548.5 270.7h0M548.7 271.7h0M548.9 271.9h0M549.1 272.8h0M549.3 272.2h0M549.5 273.2h0M549.7 271.8h0M549.9 273.6h0M550.1 272.3h0M550.3 273h0M550.5 273.7h0M550.7 273.8h0M550.9 273.6h0M551.1 273.4h0M551.3 274.5h0M551.5 274.5h0M551.7 275.9h0M551.9 274.4h0M552.1 275.2h0M552.3 275.5h0M552.5 274.2h0M552.7 274.6h0M552.9 275.3h0M553.1 275.4h0M553.3 275.8h0M553.5 276.3h0M553.7 275.7h0M553.9 277h0M554.1 276.8h0M554.3 276.1h0M554.5 276.9h0M554.7 276.3h0M554.9 278.3h0M555.1 277h0M555.3 278.1h0M555.5 278.1h0M555.7 278.2h0M555.9 278h0M556.1 277.6h0M556.3 279.8h0M556.5 278.7h0M556.7 278.6h0M556.9 279.3h0M557 279.2h0M557.2 279.6h0M557.4 280.3h0M557.6 279.9h0M557.8 279.3h0M558 279.5h0M558.2 282.6h0M558.4 280.6h0M558.6 280.5h0M558.8 280.8h0M559 280h0M559.2 281.3h0M559.4 282.7h0M559.6 282.5h0M559.8 281.6h0M560 281.6h0M560.2 283.9h0M560.4 280.7h0M560.6 282.4h0M560.8 283.3h0M561 282.1h0M561.2 284.9h0M561.4 283.9h0M561.6 282.2h0M561.8 283.2h0M562 285.3h0M562.2 283.5h0M562.4 284.5h0M562.6 284.2h0M562.8 284.7h0M563 286.4h0M563.2 284.7h0M563.4 286.1h0M563.6 287.1h0M563.8 285h0M564 285.5h0M564.2 284h0M564.4 285.2h0M564.6 285.1h0M564.8 287.3h0M565 285.5h0M565.2 288.3h0M565.4 287.8h0M565.6 288.5h0M565.8 288.2h0M566 286.8h0M566.2 286.1h0M566.4 288.5h0M566.6 287.2h0M566.8 289.3h0M567 290.5h0M567.2 288.4h0M567.4 287.1h0M567.6 288.4h0M567.8 288h0M568 289.6h0M568.2 291.8h0M568.3 290.7h0M568.5 287.9h0M568.7 290.8h0M568.9 290.9h0M569.1 290.2h0M569.3 293.2h0M569.5 290.3h0M569.7 291.9h0M569.9 288.7h0M570.1 292.6h0M570.3 290.9h0M570.5 290.7h0M570.7 291.1h0M570.9 293.6h0M571.1 291.9h0M571.3 293h0M571.5 292.3h0M571.7 293h0M571.9 292.5h0M572.1 292.3h0M572.3 296h0M572.5 292.6h0M572.7 291.8h0M572.9 293.4h0M573.1 293.1h0M573.3 294.1h0M573.5 294.7h0M573.7 294.2h0M573.9 296.2h0M574.1 295.9h0M574.3 295.8h0M574.5 295h0M574.7 294.8h0M574.9 295.3h0M575.1 295.9h0M575.3 297.6h0M575.5 297.9h0M575.7 296.8h0M575.9 296.2h0M576.1 298.5h0M576.3 298.1h0M576.5 297.4h0M576.7 296.1h0M576.9 298.7h0M577.1 298.2h0M577.3 296.7h0M577.5 299.3h0M577.7 299.7h0M577.9 299.7h0M578.1 296.8h0M578.3 299.3h0M578.5 299.7h0M578.7 301.1h0M578.9 299.2h0M579.1 299.4h0M579.3 300.2h0M579.5 297.9h0M579.6 301.3h0M579.8 302.1h0M580 300.8h0M580.2 302.5h0M580.4 301.6h0M580.6 298.1h0M580.8 301h0M581 301.1h0M581.2 302.1h0M581.4 302.8h0M581.6 302.6h0M581.8 303.2h0M582 304.5h0M582.2 299.4h0M582.4 303.5h0M582.6 300.3h0M582.8 304.9h0M583 305.1h0M583.2 304.5h0M583.4 306.2h0M583.6 303.5h0M583.8 303.9h0M584 304.5h0M584.2 304.3h0M584.4 310.9h0M584.6 303.9h0M584.8 308.4h0M585 306h0M585.2 304.7h0M585.4 306.4h0M585.6 309.4h0M585.8 304.7h0M586 310h0M586.2 304.9h0M586.4 306.4h0M586.6 309.7h0M586.8 302.3h0M587 308.6h0M587.2 309.2h0M587.4 307.9h0M587.6 306.4h0M587.8 308.6h0M588 308.6h0M588.2 312.2h0M588.4 308.4h0M588.6 306.2h0M588.8 309.7h0M589 314.3h0M589.2 310h0M589.4 308.1h0M589.6 311.2h0M589.8 310.6h0M590 305.8h0M590.2 310.9h0M590.4 305.8h0M590.6 311.8h0M590.8 310.3h0M590.9 308.4h0M591.1 310.3h0M591.3 309.7h0M591.5 312.2h0M591.7 311.5h0M591.9 312.8h0M592.1 311.2h0M592.3 309.2h0M592.5 308.6h0M592.7 310.6h0M592.9 316.8h0M593.1 313.9h0M593.3 314.7h0M593.5 310.3h0M593.7 315.9h0M593.9 315.9h0M594.1 312.8h0M594.3 312.8h0M594.5 311.5h0M594.7 309.4h0M594.9 314.7h0M595.1 310.9h0M595.3 313.2h0M595.5 318.2h0M595.7 313.9h0M595.9 319.7h0M596.1 312.2h0M596.3 320.3h0M596.5 318.2h0M596.7 312.2h0M596.9 311.5h0M597.1 318.7h0M597.3 315.9h0M597.5 318.7h0M597.7 322.1h0M597.9 316.8h0M598.1 316.8h0M598.3 317.7h0M598.5 317.2h0M598.7 318.2h0M598.9 311.5h0M599.1 320.8h0M599.3 315.9h0M599.5 315.5h0M599.7 318.2h0M599.9 315.1h0M600.1 311.5h0M600.3 315.9h0M600.5 315.9h0M600.7 319.2h0M600.9 312.5h0M601.1 315.9h0M601.3 320.3h0M601.5 315.9h0M601.7 321.4h0M601.9 313.2h0M602.1 318.2h0M602.2 317.7h0M602.4 314.7h0M602.6 323.4h0M602.8 324.1h0M603 316.8h0M603.2 321.4h0M603.4 322.1h0M603.6 322.1h0M603.8 325.6h0M604 322.7h0M604.2 318.2h0M604.4 318.7h0M604.6 317.7h0M604.8 321.4h0M605 321.4h0M605.2 318.7h0M605.4 319.7h0M605.6 322.1h0M605.8 322.1h0M606 322.1h0M606.2 321.4h0M606.4 318.7h0M606.6 318.2h0M606.8 318.7h0M607 321.4h0M607.2 321.4h0M607.4 317.2h0M607.6 318.2h0M607.8 320.8h0M608 322.1h0M608.2 319.7h0M608.4 322.1h0M608.6 326.4h0M608.8 320.3h0M609 324.8h0M609.2 322.1h0M609.4 317.2h0M609.6 322.7h0M609.8 323.4h0M610 325.6h0M610.2 323.4h0M610.4 329.2h0M610.6 318.2h0M610.8 324.8h0M611 322.7h0M611.2 328.2h0M611.4 321.4h0M611.6 324.1h0M611.8 321.4h0M612 320.3h0M612.2 326.4h0M612.4 323.4h0M612.6 324.1h0M612.8 328.2h0M613 324.8h0M613.2 324.1h0M613.4 322.1h0M613.6 323.4h0M613.7 324.1h0M613.9 328.2h0M614.1 324.8h0M614.3 328.2h0M614.5 337h0M614.7 326.4h0M614.9 323.4h0M615.1 324.1h0M615.3 326.4h0M615.5 329.2h0M615.7 322.7h0M615.9 331.4h0M616.1 330.3h0M616.3 327.3h0M616.5 328.2h0M616.7 327.3h0M616.9 326.4h0M617.1 329.2h0M617.3 326.4h0M617.5 331.4h0M617.7 337h0M617.9 327.3h0M618.1 325.6h0M618.3 331.4h0M618.5 325.6h0M618.7 327.3h0M618.9 329.2h0M619.1 323.4h0M619.3 338.8h0M619.5 324.1h0M619.7 329.2h0M619.9 327.3h0M620.1 333.9h0M620.3 320.8h0M620.5 322.7h0M620.7 326.4h0M620.9 319.7h0M621.1 333.9h0M621.3 328.2h0M621.5 324.8h0M621.7 325.6h0M621.9 324.1h0M622.1 324.1h0M622.3 330.3h0M622.5 330.3h0M622.7 323.4h0M622.9 333.9h0M623.1 326.4h0M623.3 327.3h0M623.5 329.2h0M623.7 326.4h0M623.9 330.3h0M624.1 325.6h0M624.3 329.2h0M624.5 325.6h0M624.7 325.6h0M624.9 332.6h0M625 326.4h0M625.2 325.6h0M625.4 328.2h0M625.6 324.8h0M625.8 330.3h0M626 328.2h0M626.2 322.7h0M626.4 329.2h0M626.6 333.9h0M626.8 331.4h0M627 320.8h0M627.2 328.2h0M627.4 337h0M627.6 327.3h0M627.8 325.6h0M628 323.4h0M628.2 333.9h0M628.4 322.1h0M628.6 330.3h0M628.8 331.4h0M629 330.3h0M629.2 331.4h0M629.4 329.2h0M629.6 327.3h0M629.8 329.2h0M630 335.4h0M630.2 327.3h0M630.4 332.6h0M630.6 337h0M630.8 330.3h0M631 332.6h0M631.2 332.6h0M631.4 332.6h0M631.6 331.4h0M631.8 331.4h0M632 326.4h0M632.2 333.9h0M632.4 324.8h0M632.6 331.4h0M632.8 330.3h0M633 329.2h0M633.2 326.4h0M633.4 333.9h0M633.6 327.3h0M633.8 333.9h0M634 323.4h0M634.2 331.4h0M634.4 327.3h0M634.6 340.8h0M634.8 325.6h0M635 329.2h0M635.2 329.2h0M635.4 329.2h0M635.6 327.3h0M635.8 332.6h0M636 327.3h0M636.2 335.4h0M636.3 332.6h0M636.5 325.6h0M636.7 337h0M636.9 325.6h0M637.1 326.4h0M637.3 330.3h0M637.5 332.6h0M637.7 331.4h0M637.9 338.8h0M638.1 325.6h0M638.3 328.2h0M638.5 332.6h0M638.7 332.6h0M638.9 333.9h0M639.1 325.6h0M639.3 329.2h0M639.5 346h0M639.7 338.8h0M639.9 330.3h0M640.1 331.4h0M640.3 329.2h0M640.5 338.8h0M640.7 331.4h0M640.9 326.4h0M641.1 338.8h0M641.3 324.8h0M641.5 333.9h0M641.7 333.9h0M641.9 337h0M642.1 328.2h0M642.3 335.4h0M642.5 330.3h0M642.7 331.4h0M642.9 333.9h0M643.1 327.3h0M643.3 328.2h0M643.5 335.4h0M643.7 333.9h0M643.9 333.9h0M644.1 335.4h0M644.3 337h0M644.5 337h0M644.7 338.8h0M644.9 332.6h0M645.1 337h0M645.3 333.9h0M645.5 331.4h0M645.7 329.2h0M645.9 343.2h0M646.1 335.4h0M646.3 335.4h0M646.5 343.2h0M646.7 337h0M646.9 337h0M647.1 331.4h0M647.3 329.2h0M647.5 327.3h0M647.6 327.3h0M647.8 333.9h0M648 331.4h0M648.2 332.6h0M648.4 335.4h0M648.6 332.6h0M648.8 332.6h0M649 325.6h0M649.2 331.4h0M649.4 340.8h0M649.6 333.9h0M650 331.4h0M650.2 335.4h0M650.4 340.8h0M650.6 338.8h0M650.8 338.8h0M651 327.3h0M651.2 332.6h0M651.4 331.4h0M651.6 333.9h0M651.8 332.6h0M652 330.3h0M652.2 331.4h0M652.4 333.9h0M652.6 332.6h0M652.8 330.3h0M653 338.8h0M653.2 346h0M653.4 331.4h0M653.6 330.3h0M653.8 327.3h0M654 333.9h0M654.2 329.2h0M654.4 338.8h0M654.6 337h0M654.8 335.4h0M655 328.2h0M655.2 324.8h0M655.4 327.3h0M655.6 338.8h0M655.8 327.3h0M656 337h0M656.2 335.4h0M656.4 332.6h0M656.6 343.2h0M656.8 340.8h0M657 338.8h0M657.2 337h0M657.4 338.8h0M657.6 331.4h0M657.8 329.2h0M658 346h0M658.2 332.6h0M658.4 338.8h0M658.6 335.4h0M658.8 343.2h0M658.9 333.9h0M659.1 338.8h0M659.3 335.4h0M659.5 335.4h0M659.7 324.8h0M659.9 335.4h0M660.1 325.6h0M660.3 332.6h0M660.5 330.3h0M660.7 332.6h0M660.9 329.2h0M661.1 330.3h0M661.3 338.8h0M661.5 333.9h0M661.7 332.6h0M662.1 327.3h0M662.3 330.3h0M662.5 338.8h0M662.7 332.6h0M662.9 340.8h0M663.1 346h0M663.3 332.6h0M663.7 333.9h0M663.9 327.3h0M664.1 329.2h0M664.3 326.4h0M664.5 335.4h0M664.7 331.4h0M664.9 338.8h0M665.1 335.4h0M665.3 329.2h0M665.5 330.3h0M665.7 337h0M665.9 333.9h0M666.1 324.1h0M666.3 333.9h0M666.5 332.6h0M666.7 335.4h0M667.1 331.4h0M667.3 335.4h0M667.5 332.6h0M667.7 335.4h0M667.9 332.6h0M668.1 335.4h0M668.3 340.8h0M668.5 332.6h0M668.7 335.4h0M668.9 328.2h0M669.1 330.3h0M669.3 330.3h0M669.5 328.2h0M669.7 332.6h0M669.9 330.3h0M670.1 331.4h0M670.2 337h0M670.4 337h0M670.6 338.8h0M670.8 335.4h0M671 326.4h0M671.2 331.4h0M671.4 343.2h0M671.6 332.6h0M671.8 338.8h0M672 338.8h0M672.2 325.6h0M672.4 333.9h0M672.6 330.3h0M672.8 335.4h0M673 332.6h0M673.2 333.9h0M673.4 330.3h0M673.6 330.3h0M673.8 335.4h0M674 340.8h0M674.2 332.6h0M674.4 340.8h0M674.6 325.6h0M674.8 329.2h0M675 333.9h0M675.2 328.2h0M675.4 340.8h0M675.6 333.9h0M675.8 330.3h0M676 329.2h0M676.2 335.4h0M676.4 335.4h0M676.6 335.4h0M676.8 332.6h0M677 331.4h0M677.2 332.6h0M677.4 335.4h0M677.6 337h0M677.8 329.2h0M678 329.2h0M678.2 332.6h0" stroke="#5cbc44" stroke-width="1.3" stroke-linecap="round" fill="none"/><path d="M499.8 343.5h0M499.9 330.8h0M499.3 322h0M499.7 316h0M499.7 310.2h0M499.6 301.2h0M499.8 290.4h0M499.5 281h0M500.2 274.2h0M500 265.9h0M499.9 253.9h0M500.9 246.2h0M500.7 233.8h0M501.5 224.8h0M501.7 218.2h0M503 209.8h0M495.3 343.2h0M495.5 346h0M495.7 338.8h0M496.5 337h0M497.3 346h0M497.5 337h0M498.2 343.2h0M498.4 346h0M499 343.2h0M503.2 205.7h0M503.4 206.3h0M503.6 206.8h0M503.8 207.4h0M504 207.7h0M504.2 208.3h0M504.4 208.8h0M504.6 209.1h0M504.8 209.8h0M505 210.2h0M505.2 210.5h0M505.4 211h0M505.6 211.6h0M505.8 212.1h0M506 212.5h0M506.2 212.9h0M506.4 213.4h0M506.6 213.8h0M506.8 214.4h0M507 214.8h0M507.2 215.1h0M507.4 215.5h0M507.6 216.2h0M507.8 216.5h0M508 216.9h0M508.2 217.3h0M508.4 217.9h0M508.6 218h0M508.8 218.7h0M509 219h0M509.1 219.4h0M509.3 219.7h0M509.5 220.2h0M509.7 220.5h0M509.9 220.7h0M510.1 221.1h0M510.3 221.5h0M510.5 221.8h0M510.7 222.1h0M510.9 222.6h0M511.1 222.9h0M511.3 223.2h0M511.5 223.6h0M511.7 224.1h0M511.9 224.4h0M512.1 224.4h0M512.3 224.9h0M512.5 225.2h0M512.7 225.4h0M512.9 226h0M513.1 226.1h0M513.3 226.5h0M513.5 226.7h0M513.7 227.5h0M513.9 227.6h0M514.1 228h0M514.3 228.2h0M514.5 228.7h0M514.7 229.2h0M514.9 229.4h0M515.1 229.9h0M515.3 230.2h0M515.5 230.4h0M515.7 231h0M515.9 231.2h0M516.1 231.7h0M516.3 231.9h0M516.5 232.2h0M516.7 232.2h0M516.9 232.8h0M517.1 233h0M517.3 233.7h0M517.5 234h0M517.7 234.2h0M517.9 235h0M518.1 235.1h0M518.3 235.1h0M518.5 235.9h0M518.7 236h0M518.9 236.2h0M519.1 236.8h0M519.3 236.9h0M519.5 237.3h0M519.7 237.5h0M519.9 237.9h0M520.1 238.3h0M520.3 238.4h0M520.4 238.5h0M520.6 239h0M520.8 239.4h0M521 239.2h0M521.2 239.8h0M521.4 240h0M521.6 240h0M521.8 240.5h0M522 241h0M522.2 241.5h0M522.4 241.5h0M522.6 241.3h0M522.8 242.4h0M523 242h0M523.2 242.5h0M523.4 242.8h0M523.6 243.4h0M523.8 243.4h0M524 243.1h0M524.2 243.8h0M524.4 244.2h0M524.6 244.2h0M524.8 245.1h0M525 244.7h0M525.2 244.8h0M525.4 245.3h0M525.6 245.7h0M525.8 246h0M526 246.8h0M526.2 246.7h0M526.4 247.3h0M526.6 247.2h0M526.8 247.5h0M527 247.6h0M527.2 248h0M527.4 248.3h0M527.6 248.4h0M527.8 248.7h0M528 249.4h0M528.2 249.6h0M528.4 249.5h0M528.6 249.5h0M528.8 249.7h0M529 250.5h0M529.2 250.5h0M529.4 250.8h0M529.6 250.5h0M529.8 251.5h0M530 251.4h0M530.2 252h0M530.4 252.3h0M530.6 252.7h0M530.8 253.1h0M531 252.8h0M531.2 252.7h0M531.4 252.7h0M531.6 253.5h0M531.7 253.6h0M531.9 254.1h0M532.1 254.4h0M532.3 254.4h0M532.5 254.6h0M532.7 254.8h0M532.9 255.7h0M533.1 255.1h0M533.3 255.9h0M533.5 255.7h0M533.7 255.9h0M533.9 256.2h0M534.1 256.7h0M534.3 256.6h0M534.5 256.8h0M534.7 256.9h0M534.9 256.9h0M535.1 257.7h0M535.3 258.1h0M535.5 257.6h0M535.7 258h0M535.9 258.4h0M536.1 259h0M536.3 258.5h0M536.5 258.9h0M536.7 259.5h0M536.9 259.8h0M537.1 259.4h0M537.3 260h0M537.5 260h0M537.7 260.1h0M537.9 260.7h0M538.1 260.8h0M538.3 261.1h0M538.5 261.1h0M538.7 262.2h0M538.9 261.4h0M539.1 262.2h0M539.3 262.2h0M539.5 262.7h0M539.7 263.1h0M539.9 262.5h0M540.1 263.2h0M540.3 262.8h0M540.5 263.4h0M540.7 262.8h0M540.9 263.9h0M541.1 264.6h0M541.3 264.6h0M541.5 264h0M541.7 265.2h0M541.9 265.2h0M542.1 264.7h0M542.3 264.8h0M542.5 266h0M542.7 266.6h0M542.9 265.5h0M543.1 266.6h0M543.2 266.6h0M543.4 267.8h0M543.6 266.5h0M543.8 267.1h0M544 267.8h0M544.2 267.2h0M544.4 267h0M544.6 267.1h0M544.8 267.7h0M545 268.4h0M545.2 268.7h0M545.4 268.7h0M545.6 269.9h0M545.8 270.2h0M546 269.3h0M546.2 270h0M546.4 269.6h0M546.6 268.9h0M546.8 269.5h0M547 270.7h0M547.2 271.2h0M547.4 270.5h0M547.6 271.6h0M547.8 270.6h0M548 270.4h0M548.2 271.7h0M548.4 271.2h0M548.6 272h0M548.8 272.1h0M549 271.4h0M549.2 272.7h0M549.4 271.3h0M549.6 272.9h0M549.8 273.9h0M550 273.9h0M550.2 274.2h0M550.4 273.5h0M550.6 273.6h0M550.8 273.6h0M551 274.2h0M551.2 274.2h0M551.4 274.3h0M551.6 274.3h0M551.8 274h0M552 274.1h0M552.2 274.7h0M552.4 277.3h0M552.6 276.1h0M552.8 274.9h0M553 275.9h0M553.2 275.9h0M553.4 276.7h0M553.6 277.4h0M553.8 276.2h0M554 276.5h0M554.2 276.1h0M554.4 278.1h0M554.5 276.5h0M554.7 277.8h0M554.9 279.5h0M555.1 276.6h0M555.3 277.9h0M555.5 279h0M555.7 277.6h0M555.9 279h0M556.1 279.8h0M556.3 281.2h0M556.5 278.8h0M556.7 279.6h0M556.9 279.6h0M557.1 280.6h0M557.3 280.2h0M557.5 280.3h0M557.7 280.8h0M557.9 281.2h0M558.1 281.4h0M558.3 280.2h0M558.5 282h0M558.7 283.1h0M558.9 283.7h0M559.1 281.5h0M559.3 281.3h0M559.5 282.1h0M559.7 282.6h0M559.9 283.4h0M560.1 283.2h0M560.3 283h0M560.5 283.9h0M560.7 284.5h0M560.9 282.5h0M561.1 284h0M561.3 283.5h0M561.5 284.5h0M561.7 284.9h0M561.9 284.2h0M562.1 285.1h0M562.3 286.9h0M562.5 284h0M562.7 284.9h0M562.9 286.3h0M563.1 287.1h0M563.3 285.3h0M563.5 286h0M563.7 287.3h0M563.9 286h0M564.1 286h0M564.3 285h0M564.5 286.1h0M564.7 285.8h0M564.9 286.8h0M565.1 288h0M565.3 287.1h0M565.5 286.7h0M565.7 289.2h0M565.8 287.8h0M566 288.5h0M566.2 288.4h0M566.4 287.1h0M566.6 289.4h0M566.8 290.6h0M567 290.6h0M567.2 290.5h0M567.4 289.5h0M567.6 289.5h0M567.8 290.5h0M568 291.7h0M568.2 291.8h0M568.4 291h0M568.6 290.6h0M568.8 290.3h0M569 292.4h0M569.2 289.3h0M569.4 292.2h0M569.6 294.2h0M569.8 292.7h0M570 291.8h0M570.2 292.1h0M570.4 292.5h0M570.6 292.8h0M570.8 293.5h0M571 295.4h0M571.2 292.3h0M571.4 294.1h0M571.6 292.4h0M571.8 291.2h0M572 294.3h0M572.2 295.4h0M572.4 294h0M572.6 296.2h0M572.8 295.2h0M573 293.7h0M573.2 295.3h0M573.4 294.9h0M573.6 295.2h0M573.8 296.5h0M574 297.4h0M574.2 295h0M574.4 297.6h0M574.6 296.5h0M574.8 297.2h0M575 297.6h0M575.2 297.4h0M575.4 297.3h0M575.6 296.8h0M575.8 299.9h0M576 299.3h0M576.2 297.4h0M576.4 296.6h0M576.6 299.2h0M576.8 298.3h0M577 296.2h0M577.1 300h0M577.3 300.5h0M577.5 295.9h0M577.7 301.4h0M577.9 301h0M578.1 298.3h0M578.3 300.6h0M578.5 299.2h0M578.7 298.7h0M578.9 299.2h0M579.1 299.6h0M579.3 299.7h0M579.5 298.3h0M579.7 300.5h0M579.9 298.7h0M580.1 301.6h0M580.3 301.4h0M580.5 299.7h0M580.7 299h0M580.9 304.9h0M581.1 299.9h0M581.3 302.6h0M581.5 304.7h0M581.7 302.5h0M581.9 302.1h0M582.1 304.9h0M582.3 301.1h0M582.5 306.4h0M582.7 304.7h0M582.9 303.7h0M583.1 301.6h0M583.3 303.9h0M583.5 302.8h0M583.7 302.8h0M583.9 303.7h0M584.1 304.5h0M584.3 305.3h0M584.5 301h0M584.7 302.1h0M584.9 304.3h0M585.1 304.3h0M585.3 304.5h0M585.5 305.8h0M585.7 308.1h0M585.9 307.6h0M586.1 307.6h0M586.3 308.4h0M586.5 302.1h0M586.7 306.7h0M586.9 309.7h0M587.1 304.7h0M587.3 311.5h0M587.5 304.5h0M587.7 308.6h0M587.9 306.4h0M588.1 308.1h0M588.3 313.9h0M588.4 309.7h0M588.6 307.4h0M588.8 308.6h0M589 305.8h0M589.2 305.3h0M589.4 304.9h0M589.6 305.8h0M589.8 316.3h0M590 306.7h0M590.2 306.7h0M590.4 304.9h0M590.6 310.6h0M590.8 308.4h0M591 310.6h0M591.2 308.4h0M591.4 310.6h0M591.6 309.4h0M591.8 313.2h0M592 312.8h0M592.2 314.3h0M592.4 310.3h0M592.6 311.8h0M592.8 307.4h0M593 313.9h0M593.2 310h0M593.4 312.2h0M593.6 311.2h0M593.8 309.4h0M594 308.1h0M594.2 315.9h0M594.4 313.5h0M594.6 321.4h0M594.8 318.7h0M595 311.2h0M595.2 312.2h0M595.4 321.4h0M595.6 316.3h0M595.8 313.5h0M596 312.8h0M596.2 320.3h0M596.4 315.5h0M596.6 316.8h0M596.8 312.8h0M597 316.3h0M597.2 313.9h0M597.4 313.9h0M597.6 323.4h0M597.8 315.9h0M598 315.5h0M598.2 317.2h0M598.4 319.7h0M598.6 313.9h0M598.8 315.5h0M599 317.2h0M599.2 315.5h0M599.4 315.9h0M599.6 316.8h0M599.7 317.2h0M599.9 315.1h0M600.1 319.7h0M600.3 313.2h0M600.5 320.3h0M600.7 315.1h0M600.9 320.8h0M601.1 319.7h0M601.3 315.9h0M601.5 320.8h0M601.7 320.3h0M601.9 318.7h0M602.1 318.7h0M602.3 315.9h0M602.5 317.7h0M602.7 316.3h0M602.9 321.4h0M603.1 317.7h0M603.3 324.1h0M603.5 317.2h0M603.7 326.4h0M603.9 320.8h0M604.1 321.4h0M604.3 318.2h0M604.5 324.1h0M604.7 323.4h0M604.9 317.2h0M605.1 324.1h0M605.3 332.6h0M605.5 320.3h0M605.7 322.1h0M605.9 322.1h0M606.1 331.4h0M606.3 323.4h0M606.5 320.8h0M606.7 328.2h0M606.9 324.8h0M607.1 324.8h0M607.3 320.8h0M607.5 322.1h0M607.7 326.4h0M607.9 319.2h0M608.1 322.7h0M608.3 318.2h0M608.5 322.7h0M608.7 326.4h0M608.9 316.3h0M609.1 316.3h0M609.3 321.4h0M609.5 322.7h0M609.7 327.3h0M609.9 317.7h0M610.1 315.5h0M610.3 324.1h0M610.5 329.2h0M610.7 327.3h0M610.9 315.9h0M611 324.1h0M611.2 321.4h0M611.4 329.2h0M611.6 325.6h0M611.8 320.8h0M612 325.6h0M612.2 324.8h0M612.4 323.4h0M612.6 324.1h0M612.8 324.1h0M613 324.1h0M613.2 323.4h0M613.4 321.4h0M613.6 324.8h0M613.8 326.4h0M614 323.4h0M614.2 322.7h0M614.4 326.4h0M614.6 324.8h0M614.8 324.8h0M615 323.4h0M615.2 333.9h0M615.4 324.1h0M615.6 325.6h0M615.8 324.1h0M616 327.3h0M616.2 326.4h0M616.4 322.7h0M616.6 329.2h0M616.8 321.4h0M617 320.8h0M617.2 318.2h0M617.4 335.4h0M617.6 328.2h0M617.8 328.2h0M618 328.2h0M618.2 329.2h0M618.4 320.8h0M618.6 332.6h0M618.8 322.7h0M619 328.2h0M619.2 328.2h0M619.4 331.4h0M619.6 330.3h0M619.8 326.4h0M620 331.4h0M620.2 325.6h0M620.4 331.4h0M620.6 328.2h0M620.8 332.6h0M621 321.4h0M621.2 332.6h0M621.4 331.4h0M621.6 329.2h0M621.8 324.8h0M622 322.7h0M622.2 331.4h0M622.4 332.6h0M622.5 331.4h0M622.7 326.4h0M622.9 327.3h0M623.1 333.9h0M623.3 329.2h0M623.5 329.2h0M623.7 330.3h0M623.9 329.2h0M624.1 328.2h0M624.3 327.3h0M624.5 327.3h0M624.7 333.9h0M624.9 331.4h0M625.1 326.4h0M625.3 330.3h0M625.5 321.4h0M625.7 328.2h0M625.9 335.4h0M626.1 328.2h0M626.3 332.6h0M626.5 329.2h0M626.7 327.3h0M626.9 331.4h0M627.1 330.3h0M627.3 331.4h0M627.5 335.4h0M627.7 332.6h0M627.9 340.8h0M628.1 331.4h0M628.3 331.4h0M628.5 327.3h0M628.7 321.4h0M628.9 333.9h0M629.1 328.2h0M629.3 332.6h0M629.5 331.4h0M629.7 330.3h0M629.9 338.8h0M630.1 328.2h0M630.3 324.8h0M630.5 337h0M630.7 337h0M630.9 338.8h0M631.1 337h0M631.3 340.8h0M631.5 328.2h0M631.7 331.4h0M631.9 333.9h0M632.1 333.9h0M632.3 333.9h0M632.5 330.3h0M632.7 324.8h0M632.9 331.4h0M633.1 322.1h0M633.3 324.8h0M633.5 327.3h0M633.7 331.4h0M633.8 332.6h0M634 333.9h0M634.2 332.6h0M634.4 331.4h0M634.6 330.3h0M634.8 323.4h0M635 326.4h0M635.2 340.8h0M635.4 332.6h0M635.6 326.4h0M635.8 337h0M636 332.6h0M636.2 326.4h0M636.4 324.8h0M636.6 335.4h0M636.8 335.4h0M637 335.4h0M637.2 326.4h0M637.4 335.4h0M637.6 325.6h0M637.8 333.9h0M638 324.8h0M638.2 325.6h0M638.4 329.2h0M638.6 329.2h0M638.8 332.6h0M639 329.2h0M639.2 337h0M639.4 333.9h0M639.6 321.4h0M639.8 324.8h0M640 340.8h0M640.2 331.4h0M640.4 329.2h0M640.6 330.3h0M640.8 330.3h0M641 337h0M641.2 337h0M641.4 329.2h0M641.6 331.4h0M641.8 328.2h0M642 337h0M642.2 324.8h0M642.4 332.6h0M642.6 332.6h0M642.8 335.4h0M643 330.3h0M643.2 329.2h0M643.4 325.6h0M643.6 326.4h0M643.8 340.8h0M644 333.9h0M644.2 335.4h0M644.4 332.6h0M644.6 343.2h0M644.8 333.9h0M645 331.4h0M645.1 331.4h0M645.3 332.6h0M645.5 335.4h0M645.7 332.6h0M645.9 324.1h0M646.1 333.9h0M646.3 329.2h0M646.5 327.3h0M646.7 331.4h0M646.9 332.6h0M647.1 332.6h0M647.3 330.3h0M647.5 321.4h0M647.7 340.8h0M647.9 333.9h0M648.1 330.3h0M648.3 326.4h0M648.5 327.3h0M648.7 324.8h0M648.9 333.9h0M649.1 343.2h0M649.3 328.2h0M649.5 324.8h0M649.7 337h0M649.9 323.4h0M650.1 337h0M650.3 330.3h0M650.5 332.6h0M650.7 338.8h0M650.9 335.4h0M651.1 335.4h0M651.3 333.9h0M651.5 335.4h0M651.7 333.9h0M651.9 337h0M652.1 332.6h0M652.3 333.9h0M652.5 335.4h0M652.7 335.4h0M652.9 335.4h0M653.1 329.2h0M653.3 328.2h0M653.5 340.8h0M653.7 331.4h0M653.9 327.3h0M654.1 340.8h0M654.3 338.8h0M654.5 338.8h0M654.7 338.8h0M654.9 340.8h0M655.1 335.4h0M655.3 327.3h0M655.5 332.6h0M655.7 326.4h0M655.9 331.4h0M656.1 335.4h0M656.3 337h0M656.4 337h0M656.6 332.6h0M656.8 343.2h0M657 333.9h0M657.2 330.3h0M657.4 332.6h0M657.6 326.4h0M657.8 325.6h0M658 338.8h0M658.2 338.8h0M658.4 324.8h0M658.6 332.6h0M658.8 340.8h0M659 337h0M659.2 331.4h0M659.4 330.3h0M659.6 337h0M659.8 335.4h0M660 328.2h0M660.2 338.8h0M660.4 333.9h0M660.6 337h0M660.8 325.6h0M661 333.9h0M661.2 332.6h0M661.4 332.6h0M661.6 330.3h0M662 338.8h0M662.2 330.3h0M662.4 331.4h0M662.6 335.4h0M662.8 329.2h0M663 337h0M663.2 337h0M663.4 332.6h0M663.6 340.8h0M663.8 333.9h0M664 335.4h0M664.2 337h0M664.4 332.6h0M664.6 328.2h0M664.8 337h0M665 327.3h0M665.2 328.2h0M665.4 338.8h0M665.6 332.6h0M665.8 335.4h0M666 333.9h0M666.2 338.8h0M666.4 346h0M666.6 337h0M666.8 346h0M667 332.6h0M667.2 338.8h0M667.4 343.2h0M667.6 333.9h0M667.7 332.6h0M667.9 331.4h0M668.1 331.4h0M668.3 328.2h0M668.5 338.8h0M668.7 337h0M668.9 335.4h0M669.1 332.6h0M669.3 337h0M669.5 332.6h0M669.7 335.4h0M669.9 337h0M670.1 327.3h0M670.3 335.4h0M670.5 340.8h0M670.7 328.2h0M670.9 332.6h0M671.1 331.4h0M671.3 326.4h0M671.5 329.2h0M671.7 335.4h0M671.9 337h0M672.1 329.2h0M672.3 337h0M672.5 335.4h0M672.7 333.9h0M672.9 338.8h0M673.1 335.4h0M673.3 337h0M673.5 340.8h0M673.7 340.8h0M673.9 337h0M674.1 340.8h0M674.3 333.9h0M674.5 343.2h0M674.7 340.8h0M674.9 327.3h0M675.1 332.6h0M675.3 329.2h0M675.7 343.2h0M675.9 337h0M676.1 346h0M676.3 331.4h0M676.5 338.8h0M676.7 337h0M676.9 340.8h0M677.1 338.8h0M677.3 328.2h0M677.5 325.6h0M677.7 338.8h0M677.9 335.4h0M678.1 330.3h0" stroke="#3a70c4" stroke-width="1.3" stroke-linecap="round" fill="none"/><path d="M499.3 341h0M499.3 332.4h0M499.7 321.1h0M499.9 318.2h0M499.7 309.2h0M499.2 297.2h0M500 287.4h0M500 276.9h0M499.7 271.4h0M500.2 265.1h0M500.7 251h0M500.3 246h0M500.5 237.7h0M501.6 230.7h0M501.6 220.5h0M503.4 208.1h0M495.3 338.8h0M495.5 346h0M496.1 337h0M496.5 337h0M497.3 343.2h0M497.5 340.8h0M497.7 346h0M498.3 346h0M498.5 335.4h0M498.9 343.2h0M503.2 205.6h0M503.4 206.3h0M503.6 206.7h0M503.8 207.1h0M504 207.7h0M504.2 208.2h0M504.4 208.5h0M504.6 209.1h0M504.8 209.5h0M505 210h0M505.2 210.6h0M505.4 210.9h0M505.6 211.4h0M505.8 211.9h0M506 212.4h0M506.2 212.8h0M506.4 213.2h0M506.6 213.3h0M506.8 214h0M507 214.5h0M507.2 214.9h0M507.4 215.2h0M507.6 215.7h0M507.8 216.2h0M508 216.6h0M508.2 217h0M508.4 217.4h0M508.6 217.7h0M508.8 218h0M509 218.4h0M509.2 218.7h0M509.4 219.2h0M509.6 219.5h0M509.8 219.9h0M510 220.1h0M510.2 220.6h0M510.4 220.8h0M510.6 221.2h0M510.8 221.4h0M511 221.8h0M511.2 222.4h0M511.4 222.6h0M511.6 222.9h0M511.8 223h0M512 223.4h0M512.2 223.9h0M512.4 224.1h0M512.6 224.3h0M512.8 224.6h0M513 225.2h0M513.2 225.4h0M513.4 225.6h0M513.6 225.9h0M513.8 226.4h0M514 226.7h0M514.2 227h0M514.4 227.4h0M514.5 227.7h0M514.7 227.9h0M514.9 228.1h0M515.1 228.6h0M515.3 229h0M515.5 229.3h0M515.7 229.9h0M515.9 229.9h0M516.1 230.4h0M516.3 230.9h0M516.5 231h0M516.7 231.4h0M516.9 231.4h0M517.1 231.9h0M517.3 232.2h0M517.5 232.4h0M517.7 232.9h0M517.9 233.4h0M518.1 233.5h0M518.3 234.1h0M518.5 234.4h0M518.7 234.7h0M518.9 234.6h0M519.1 235.1h0M519.3 235.2h0M519.5 236h0M519.7 236.1h0M519.9 236.3h0M520.1 236.4h0M520.3 236.9h0M520.5 237.4h0M520.7 237.5h0M520.9 237.9h0M521.1 237.9h0M521.3 238.2h0M521.5 238.6h0M521.7 238.9h0M521.9 239.2h0M522.1 239.5h0M522.3 240h0M522.5 240.3h0M522.7 240h0M522.9 240.4h0M523.1 241h0M523.3 241.2h0M523.5 241.5h0M523.7 241.7h0M523.9 241.9h0M524.1 242h0M524.3 242.4h0M524.5 242.8h0M524.7 243h0M524.9 243.3h0M525.1 243.5h0M525.3 244.1h0M525.5 243.9h0M525.7 244.2h0M525.9 244.4h0M526 244.9h0M526.2 245.2h0M526.4 244.8h0M526.6 245.5h0M526.8 246.5h0M527 246.1h0M527.2 246.8h0M527.4 246.4h0M527.6 247.5h0M527.8 247.5h0M528 247.3h0M528.2 247.7h0M528.4 248.1h0M528.6 248.4h0M528.8 248.1h0M529 248.6h0M529.2 249h0M529.4 249.6h0M529.6 249.9h0M529.8 249.8h0M530 250.1h0M530.2 250h0M530.4 250.6h0M530.6 250.9h0M530.8 250.8h0M531 251.4h0M531.2 251.3h0M531.4 251.9h0M531.6 252h0M531.8 251.8h0M532 252.2h0M532.2 252.9h0M532.4 252.7h0M532.6 253.1h0M532.8 253.1h0M533 253.4h0M533.2 253.8h0M533.4 254h0M533.6 254.5h0M533.8 254.2h0M534 254.3h0M534.2 254.8h0M534.4 255.2h0M534.6 255.5h0M534.8 256h0M535 256.4h0M535.2 255.8h0M535.4 256.1h0M535.6 256.2h0M535.8 256.6h0M536 257h0M536.2 256.9h0M536.4 256.7h0M536.6 256.7h0M536.8 256.8h0M537 257.9h0M537.2 257.8h0M537.3 258.5h0M537.5 258.9h0M537.7 259h0M537.9 258.8h0M538.1 259.2h0M538.3 259.1h0M538.5 259.1h0M538.7 259.7h0M538.9 259.2h0M539.1 260.4h0M539.3 259.7h0M539.5 261.1h0M539.7 260.6h0M539.9 261.4h0M540.1 261.3h0M540.3 262.1h0M540.5 262.1h0M540.7 262.5h0M540.9 261.8h0M541.1 262.4h0M541.3 262.5h0M541.5 261.9h0M541.7 263.8h0M541.9 263.5h0M542.1 264.8h0M542.3 264h0M542.5 264.5h0M542.7 264.3h0M542.9 263.9h0M543.1 265.4h0M543.3 264.7h0M543.5 265.1h0M543.7 266.3h0M543.9 265.9h0M544.1 266.7h0M544.3 265.2h0M544.5 266h0M544.7 266.8h0M544.9 267.5h0M545.1 266.7h0M545.3 267.3h0M545.5 266.8h0M545.7 267.9h0M545.9 268.1h0M546.1 269.4h0M546.3 268.1h0M546.5 268.4h0M546.7 268.5h0M546.9 268.8h0M547.1 268.6h0M547.3 268.9h0M547.5 270.5h0M547.7 269.5h0M547.9 269.6h0M548.1 270h0M548.3 270.4h0M548.5 269.9h0M548.6 270.8h0M548.8 270.9h0M549 270.2h0M549.2 269.9h0M549.4 271.7h0M549.6 271.6h0M549.8 271.4h0M550 272.5h0M550.2 272.1h0M550.4 271.9h0M550.6 271.9h0M550.8 272.9h0M551 272.4h0M551.2 272.2h0M551.4 273.6h0M551.6 272.7h0M551.8 274.1h0M552 274.3h0M552.2 273.3h0M552.4 274.3h0M552.6 274.6h0M552.8 273.7h0M553 275.4h0M553.2 273.6h0M553.4 274.6h0M553.6 275.4h0M553.8 274.8h0M554 275.8h0M554.2 276.6h0M554.4 274.7h0M554.6 276.2h0M554.8 275.6h0M555 276.6h0M555.2 277.2h0M555.4 276.7h0M555.6 275.5h0M555.8 277.2h0M556 277.6h0M556.2 278h0M556.4 279.6h0M556.6 277.7h0M556.8 278.9h0M557 279.1h0M557.2 279.1h0M557.4 278.8h0M557.6 278.2h0M557.8 279.5h0M558 279h0M558.2 279h0M558.4 280.7h0M558.6 278.3h0M558.8 279.9h0M559 281h0M559.2 281.6h0M559.4 280.6h0M559.6 280.6h0M559.8 280.4h0M559.9 280.5h0M560.1 282.1h0M560.3 280.6h0M560.5 284h0M560.7 281.6h0M560.9 282.5h0M561.1 282.1h0M561.3 282.8h0M561.5 281.8h0M561.7 283h0M561.9 283.2h0M562.1 283.4h0M562.3 283.4h0M562.5 284.4h0M562.7 283.4h0M562.9 283.5h0M563.1 285.3h0M563.3 284.2h0M563.5 283.6h0M563.7 285.1h0M563.9 283h0M564.1 284.3h0M564.3 284h0M564.5 285.8h0M564.7 284.1h0M564.9 286.1h0M565.1 287.7h0M565.3 287h0M565.5 288h0M565.7 285.3h0M565.9 286h0M566.1 288.7h0M566.3 286.4h0M566.5 287.2h0M566.7 285.9h0M566.9 286.5h0M567.1 287.8h0M567.3 288.4h0M567.5 285.8h0M567.7 288h0M567.9 286.8h0M568.1 289h0M568.3 290.6h0M568.5 286.6h0M568.7 289.9h0M568.9 289.9h0M569.1 288.1h0M569.3 292.1h0M569.5 291.4h0M569.7 291.1h0M569.9 289.6h0M570.1 291h0M570.3 290.2h0M570.5 290.5h0M570.7 290.4h0M570.9 292.4h0M571.1 293h0M571.2 292.6h0M571.4 291.9h0M571.6 291.7h0M571.8 292h0M572 293.2h0M572.2 293.5h0M572.4 294.2h0M572.6 292.9h0M572.8 289.5h0M573 291.5h0M573.2 294.2h0M573.4 297.3h0M573.6 296h0M573.8 291.7h0M574 294.8h0M574.2 292.3h0M574.4 293.9h0M574.6 293.9h0M574.8 294.8h0M575 296.2h0M575.2 292.9h0M575.4 293.5h0M575.6 293.7h0M575.8 293h0M576 297.4h0M576.2 297.3h0M576.4 297.3h0M576.6 295.8h0M576.8 296.3h0M577 295.6h0M577.2 298.7h0M577.4 295.4h0M577.6 297.1h0M577.8 296.2h0M578 300.5h0M578.2 301h0M578.4 297.6h0M578.6 298.6h0M578.8 300.8h0M579 299h0M579.2 299.2h0M579.4 298.3h0M579.6 296.3h0M579.8 298.5h0M580 298.6h0M580.2 299h0M580.4 298.9h0M580.6 300h0M580.8 301h0M581 305.3h0M581.2 301.4h0M581.4 299.2h0M581.6 299.4h0M581.8 299.2h0M582 300.8h0M582.2 299.6h0M582.4 300.8h0M582.5 300.5h0M582.7 300.5h0M582.9 301.8h0M583.1 299.9h0M583.3 302.5h0M583.5 305.3h0M583.7 301.1h0M583.9 307.9h0M584.1 300.5h0M584.3 302.1h0M584.5 301.4h0M584.7 303.7h0M584.9 302.3h0M585.1 306h0M585.3 301.6h0M585.5 302.1h0M585.7 306.4h0M585.9 303.5h0M586.1 310.6h0M586.3 302.6h0M586.5 303.9h0M586.7 303.9h0M586.9 302.6h0M587.1 307.9h0M587.3 303.5h0M587.5 309.2h0M587.7 307.4h0M587.9 309.7h0M588.1 306.4h0M588.3 306h0M588.5 310h0M588.7 303.7h0M588.9 304.7h0M589.1 308.6h0M589.3 310h0M589.5 306.4h0M589.7 302.3h0M589.9 304.7h0M590.1 307.6h0M590.3 304.5h0M590.5 309.2h0M590.7 308.6h0M590.9 309.2h0M591.1 312.5h0M591.3 311.2h0M591.5 307.1h0M591.7 313.2h0M591.9 311.8h0M592.1 311.5h0M592.3 305.5h0M592.5 310.9h0M592.7 310.6h0M592.9 307.6h0M593.1 310.3h0M593.3 312.2h0M593.5 312.8h0M593.7 312.2h0M593.8 306h0M594 307.9h0M594.2 313.9h0M594.4 305.3h0M594.6 315.9h0M594.8 311.2h0M595 311.5h0M595.2 311.5h0M595.4 310.9h0M595.6 309.7h0M595.8 310.3h0M596 312.2h0M596.2 318.2h0M596.4 316.8h0M596.6 311.8h0M596.8 314.7h0M597 317.2h0M597.2 312.5h0M597.4 313.9h0M597.6 311.2h0M597.8 310.9h0M598 311.8h0M598.2 318.2h0M598.4 321.4h0M598.6 312.8h0M598.8 312.8h0M599 320.3h0M599.2 318.7h0M599.4 315.1h0M599.6 321.4h0M599.8 318.7h0M600 317.2h0M600.2 317.2h0M600.4 314.7h0M600.6 315.5h0M600.8 316.3h0M601 316.3h0M601.2 319.2h0M601.4 313.9h0M601.6 318.7h0M601.8 324.8h0M602 317.7h0M602.2 317.7h0M602.4 316.8h0M602.6 312.8h0M602.8 315.1h0M603 318.2h0M603.2 319.2h0M603.4 319.2h0M603.6 316.3h0M603.8 316.8h0M604 317.2h0M604.2 318.2h0M604.4 318.2h0M604.6 320.3h0M604.8 317.7h0M605 319.7h0M605.2 314.3h0M605.3 328.2h0M605.5 326.4h0M605.7 320.8h0M605.9 316.8h0M606.1 319.2h0M606.3 324.8h0M606.5 319.2h0M606.7 320.8h0M606.9 322.7h0M607.1 319.7h0M607.3 316.8h0M607.5 321.4h0M607.7 320.3h0M607.9 318.2h0M608.1 320.8h0M608.3 319.2h0M608.5 320.8h0M608.7 321.4h0M608.9 327.3h0M609.1 319.7h0M609.3 317.7h0M609.5 324.1h0M609.7 319.2h0M609.9 322.7h0M610.1 319.7h0M610.3 325.6h0M610.5 319.7h0M610.7 320.8h0M610.9 319.2h0M611.1 323.4h0M611.3 324.8h0M611.5 319.7h0M611.7 326.4h0M611.9 319.2h0M612.1 324.1h0M612.3 320.8h0M612.5 320.8h0M612.7 317.7h0M612.9 316.8h0M613.1 316.8h0M613.3 329.2h0M613.5 325.6h0M613.7 324.8h0M613.9 324.8h0M614.1 320.3h0M614.3 322.7h0M614.5 320.8h0M614.7 326.4h0M614.9 324.8h0M615.1 321.4h0M615.3 324.8h0M615.5 320.8h0M615.7 325.6h0M615.9 323.4h0M616.1 322.1h0M616.3 317.2h0M616.5 317.2h0M616.6 323.4h0M616.8 332.6h0M617 331.4h0M617.2 325.6h0M617.4 319.7h0M617.6 326.4h0M617.8 322.1h0M618 327.3h0M618.2 328.2h0M618.4 331.4h0M618.6 321.4h0M618.8 322.1h0M619 325.6h0M619.2 325.6h0M619.4 319.2h0M619.6 324.8h0M619.8 324.8h0M620 327.3h0M620.2 324.1h0M620.4 325.6h0M620.6 322.1h0M620.8 320.3h0M621 325.6h0M621.2 326.4h0M621.4 322.1h0M621.6 329.2h0M621.8 324.8h0M622 322.7h0M622.2 324.8h0M622.4 324.8h0M622.6 322.7h0M622.8 324.8h0M623 320.8h0M623.2 324.1h0M623.4 332.6h0M623.6 331.4h0M623.8 329.2h0M624 331.4h0M624.2 330.3h0M624.4 330.3h0M624.6 326.4h0M624.8 322.7h0M625 326.4h0M625.2 330.3h0M625.4 333.9h0M625.6 325.6h0M625.8 333.9h0M626 335.4h0M626.2 325.6h0M626.4 333.9h0M626.6 324.1h0M626.8 324.1h0M627 328.2h0M627.2 324.1h0M627.4 323.4h0M627.6 331.4h0M627.8 324.1h0M627.9 327.3h0M628.1 327.3h0M628.3 327.3h0M628.5 329.2h0M628.7 321.4h0M628.9 329.2h0M629.1 322.7h0M629.3 335.4h0M629.5 329.2h0M629.7 323.4h0M629.9 332.6h0M630.1 327.3h0M630.3 332.6h0M630.5 330.3h0M630.7 331.4h0M630.9 326.4h0M631.1 324.1h0M631.3 321.4h0M631.5 329.2h0M631.7 331.4h0M631.9 331.4h0M632.1 338.8h0M632.3 325.6h0M632.5 324.8h0M632.7 328.2h0M632.9 332.6h0M633.1 322.7h0M633.3 331.4h0M633.5 338.8h0M633.7 330.3h0M633.9 326.4h0M634.1 331.4h0M634.3 330.3h0M634.5 340.8h0M634.7 331.4h0M634.9 330.3h0M635.1 335.4h0M635.3 338.8h0M635.5 327.3h0M635.7 327.3h0M635.9 332.6h0M636.1 325.6h0M636.3 331.4h0M636.5 330.3h0M636.7 331.4h0M636.9 340.8h0M637.1 331.4h0M637.3 327.3h0M637.5 329.2h0M637.7 332.6h0M637.9 331.4h0M638.1 338.8h0M638.3 329.2h0M638.5 331.4h0M638.7 331.4h0M638.9 327.3h0M639.1 326.4h0M639.2 335.4h0M639.4 337h0M639.6 326.4h0M639.8 325.6h0M640 324.8h0M640.2 333.9h0M640.4 328.2h0M640.6 325.6h0M640.8 330.3h0M641 332.6h0M641.2 333.9h0M641.4 328.2h0M641.6 325.6h0M641.8 337h0M642 337h0M642.2 327.3h0M642.4 331.4h0M642.6 340.8h0M642.8 332.6h0M643 346h0M643.2 337h0M643.4 328.2h0M643.6 335.4h0M643.8 329.2h0M644 335.4h0M644.2 338.8h0M644.4 325.6h0M644.6 333.9h0M644.8 333.9h0M645 324.8h0M645.2 332.6h0M645.4 333.9h0M645.6 332.6h0M645.8 331.4h0M646 332.6h0M646.2 338.8h0M646.4 338.8h0M646.6 330.3h0M646.8 332.6h0M647 333.9h0M647.2 322.1h0M647.4 333.9h0M647.6 329.2h0M647.8 326.4h0M648 324.8h0M648.2 332.6h0M648.4 337h0M648.6 326.4h0M648.8 331.4h0M649 332.6h0M649.2 330.3h0M649.4 332.6h0M649.6 332.6h0M649.8 331.4h0M650 338.8h0M650.2 332.6h0M650.4 331.4h0M650.5 343.2h0M650.7 329.2h0M650.9 332.6h0M651.1 343.2h0M651.3 331.4h0M651.5 330.3h0M651.7 333.9h0M651.9 325.6h0M652.1 331.4h0M652.3 331.4h0M652.5 328.2h0M652.7 327.3h0M652.9 329.2h0M653.1 327.3h0M653.3 328.2h0M653.5 325.6h0M653.7 330.3h0M653.9 327.3h0M654.1 329.2h0M654.3 332.6h0M654.5 328.2h0M654.7 329.2h0M654.9 337h0M655.1 333.9h0M655.3 338.8h0M655.5 324.8h0M655.7 333.9h0M655.9 328.2h0M656.1 328.2h0M656.3 337h0M656.5 327.3h0M656.7 329.2h0M656.9 328.2h0M657.1 324.8h0M657.3 340.8h0M657.5 328.2h0M657.7 328.2h0M657.9 340.8h0M658.1 337h0M658.3 337h0M658.5 333.9h0M658.7 332.6h0M658.9 332.6h0M659.1 327.3h0M659.3 331.4h0M659.5 338.8h0M659.7 340.8h0M659.9 333.9h0M660.1 331.4h0M660.3 329.2h0M660.5 338.8h0M660.7 325.6h0M660.9 329.2h0M661.1 327.3h0M661.3 338.8h0M661.5 340.8h0M661.7 326.4h0M661.8 323.4h0M662 332.6h0M662.2 331.4h0M662.4 338.8h0M662.6 331.4h0M662.8 337h0M663 332.6h0M663.2 328.2h0M663.4 332.6h0M663.6 340.8h0M663.8 326.4h0M664 337h0M664.2 325.6h0M664.4 332.6h0M664.6 335.4h0M664.8 332.6h0M665 328.2h0M665.2 333.9h0M665.4 332.6h0M665.6 330.3h0M665.8 330.3h0M666 330.3h0M666.2 332.6h0M666.4 331.4h0M666.6 330.3h0M666.8 337h0M667 328.2h0M667.2 330.3h0M667.4 338.8h0M667.6 330.3h0M667.8 346h0M668 337h0M668.2 343.2h0M668.4 332.6h0M668.6 329.2h0M668.8 330.3h0M669 335.4h0M669.2 326.4h0M669.4 343.2h0M669.6 332.6h0M669.8 324.1h0M670 338.8h0M670.2 335.4h0M670.4 329.2h0M670.6 327.3h0M670.8 327.3h0M671 321.4h0M671.2 331.4h0M671.4 335.4h0M671.6 337h0M671.8 333.9h0M672 335.4h0M672.2 335.4h0M672.4 335.4h0M672.6 332.6h0M672.8 331.4h0M673 330.3h0M673.1 333.9h0M673.3 322.1h0M673.5 337h0M673.7 340.8h0M673.9 337h0M674.1 338.8h0M674.3 327.3h0M674.5 331.4h0M674.7 335.4h0M674.9 331.4h0M675.1 331.4h0M675.3 343.2h0M675.5 330.3h0M675.7 335.4h0M675.9 332.6h0M676.1 325.6h0M676.3 333.9h0M676.5 328.2h0M676.7 326.4h0M676.9 330.3h0M677.1 338.8h0M677.3 337h0M677.5 333.9h0M677.7 337h0M677.9 338.8h0M678.1 335.4h0" stroke="#8040b4" stroke-width="1.3" stroke-linecap="round" fill="none"/><path d="M500.1 341.4h0M499.5 332.5h0M499.3 323.2h0M499.1 315.8h0M500 307.9h0M499.7 294.5h0M499.7 291.3h0M500.1 277.1h0M500.1 271.8h0M500 264.5h0M499.8 252.5h0M500.6 244.5h0M500.9 238.5h0M501 230h0M502.1 220.8h0M503 208.2h0M495.3 346h0M495.9 346h0M496.1 340.8h0M496.3 340.8h0M496.5 338.8h0M496.7 340.8h0M497.1 338.8h0M497.7 346h0M497.9 337h0M498.3 340.8h0M498.5 340.8h0M498.6 340.8h0M503.2 205.6h0M503.4 206.1h0M503.6 206.5h0M503.8 207h0M504 207.5h0M504.2 208h0M504.4 208.2h0M504.6 208.9h0M504.8 209.2h0M505 209.8h0M505.2 210.2h0M505.4 210.8h0M505.6 211.2h0M505.8 211.7h0M506 212h0M506.2 212.5h0M506.4 213.1h0M506.6 213.7h0M506.8 213.9h0M507 214.5h0M507.2 215h0M507.4 215.5h0M507.6 215.9h0M507.8 216.3h0M508 216.9h0M508.2 217.4h0M508.4 218.1h0M508.6 218.2h0M508.8 218.8h0M509 219.2h0M509.2 220h0M509.4 220.4h0M509.6 220.9h0M509.8 221.5h0M509.9 221.8h0M510.1 222.5h0M510.3 222.9h0M510.5 223.4h0M510.7 224h0M510.9 224.2h0M511.1 224.9h0M511.3 225.3h0M511.5 225.7h0M511.7 226.3h0M511.9 227h0M512.1 227.5h0M512.3 227.8h0M512.5 228.4h0M512.7 228.8h0M512.9 229h0M513.1 229.6h0M513.3 230.2h0M513.5 230.6h0M513.7 231.1h0M513.9 231.8h0M514.1 232.2h0M514.3 232.7h0M514.5 233h0M514.7 233.5h0M514.9 234.1h0M515.1 234.2h0M515.3 234.8h0M515.5 235.4h0M515.7 235.7h0M515.9 236.4h0M516.1 236.4h0M516.3 237h0M516.5 237.5h0M516.7 237.8h0M516.9 238.2h0M517.1 238.9h0M517.3 239h0M517.5 240h0M517.7 240.2h0M517.9 240.7h0M518.1 241.3h0M518.3 241h0M518.5 241.9h0M518.7 241.9h0M518.9 242.9h0M519.1 242.8h0M519.3 243.4h0M519.5 243.8h0M519.7 243.8h0M519.9 244.8h0M520.1 244.9h0M520.3 245.5h0M520.5 245.9h0M520.7 246.8h0M520.9 246.6h0M521.1 246.9h0M521.2 247.3h0M521.4 248h0M521.6 247.9h0M521.8 248.2h0M522 248.9h0M522.2 249.5h0M522.4 249.7h0M522.6 249.9h0M522.8 250.1h0M523 250.9h0M523.2 251.3h0M523.4 251.2h0M523.6 251.7h0M523.8 252.2h0M524 253.1h0M524.2 253.1h0M524.4 253.4h0M524.6 253.2h0M524.8 254.4h0M525 254.4h0M525.2 255h0M525.4 254.8h0M525.6 255.8h0M525.8 255.8h0M526 256.5h0M526.2 256.7h0M526.4 257.1h0M526.6 257.4h0M526.8 257.8h0M527 258.1h0M527.2 258.1h0M527.4 258.3h0M527.6 259.2h0M527.8 259.1h0M528 259.4h0M528.2 260.6h0M528.4 260.4h0M528.6 260.5h0M528.8 260.9h0M529 261.3h0M529.2 262.1h0M529.4 262.8h0M529.6 261.8h0M529.8 261.8h0M530 262.4h0M530.2 262.7h0M530.4 262.9h0M530.6 262.9h0M530.8 264.9h0M531 264.8h0M531.2 264.6h0M531.4 264.5h0M531.6 264.7h0M531.8 265.6h0M532 265.5h0M532.2 266.9h0M532.4 267h0M532.5 267.1h0M532.7 266.8h0M532.9 267h0M533.1 267.1h0M533.3 268h0M533.5 268.8h0M533.7 267.9h0M533.9 268.9h0M534.1 268.5h0M534.3 269.3h0M534.5 269.5h0M534.7 270.4h0M534.9 271.4h0M535.1 270.2h0M535.3 270.3h0M535.5 271.1h0M535.7 271.3h0M535.9 271.9h0M536.1 271.2h0M536.3 272h0M536.5 272.6h0M536.7 273.2h0M536.9 272h0M537.1 274h0M537.3 274h0M537.5 273.4h0M537.7 275.9h0M537.9 273.9h0M538.1 274.4h0M538.3 274.6h0M538.5 274.9h0M538.7 274.9h0M538.9 274.8h0M539.1 275.6h0M539.3 275.8h0M539.5 275.4h0M539.7 277.8h0M539.9 277.3h0M540.1 278.5h0M540.3 277.6h0M540.5 278.5h0M540.7 276.9h0M540.9 279.5h0M541.1 277.9h0M541.3 279.1h0M541.5 278.3h0M541.7 279.6h0M541.9 279.9h0M542.1 280.4h0M542.3 280.4h0M542.5 281.5h0M542.7 281h0M542.9 283.3h0M543.1 280.2h0M543.3 281.2h0M543.5 281h0M543.7 280.6h0M543.8 281.9h0M544 282.4h0M544.2 283.2h0M544.4 282.7h0M544.6 281.5h0M544.8 282.7h0M545 282.8h0M545.2 283.2h0M545.4 284.7h0M545.6 284.5h0M545.8 285.5h0M546 285h0M546.2 284.3h0M546.4 287.3h0M546.6 288.3h0M546.8 286.2h0M547 286h0M547.2 286.5h0M547.4 286.7h0M547.6 288h0M547.8 288.2h0M548 288.4h0M548.2 287.3h0M548.4 288.3h0M548.6 287.7h0M548.8 290.3h0M549 288.7h0M549.2 289.9h0M549.4 288.9h0M549.6 289.7h0M549.8 287.1h0M550 289.1h0M550.2 291h0M550.4 290.2h0M550.6 291.7h0M550.8 289.4h0M551 292.3h0M551.2 292.5h0M551.4 290h0M551.6 290.8h0M551.8 293.4h0M552 293.1h0M552.2 292.6h0M552.4 294.7h0M552.6 294.2h0M552.8 291.6h0M553 293.6h0M553.2 292.1h0M553.4 294.5h0M553.6 294.5h0M553.8 294.8h0M554 296.1h0M554.2 294.9h0M554.4 297.7h0M554.6 295.4h0M554.8 296.2h0M555 297.6h0M555.1 298.5h0M555.3 296.5h0M555.5 299.7h0M555.7 296.1h0M555.9 297.6h0M556.1 297.7h0M556.3 301h0M556.5 298.3h0M556.7 300.3h0M556.9 299.7h0M557.1 298.2h0M557.3 298.9h0M557.5 297.8h0M557.7 300h0M557.9 297.9h0M558.1 303.2h0M558.3 301h0M558.5 302.1h0M558.7 303.2h0M558.9 297.8h0M559.1 302.3h0M559.3 300.8h0M559.5 300.8h0M559.7 302.8h0M559.9 303.9h0M560.1 306.4h0M560.3 303.2h0M560.5 301.3h0M560.7 302.5h0M560.9 302.3h0M561.1 307.6h0M561.3 302.6h0M561.5 303.5h0M561.7 302.5h0M561.9 303.4h0M562.1 303.5h0M562.3 304.9h0M562.5 307.1h0M562.7 310h0M562.9 306h0M563.1 303.5h0M563.3 308.9h0M563.5 306.4h0M563.7 308.1h0M563.9 309.7h0M564.1 311.8h0M564.3 311.2h0M564.5 308.6h0M564.7 309.4h0M564.9 308.9h0M565.1 306.2h0M565.3 305.5h0M565.5 306.9h0M565.7 305.1h0M565.9 307.4h0M566.1 312.8h0M566.3 310.3h0M566.5 313.2h0M566.6 309.4h0M566.8 310.9h0M567 308.9h0M567.2 313.9h0M567.4 314.3h0M567.6 310.3h0M567.8 310h0M568 308.4h0M568.2 316.3h0M568.4 313.5h0M568.6 312.5h0M568.8 313.5h0M569 309.2h0M569.2 312.2h0M569.4 313.2h0M569.6 316.3h0M569.8 311.2h0M570 310.3h0M570.2 317.7h0M570.4 315.1h0M570.6 312.8h0M570.8 323.4h0M571 313.9h0M571.2 313.5h0M571.4 312.8h0M571.6 321.4h0M571.8 316.3h0M572 311.8h0M572.2 318.7h0M572.4 314.3h0M572.6 315.5h0M572.8 320.3h0M573 312.5h0M573.2 320.3h0M573.4 319.2h0M573.6 312.2h0M573.8 317.7h0M574 317.7h0M574.2 317.7h0M574.4 321.4h0M574.6 319.7h0M574.8 312.5h0M575 319.7h0M575.2 319.2h0M575.4 317.2h0M575.6 315.9h0M575.8 329.2h0M576 321.4h0M576.2 324.8h0M576.4 320.8h0M576.6 322.7h0M576.8 320.8h0M577 323.4h0M577.2 322.7h0M577.4 318.2h0M577.6 324.8h0M577.8 324.1h0M577.9 320.8h0M578.1 328.2h0M578.3 321.4h0M578.5 319.2h0M578.7 321.4h0M578.9 322.7h0M579.1 322.1h0M579.3 322.1h0M579.5 326.4h0M579.7 320.3h0M579.9 325.6h0M580.1 324.8h0M580.3 323.4h0M580.5 328.2h0M580.7 324.8h0M580.9 322.7h0M581.1 325.6h0M581.3 330.3h0M581.5 324.8h0M581.7 322.7h0M581.9 324.1h0M582.1 324.1h0M582.3 327.3h0M582.5 324.8h0M582.7 326.4h0M582.9 322.7h0M583.1 322.7h0M583.3 324.8h0M583.5 329.2h0M583.7 324.1h0M583.9 328.2h0M584.1 338.8h0M584.3 343.2h0M584.5 328.2h0M584.7 330.3h0M584.9 326.4h0M585.1 332.6h0M585.3 324.8h0M585.5 329.2h0M585.7 328.2h0M585.9 331.4h0M586.1 328.2h0M586.3 328.2h0M586.5 328.2h0M586.7 337h0M586.9 333.9h0M587.1 332.6h0M587.3 331.4h0M587.5 331.4h0M587.7 329.2h0M587.9 330.3h0M588.1 328.2h0M588.3 330.3h0M588.5 332.6h0M588.7 338.8h0M588.9 338.8h0M589.1 335.4h0M589.2 332.6h0M589.4 332.6h0M589.6 338.8h0M589.8 333.9h0M590 332.6h0M590.2 328.2h0M590.4 340.8h0M590.6 332.6h0M590.8 330.3h0M591 332.6h0M591.2 322.7h0M591.4 338.8h0M591.6 335.4h0M591.8 332.6h0M592 335.4h0M592.2 329.2h0M592.4 330.3h0M592.6 326.4h0M592.8 333.9h0M593 337h0M593.2 333.9h0M593.4 333.9h0M593.6 328.2h0M593.8 343.2h0M594 333.9h0M594.2 338.8h0M594.4 328.2h0M594.6 338.8h0M595 332.6h0M595.2 327.3h0M595.4 335.4h0M595.6 337h0M595.8 340.8h0M596 346h0M596.2 337h0M596.4 333.9h0M596.6 340.8h0M596.8 340.8h0M597 330.3h0M597.2 332.6h0M597.4 338.8h0M597.6 337h0M597.8 330.3h0M598 335.4h0M598.4 333.9h0M598.6 331.4h0M598.8 332.6h0M599.2 338.8h0M599.4 343.2h0M599.6 333.9h0M599.8 343.2h0M600 343.2h0M600.2 333.9h0M600.4 338.8h0M600.5 337h0M600.7 332.6h0M600.9 335.4h0M601.1 343.2h0M601.3 332.6h0M601.5 338.8h0M601.9 331.4h0M602.1 343.2h0M602.3 338.8h0M602.5 335.4h0M602.7 346h0M602.9 340.8h0M603.1 340.8h0M603.3 340.8h0M603.5 338.8h0M603.7 346h0M603.9 343.2h0M604.1 340.8h0M604.5 343.2h0M604.7 335.4h0M604.9 340.8h0M605.1 335.4h0M605.3 343.2h0M605.5 338.8h0M605.7 329.2h0M605.9 340.8h0M606.3 346h0M606.5 338.8h0M606.7 338.8h0M606.9 332.6h0M607.1 337h0M607.3 332.6h0M607.5 333.9h0M607.7 346h0M607.9 335.4h0M608.1 337h0M608.3 335.4h0M608.5 346h0M608.9 343.2h0M609.1 337h0M609.3 337h0M609.5 338.8h0M609.7 338.8h0M610.1 338.8h0M610.3 343.2h0M610.5 335.4h0M610.7 335.4h0M610.9 346h0M611.1 340.8h0M611.3 338.8h0M611.5 340.8h0M611.7 332.6h0M611.8 343.2h0M612 346h0M612.2 340.8h0M612.4 337h0M612.8 338.8h0M613 337h0M613.2 337h0M613.6 340.8h0M613.8 346h0M614 338.8h0M614.2 346h0M614.4 333.9h0M614.6 332.6h0M614.8 340.8h0M615 346h0M615.2 338.8h0M615.6 343.2h0M615.8 332.6h0M616 335.4h0M616.2 338.8h0M616.4 346h0M616.6 346h0M616.8 338.8h0M617.2 338.8h0M617.4 338.8h0M617.8 337h0M618.8 343.2h0M619 343.2h0M619.4 335.4h0M619.6 333.9h0M619.8 346h0M620 346h0M620.2 346h0M620.4 338.8h0M620.6 346h0M620.8 335.4h0M621 340.8h0M621.6 343.2h0M622 340.8h0M622.2 343.2h0M622.4 343.2h0M622.6 340.8h0M622.8 332.6h0M623 343.2h0M623.1 343.2h0M623.3 340.8h0M623.7 338.8h0M623.9 346h0M624.1 338.8h0M624.5 333.9h0M624.9 340.8h0M625.1 340.8h0M625.3 346h0M625.5 337h0M625.7 338.8h0M626.1 338.8h0M626.3 335.4h0M626.5 337h0M626.9 337h0M627.1 346h0M627.3 333.9h0M627.9 335.4h0M628.1 333.9h0M628.5 337h0M628.9 338.8h0M629.1 335.4h0M629.3 340.8h0M629.7 338.8h0M629.9 329.2h0M630.3 332.6h0M630.5 346h0M630.7 346h0M630.9 337h0M631.1 335.4h0M631.3 332.6h0M631.5 346h0M632.3 346h0M632.5 338.8h0M632.7 346h0M632.9 338.8h0M633.3 346h0M633.5 343.2h0M633.7 343.2h0M633.9 346h0M634.1 338.8h0M634.4 331.4h0M634.6 338.8h0M634.8 331.4h0M635 338.8h0M635.2 333.9h0M635.4 335.4h0M635.6 337h0M636 340.8h0M636.4 340.8h0M636.6 343.2h0M636.8 335.4h0M637 331.4h0M637.2 338.8h0M637.4 338.8h0M637.6 340.8h0M637.8 335.4h0M638 333.9h0M638.2 337h0M638.4 338.8h0M638.6 340.8h0M639 338.8h0M639.2 343.2h0M639.6 338.8h0M639.8 338.8h0M640 340.8h0M640.2 335.4h0M640.4 346h0M640.6 346h0M640.8 343.2h0M641 340.8h0M641.2 343.2h0M641.4 337h0M641.6 338.8h0M641.8 340.8h0M642 338.8h0M642.4 337h0M642.8 346h0M643 340.8h0M643.2 337h0M643.4 346h0M643.6 335.4h0M643.8 343.2h0M644 343.2h0M644.2 338.8h0M644.4 338.8h0M644.6 346h0M644.8 337h0M645.2 343.2h0M645.6 346h0M645.9 330.3h0M646.1 333.9h0M646.3 343.2h0M646.5 337h0M646.7 337h0M646.9 346h0M647.1 346h0M647.3 338.8h0M647.5 346h0M647.7 333.9h0M648.1 346h0M648.3 343.2h0M648.5 337h0M648.9 346h0M649.3 332.6h0M649.5 338.8h0M649.7 340.8h0M649.9 340.8h0M650.1 335.4h0M650.3 343.2h0M650.5 338.8h0M650.7 346h0M650.9 343.2h0M651.1 346h0M651.5 346h0M651.7 346h0M651.9 338.8h0M652.1 337h0M652.3 333.9h0M652.5 343.2h0M652.7 340.8h0M652.9 331.4h0M653.1 343.2h0M653.3 337h0M653.5 340.8h0M653.7 338.8h0M653.9 332.6h0M654.1 337h0M654.3 346h0M654.5 340.8h0M654.7 337h0M654.9 340.8h0M655.1 337h0M655.5 340.8h0M655.7 338.8h0M656.1 335.4h0M656.3 340.8h0M656.5 338.8h0M656.7 338.8h0M656.9 335.4h0M657.1 332.6h0M657.8 340.8h0M658 346h0M658.2 340.8h0M658.4 346h0M658.6 332.6h0M659 343.2h0M659.4 330.3h0M660 343.2h0M660.2 343.2h0M660.4 332.6h0M660.6 335.4h0M660.8 333.9h0M661 337h0M661.2 343.2h0M661.4 340.8h0M661.6 333.9h0M661.8 340.8h0M662 340.8h0M662.2 335.4h0M662.4 338.8h0M662.6 343.2h0M663.2 340.8h0M663.4 343.2h0M663.6 338.8h0M663.8 340.8h0M664 343.2h0M664.2 340.8h0M664.4 346h0M664.6 343.2h0M664.8 337h0M665 338.8h0M665.4 343.2h0M665.6 340.8h0M665.8 335.4h0M666.2 346h0M666.8 346h0M667 337h0M667.2 340.8h0M667.4 338.8h0M667.6 332.6h0M667.8 338.8h0M668 346h0M668.2 343.2h0M668.4 343.2h0M668.5 340.8h0M668.7 338.8h0M668.9 333.9h0M669.1 343.2h0M669.3 337h0M669.5 346h0M669.7 338.8h0M669.9 340.8h0M670.3 346h0M670.5 343.2h0M670.7 331.4h0M670.9 338.8h0M671.1 340.8h0M671.3 337h0M671.5 338.8h0M672.1 331.4h0M672.3 343.2h0M672.5 333.9h0M672.7 343.2h0M672.9 343.2h0M673.1 337h0M673.3 338.8h0M673.5 340.8h0M673.7 343.2h0M673.9 340.8h0M674.5 340.8h0M674.7 343.2h0M675.3 340.8h0M675.5 343.2h0M675.7 340.8h0M675.9 335.4h0M676.1 340.8h0M676.3 340.8h0M676.7 332.6h0M677.1 340.8h0M677.3 338.8h0M677.5 331.4h0M677.7 343.2h0M678.1 343.2h0" stroke="#ee7a2a" stroke-width="1.3" stroke-linecap="round" fill="none"/><path d="M528 251h0M528.2 251.7h0M528.4 251.8h0M528.6 252.2h0M528.8 252.4h0M529 253h0M529.2 253.4h0M529.4 253.3h0M529.6 253.9h0M529.8 253.9h0M530 254.4h0M530.2 254.4h0M530.4 255h0M530.6 255.1h0M530.8 255.4h0M531 255.4h0M531.2 256.3h0M531.4 256.1h0M531.6 256.2h0M531.8 256.4h0M532 257.1h0M532.2 257.6h0M532.4 257.6h0M532.6 257.8h0M532.8 257.8h0M533 258.1h0M533.2 258.9h0M533.4 258.6h0M533.6 258.7h0M533.8 258.7h0M534 259.4h0M534.2 258.7h0M534.4 259.1h0M534.6 260.2h0M534.8 260.3h0M535 259.9h0M535.2 260.4h0M535.4 260.3h0M535.6 260.8h0M535.8 260.8h0M536 261.6h0M536.2 261.5h0M536.4 262.1h0M536.6 262.2h0M536.8 261.3h0M537 262.4h0M537.2 262.6h0M537.3 263h0M537.5 262.8h0M537.7 263.6h0M537.9 263.1h0M538.1 262.9h0M538.3 263.4h0M538.5 263.6h0M538.7 264.8h0M538.9 265h0M539.1 265h0M539.3 264.3h0M539.5 264h0M539.7 264.2h0M539.9 266.1h0M540.1 266.5h0M540.3 265.9h0M540.5 266.3h0M540.7 265.4h0M540.9 266.2h0M541.1 266h0M541.3 266.9h0M541.5 266.6h0M541.7 267.8h0M541.9 267.7h0M542.1 267.5h0M542.3 267.8h0M542.5 268.3h0M542.7 269h0M542.9 268.1h0M543.1 268.2h0M543.3 268.6h0M543.5 270h0M543.7 269.4h0M543.9 270.4h0M544.1 270.4h0M544.3 269.5h0M544.5 270.4h0M544.7 271.2h0M544.9 270.7h0M545.1 270.8h0M545.3 271h0M545.5 270.9h0M545.7 272h0M545.9 271.9h0M546.1 271.4h0M546.3 271.9h0M546.5 271.5h0M546.7 273.1h0M546.9 272.2h0M547.1 273.4h0M547.3 273h0M547.5 273.1h0M547.7 274.1h0M547.9 274.6h0M548.1 274.3h0M548.3 273.8h0M548.5 274.2h0M548.6 275.7h0M548.8 275.5h0M549 275.1h0M549.2 275.4h0M549.4 274h0M549.6 276.3h0M549.8 275h0M550 276.8h0M550.2 276.7h0M550.4 276.5h0M550.6 278.8h0M550.8 277.1h0M551 275.8h0M551.2 276.8h0M551.4 277.8h0M551.6 277.2h0M551.8 278.4h0M552 278h0M552.2 278.6h0M552.4 278.9h0M552.6 279.6h0M552.8 279.5h0M553 280.4h0M553.2 279.5h0M553.4 279.6h0M553.6 279.8h0M553.8 280.4h0M554 280.8h0M554.2 280.1h0M554.4 280h0M554.6 279.3h0M554.8 280.8h0M555 281.3h0M555.2 281.3h0M555.4 283.6h0M555.6 281.8h0M555.8 283.7h0M556 282.1h0M556.2 282.9h0M556.4 283h0M556.6 282h0M556.8 284.1h0M557 282.9h0M557.2 281h0M557.4 283.7h0M557.6 284.8h0M557.8 285.7h0M558 285.7h0M558.2 284.9h0M558.4 284.4h0M558.6 285h0M558.8 284.8h0M559 284h0M559.2 284.3h0M559.4 285.4h0M559.6 288.1h0M559.8 286h0M559.9 287.3h0M560.1 287.1h0M560.3 287.2h0M560.5 286.8h0M560.7 286.3h0M560.9 287.6h0M561.1 286.9h0M561.3 286.2h0M561.5 286.9h0M561.7 288.1h0M561.9 290h0M562.1 287.6h0M562.3 289.4h0M562.5 290.4h0M562.7 289.3h0M562.9 288.3h0M563.1 287.3h0M563.3 288.7h0M563.5 290.7h0M563.7 289.5h0M563.9 291.6h0M564.1 291h0M564.3 290.6h0M564.5 292.8h0M564.7 290.2h0M564.9 292.9h0M565.1 291.1h0M565.3 291.5h0M565.5 290.9h0M565.7 291.5h0M565.9 292.9h0M566.1 293.4h0M566.3 294.2h0M566.5 291h0M566.7 292.1h0M566.9 291.5h0M567.1 293.7h0M567.3 295.6h0M567.5 294.6h0M567.7 293.3h0M567.9 294.8h0M568.1 294.5h0M568.3 293.2h0M568.5 293.4h0M568.7 292.4h0M568.9 296.8h0M569.1 296.8h0M569.3 295.4h0M569.5 297.8h0M569.7 295.9h0M569.9 299h0M570.1 296.9h0M570.3 296.8h0M570.5 296.3h0M570.7 294.5h0M570.9 295.6h0M571.1 297.8h0M571.2 294.4h0M571.4 298.5h0M571.6 301h0M571.8 299.3h0M572 297.2h0M572.2 299.3h0M572.4 299.6h0M572.6 299h0M572.8 298.2h0M573 296.7h0M573.2 297.2h0M573.4 297.8h0M573.6 296.9h0M573.8 297.8h0M574 297.8h0M574.2 296h0M574.4 300.3h0M574.6 302.5h0M574.8 300.8h0M575 300.8h0M575.2 299.7h0M575.4 303.7h0M575.6 304.7h0M575.8 297.4h0M576 300.8h0M576.2 301.8h0M576.4 301.4h0M576.6 297.7h0M576.8 300.5h0M577 300.8h0M577.2 301.3h0M577.4 300.2h0M577.6 302.1h0M577.8 300.6h0M578 297.8h0M578.2 302.5h0M578.4 302.8h0M578.6 302.8h0M578.8 303h0M579 304.7h0M579.2 300.8h0M579.4 302.6h0M579.6 301.6h0M579.8 308.1h0M580 304.5h0M580.2 306.9h0M580.4 305.1h0M580.6 306.9h0M580.8 307.1h0M581 304.3h0M581.2 302.6h0M581.4 304.3h0M581.6 307.1h0M581.8 306.7h0M582 301.6h0M582.2 305.8h0M582.4 304.9h0M582.5 305.5h0M582.7 307.6h0M582.9 308.1h0M583.1 306.2h0M583.3 308.1h0M583.5 311.8h0M583.7 308.9h0M583.9 306h0M584.1 308.9h0M584.3 308.4h0M584.5 304.3h0M584.7 305.8h0M584.9 306.7h0M585.1 310h0M585.3 312.5h0M585.5 308.9h0M585.7 308.9h0M585.9 312.5h0M586.1 308.9h0M586.3 308.4h0M586.5 306.4h0M586.7 308.6h0M586.9 314.3h0M587.1 305.8h0M587.3 310.9h0M587.5 309.4h0M587.7 306.4h0M587.9 310.3h0M588.1 309.2h0M588.3 309.7h0M588.5 311.2h0M588.7 310.6h0M588.9 310.9h0M589.1 311.8h0M589.3 307.9h0M589.5 310h0M589.7 315.1h0M589.9 310.6h0M590.1 312.8h0M590.3 313.5h0M590.5 315.1h0M590.7 312.2h0M590.9 312.2h0M591.1 315.9h0M591.3 315.9h0M591.5 316.3h0M591.7 307.6h0M591.9 310.9h0" stroke="#d8231e" stroke-width="1.3" stroke-linecap="round" fill="none"/><rect x="495.2" y="198.3" width="183" height="148.1" fill="none" stroke="#333" stroke-width="1.1"/><line x1="510.4" y1="346.4" x2="510.4" y2="348" stroke="#333" stroke-width="1"/><line x1="541" y1="346.4" x2="541" y2="348" stroke="#333" stroke-width="1"/><line x1="571.5" y1="346.4" x2="571.5" y2="348" stroke="#333" stroke-width="1"/><line x1="602" y1="346.4" x2="602" y2="348" stroke="#333" stroke-width="1"/><line x1="632.5" y1="346.4" x2="632.5" y2="348" stroke="#333" stroke-width="1"/><line x1="663" y1="346.4" x2="663" y2="348" stroke="#333" stroke-width="1"/><line x1="495.2" y1="346.4" x2="495.2" y2="349.4" stroke="#333" stroke-width="1"/><line x1="525.7" y1="346.4" x2="525.7" y2="349.4" stroke="#333" stroke-width="1"/><line x1="556.2" y1="346.4" x2="556.2" y2="349.4" stroke="#333" stroke-width="1"/><line x1="586.7" y1="346.4" x2="586.7" y2="349.4" stroke="#333" stroke-width="1"/><line x1="617.2" y1="346.4" x2="617.2" y2="349.4" stroke="#333" stroke-width="1"/><line x1="647.7" y1="346.4" x2="647.7" y2="349.4" stroke="#333" stroke-width="1"/><line x1="678.2" y1="346.4" x2="678.2" y2="349.4" stroke="#333" stroke-width="1"/><text font-size="7.8" fill="#222" text-anchor="middle" transform="translate(495.2 358.4) scale(1 1.12)">20</text><text font-size="7.8" fill="#222" text-anchor="middle" transform="translate(525.7 358.4) scale(1 1.12)">30</text><text font-size="7.8" fill="#222" text-anchor="middle" transform="translate(556.2 358.4) scale(1 1.12)">40</text><text font-size="7.8" fill="#222" text-anchor="middle" transform="translate(586.7 358.4) scale(1 1.12)">50</text><text font-size="7.8" fill="#222" text-anchor="middle" transform="translate(617.2 358.4) scale(1 1.12)">60</text><text font-size="7.8" fill="#222" text-anchor="middle" transform="translate(647.7 358.4) scale(1 1.12)">70</text><text font-size="7.8" fill="#222" text-anchor="middle" transform="translate(678.2 358.4) scale(1 1.12)">80</text><line x1="493.6" y1="346" x2="495.2" y2="346" stroke="#333" stroke-width="0.8"/><line x1="493.6" y1="343.2" x2="495.2" y2="343.2" stroke="#333" stroke-width="0.8"/><line x1="493.6" y1="340.8" x2="495.2" y2="340.8" stroke="#333" stroke-width="0.8"/><line x1="493.6" y1="338.8" x2="495.2" y2="338.8" stroke="#333" stroke-width="0.8"/><line x1="493.6" y1="337" x2="495.2" y2="337" stroke="#333" stroke-width="0.8"/><line x1="492.2" y1="335.4" x2="495.2" y2="335.4" stroke="#333" stroke-width="1"/><text font-size="6.8" fill="#222" text-anchor="end" transform="translate(486.5 338.4) scale(1 1.22)">10</text><text font-size="5.0" fill="#222" transform="translate(487.5 334.8) scale(1 1.2)">1</text><line x1="493.6" y1="324.8" x2="495.2" y2="324.8" stroke="#333" stroke-width="0.8"/><line x1="493.6" y1="318.7" x2="495.2" y2="318.7" stroke="#333" stroke-width="0.8"/><line x1="493.6" y1="314.3" x2="495.2" y2="314.3" stroke="#333" stroke-width="0.8"/><line x1="493.6" y1="310.9" x2="495.2" y2="310.9" stroke="#333" stroke-width="0.8"/><line x1="493.6" y1="308.1" x2="495.2" y2="308.1" stroke="#333" stroke-width="0.8"/><line x1="493.6" y1="305.8" x2="495.2" y2="305.8" stroke="#333" stroke-width="0.8"/><line x1="493.6" y1="303.7" x2="495.2" y2="303.7" stroke="#333" stroke-width="0.8"/><line x1="493.6" y1="301.9" x2="495.2" y2="301.9" stroke="#333" stroke-width="0.8"/><line x1="492.2" y1="300.3" x2="495.2" y2="300.3" stroke="#333" stroke-width="1"/><text font-size="6.8" fill="#222" text-anchor="end" transform="translate(486.5 303.3) scale(1 1.22)">10</text><text font-size="5.0" fill="#222" transform="translate(487.5 299.7) scale(1 1.2)">2</text><line x1="493.6" y1="289.8" x2="495.2" y2="289.8" stroke="#333" stroke-width="0.8"/><line x1="493.6" y1="283.6" x2="495.2" y2="283.6" stroke="#333" stroke-width="0.8"/><line x1="493.6" y1="279.2" x2="495.2" y2="279.2" stroke="#333" stroke-width="0.8"/><line x1="493.6" y1="275.8" x2="495.2" y2="275.8" stroke="#333" stroke-width="0.8"/><line x1="493.6" y1="273" x2="495.2" y2="273" stroke="#333" stroke-width="0.8"/><line x1="493.6" y1="270.7" x2="495.2" y2="270.7" stroke="#333" stroke-width="0.8"/><line x1="493.6" y1="268.7" x2="495.2" y2="268.7" stroke="#333" stroke-width="0.8"/><line x1="493.6" y1="266.9" x2="495.2" y2="266.9" stroke="#333" stroke-width="0.8"/><line x1="492.2" y1="265.3" x2="495.2" y2="265.3" stroke="#333" stroke-width="1"/><text font-size="6.8" fill="#222" text-anchor="end" transform="translate(486.5 268.2) scale(1 1.22)">10</text><text font-size="5.0" fill="#222" transform="translate(487.5 264.7) scale(1 1.2)">3</text><line x1="493.6" y1="254.7" x2="495.2" y2="254.7" stroke="#333" stroke-width="0.8"/><line x1="493.6" y1="248.5" x2="495.2" y2="248.5" stroke="#333" stroke-width="0.8"/><line x1="493.6" y1="244.2" x2="495.2" y2="244.2" stroke="#333" stroke-width="0.8"/><line x1="493.6" y1="240.8" x2="495.2" y2="240.8" stroke="#333" stroke-width="0.8"/><line x1="493.6" y1="238" x2="495.2" y2="238" stroke="#333" stroke-width="0.8"/><line x1="493.6" y1="235.6" x2="495.2" y2="235.6" stroke="#333" stroke-width="0.8"/><line x1="493.6" y1="233.6" x2="495.2" y2="233.6" stroke="#333" stroke-width="0.8"/><line x1="493.6" y1="231.8" x2="495.2" y2="231.8" stroke="#333" stroke-width="0.8"/><line x1="492.2" y1="230.2" x2="495.2" y2="230.2" stroke="#333" stroke-width="1"/><text font-size="6.8" fill="#222" text-anchor="end" transform="translate(486.5 233.2) scale(1 1.22)">10</text><text font-size="5.0" fill="#222" transform="translate(487.5 229.6) scale(1 1.2)">4</text><line x1="493.6" y1="219.6" x2="495.2" y2="219.6" stroke="#333" stroke-width="0.8"/><line x1="493.6" y1="213.5" x2="495.2" y2="213.5" stroke="#333" stroke-width="0.8"/><line x1="493.6" y1="209.1" x2="495.2" y2="209.1" stroke="#333" stroke-width="0.8"/><line x1="493.6" y1="205.7" x2="495.2" y2="205.7" stroke="#333" stroke-width="0.8"/><line x1="493.6" y1="202.9" x2="495.2" y2="202.9" stroke="#333" stroke-width="0.8"/><line x1="493.6" y1="200.6" x2="495.2" y2="200.6" stroke="#333" stroke-width="0.8"/><line x1="493.6" y1="198.5" x2="495.2" y2="198.5" stroke="#333" stroke-width="0.8"/><text font-size="9.8" fill="#222" text-anchor="middle" transform="translate(474.6 272.4) rotate(-90)">Fluorescence intensity</text><text font-size="9.8" fill="#222" text-anchor="middle" transform="translate(586.7 372.1) scale(1 1.12)">Time (ns)</text><text font-size="15.2" fill="#000" font-weight="bold" font-style="italic" transform="translate(467.4 198.5) scale(1 1.0)">F</text><rect x="640.1" y="198.8" width="38.8" height="74" fill="#fff" stroke="#b8b8b8" stroke-width="0.7"/><circle cx="644.2" cy="202.5" r="1.4" fill="#000"/><text font-size="5.62" fill="#222" transform="translate(649.2 204.8) scale(1 1.12)">Prompt</text><circle cx="644.2" cy="209.2" r="1.4" fill="#e02020"/><text font-size="5.62" fill="#222" transform="translate(649.2 211.4) scale(1 1.12)">RAFT1-99</text><line x1="640.8" y1="215.9" x2="647.6" y2="215.9" stroke="#111" stroke-width="1.1"/><text font-size="5.62" fill="#222" transform="translate(649.2 218.1) scale(1 1.12)">Fit</text><circle cx="644.2" cy="222.5" r="1.4" fill="#f07a30"/><text font-size="5.62" fill="#222" transform="translate(649.2 224.8) scale(1 1.12)">RAFT10-90</text><line x1="640.8" y1="229.2" x2="647.6" y2="229.2" stroke="#444" stroke-width="1.1"/><text font-size="5.62" fill="#222" transform="translate(649.2 231.5) scale(1 1.12)">Fit</text><circle cx="644.2" cy="235.9" r="1.4" fill="#50b840"/><text font-size="5.62" fill="#222" transform="translate(649.2 238.2) scale(1 1.12)">RAFT20-80</text><line x1="640.8" y1="242.6" x2="647.6" y2="242.6" stroke="#111" stroke-width="1.1"/><text font-size="5.62" fill="#222" transform="translate(649.2 244.8) scale(1 1.12)">Fit</text><circle cx="644.2" cy="249.3" r="1.4" fill="#3a78c8"/><text font-size="5.62" fill="#222" transform="translate(649.2 251.5) scale(1 1.12)">RAFT50-50</text><line x1="640.8" y1="255.9" x2="647.6" y2="255.9" stroke="#444" stroke-width="1.1"/><text font-size="5.62" fill="#222" transform="translate(649.2 258.2) scale(1 1.12)">Fit</text><circle cx="644.2" cy="262.6" r="1.4" fill="#8a40b8"/><text font-size="5.62" fill="#222" transform="translate(649.2 264.9) scale(1 1.12)">RAFT75-25</text><line x1="640.8" y1="269.3" x2="647.6" y2="269.3" stroke="#111" stroke-width="1.1"/><text font-size="5.62" fill="#222" transform="translate(649.2 271.6) scale(1 1.12)">Fit</text><line x1="495.2" y1="198.3" x2="678.2" y2="198.3" stroke="#333" stroke-width="1.1"/><line x1="678.2" y1="198.3" x2="678.2" y2="346.4" stroke="#333" stroke-width="1.1"/></svg></body></html>
